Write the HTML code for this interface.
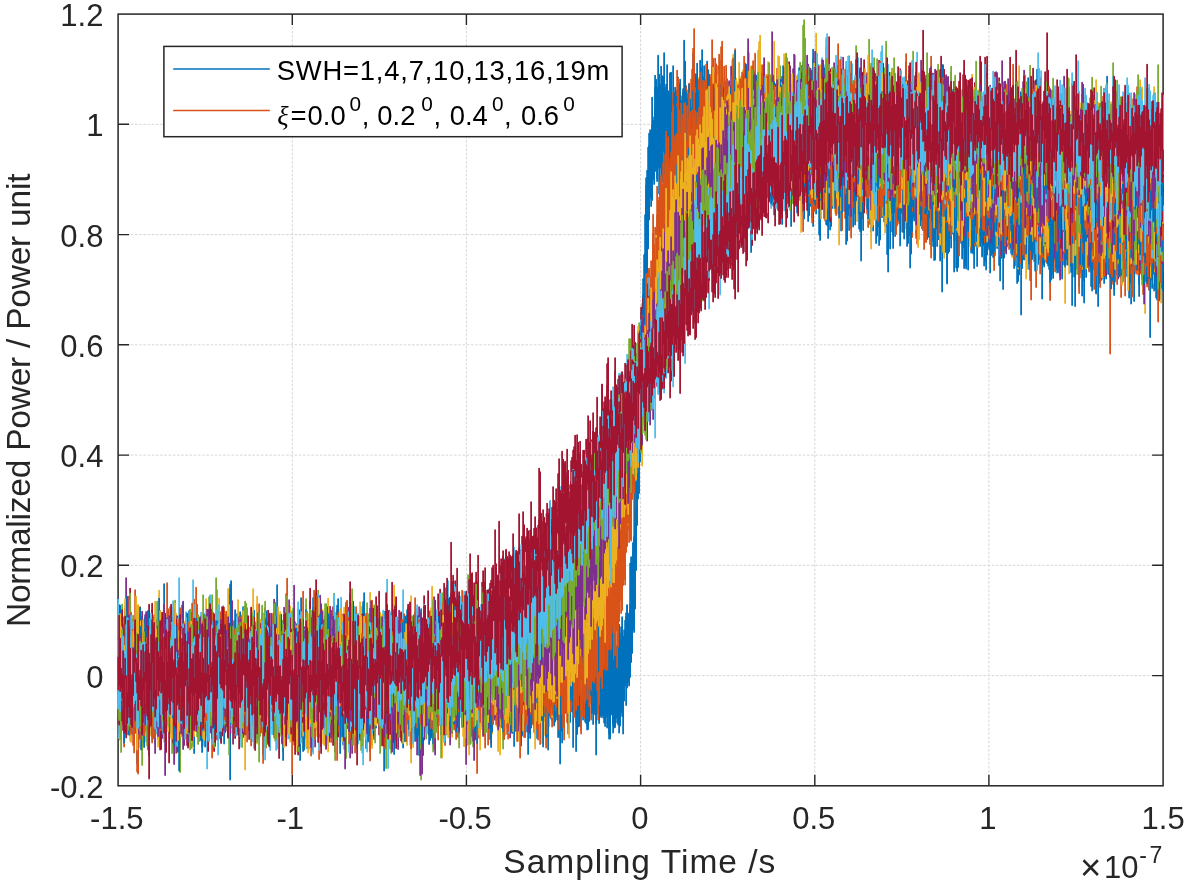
<!DOCTYPE html>
<html lang="en"><head><meta charset="utf-8"><title>Normalized Power vs Sampling Time</title>
<style>html,body{margin:0;padding:0;background:#fff}body{width:1187px;height:885px;overflow:hidden}</style></head>
<body>
<svg width="1187" height="885" viewBox="0 0 1187 885" style="display:block;font-family:'Liberation Sans',sans-serif">
<rect width="1187" height="885" fill="#fff"/>
<path d="M292.3 14.1 V785.8 M466.4 14.1 V785.8 M640.6 14.1 V785.8 M814.8 14.1 V785.8 M988.9 14.1 V785.8 M118.1 675.6 H1163.1 M118.1 565.3 H1163.1 M118.1 455.1 H1163.1 M118.1 344.8 H1163.1 M118.1 234.6 H1163.1 M118.1 124.3 H1163.1" stroke="#d6d6d6" stroke-width="1" stroke-dasharray="2.6 1.6" fill="none"/>
<path d="M292.3 785.8 v-11 M292.3 14.1 v11 M466.4 785.8 v-11 M466.4 14.1 v11 M640.6 785.8 v-11 M640.6 14.1 v11 M814.8 785.8 v-11 M814.8 14.1 v11 M988.9 785.8 v-11 M988.9 14.1 v11 M118.1 675.6 h11 M1163.1 675.6 h-11 M118.1 565.3 h11 M1163.1 565.3 h-11 M118.1 455.1 h11 M1163.1 455.1 h-11 M118.1 344.8 h11 M1163.1 344.8 h-11 M118.1 234.6 h11 M1163.1 234.6 h-11 M118.1 124.3 h11 M1163.1 124.3 h-11" stroke="#262626" stroke-width="1.4" fill="none"/>
<rect x="118.1" y="14.1" width="1045.0" height="771.7" fill="none" stroke="#262626" stroke-width="1.5"/>
<clipPath id="cp"><rect x="117.3" y="14.1" width="1046.6" height="771.7"/></clipPath>
<g clip-path="url(#cp)"><g fill="none" stroke-width="3.50"  stroke-linecap="round" transform="translate(118.1 14.1) scale(0.5)">
<path stroke="#0072BD" d="M0 1318v47m2 65v-65m2-20v45m2-19v-50m2-44v44m2 37v-136m2 13v146m2-94v-39m2 2v68m2 99v-132m2-46v202m2-82v-63m2 55v39m2-5v-119m2-6v150m2-89v-24m2-75v143m2 7v-131m2 31v112m2-4v-86m2 27v69m2-11v-132m2 35v103m2 21v-144m2 15v64m2-3v-58m2 14v45m2 26v-84m2-23v88m2 20v-170m2 96v141m2-42v-45m2-10v63m2-53v-81m2 27v41m2 2v-54m2-20v108m2-39v-35m2-59v168m2-19v-116m2-35v78m2 33v-137m2 112v80m2-57v-33m2 0v86m2-44v-111m2 29v149m2 7v-153m2-41v136m2 17v-88m2-52v148m2 15v-100m2-43v159m2-101v-23m2 7v78m2-24v-78m2 7v38m2 4v-96m2 60v157m2-15v-159m2-65v260m2-79v-165m2 65v89m2-22v-126m2 23v84m2 10v-87m2 17v116m2-32v-80m2-43v120m2-29v-36m2 0v102m2 12v-219m2 76v136m2-46v-46m2-71v152m2 26v-168m2 35v190m2-127v-88m2 10v64m2 36v-133m2 28v96m2 36v-98m2 11v54m2 23v-61m2-17v57m2-8v-58m2 13v94m2-75v-94m2 76v69m2-19v-47m2-14v51m2 67v-170m2 60v40m2 26v-143m2 18v54m2 89v-137m2 12v123m2-15v-144m2-4v138m2 19v-38m2-58v63m2-45v-76m2 48v68m2 102v-139m2-39v124m2 0v-71m2-45v175m2-63v-86m2-39v100m2 5v-70m2-44v86m2 7v-87m2-24v287m2-190v-136m2 78v50m2 30v-101m2 14v138m2-18v-156m2-14v123m2-15v-87m2 57v67m2 1v-88m2 2v105m2-20v-83m2 0v122m2-7v-123m2-54v150m2-23v-138m2 22v84m2 45v-82m2-25v95m2 47v-132m2-14v191m2-80v-54m2-116v195m2-111v-79m2 79v72m2 33v-75m2 15v85m2-21v-157m2 64v111m2-71v-88m2 19v37m2 59v-115m2-4v82m2 49v-71m2 30v72m2-30v-90m2-92v207m2-47v-62m2 16v97m2-62v-37m2-29v179m2-77v-110m2 7v92m2-54v-47m2 13v112m2-7v-82m2-45v78m2 0v-69m2-8v69m2-29v-20m2-5v79m2 25v-69m2-16v146m2-41v-164m2-6v80m2 70v-150m2 70v126m2 15v-158m2-6v129m2 0v-106m2 8v80m2-20v-72m2-15v121m2 6v-149m2 15v92m2-3v-71m2 27v98m2 1v-90m2-38v113m2-7v-72m2-42v108m2-3v-72m2-30v121m2-3v-92m2 1v50m2 67v-118m2 50v49m2 31v-173m2 22v72m2-22v-51m2-57v111m2 42v-57m2-73v89m2-17v-138m2 60v142m2-14v-109m2 47v80m2 13v-133m2 39v98m2-40v-94m2 14v57m2-10v-95m2 53v89m2 23v-103m2-26v51m2 44v-59m2-92v108m2 60v-145m2 67v110m2-46v-62m2-24v82m2-3v-176m2 56v121m2-55v-81m2 62v55m2 72v-115m2-54v170m2-18v-146m2-90v153m2 45v-77m2-2v84m2-2v-86m2-5v68m2 0v-56m2 29v92m2-78v-65m2-90v175m2 73v-113m2-19v50m2 11v-63m2-2v50m2-5v-61m2 14v131m2-4v-116m2-46v150m2-45v-93m2-12v52m2 154v-233m2 24v117m2 62v-179m2 59v135m2-53v-170m2 6v128m2 45v-99m2-80v129m2 51v-88m2-96v249m2-12v-81m2-102v163m2 13v-182m2 1v58m2 19v-90m2 21v87m2 46v-109m2-37v90m2 19v-92m2 22v63m2-30v-36m2-36v109m2-8v-105m2-16v173m2-50v-68m2 10v32m2-27v-70m2 14v74m2 49v-100m2 30v91m2-54v-58m2-21v69m2 99v-118m2 8v48m2 48v-171m2 68v35m2-15v-69m2 11v121m2-20v-76m2-1v73m2-61v-16m2 4v55m2-2v-38m2 3v66m2-17v-33m2-35v84m2 19v-96m2-31v43m2 65v-165m2 57v101m2-26v-163m2 5v197m2 0v-156m2-62v139m2 37v-87m2 12v67m2 94v-131m2-60v64m2 48v-109m2 30v86m2 10v-127m2 101v57m2-50v-49m2 10v109m2-16v-122m2-10v69m2-6v-47m2-28v97m2 55v-190m2 49v44m2-15v-57m2 31v108m2 5v-75m2 12v98m2-65v-57m2-66v127m2 50v-115m2-23v178m2-61v-93m2-4v118m2-62v-114m2 13v78m2 48v-164m2-6v112m2 58v-109m2 33v62m2 6v-105m2-13v71m2 132v-138m2-73v123m2-4v-77m2 18v76m2-54v-123m2 56v113m2 14v-84m2-42v56m2 8v-84m2-42v124m2 58v-105m2-4v56m2-4v-56m2 10v103m2-46v-78m2 47v77m2 22v-106m2-25v121m2 23v-105m2-31v73m2 7v-67m2-31v90m2 21v-120m2 50v155m2-66v-41m2-41v48m2-17v-54m2 17v116m2-81v-69m2-3v120m2 50v-169m2 38v112m2-24v-103m2 10v107m2 8v-122m2-51v136m2-24v-46m2-68v114m2-37v-61m2 20v59m2 20v-56m2-30v84m2-11v-177m2 103v65m2 65v-69m2-58v98m2 61v-127m2 17v48m2-17v-157m2-1v179m2-37v-44m2-16v107m2 8v-148m2 46v119m2-1v-42m2-113v134m2 32v-83m2-5v91m2-25v-45m2-48v89m2 3v-111m2 25v65m2 26v-72m2-108v117m2 74v-198m2 42v86m2 23v-36m2-69v151m2-47v-133m2-108v294m2-25v-83m2-72v196m2-99v-87m2 18v133m2-118v-40m2 27v83m2 6v-49m2-43v92m2-26v-87m2 14v116m2-1v-80m2-35v123m2 3v-127m2 11v121m2 8v-101m2-57v209m2-31v-131m2 14v117m2 2v-142m2-11v75m2-12v-82m2 35v102m2-1v-154m2 29v144m2-4v-214m2 3v155m2 0v-123m2 77v88m2-2v-106m2 7v43m2 59v-85m2-19v67m2 39v-91m2-42v131m2-43v-105m2 30v133m2-23v-74m2 36v61m2-50v-47m2-19v55m2 42v-94m2-31v126m2 12v-135m2 22v36m2 45v-45m2-22v35m2 3v-23m2-33v43m2 86v-119m2-139v205m2 45v-190m2 55v93m2 26v-171m2 70v76m2 17v-95m2 31v86m2-1v-56m2-111v143m2 14v-134m2-71v164m2-8v-46m2-16v52m2 45v-138m2 52v80m2 26v-99m2-17v68m2 23v-118m2 39v100m2-2v-111m2 16v89m2-30v-126m2 68v116m2 24v-126m2-31v69m2 7v-35m2-136v182m2-5v-67m2-18v105m2-10v-56m2-43v79m2-30v-106m2 42v229m2-148v-153m2-47v203m2 76v-164m2-17v141m2-13v-109m2 10v98m2 25v-145m2 36v83m2 16v-145m2 40v134m2-22v-104m2-28v125m2 76v-198m2 20v178m2-124v-73m2 10v31m2 23v-35m2 12v100m2 15v-148m2 46v93m2-70v-35m2-132v176m2 25v-142m2 37v134m2-20v-133m2 51v114m2 35v-170m2 1v58m2-9v-58m2 2v66m2-13v-66m2-21v74m2 29v-127m2-24v104m2-43v-51m2-64v118m2-15v-67m2-108v181m2-131v-122m2 19v110m2-110v-63m2-106v136m2-79v-59m2-24v78m2-48v-112m2-79v87m2-87v-116m2-1v54m2-12v-91m2-137v137m2 46v-70m2-117v130m2-130v-100m2 11v36m2 48v-99m2-68v121m2 11v-73m2 49v38m2-38v-81m2 45v42m2 53v-187m2 22v136m2 3v-131m2-31v106m2-2v-109m2 80v115m2-12v-125m2-50v101m2-50v-52m2-7v136m2-71v-52m2 13v120m2-20v-84m2-65v120m2 25v-106m2 55v75m2 9v-95m2 6v86m2-45v-71m2-24v119m2-20v-42m2-34v91m2-16v-111m2 17v96m2 7v-50m2 21v58m2-53v-40m2-44v71m2 66v-183m2 38v113m2 66v-95m2-28v130m2-16v-174m2 50v112m2 45v-142m2-9v87m2-31v-172m2 26v146m2 31v-76m2-2v61m2 38v-93m2-53v53m2 66v-133m2 76v52m2-26v-63m2 11v112m2-52v-107m2 37v141m2-42v-121m2 95v56m2-44v-58m2-9v88m2-59v-49m2 20v102m2 13v-68m2-40v153m2-12v-86m2-14v79m2 30v-151m2-49v107m2 36v-126m2 83v41m2-25v-61m2 49v62m2-1v-137m2 44v96m2-56v-135m2 42v109m2 32v-90m2-25v124m2 6v-140m2 36v107m2 63v-170m2-34v41m2 45v-73m2 11v101m2 2v-86m2-5v92m2 41v-145m2-22v164m2-11v-97m2-98v169m2-29v-112m2 48v44m2-44v-40m2 11v163m2-64v-78m2 21v83m2-4v-150m2 39v86m2 43v-121m2 16v54m2 50v-237m2 141v117m2-38v-97m2-60v118m2 38v-145m2 121v43m2-1v-70m2-15v43m2 66v-108m2 30v81m2 12v-79m2-89v92m2-16v-120m2-6v209m2-1v-123m2-2v99m2-15v-142m2 56v61m2 5v-62m2 16v54m2 6v-75m2-50v104m2-6v-82m2-24v145m2 48v-138m2-6v162m2-8v-166m2 49v71m2-30v-79m2 13v62m2-30v-44m2-17v79m2 8v-123m2 3v197m2-62v-37m2-139v150m2 11v-130m2 46v173m2-59v-114m2 0v72m2 59v-181m2 45v130m2-16v-104m2 30v74m2 43v-74m2-39v115m2-94v-63m2 63v99m2 13v-148m2-6v64m2 54v-134m2 6v123m2-54v-49m2-150v292m2-3v-163m2-10v190m2-47v-144m2 50v85m2-47v-66m2 45v78m2 33v-107m2-31v65m2 39v-49m2 32v62m2 17v-211m2-6v104m2 77v-83m2-9v103m2-39v-132m2 13v44m2 156v-178m2 39v150m2-98v-58m2-22v116m2-29v-146m2 56v99m2-28v-65m2-34v177m2 2v-84m2-60v170m2-39v-141m2 14v76m2-32v-126m2-16v110m2 27v-110m2 71v83m2 11v-92m2-5v119m2-26v-119m2-10v142m2-18v-164m2 46v119m2 65v-155m2-58v206m2-87v-79m2-4v112m2-18v-82m2 34v55m2-21v-49m2-30v73m2 102v-206m2 0v54m2 89v-131m2-30v156m2-5v-54m2-22v49m2 38v-83m2-104v184m2-32v-75m2-2v74m2 68v-105m2-22v81m2 7v-112m2 23v133m2-13v-63m2-48v56m2 9v-63m2 19v29m2 15v-55m2-16v105m2-26v-183m2 183v66m2 15v-180m2-27v174m2 31v-200m2 67v83m2-8v-81m2-22v186m2-28v-96m2 28v63m2-19v-101m2-98v158m2 0v-159m2 129v71m2-20v-75m2-49v153m2 7v-54m2-52v107m2 57v-182m2 32v185m2-124v-113m2-14v205m2-104v-63m2-35v114m2 18v-120m2 76v22m2 0v-69m2-1v27m2 4v-33m2-16v125m2-46v-140m2 28v83m2-16v-43m2-50v104m2 75v-133m2 20v153m2-48v-73m2-22v67m2-22v-29m2-44v90m2 74v-102m2-47v214m2-93v-57m2-40v85m2-5v-64m2-47v118m2-14v-76m2 23v102m2-62v-72m2-10v48m2 77v-80m2-40v111m2 1v-81m2-3v63m2 24v-135m2 51v91m2 17v-78m2 2v92m2-8v-159m2-53v176m2-49v-54m2-27v179m2-46v-45m2-95v179m2-46v-108m2-39v123m2-14v-108m2 68v91m2-9v-73m2-34v146m2 0v-145m2-3v191m2-101v-78m2-9v250m2-188v-65m2 28v110m2 36v-162m2 61v76m2 85v-315m2 134v67m2-46v-18m2 2v87m2 20v-88m2-105v165m2-27v-115m2 7v97m2 27v-50m2-88v161m2 63v-211m2 43v160m2-39v-188m2 73v36m2 20v-60m2-52v193m2-51v-90m2-19v179m2-5v-122m2-98v130m2 17v-134m2 6v209m2-99v-102m2 2v108m2 57v-186m2-10v189m2 9v-183m2-14v126m2 19v-60m2-2v77m2 62v-187m2 49v42m2 4v-65m2-25v102m2-46v-44m2-20v113m2-8v-101m2-45v230m2-10v-154m2 0v65m2 26v-26m2-73v134m2-5v-140m2-13v140m2 34v-97m2-11v65m2-19v-129m2-77v250m2-97v-112m2 80v86m2 48v-78m2-23v94m2 41v-129m2 3v157m2-45v-98m2-26v44m2 142v-207m2-22v166m2-46v-59m2-20v52m2 12v-74m2-52v160m2-23v-45m2 4v70m2 12v-74m2-77v143m2-37v-103m2-13v128m2-34v-36m2-9v113m2 59v-124m2-47v167m2-13v-168m2-21v103m2 166v-217m2-10v134m2-18v-113m2 4v110m2-64v-106m2 28v129m2-11v-107m2 1v132m2 17v-128m2 6v64m2-18v-35m2 35v36m2-1v-28m2-94v137m2-15v-76m2 62v59m2-5v-48m2-85v124m2-9v-108m2-16v68m2-14v-54m2 54v148m2-69v-70m2-175v250m2-81v-88m2 18v101m2-57v-100m2 34v118m2 60v-158m2-38v211m2-27v-180m2 18v167m2 25v-116m2-35v89m2-46v-92m2-15v165m2 33v-120m2-18v97m2-76v-35m2 25v139m2-51v-89m2 68v78m2-51v-54m2 5v36m2-8v-42m2-10v34m2 33v-139m2 94v72m2-36v-32m2-23v40m2 39v-102m2 10v62m2 25v-123m2 34v132m2 59v-124m2-99v148m2-40v-74m2 30v52m2-2v-60m2-109v188m2-3v-76m2 24v124m2-50v-49m2-92v93m2 33v-124m2 33v119m2-72v-34m2 32v39m2 21v-93m2 0v88m2 7v-43m2-69v126m2-18v-219m2 110v85m2 38v-80m2-28v74m2 17v-85m2 58v104m2-68v-56m2-6v62m2 16v-100m2-79v149m2 20v-144m2-55v215m2-40v-165m2 91v105m2-21v-51m2-3v66m2-5v-77m2 6v77m2-22v-69m2-54v96m2 64v-157m2 55v72m2 23v-168m2 23v79m2 37v-37m2-20v41m2-11v-57m2 27v65m2 19v-75m2-16v92m2-44v-84m2 46v33m2 33v-69m2-12v76m2-24v-62m2-14v68m2 92v-173m2-36v179m2 42v-72m2-33v68m2-51v-37m2-120v240m2-68v-100m2-19v109m2-6v-103m2 33v72m2 72v-181m2 70v28m2 29v-79m2 36v63m2-24v-61m2-8v99m2-9v-130m2 7v96m2 22v-38m2-5v53m2 19v-102m2-22v219m2-115v-74m2-62v93m2 17v-122m2 98v72m2-18v-61m2-66v142m2 21v-124m2 20v72m2 34v-116m2-1v104m2 10v-138m2-44v165m2-51v-43"/>
<path stroke="#D95319" d="M0 1342v58m2-41v-43m2 9v75m2 49v-181m2-29v104m2 31v-132m2-17v240m2-76v-117m2 51v111m2-31v-150m2 27v105m2-6v-59m2-53v86m2 32v-150m2 51v107m2-8v-57m2 9v77m2-25v-91m2-38v70m2 11v-83m2-19v147m2-19v-153m2-28v218m2-16v-120m2 22v59m2 0v-31m2-16v71m2 36v-129m2 54v80m2-55v-41m2-27v70m2 1v-99m2 33v42m2 59v-114m2 18v106m2 32v-157m2 7v160m2-142v-22m2-49v166m2-43v-101m2-32v202m2-109v-68m2-2v137m2-9v-87m2-12v74m2 14v-49m2-71v95m2 5v-56m2 17v83m2 30v-208m2-22v234m2-64v-89m2-23v99m2 91v-127m2-70v70m2 55v-110m2 47v42m2 30v-66m2 13v97m2-50v-149m2 51v183m2-27v-116m2-36v86m2 15v-91m2-46v109m2 29v-115m2-7v70m2 69v-120m2 17v105m2-12v-51m2-95v106m2 32v-125m2 45v84m2-16v-102m2-64v107m2 59v-168m2 73v108m2-14v-112m2 19v26m2 56v-130m2 125v61m2-18v-150m2-2v156m2 22v-84m2-17v150m2-75v-81m2-75v103m2 27v-84m2-7v121m2-2v-145m2-3v155m2 1v-144m2 46v122m2-12v-120m2 14v181m2-93v-105m2-46v123m2 0v-74m2-14v83m2-16v-91m2 66v52m2-21v-43m2-65v153m2 23v-192m2 1v100m2 0v-124m2-17v235m2-5v-137m2-23v98m2 49v-100m2-93v122m2-12v-88m2 80v96m2-46v-86m2-18v121m2-40v-65m2 22v65m2-32v-79m2 79v82m2-45v-146m2 40v67m2 2v-67m2-21v107m2 58v-137m2 67v37m2-2v-48m2-78v112m2 45v-112m2-40v40m2 67v-92m2 33v104m2-20v-156m2 62v65m2-4v-56m2-79v205m2-3v-108m2-28v137m2-126v-26m2 26v24m2-2v-133m2 79v105m2-23v-162m2 51v183m2-49v-124m2 42v102m2 10v-130m2 79v93m2-93v-98m2 21v71m2 94v-94m2-71v179m2-87v-25m2-23v50m2 7v-122m2 42v27m2 12v-63m2-7v145m2 21v-56m2-88v141m2-63v-68m2-42v94m2 17v-36m2-28v73m2 15v-108m2 26v86m2-46v-71m2 22v43m2-8v-30m2-136v137m2 50v-218m2 129v124m2 43v-115m2-69v176m2-73v-92m2 43v225m2-160v-100m2 35v106m2-42v-104m2 26v40m2 32v-84m2 70v63m2-35v-140m2 73v67m2 1v-59m2-34v100m2-18v-202m2 119v69m2-22v-79m2-25v123m2 35v-72m2-73v86m2 104v-198m2 58v149m2-140v-38m2 38v111m2-40v-133m2 27v121m2-71v-65m2-5v133m2 33v-171m2-23v212m2-43v-123m2-33v119m2-20v-54m2-32v93m2-5v-81m2 39v98m2 20v-169m2 107v55m2 20v-116m2 30v137m2-24v-98m2-133v221m2-25v-189m2 31v167m2-88v-69m2-20v100m2 102v-151m2 3v44m2 161v-215m2-80v130m2 33v-100m2 54v92m2 3v-100m2 2v84m2-59v-136m2 12v161m2-4v-147m2-32v177m2-42v-36m2-4v88m2-11v-103m2-1v64m2 98v-98m2 4v90m2-68v-78m2 5v51m2 151v-203m2 12v116m2-26v-126m2-50v160m2 7v-91m2 41v84m2-84v-35m2-17v95m2 51v-51m2-82v143m2-69v-117m2 27v52m2 28v-44m2 14v73m2-23v-105m2 46v59m2 24v-58m2-67v87m2-2v-35m2 24v36m2-1v-33m2-27v64m2-20v-42m2-5v24m2 42v-79m2 3v93m2 8v-108m2-15v78m2-9v-92m2 44v115m2-60v-81m2-26v150m2-71v-94m2 41v55m2 69v-124m2-42v95m2 78v-123m2-28v117m2-8v-178m2 69v43m2-43v-63m2 59v161m2-10v-108m2-37v164m2-4v-79m2-41v88m2 14v-198m2 40v164m2-65v-54m2 11v114m2-21v-116m2 12v93m2-34v-54m2-64v196m2 6v-165m2-72v137m2 58v-101m2 5v113m2 11v-76m2 14v34m2 36v-163m2 14v139m2-46v-75m2-41v125m2-2v-60m2-90v173m2 118v-252m2-3v76m2 61v-88m2-64v147m2-43v-66m2-6v126m2-48v-93m2-24v74m2 51v-51m2 10v81m2-80v-41m2 41v78m2-10v-148m2-11v114m2 54v-178m2 68v77m2 61v-188m2 69v92m2-34v-74m2 0v94m2 40v-170m2-1v99m2-3v-118m2 61v42m2 43v-121m2 40v66m2 9v-74m2-14v82m2 0v-109m2-19v165m2-17v-103m2-55v162m2-11v-122m2 53v124m2-104v-39m2 24v138m2-95v-131m2 82v46m2-18v-19m2-44v44m2-8v-27m2-127v267m2-3v-76m2-39v87m2-87v-63m2-4v96m2 83v-125m2 20v97m2-97v-143m2 90v36m2 122v-197m2 64v120m2-66v-104m2 87v33m2 64v-161m2-7v132m2 139v-211m2 2v97m2 6v-105m2 23v52m2 25v-126m2-6v91m2-30v-144m2 31v168m2 52v-179m2 22v122m2 1v-168m2-64v284m2-109v-134m2 78v70m2 10v-89m2-4v78m2 1v-98m2-1v86m2 16v-90m2 1v102m2-7v-100m2-1v66m2 20v-114m2 78v41m2 23v-170m2 12v104m2 121v-161m2 44v38m2 5v-103m2 36v64m2-35v-65m2 29v146m2-30v-153m2 20v99m2-38v-94m2-48v118m2 52v-85m2-51v97m2 27v-144m2 92v50m2-18v-31m2 14v57m2-13v-124m2 68v97m2-40v-124m2-90v140m2 35v-76m2 5v185m2-33v-136m2-13v71m2 41v-70m2-69v103m2 73v-109m2-53v107m2 52v-231m2 53v123m2 26v-106m2-14v143m2-65v-117m2 82v113m2-40v-60m2-93v109m2 3v-85m2 15v132m2-17v-126m2-22v170m2-37v-71m2-84v110m2 4v-131m2 78v98m2 2v-37m2-98v151m2-11v-160m2 38v50m2 16v-78m2 56v69m2-9v-133m2 57v104m2 13v-114m2 6v88m2 15v-97m2-9v121m2-37v-96m2 11v55m2 14v-104m2 21v85m2 9v-99m2-5v126m2-29v-63m2-18v116m2 20v-173m2 90v75m2-36v-102m2 61v35m2-35v-128m2-9v196m2-11v-130m2 8v69m2 43v-43m2-43v71m2 19v-58m2-14v96m2-32v-30m2-70v103m2-35v-73m2-13v152m2-22v-154m2 29v118m2-22v-73m2 4v28m2 68v-87m2-15v43m2 10v-66m2 50v45m2 56v-90m2-126v170m2-27v-162m2 95v127m2 0v-175m2-12v114m2 52v-75m2-57v57m2-47v-60m2 15v42m2 89v-103m2-19v171m2-25v-79m2-34v60m2 33v-259m2 61v111m2 25v-169m2 85v81m2-24v-87m2-41v41m2 48v-59m2-16v147m2-61v-85m2 20v52m2 62v-85m2-114v114m2-41v-67m2-49v150m2 23v-171m2-3v95m2-18v-104m2 70v115m2-50v-145m2-22v155m2-81v-86m2 40v73m2-12v-135m2 35v56m2 36v-149m2 3v35m2 22v-65m2-21v51m2 2v-51m2-83v130m2-2v-93m2-21v102m2-102v-86m2 37v152m2-60v-119m2-28v153m2-88v-73m2 7v82m2-11v-38m2-64v79m2-79v-64m2-77v161m2-17v-59m2-19v40m2-40v-93m2 42v63m2-26v-63m2-23v84m2-21v-165m2 127v102m2-6v-121m2-56v98m2-92v-108m2 36v84m2 21v-95m2-21v91m2-1v-120m2 5v74m2 40v-67m2-58v68m2 8v-49m2-15v32m2 10v-95m2-40v106m2 12v-93m2 35v54m2-7v-66m2-90v134m2-48v-41m2-53v155m2-39v-81m2-28v147m2-73v-164m2 95v152m2-68v-43m2-90v134m2-35v-51m2 44v36m2-36v-97m2 3v102m2 51v-168m2 4v57m2 70v-88m2-33v113m2-27v-67m2 67v40m2 62v-160m2 7v93m2 67v-136m2-43v144m2 24v-154m2-19v45m2 89v-126m2 34v92m2-3v-85m2-24v122m2-21v-107m2 9v94m2 56v-181m2 22v189m2-146v-90m2 51v67m2 51v-51m2-73v139m2-54v-136m2 1v197m2-63v-140m2-16v204m2-20v-200m2 102v29m2 38v-122m2 34v76m2 86v-156m2 32v39m2-2v-48m2-8v85m2 72v-160m2-70v151m2 1v-98m2 3v105m2-6v-56m2-36v88m2 44v-94m2-29v79m2 11v-103m2 46v30m2-24v-42m2-4v35m2 55v-76m2-10v129m2-56v-94m2-13v155m2-82v-61m2 50v74m2 9v-105m2 9v100m2 81v-190m2-65v259m2-93v-100m2-44v127m2-24v-62m2-27v139m2-40v-91m2 28v71m2 89v-152m2 24v17m2 2v-20m2-13v64m2 19v-164m2 36v53m2 113v-137m2 39v81m2-6v-65m2-71v155m2-46v-70m2-75v94m2 36v-101m2 34v54m2 63v-76m2-27v59m2 4v-65m2-3v89m2-3v-135m2 44v94m2-25v-53m2-27v96m2-59v-45m2 21v135m2-3v-184m2 86v43m2 25v-134m2-28v148m2 40v-155m2-2v110m2 18v-123m2 6v131m2 38v-124m2-48v206m2-52v-106m2-24v151m2-42v-81m2 5v42m2 8v-82m2-111v128m2 47v-81m2-10v86m2 27v-44m2-26v113m2-23v-124m2 54v75m2-28v-157m2 40v165m2 10v-130m2-1v146m2-54v-165m2 58v161m2-8v-84m2-51v110m2 95v-265m2 6v159m2-18v-125m2 50v89m2 14v-130m2 7v76m2-29v-47m2 21v104m2-1v-118m2 4v112m2 1v-107m2 16v141m2-77v-103m2 60v116m2-30v-217m2 83v116m2 0v-56m2-8v83m2-45v-43m2-54v66m2 29v-74m2 8v108m2 20v-103m2 8v74m2-8v-118m2 0v80m2 61v-162m2-38v125m2 93v-132m2-66v175m2-36v-123m2 9v127m2-34v-70m2-6v69m2 81v-142m2-81v240m2 1v-165m2 53v88m2-26v-77m2 14v87m2 2v-130m2-4v95m2 71v-77m2-108v131m2-8v-63m2-40v88m2-1v-138m2 38v199m2-120v-43m2 24v78m2-78v-94m2 18v152m2-4v-162m2 28v97m2 51v-160m2 91v73m2-70v-25m2-24v59m2 45v-140m2 61v123m2-25v-70m2-51v89m2 9v-97m2-63v164m2 34v-231m2 57v201m2-30v-172m2 60v118m2-13v-123m2-8v45m2 36v-46m2-50v83m2 74v-141m2-46v120m2 90v-173m2-11v158m2-31v-88m2-8v77m2 38v-130m2 53v19m2 56v-107m2 7v106m2-49v-52m2 44v22m2-15v-58m2-6v96m2 2v-104m2-11v113m2-3v-92m2-38v131m2 4v-110m2-21v134m2-1v-112m2 87v67m2 6v-250m2 41v193m2 12v-80m2-52v122m2-35v-52m2-9v122m2-27v-150m2-2v40m2 32v-71m2-22v79m2 133v-133m2-29v111m2-67v-75m2 13v156m2-10v-88m2-29v150m2-50v-62m2-10v44m2 34v-111m2-6v163m2-41v-87m2-29v79m2 1v-95m2-3v114m2-20v-83m2 23v61m2 17v-63m2-4v84m2-10v-54m2-98v98m2 26v-119m2 43v81m2 16v-151m2-74v289m2-37v-123m2-68v139m2 88v-239m2 84v142m2-20v-168m2 85v70m2-3v-120m2-8v105m2 66v-96m2 27v74m2-57v-79m2 79v50m2-39v-110m2-6v97m2 10v-109m2 50v53m2-11v-125m2 59v122m2 43v-196m2 13v143m2-61v-94m2 94v8m2 40v-45m2-6v83m2-4v-96m2-52v103m2 15v-137m2 34v98m2 69v-126m2-68v125m2-61v-104m2 42v146m2-88v-85m2-2v162m2-2v-174m2 41v140m2-31v-122m2-13v130m2-35v-91m2 59v53m2 92v-109m2-46v157m2-19v-157m2 56v82m2 21v-104m2-45v71m2 7v-73m2-53v158m2 0v-86m2-87v176m2 9v-234m2-10v222m2 1v-113m2-50v212m2-9v-46m2-56v105m2-32v-131m2 13v92m2 33v-102m2 42v66m2-2v-151m2-5v172m2-18v-146m2 60v170m2-30v-162m2 14v91m2 10v-106m2-4v119m2-27v-91m2 6v152m2-72v-78m2-8v91m2 1v-71m2-115v244m2-69v-42m2-15v30m2 85v-117m2 24v44m2 29v-123m2-2v96m2 17v-147m2 64v82m2 2v-66m2-52v133m2 54v-153m2-28v99m2 15v-131m2-24v81m2 114v-114m2 31v105m2-56v-112m2-31v163m2-23v-172m2 92v77m2 51v-106m2-46v107m2-11v-147m2 26v132m2 30v-86m2 85v61m2 39v-203m2-34v34m2 61v-94m2 54v105m2-10v-155m2-1v218m2-114v-43m2-48v88m2 49v-164m2 102v103m2-21v-113m2-59v160m2-8v-128m2 11v125m2-82v-67m2-9v55m2 17v-89m2-66v223m2 18v-108m2-47v241m2-183v-99m2-10v173m2-16v-37m2 11v81m2 23v-93m2 4v29m2 39v-100m2-16v101m2-13v-75m2-61v103m2 48v-170m2 134v47m2-19v-88m2-25v79m2-3v-78m2-3v83m2 3v-86m2 22v74m2-19v-31m2-35v53m2 71v-112m2 43v32m2-15v-112m2 95v37m2 1v-121m2 46v75m2 1v-87m2 3v36m2 45v-104m2-17v181m2-20v-103m2-33v111m2 11v-68m2-55v74m2 1v-101m2 61v54m2-1v-116m2 21v94m2 7v-76m2 1v77m2-32v-63m2 63v46m2 7v-55m2-14v58m2 31v-164m2 77v149m2-67v-101m2-19v55m2 70v-114m2-44v207m2-64v-160m2 54v59m2-8v-71m2-24v122m2 50v-120m2 42v54m2 14v-90m2-8v114m2-75v-136m2 78v302m2-225v-96m2-48v196m2 34v-228m2 64v173m2-14v-94m2-37v64m2 6v-155m2-15v159m2 34v-56m2-61v103m2 83v-164m2-43v62m2 62v-62m2-40v105m2-2v-111m2 67v55m2-26v-130m2 35v46m2 75v-163m2 128v41m2 18v-131m2 74v103m2-99v-39m2 14v59m2 13v-107m2-13v117m2-48v-54m2-14v63m2-25v-52m2 39v100m2-36v-156m2 68v67m2 98v-126m2 3v57m2 3v-80m2-60v172m2 16v-215m2 38v143m2 40v-97m2-22v55m2 41v-121m2 0v102m2 8v-119m2 34v36m2 24v-50m2-22v43m2 54v-108m2 12v194m2-87v-104m2-25v117m2-42v-23m2-78v107m2 15v-54"/>
<path stroke="#EDB120" d="M0 1313v45m2 90v-155m2 2v78m2-13v-140m2 41v24m2 20v-46m2 24v113m2-7v-183m2 36v123m2 35v-114m2-19v76m2 45v-64m2-51v180m2-85v-45m2-102v132m2 12v-52m2-57v110m2 63v-163m2 45v99m2-41v-52m2-110v160m2 10v-118m2 13v91m2 17v-110m2 68v122m2-58v-123m2-21v115m2 67v-217m2 61v161m2-97v-63m2-25v140m2-34v-150m2 55v111m2-44v-87m2 35v167m2-74v-108m2-6v127m2 8v-8m2-127v128m2 47v-137m2-4v131m2-36v-124m2-61v131m2-14v-112m2 58v68m2-3v-46m2 35v33m2-4v-58m2-5v72m2 41v-122m2-32v159m2-33v-103m2-18v73m2 42v-103m2-34v147m2 5v-126m2-40v119m2 63v-122m2-81v188m2 6v-88m2-40v108m2-18v-65m2-61v160m2-7v-114m2-24v168m2-13v-148m2-36v114m2 9v-62m2-47v122m2 42v-59m2-21v99m2-74v-75m2-24v107m2 12v-39m2 1v39m2-3v-144m2-13v210m2-30v-73m2-60v156m2-61v-79m2 37v38m2-2v-46m2 5v77m2-43v-123m2 70v130m2 58v-231m2-9v156m2 35v-122m2-75v99m2-3v-102m2 39v154m2-53v-55m2-26v53m2 95v-150m2 66v60m2 23v-86m2-2v83m2-80v-102m2-11v194m2 10v-94m2-25v104m2-48v-8m2 7v69m2-29v-132m2 28v61m2 0v-63m2-43v120m2 10v-160m2 46v96m2-6v-153m2 47v126m2-7v-220m2 13v144m2-9v-79m2 53v109m2-50v-38m2-54v123m2 12v-97m2 30v112m2-68v-118m2 67v130m2-38v-97m2 11v82m2 62v-165m2 17v139m2-14v-82m2-76v112m2-27v-67m2-31v98m2 28v-134m2 119v44m2-38v-97m2 3v102m2-38v-89m2 14v93m2-9v-75m2-37v229m2-117v-93m2 60v97m2-2v-62m2-54v61m2 43v-155m2 17v77m2 77v-119m2-43v156m2-61v-111m2 16v69m2 69v-69m2-66v104m2-4v-139m2 16v109m2 51v-110m2 18v98m2-74v-37m2 37v59m2-46v-63m2-75v146m2 58v-127m2-19v126m2-9v-161m2 79v82m2 0v-104m2-59v190m2-84v-98m2 12v109m2-3v-67m2-61v67m2 44v-78m2 13v71m2 21v-122m2 17v80m2 55v-105m2 8v86m2-17v-40m2-51v86m2 62v-126m2-23v72m2 6v-79m2 7v113m2 96v-200m2-25v98m2-35v-99m2 73v66m2 1v-108m2-22v204m2 41v-129m2-99v140m2 43v-140m2-24v102m2 10v-160m2 128v31m2 37v-208m2 142v78m2-78v-56m2-5v116m2 46v-234m2 69v125m2 21v-208m2 36v142m2-26v-100m2 47v102m2-28v-87m2-33v80m2-26v-78m2 16v131m2 29v-147m2 1v96m2 16v-120m2 35v82m2-6v-106m2-22v107m2-3v-142m2 14v110m2 90v-200m2 4v101m2 12v-70m2-36v132m2 5v-63m2 0v52m2-3v-87m2 2v113m2-22v-145m2 96v64m2-40v-126m2 119v77m2 27v-233m2 32v69m2 103v-132m2 78v58m2-58v-95m2 17v120m2 13v-185m2 59v61m2 23v-64m2-29v65m2 103v-171m2 51v112m2-57v-149m2-34v180m2 46v-200m2 70v60m2-34v-71m2 51v118m2-37v-62m2-94v135m2 45v-180m2 29v150m2-10v-108m2-48v145m2 27v-111m2-2v112m2-64v-46m2-139v206m2 28v-180m2 4v178m2-42v-99m2-14v161m2-33v-128m2 44v68m2 13v-86m2-50v137m2-10v-140m2 84v74m2 23v-92m2-26v116m2-45v-90m2-22v208m2-161v-45m2-1v141m2 18v-107m2 24v38m2-19v-86m2 27v62m2 109v-114m2-77v146m2-6v-139m2 21v125m2-27v-57m2-31v130m2-27v-89m2 3v19m2 21v-42m2-4v80m2 0v-38m2-127v170m2 30v-86m2-35v76m2-18v-80m2 10v141m2-52v-89m2-34v111m2-14v-89m2-4v213m2 36v-333m2 145v103m2 54v-197m2 35v109m2-53v-40m2-95v103m2 10v-77m2 65v39m2 0v-128m2 67v75m2-4v-54m2-87v181m2-17v-37m2-58v58m2-26v-16m2-56v69m2-20v-21m2-48v120m2 27v-163m2 11v112m2 39v-93m2-88v143m2 99v-173m2 36v29m2 54v-79m2-28v96m2-67v-24m2-71v155m2 8v-151m2 99v29m2 14v-84m2 9v110m2 35v-120m2-60v132m2-46v-155m2 68v135m2-125v-27m2-6v107m2-26v-71m2 15v128m2-9v-101m2-17v177m2-33v-206m2 37v160m2-40v-97m2-35v107m2 61v-97m2-55v75m2-3v-45m2-10v37m2 75v-160m2 88v63m2 76v-139m2 14v145m2-98v-54m2 23v42m2 1v-87m2-5v60m2 5v-131m2 45v168m2 25v-238m2 34v165m2-68v-96m2 38v125m2-27v-106m2-24v121m2-2v-99m2 31v100m2-89v-85m2 46v74m2-5v-48m2-55v112m2 78v-175m2 22v110m2 32v-115m2-112v154m2-7v-80m2 25v126m2-57v-114m2 15v102m2 23v-126m2 14v134m2 9v-181m2-2v101m2-30v-135m2 82v112m2 58v-140m2 56v133m2-71v-137m2 33v182m2-103v-135m2-6v177m2-13v-101m2-27v131m2 38v-182m2 74v52m2 40v-160m2-56v117m2 64v-78m2-40v105m2-16v-117m2 70v93m2 17v-120m2-34v103m2 6v-175m2 19v152m2-13v-84m2-6v77m2 74v-179m2-17v155m2-46v-128m2 56v80m2 49v-217m2 21v194m2 2v-191m2 49v122m2 9v-51m2-104v104m2 29v-106m2 31v88m2-52v-35m2-35v65m2 64v-87m2-40v127m2 59v-108m2-45v128m2-111v-73m2 44v31m2 14v-78m2-43v161m2-36v-62m2 15v29m2 98v-104m2-6v92m2-34v-60m2-73v188m2 27v-162m2 11v150m2-9v-141m2-65v133m2-4v-122m2 79v58m2-23v-69m2-13v115m2 1v-153m2-3v181m2-70v-115m2 90v69m2 1v-107m2 10v58m2 15v-173m2 18v107m2 39v-145m2 36v74m2 12v-96m2 45v86m2-65v-48m2-63v229m2-22v-95m2-56v104m2-2v-94m2-5v105m2 3v-60m2-66v170m2-122v-119m2 76v104m2-60v-50m2-22v90m2 39v-158m2 7v162m2-29v-167m2 75v41m2 9v-96m2 66v115m2-65v-41m2-105v123m2 17v-81m2 25v47m2-35v-55m2-19v146m2-125v-71m2 71v111m2-24v-122m2-56v138m2 89v-230m2 21v121m2-55v-85m2 23v167m2-118v-78m2-37v169m2-89v-85m2 56v70m2 45v-150m2 28v159m2-124v-55m2-30v121m2-47v-42m2 22v62m2-52v-14m2-64v97m2-52v-80m2 30v101m2-28v-136m2 7v161m2-97v-45m2-1v98m2-55v-80m2-41v91m2-26v-73m2 22v54m2 13v-58m2-42v83m2 22v-111m2 18v76m2-43v-23m2-17v40m2-7v-42m2-48v85m2 26v-108m2-39v190m2-92v-84m2 18v61m2-4v-114m2 36v28m2-1v-71m2-18v97m2-10v-144m2 72v95m2 30v-148m2-39v158m2-105v-87m2 22v98m2 13v-119m2-22v67m2 9v-82m2-7v81m2-9v-109m2 14v106m2 27v-160m2-6v130m2-40v-125m2 104v72m2-47v-87m2-67v81m2 20v-75m2 50v100m2-71v-145m2 38v121m2-47v-151m2 0v146m2 41v-130m2-8v70m2-7v-55m2-64v112m2 14v-99m2-21v147m2-28v-122m2-66v92m2 71v-113m2 68v43m2-4v-195m2-1v123m2 19v-102m2-36v79m2 20v-45m2-111v152m2-34v-100m2-41v113m2-17v-65m2 49v115m2-38v-139m2 54v95m2 44v-157m2-29v168m2-63v-84m2-54v191m2-61v-70m2-83v115m2 29v-127m2-16v117m2-6v-30m2-10v55m2 1v-178m2 67v88m2-2v-104m2-4v81m2 42v-204m2 133v76m2-61v-168m2 42v82m2 67v-71m2-16v64m2 22v-105m2-23v139m2-56v-111m2 10v60m2 52v-179m2 111v107m2-7v-120m2 5v124m2-39v-129m2 56v59m2 36v-119m2-70v165m2 0v-78m2-21v69m2-42v-39m2-17v78m2 53v-90m2-15v71m2 77v-166m2 3v128m2 8v-105m2-70v140m2-39v-53m2 13v43m2-21v-33m2 33v48m2 37v-158m2 55v74m2-1v-68m2-74v128m2-18v-107m2 53v66m2 11v-101m2-9v161m2 41v-129m2-83v140m2 2v-83m2-52v161m2 57v-172m2 11v166m2-112v-59m2-65v91m2 45v-141m2 37v106m2-59v-85m2 54v120m2 9v-84m2-38v65m2 49v-155m2 66v58m2-4v-66m2-68v76m2 53v-66m2 40v49m2 4v-118m2 4v114m2-4v-146m2 47v56m2 72v-142m2-32v130m2-16v-122m2 72v114m2-62v-106m2-26v125m2 41v-67m2-124v194m2-18v-130m2 35v151m2-61v-76m2-62v136m2 17v-82m2-145v241m2 37v-176m2 17v192m2-31v-128m2 16v69m2-28v-92m2 92v58m2-31v-126m2 4v113m2 15v-162m2-55v203m2 30v-194m2 41v201m2-74v-106m2 1v66m2 17v-79m2-24v116m2 35v-48m2-36v48m2-16v-78m2-61v134m2 45v-116m2-2v154m2-36v-120m2 115v31m2-31v-35m2-93v145m2-14v-138m2 41v92m2-51v-40m2-14v57m2 51v-111m2-31v117m2 65v-76m2-23v81m2 83v-164m2-79v222m2-74v-116m2-12v95m2 5v-107m2-13v85m2 5v-83m2-127v250m2 7v-90m2 5v62m2 0v-69m2 39v81m2 85v-190m2 48v69m2-57v-88m2 7v94m2-41v-41m2 9v68m2 28v-86m2-28v116m2 35v-135m2-17v72m2 18v-49m2 22v76m2 9v-133m2 35v138m2 9v-193m2 21v84m2 33v-116m2-28v201m2 62v-201m2 5v124m2-48v-166m2 56v57m2 85v-116m2-44v181m2-38v-115m2-47v87m2 15v-33m2-57v189m2-81v-114m2 81v35m2 0v-59m2-32v62m2 13v-43m2-46v65m2 29v-42m2-110v159m2-27v-126m2 82v91m2-52v-44m2-65v165m2-63v-44m2-16v111m2-13v-50m2-30v60m2 83v-147m2 28v128m2-45v-105m2 31v148m2-25v-175m2 15v181m2 61v-225m2 7v46m2 83v-125m2 25v21m2 35v-95m2-22v93m2 48v-56m2-26v26m2 59v-99m2-9v96m2-4v-92m2 49v58m2-58v-73m2 6v81m2 24v-73m2-38v101m2 69v-161m2-6v121m2 2v-99m2-48v76m2 19v-46m2 9v31m2 24v-74m2-7v115m2-15v-91m2 39v52m2 26v-99m2-24v65m2 56v-95m2-13v80m2 14v-96m2 54v52m2-13v-147m2 12v193m2 22v-246m2 80v121m2-27v-85m2 49v102m2-31v-93m2-22v105m2-21v-75m2-9v67m2-62v-70m2 23v73m2 47v-63m2 63v76m2-46v-149m2 13v22m2 154v-154m2 28v90m2-45v-75m2-31v140m2-49v-62m2-1v99m2 50v-153m2-53v149m2-2v-59m2 27v43m2-21v-121m2 63v32m2 22v-35m2 4v64m2 31v-103m2 6v83m2-2v-142m2 26v79m2 4v-90m2-6v112m2 5v-108m2 100v91m2-91v-76m2 15v108m2-19v-170m2-10v148m2 21v-96m2-6v131m2 3v-109m2-52v99m2 5v-73m2-49v112m2 11v-55m2 14v47m2 10v-115m2 79v70m2 39v-167m2 8v101m2 52v-90m2-41v57m2 4v-146m2 45v104m2-22v-78m2 8v120m2-21v-188m2 89v92m2-7v-105m2 0v137m2 11v-158m2-40v119m2 70v-101m2 63v88m2-27v-81m2-39v58m2 43v-147m2-3v175m2-112v-60m2-28v187m2 38v-206m2 44v68m2-53v-29m2-79v123m2 114v-228m2 66v202m2-41v-96m2-87v156m2 0v-116m2 0v88m2-76v-62m2 52v113m2-4v-118m2-7v113m2 31v-115m2-33v87m2 60v-118m2 76v29m2 11v-109m2-13v102m2 24v-66m2-124v145m2-11v-38m2-68v179m2-30v-82m2-51v132m2-3v-107m2 6v106m2-15v-84m2 22v69m2 25v-104m2-41v168m2-37v-117m2-16v138m2 15v-158m2 39v165m2-12v-138m2-55v159m2-39v-84m2-40v118m2 13v-63m2-11v79m2-21v-112m2 1v110m2 16v-129m2 8v135m2 15v-49m2-58v99m2-7v-106m2 37v177m2-19v-248m2 0v176m2 8v-128m2-6v159m2-50v-142m2 21v92m2 24v-159m2 74v89m2-39v-46m2-18v68m2 39v-52m2-87v154m2-19v-103m2-21v116m2-8v-100m2-4v102m2 33v-66m2-87v157m2-56v-133m2 103v53m2 63v-179m2 29v115m2-24v-64m2-94v145m2 22v-101m2-42v198m2-40v-141m2 51v69m2-22v-74m2 54v73m2 16v-79m2-143v143m2 18v-59m2-8v185m2-44v-118m2 4v74m2 11v-34m2-91v131m2 128v-204m2-44v78m2-14v-64m2 6v130m2 31v-87m2-47v63m2 2v-80m2 12v59m2 31v-65m2-9v69m2-8v-59m2-26v82m2-35v-72m2 59v63m2 2v-52m2-53v161m2-28v-201m2 38v192m2 2v-219m2 63v66m2-64v-28m2 17v100m2 34v-128m2-47v128m2 18v-127m2 37v75m2 29v-77m2 1v83m2 0v-103m2-43v109m2 100v-147m2-95v239m2-52v-126m2 42v54m2-54v-96m2 1v62m2 61v-73m2 20v32m2 30v-91m2 18v56m2 11v-32m2 0v48m2 5v-116m2-37v147m2 25v-159m2 100v46m2 4v-66m2-71v180m2-37v-114m2 23v71m2-7v-69m2-18v99m2-31v-51m2 21v35m2-16v-85m2 68v94m2-35v-102m2-14v209m2-69v-66m2-8v129m2-54v-82m2-88v206m2-35v-178m2 119v112m2-75v-61m2-156v178m2 52v-129m2 53v64m2 29v-133m2 64v48m2 27v-188m2 7v126m2-5v-67m2 31v70m2 54v-104m2-1v73m2-40v-62m2 32v93m2-17v-124m2 2v131m2 99v-226m2 58v69m2-57v-49m2-12v75m2 4v-45m2-25v136m2-136v-44m2 0v183m2 9v-142m2-11v130m2-87v-64m2 9v82m2 11v-92m2 53v82m2-3v-42m2-207v207m2 113v-220m2-33v173m2-41v-90"/>
<path stroke="#7E2F8E" d="M0 1273v116m2 50v-139m2 22v82m2-41v-86m2-73v158m2 8v-65m2 26v38m2 10v-72m2-3v107m2-21v-113m2 16v48m2 70v-191m2 1v150m2 11v-85m2-33v96m2 33v-183m2 109v93m2-67v-44m2-16v72m2 48v-109m2 4v107m2-16v-113m2-13v80m2-31v-88m2-31v160m2 0v-60m2-39v74m2 57v-130m2 6v124m2 50v-112m2-68v126m2 99v-206m2 48v96m2-96v-83m2-49v179m2-25v-42m2-98v172m2-12v-35m2-32v72m2 42v-84m2-44v93m2-25v-115m2 11v70m2 55v-106m2 89v91m2-72v-49m2-28v83m2-37v-51m2-13v167m2-100v-85m2 79v76m2 1v-121m2-68v125m2 17v-168m2 13v99m2 78v-78m2 22v91m2-37v-52m2-43v90m2 17v-137m2-5v130m2 15v-121m2 1v60m2 71v-105m2-130v260m2-109v-103m2-5v167m2 9v-130m2-21v139m2-37v-42m2-33v94m2-5v-68m2-43v150m2-18v-116m2 24v63m2 2v-166m2 28v126m2 23v-158m2 70v87m2 15v-121m2-11v163m2-18v-130m2 33v51m2-1v-54m2-2v77m2 14v-123m2 22v105m2-24v-81m2 19v77m2 0v-84m2 45v71m2-29v-37m2-122v183m2-70v-61m2 61v101m2-96v-93m2 48v96m2-2v-79m2-36v124m2 31v-201m2 4v171m2 30v-225m2 61v82m2 60v-175m2 33v159m2 0v-92m2 7v26m2-26v-86m2 9v120m2-11v-133m2 54v23m2 15v-83m2 18v165m2-11v-133m2 8v124m2-51v-111m2 20v92m2 37v-146m2-32v32m2 68v-81m2 31v106m2-37v-77m2 10v50m2 80v-135m2 28v122m2-40v-120m2-4v170m2-23v-127m2-16v125m2 21v-160m2 26v83m2 43v-139m2 7v42m2 58v-59m2-48v144m2-2v-127m2 0v80m2-1v-74m2-9v58m2 31v-83m2-37v121m2 69v-166m2-26v28m2 127v-167m2-6v96m2 18v-103m2 37v54m2 75v-75m2-8v53m2 25v-114m2-31v123m2 72v-180m2 26v168m2-55v-75m2-51v82m2 0v-59m2-66v66m2 42v-91m2-5v94m2 89v-124m2 12v17m2 2v-57m2 18v73m2-10v-86m2-18v151m2-70v-104m2 26v117m2-22v-132m2-12v109m2 35v-89m2-2v53m2 123v-123m2-57v138m2-43v-75m2 57v63m2-13v-114m2 15v90m2-21v-108m2 51v72m2 2v-51m2-71v94m2 20v-60m2-22v63m2 59v-127m2 28v38m2-6v-45m2 6v45m2 30v-49m2-36v73m2-6v-56m2-1v56m2-29v-88m2-26v78m2 77v-99m2-54v251m2-135v-132m2 15v105m2 138v-156m2-42v119m2 46v-105m2-76v99m2 2v-92m2 92v72m2-52v-15m2-82v82m2-14v-14m2-15v35m2 17v-85m2-12v135m2-93v-54m2 37v48m2 12v-66m2-37v171m2-58v-68m2-25v96m2 9v-89m2 1v86m2 3v-73m2-93v99m2 39v-87m2 3v74m2-3v-55m2-24v86m2 47v-151m2 63v103m2-74v-113m2 113v45m2-18v-57m2-49v133m2 4v-139m2 10v132m2-64v-45m2 45v159m2-37v-158m2-2v89m2-50v-91m2 26v98m2 60v-159m2 18v134m2-2v-134m2 46v48m2 0v-168m2 18v147m2 38v-173m2 76v96m2-59v-53m2-77v140m2-45v-47m2-15v44m2 59v-65m2 26v43m2-2v-60m2 0v178m2-131v-98m2-32v181m2-21v-59m2-44v44m2 4v-91m2 7v105m2 58v-105m2-2v102m2-79v-57m2 50v91m2-16v-161m2 49v101m2-77v-60m2 2v107m2-1v-20m2-101v166m2-24v-51m2-40v157m2-51v-125m2 0v112m2-46v-51m2 48v76m2-47v-35m2-43v114m2 30v-138m2 56v65m2-8v-140m2 30v47m2 0v-46m2 40v77m2 0v-166m2 58v127m2 15v-128m2 3v78m2 6v-141m2 22v150m2-44v-142m2-44v134m2 92v-210m2 24v102m2 83v-178m2 5v148m2 13v-163m2-3v196m2-16v-154m2-36v154m2 76v-125m2-108v173m2-49v-140m2 63v150m2-11v-127m2 2v74m2 61v-82m2-84v200m2-131v-77m2 37v75m2-4v-125m2 29v45m2 100v-143m2 55v34m2 27v-134m2-11v145m2 18v-44m2-22v59m2-59v-44m2-42v84m2 49v-110m2-53v216m2-11v-162m2 33v89m2 2v-92m2-7v127m2-92v-18m2-26v43m2 41v-60m2 19v103m2-31v-63m2-97v111m2 74v-110m2 44v90m2-32v-96m2-58v179m2-21v-124m2 8v131m2-81v-52m2-60v158m2-31v-79m2 17v101m2-40v-77m2-8v130m2-42v-96m2-6v101m2-10v-17m2-43v115m2-61v-95m2 91v77m2-59v-64m2-101v229m2-106v-100m2 100v42m2 13v-23m2-97v101m2-17v-143m2 139v103m2-94v-137m2 69v88m2-9v-115m2 34v58m2 90v-116m2-99v178m2-14v-133m2 16v55m2 7v-83m2 83v83m2-30v-107m2-30v156m2-47v-128m2 43v132m2-65v-73m2 51v115m2-52v-44m2-77v98m2 9v-31m2-46v56m2-4v-91m2 68v70m2 36v-121m2 12v76m2 58v-180m2 35v137m2-24v-103m2-16v99m2-40v-80m2-9v97m2-4v-71m2 8v51m2 20v-101m2 33v66m2-19v-95m2-8v228m2-94v-81m2-23v85m2 28v-77m2-28v63m2-32v-57m2 21v132m2-5v-84m2-50v69m2 38v-121m2 72v105m2-35v-82m2-91v114m2 53v-132m2 15v112m2 1v-86m2-61v130m2-70v-53m2-9v58m2 138v-149m2-12v113m2-29v-74m2-41v100m2-5v-99m2-3v63m2 54v-65m2-88v201m2-15v-136m2 5v96m2-15v-75m2 1v91m2-5v-97m2 27v108m2-53v-111m2-14v119m2-17v-91m2-10v113m2-48v-77m2-51v162m2 21v-126m2 61v100m2-100v-68m2 3v108m2 50v-122m2 40v82m2 16v-171m2-4v140m2-17v-125m2-46v114m2 100v-156m2 26v134m2-10v-179m2-24v175m2-38v-131m2 30v103m2-48v-34m2-51v118m2 6v-81m2-85v202m2-94v-36m2-7v17m2 23v-84m2 38v45m2-2v-45m2-21v99m2 5v-91m2-2v75m2 24v-54m2-73v81m2-12v-46m2 0v60m2 5v-52m2-61v75m2 16v-97m2 0v104m2 3v-58m2-112v147m2 22v-203m2 127v99m2-68v-49m2-66v155m2-48v-101m2 38v45m2-8v-50m2-82v163m2 8v-79m2-52v86m2-3v-85m2-67v165m2-52v-186m2 144v39m2 1v-35m2-52v97m2 15v-121m2 16v150m2-112v-88m2 39v86m2-53v-58m2-41v119m2-11v-73m2-36v46m2 92v-132m2 16v60m2-39v-54m2 35v40m2 35v-100m2-86v134m2 30v-78m2 50v28m2 2v-209m2 102v66m2 47v-106m2 69v58m2-18v-125m2-23v23m2 21v-96m2-4v70m2 13v-59m2-28v28m2 113v-206m2 73v111m2-25v-96m2-55v126m2-28v-151m2 34v57m2 137v-158m2-5v78m2-17v-33m2-120v137m2-11v-98m2-33v130m2-11v-122m2 13v100m2 27v-89m2 21v51m2-7v-125m2 46v92m2-21v-99m2 2v63m2 24v-36m2-62v92m2-30v-93m2-3v73m2 8v-95m2-60v111m2 7v-52m2-89v166m2-63v-115m2 57v96m2 5v-69m2 5v63m2-63v-70m2 27v70m2-15v-116m2-31v102m2 17v-52m2-67v99m2 135v-164m2-28v112m2 82v-134m2-107v170m2-96v-10m2-71v74m2 29v-114m2 18v30m2-30v-10m2 8v58m2-52v-68m2 5v168m2-105v-58m2 8v129m2-78v-41m2-33v56m2 6v-64m2 24v186m2-116v-52m2-42v82m2 28v-102m2-3v49m2-15v-46m2-29v49m2 4v-84m2 8v103m2 54v-131m2 1v54m2-54v-38m2 26v132m2-91v-95m2-15v135m2 22v-186m2 80v89m2-82v-31m2 9v89m2 4v-100m2 33v32m2 57v-68m2-44v109m2-30v-185m2 58v110m2 20v-134m2 82v52m2-2v-105m2-36v192m2-78v-98m2-26v54m2 45v-113m2 63v46m2-18v-23m2-90v90m2 76v-139m2 24v108m2-47v-96m2 47v133m2-63v-90m2 16v16m2 34v-94m2 2v81m2-24v-95m2-7v87m2 74v-194m2 21v113m2 31v-87m2-44v127m2-7v-98m2 0v99m2 28v-62m2-2v21m2 37v-54m2 7v47m2-7v-110m2-15v147m2-14v-140m2-5v134m2 29v-150m2-24v32m2 83v-139m2 91v123m2-42v-95m2-81v133m2-2v-74m2 1v77m2-34v-115m2 23v162m2-34v-88m2-61v152m2 30v-107m2-32v119m2-47v-53m2 37v108m2-33v-66m2 4v92m2 28v-174m2-56v211m2-37v-121m2-70v110m2 39v-39m2-27v67m2 45v-135m2-24v125m2-11v-75m2-15v60m2 72v-112m2-16v135m2-17v-87m2-30v97m2-56v-67m2 28v118m2 1v-137m2 49v61m2-53v-61m2 4v140m2 8v-161m2 77v76m2 5v-72m2-100v164m2 6v-186m2 48v110m2 21v-114m2-55v187m2-28v-56m2-62v62m2 24v-40m2 28v59m2 11v-87m2-38v114m2-23v-141m2 81v54m2 2v-115m2 30v112m2-22v-32m2-14v76m2-56v-18m2 1v73m2-6v-122m2-5v121m2-32v-157m2 95v76m2-52v-134m2 18v238m2 63v-187m2-20v168m2-50v-113m2-37v87m2 25v-49m2 12v77m2-26v-214m2 66v166m2-26v-73m2-6v40m2 52v-52m2-64v98m2-43v-78m2 58v100m2-35v-170m2 53v154m2-1v-118m2-14v99m2 35v-109m2-31v31m2 64v-95m2 69v46m2 48v-141m2-51v166m2 12v-114m2-18v123m2-20v-128m2-39v190m2-18v-197m2 34v166m2-9v-91m2 47v74m2-50v-158m2 56v186m2 9v-95m2-52v97m2 76v-173m2-73v144m2 19v-75m2-39v178m2-145v-96m2 24v54m2 128v-182m2 1v153m2 30v-201m2 87v66m2-42v-75m2-5v186m2-114v-65m2 61v21m2 42v-67m2-16v41m2 14v-57m2-43v149m2-20v-74m2-58v122m2 41v-156m2-12v87m2 55v-145m2 83v111m2-84v-98m2 52v87m2 1v-105m2 44v36m2 35v-53m2-62v115m2 0v-65m2-31v43m2 33v-85m2 30v87m2 37v-180m2-17v58m2 23v-108m2 29v168m2-56v-112m2 76v91m2-23v-35m2-77v92m2 8v-83m2-15v101m2 50v-196m2 21v196m2-80v-111m2 69v23m2 55v-65m2-62v63m2 14v-53m2 7v56m2-4v-160m2 116v83m2 50v-121m2 8v87m2 17v-51m2-67v67m2-27v-46m2 36v30m2 7v-47m2-34v95m2-33v-49m2 30v75m2-13v-96m2 23v69m2-11v-120m2-68v189m2 14v-97m2 4v149m2-90v-84m2 27v51m2 30v-54m2 21v64m2-5v-153m2-15v147m2-16v-237m2 139v80m2 45v-112m2 16v75m2-22v-132m2 6v152m2-18v-80m2-41v89m2 91v-143m2 16v147m2-41v-163m2 52v132m2-18v-139m2 23v131m2-56v-155m2 4v154m2 50v-121m2-28v170m2-140v-86m2 86v72m2 35v-180m2 30v96m2 40v-49m2 8v92m2-65v-89m2 18v115m2-13v-76m2-71v83m2 16v-40m2-36v85m2 65v-120m2-26v81m2 43v-93m2 6v105m2-38v-116m2-36v106m2 51v-145m2 53v122m2 5v-183m2 37v66m2 142v-260m2 56v109m2 11v-60m2-65v88m2-36v-10m2-51v74m2 107v-128m2-28v128m2-89v-57m2-39v116m2 9v-93m2 93v73m2-41v-124m2 3v122m2 61v-110m2-2v96m2-1v-64m2-26v104m2-22v-165m2 8v182m2-8v-111m2 47v54m2 59v-100m2-103v113m2-62v-75m2 35v45m2-16v-143m2 92v112m2 98v-146m2-68v226m2-74v-163m2 85v103m2-42v-116m2-47v203m2 12v-157m2-9v107m2-12v-105m2-20v109m2-1v-70m2 7v111m2 92v-171m2-49v143m2-33v-84m2-16v71m2 97v-210m2 110v138m2-78v-90m2-64v113m2 56v-93m2 30v62m2-37v-156m2 66v97m2 60v-146m2-34v157m2-65v-64m2-22v120m2-44v-44m2 44v36m2-12v-104m2-31v142m2 14v-86m2 35v69m2-7v-59m2-60v126m2-53v-92m2-6v105m2 26v-41m2-44v87m2 16v-109m2 27v109m2-99v-77m2 63v43m2 80v-123m2-11v119m2-17v-194m2-6v179m2-3v-96m2 80v69m2-21v-114m2-81v129m2 9v-36m2 19v97m2-29v-83m2 38v47m2 44v-106m2-23v66m2 5v-76m2 4v24m2 67v-67m2-36v75m2-18v-55m2 12v61m2 44v-90m2-9v99m2-52v-49m2 47v31m2 54v-99m2-12v106m2 51v-173m2 9v180m2-88v-129m2-81v173m2 24v-98m2-67v236m2-192v-87m2 64v149m2-53v-47m2 8v101m2-52v-21m2-37v48m2 78v-161m2 49v37m2 33v-157m2 117v81m2 4v-76m2-58v112m2 53v-135m2-62v94m2 83v-174m2-30v173m2-13v-145m2-28v163m2 39v-208m2 63v159m2-59v-64m2-23v80m2 21v-59m2-2v38m2 63v-88m2-53v69m2 1v-72m2 55v26m2 11v-95m2-43v99m2 77v-79m2-41v107m2-11v-190m2 34v159m2 17v-119m2-72v208m2-45v-107m2 51v80m2 52v-111m2 25v73m2-49v-76m2 9v154m2-88v-29m2-84v84m2 8v-65m2-6v181m2 0v-220m2 12v114m2 7v-42m2-56v95m2 9v-88m2-40v104m2 101v-137m2 27v118m2-59v-178m2 92v82m2-44v-93m2-4v148m2 9v-143m2-3v124m2-86v-28m2 21v80m2-1v-71m2-48v99m2 49v-151m2 27v120m2-63v-92m2 40v101m2-43v-90m2 20v88m2-15v-75m2-25v79m2 22v-49m2-40v184m2-64v-69m2-17v43m2 106v-189m2-47v252m2-122v-124m2 6v291m2-113v-91m2-9v120m2-56v-50m2 35v56m2 30v-110m2-26v108m2 18v-175m2 84v10m2 23v-77m2-27v113m2 29v-112m2 42v57m2-1v-135m2 37v140m2-36v-43m2-48v93m2-12v-88m2 33v92m2 25v-63"/>
<path stroke="#77AC30" d="M0 1239v91m2 69v-162m2 10v110m2 119v-205m2-90v145m2 63v-153m2 54v110m2-46v-64m2 14v64m2 41v-54m2-49v64m2 62v-150m2 9v139m2-44v-171m2 35v191m2-77v-152m2 152v55m2 12v-152m2 23v100m2-81v-40m2-41v109m2 13v-36m2-64v158m2-95v-116m2 111v182m2-167v-27m2 22v35m2-1v-50m2-13v62m2 41v-69m2-22v115m2-52v-106m2 78v16m2-16v-121m2 74v34m2-11v-21m2-71v101m2 55v-168m2 91v119m2-40v-108m2-60v154m2 44v-98m2 7v82m2-1v-103m2-45v99m2-41v-50m2 0v52m2 30v-72m2-64v164m2-15v-122m2 74v36m2-16v-76m2 32v107m2-21v-89m2 8v120m2-89v-62m2-5v136m2-5v-220m2 66v160m2-26v-91m2-59v167m2 12v-123m2-47v147m2-13v-77m2 23v66m2-16v-81m2-36v60m2 27v-70m2 38v83m2-64v-32m2-30v95m2 44v-104m2 15v148m2 13v-171m2-51v213m2-117v-99m2 44v35m2 13v-62m2 22v55m2 95v-191m2 49v79m2-19v-54m2-46v113m2 12v-135m2 6v136m2-1v-68m2-33v160m2-115v-96m2-12v124m2-15v-118m2 37v95m2-50v-78m2 32v118m2-48v-94m2-71v191m2 1v-67m2 33v77m2-30v-99m2-10v104m2 24v-120m2-26v70m2 39v-62m2 7v54m2 73v-204m2 62v44m2 30v-85m2 10v138m2-50v-80m2 6v61m2-60v-39m2 8v118m2-33v-113m2 55v117m2-20v-101m2 54v48m2-32v-59m2-16v119m2-16v-141m2 56v61m2 73v-151m2 25v124m2-60v-70m2-41v97m2 83v-206m2 40v120m2-34v-59m2-10v52m2 18v-101m2 5v93m2-20v-34m2-15v38m2-32v-49m2 13v119m2-9v-95m2 18v70m2 5v-109m2 42v41m2 53v-59m2-34v49m2 32v-81m2 21v40m2 13v-114m2 16v168m2-11v-136m2-1v56m2 2v-45m2 7v69m2 61v-160m2-14v55m2 64v-87m2-36v109m2 77v-178m2 54v58m2 14v-76m2-77v116m2 61v-123m2-19v120m2 26v-155m2 14v69m2-16v-132m2-10v184m2 28v-136m2-9v98m2 30v-118m2-64v188m2-34v-64m2-19v113m2 1v-130m2 29v78m2-71v-60m2 42v124m2-78v-87m2 22v82m2 16v-93m2-12v98m2-54v-112m2 100v91m2-2v-40m2-13v75m2-10v-62m2-42v94m2 14v-104m2 6v94m2 8v-66m2-55v55m2 27v-106m2 9v162m2-62v-60m2-91v196m2-7v-143m2 23v85m2 14v-34m2-69v81m2-33v-124m2 74v103m2 64v-144m2-19v96m2 22v-241m2 126v116m2-17v-101m2-20v122m2 18v-71m2-49v168m2-78v-67m2-82v141m2 14v-144m2 86v32m2 30v-75m2-47v110m2 23v-58m2-24v47m2 75v-202m2 15v157m2 11v-163m2-14v140m2-64v-102m2-52v224m2-5v-76m2-59v141m2-5v-99m2-16v111m2 10v-61m2-103v122m2 38v-120m2 84v71m2 10v-154m2-30v58m2 70v-97m2-35v222m2-72v-144m2-26v142m2-21v-9m2-50v67m2 1v-52m2-26v81m2-2v-97m2 69v44m2-13v-80m2-24v144m2-69v-35m2-53v112m2 9v-90m2 55v33m2 47v-83m2 6v78m2-59v-108m2 98v40m2 11v-45m2-57v106m2-37v-83m2 31v55m2-12v-93m2 1v94m2 27v-118m2-31v180m2-36v-109m2 47v116m2-50v-103m2 14v139m2-24v-97m2-2v100m2 21v-111m2-49v96m2 67v-151m2 20v69m2 0v-41m2-82v88m2 20v-90m2-45v144m2 33v-104m2-7v132m2-40v-100m2 0v202m2-55v-129m2 37v94m2-5v-132m2 7v99m2-53v-66m2 38v112m2 2v-77m2-9v31m2-13v-36m2-49v103m2-7v-72m2-7v68m2 32v-119m2 24v168m2-14v-197m2 16v146m2-5v-136m2 19v116m2-27v-142m2 19v130m2 49v-103m2 1v50m2-28v-65m2-43v107m2-2v-150m2 11v151m2-13v-34m2-16v59m2 66v-141m2 52v84m2 116v-224m2 3v157m2-127v-125m2 6v156m2 23v-98m2-41v55m2 39v-55m2-19v111m2-61v-76m2 76v80m2-51v-137m2 0v189m2 34v-152m2-53v94m2-14v-77m2 13v104m2 30v-90m2-3v72m2-28v-31m2-58v105m2 4v-51m2 5v83m2-29v-54m2 15v60m2-26v-94m2-20v190m2-78v-112m2 31v110m2 15v-134m2-2v83m2 43v-80m2-2v59m2 9v-51m2-41v101m2 10v-127m2 9v106m2-43v-101m2-31v147m2 41v-100m2 4v15m2-5v-31m2 9v100m2-7v-156m2 47v89m2 20v-83m2-39v176m2-105v-126m2-89v200m2-11v-153m2 99v54m2 29v-64m2 6v154m2 29v-185m2-15v116m2-27v-97m2-44v216m2-109v-87m2 27v84m2-24v-93m2 45v121m2-13v-172m2 36v157m2-151v-32m2 32v44m2 39v-89m2 89v26m2 26v-81m2-40v42m2-10v-112m2 63v131m2-68v-113m2 49v94m2 24v-133m2 1v123m2-57v-73m2 30v109m2-62v-55m2-1v98m2 3v-111m2 30v96m2-54v-63m2-30v96m2-13v-50m2-58v165m2 5v-196m2 40v153m2-57v-91m2 15v47m2-26v-44m2-4v98m2 24v-89m2-34v151m2 5v-171m2 34v110m2-9v-99m2 43v55m2 0v-82m2-6v110m2-52v-67m2-21v91m2 65v-108m2-74v149m2 1v-122m2 41v97m2 1v-107m2-26v38m2 31v-104m2-24v86m2 103v-115m2-103v178m2 34v-98m2-8v147m2 7v-190m2 0v74m2 60v-80m2-13v123m2-123v-94m2 18v97m2 21v-149m2 6v168m2 2v-164m2 40v100m2-25v-72m2-13v80m2 52v-94m2-109v109m2 105v-201m2 104v63m2-63v-90m2 52v51m2 74v-128m2-24v100m2-7v-112m2 23v73m2-5v-112m2 19v123m2-72v-73m2 7v69m2 25v-54m2-78v148m2-35v-92m2 43v126m2-59v-106m2-6v84m2 12v-81m2-37v94m2 8v-103m2-75v205m2-67v-115m2 19v101m2 16v-150m2 51v86m2 19v-101m2 50v77m2-77v-63m2-104v241m2-94v-108m2 42v119m2-41v-93m2 35v70m2 11v-142m2 27v60m2-25v-40m2-56v96m2 126v-183m2 1v179m2 5v-186m2-22v124m2-44v-33m2-57v73m2 4v-153m2 148v66m2-6v-129m2 16v69m2 3v-144m2 61v83m2-59v-67m2-6v125m2 0v-122m2-25v65m2 1v-62m2 4v101m2 4v-125m2 66v78m2-1v-154m2 48v111m2-97v-70m2-1v195m2-7v-135m2-22v96m2-50v-59m2-88v166m2 9v-96m2-58v100m2 14v-118m2-31v155m2 19v-25m2-100v104m2-7v-112m2-67v176m2 30v-118m2-32v114m2-8v-87m2-78v140m2 5v-76m2-23v48m2 13v-53m2 13v58m2-8v-89m2-7v54m2 17v-58m2 15v74m2-5v-150m2-8v206m2 48v-145m2 8v64m2 4v-141m2-39v40m2 37v-159m2 75v100m2 0v-92m2-6v42m2 32v-79m2 9v102m2-60v-140m2 27v119m2 0v-104m2-51v179m2-53v-132m2 66v54m2 8v-160m2 65v127m2 36v-212m2 31v66m2-11v-44m2-60v158m2 12v-175m2 33v126m2-72v-82m2 2v137m2 16v-183m2 40v174m2-97v-103m2 53v32m2 24v-74m2-35v131m2-51v-101m2 26v78m2 19v-66m2-80v170m2-22v-144m2 6v88m2 2v-60m2-92v135m2-20v-106m2 80v28m2-26v-43m2-100v103m2-26v-66m2 59v92m2-59v-55m2 55v77m2-45v-74m2-42v68m2-24v-45m2 10v88m2 4v-75m2-49v178m2-64v-106m2-49v158m2 87v-179m2-15v122m2-20v-119m2 10v134m2-2v-93m2-33v95m2-6v-95m2-13v89m2-20v-69m2 17v40m2-40v-112m2 90v40m2 50v-90m2 4v22m2 29v-55m2-68v128m2 1v-26m2-117v140m2-58v-94m2 34v77m2 20v-67m2 16v82m2 12v-108m2-16v48m2 1v-64m2 45v46m2-7v-108m2 34v48m2 30v-132m2 12v106m2 44v-146m2-47v196m2 11v-231m2 107v79m2-61v-110m2-18v61m2 21v-97m2 21v96m2 26v-102m2 27v89m2-1v-105m2 6v89m2 15v-165m2-2v211m2-95v-53m2-45v112m2-18v-40m2-31v118m2 33v-180m2 15v102m2 99v-139m2-36v138m2-138v-32m2-3v90m2 24v-90m2 12v47m2 4v-78m2 19v85m2-46v-28m2 3v74m2-19v-58m2-58v88m2 148v-264m2 59v61m2-15v-59m2-22v103m2-5v-140m2 0v142m2 18v-208m2 34v111m2 13v-97m2 19v82m2 49v-129m2 29v107m2-34v-122m2 93v58m2-19v-62m2 29v70m2-32v-195m2 32v133m2 73v-125m2 52v27m2-21v-94m2-33v102m2-19v-73m2 5v125m2-10v-68m2 35v26m2-9v-167m2 15v109m2-5v-66m2 66v102m2 42v-125m2-44v56m2 26v-117m2 6v218m2-33v-211m2 102v36m2 0v-24m2-40v68m2-27v-42m2-3v103m2-35v-86m2-16v91m2 66v-140m2 79v63m2-63v-119m2 26v91m2 17v-83m2 5v84m2-23v-90m2 4v71m2 61v-134m2-73v113m2 76v-98m2-1v52m2 75v-128m2-58v134m2-62v-94m2 94v70m2-5v-129m2 28v56m2-12v-93m2 62v81m2-8v-144m2 81v41m2 103v-143m2-36v80m2 43v-122m2 4v108m2 50v-194m2 60v126m2-24v-35m2-9v75m2-75v-95m2 45v124m2-3v-104m2-25v135m2-8v-68m2-111v132m2-10v-116m2 85v15m2 46v-61m2-29v58m2-11v-51m2 36v94m2-69v-70m2-26v144m2-45v-38m2 33v79m2-25v-79m2-60v146m2-3v-41m2-112v112m2 29v-119m2-17v35m2 90v-129m2 18v92m2 38v-113m2-1v64m2 34v-119m2 14v52m2 69v-69m2-62v136m2 6v-154m2-93v243m2-11v-116m2 38v49m2-35v-63m2 63v30m2 26v-68m2-87v126m2 32v-69m2-75v188m2-13v-186m2 49v73m2-2v-78m2 52v40m2 16v-134m2 25v66m2 20v-75m2 0v65m2 43v-124m2-3v113m2-9v-50m2 3v73m2-52v-157m2 52v137m2 30v-176m2 63v56m2 0v-35m2 2v78m2 1v-155m2-35v157m2 29v-79m2 27v43m2 6v-85m2 6v66m2 30v-130m2-26v181m2 17v-217m2-24v172m2 29v-108m2 0v105m2 34v-141m2 4v66m2 67v-95m2-47v155m2-46v-59m2-38v94m2-42v-34m2-41v70m2 88v-134m2 40v79m2 4v-86m2-51v104m2 32v-167m2 78v111m2-40v-177m2 38v115m2 2v-104m2 20v65m2-14v-55m2-13v138m2 34v-98m2-38v74m2 28v-125m2 36v155m2-73v-105m2-6v69m2 31v-150m2 67v115m2 0v-71m2-70v91m2 86v-149m2 11v124m2 5v-79m2-49v60m2 42v-90m2-12v92m2-27v-86m2 40v105m2-1v-75m2-33v82m2-3v-182m2 47v151m2-22v-121m2-36v147m2 4v-62m2 27v43m2-32v-160m2 15v122m2 14v-69m2 22v120m2 7v-126m2-4v79m2-13v-51m2-2v55m2-2v-69m2-57v187m2-12v-103m2-19v90m2 14v-72m2 25v102m2-95v-115m2 104v62m2-8v-84m2-18v110m2 10v-85m2-15v58m2-3v-71m2-13v208m2-138v-130m2 58v90m2 12v-88m2 58v42m2-33v-59m2 19v59m2 55v-82m2-40v85m2-61v-60m2 14v120m2 67v-214m2 1v165m2 9v-104m2-40v91m2 80v-113m2-63v105m2 53v-128m2-27v204m2-129v-164m2 131v68m2 43v-130m2-10v159m2-16v-172m2 18v119m2-25v-86m2-9v174m2-5v-171m2-28v110m2 36v-129m2-44v103m2 61v-74m2 12v82m2-24v-71m2 3v29m2 35v-62m2-9v157m2-83v-57m2 49v48m2-48v-71m2 25v56m2 62v-205m2 8v113m2 73v-177m2-27v186m2-16v-58m2-93v191m2-49v-126m2 126v53m2-9v-106m2-11v34m2 32v-89m2 66v82m2-71v-44m2-10v60m2 41v-94m2 1v71m2 62v-137m2 60v74m2-36v-132m2 35v85m2 17v-98m2 3v46m2 18v-67m2 22v120m2-12v-101m2-144v144m2 13v-96m2-7v117m2 6v-117m2 117v55m2-18v-166m2 64v76m2 56v-130m2 1v122m2-29v-62m2 22v48m2-28v-74m2 21v37m2 63v-105m2 11v73m2-4v-77m2-88v160m2 38v-122m2 1v81m2 52v-200m2 35v109m2-38v-66m2 66v32m2 70v-151m2-16v195m2-42v-157m2-11v160m2-46v-128m2-16v113m2 84v-106m2-62v169m2-121v-72m2 5v165m2 15v-84m2-90v90m2 65v-122m2-65v184m2 28v-164m2 15v131m2 4v-90m2-30v68m2 8v-47m2 37v73m2-16v-33m2-32v63m2-35v-169m2 6v239m2-76v-44m2 19v62m2 2v-128m2 42v75m2 17v-67m2-53v133m2-23v-123m2 21v73m2 24v-24m2-31v95m2 43v-150m2-17v61m2 7v-75m2-51v159m2 33v-168m2 47v76m2-15v-46m2-18v95m2 4v-118m2 25v67m2-4v-68m2-32v118m2 21v-112m2-7v134m2-58v-70m2-25v46m2 82v-150m2 31v156m2-27v-92m2-48v120m2-21v-60m2-27v35m2 130v-136m2 10v28m2 45v-97m2 47v83m2-3v-94m2-12v80m2-13v-67m2 19v65m2 20v-158m2 35v68m2 34v-167m2 28v130m2 37v-61m2-93v136m2 19v-90m2-61v61m2-15v-78m2 34v96m2 45v-118m2-64v180m2-37v-94m2 31v119m2-24v-52m2-18v29m2 21v-151m2 64v48m2 96v-187m2 49v111m2-73v-77m2-21v60m2 16v-79m2 72v119m2-57v-87m2-21v186m2-12v-61m2 4v37m2-15v-108m2-20v140m2-7v-119m2 10v158m2-26v-68m2-52v54m2 41v-186m2 7v219m2-42v-118m2 36v90m2-30v-85m2-24v71m2 18v-40m2-73v155m2-46v-131m2 48v181m2-79v-112m2 55v61m2 64v-83m2-38v70m2-30v-18"/>
<path stroke="#4DBEEE" d="M0 1287v90m2-23v-86m2-2v117m2-16v-78m2-11v129m2-82v-61m2-10v65m2 68v-93m2-66v158m2-43v-94m2 0v102m2-1v-90m2 1v88m2 63v-96m2-4v131m2-70v-28m2 3v93m2-8v-203m2 34v164m2-31v-183m2 111v88m2-24v-41m2-39v58m2 0v-79m2-49v111m2-14v-83m2-28v138m2 34v-117m2-2v177m2-98v-108m2-33v142m2-58v-56m2 20v157m2-114v-95m2 93v96m2-27v-129m2 6v103m2 106v-210m2-2v67m2 79v-79m2-10v132m2-132v-90m2 24v145m2-5v-88m2-4v76m2-12v-72m2-58v120m2 52v-131m2 10v108m2-30v-88m2 13v112m2-3v-49m2-46v110m2 40v-153m2-9v87m2-21v-83m2 5v109m2-22v-72m2 2v85m2 5v-88m2 12v74m2 44v-115m2 12v59m2 37v-122m2-40v89m2-17v-71m2 55v72m2 7v-94m2-23v72m2 80v-93m2 2v76m2-23v-33m2-48v63m2-31v-48m2 0v116m2 11v-113m2-47v94m2 58v-122m2 23v74m2 1v-90m2 15v102m2-12v-122m2 39v30m2-2v-114m2 88v35m2 48v-81m2-112v142m2 38v-63m2 9v48m2-43v-46m2-24v52m2-17v-90m2-43v162m2 90v-90m2-41v117m2-19v-44m2-16v60m2 15v-159m2 55v110m2 22v-272m2 85v138m2-20v-40m2-97v168m2-12v-137m2 43v95m2 17v-111m2-16v106m2 66v-162m2-20v150m2-3v-122m2 9v39m2 30v-98m2-31v114m2 79v-106m2-61v83m2 2v-55m2-8v81m2 15v-103m2 86v22m2 16v-110m2 27v54m2 53v-105m2 47v63m2-55v-94m2-17v91m2 45v-203m2 41v173m2-94v-70m2 45v69m2 44v-121m2-5v144m2 9v-191m2 1v132m2-34v-100m2-26v156m2-27v-113m2 45v48m2 9v-98m2-3v138m2 31v-110m2-50v128m2 39v-146m2 15v81m2 8v-76m2-10v124m2 18v-87m2-73v143m2-52v-52m2-8v38m2 95v-95m2-14v129m2-7v-126m2-5v31m2 53v-133m2-33v61m2 43v-85m2-21v125m2 5v-117m2 87v113m2-21v-108m2-27v114m2-60v-63m2-35v140m2-12v-78m2 11v76m2 43v-56m2-11v38m2 0v-85m2-71v164m2 25v-200m2 102v134m2-6v-192m2-27v99m2 2v-85m2 35v108m2-53v-96m2 71v36m2 2v-55m2-21v68m2-38v-57m2 18v52m2 45v-76m2-18v123m2 73v-209m2 25v114m2-43v-37m2-40v72m2 29v-100m2-87v101m2 21v-39m2 38v82m2 8v-160m2 39v119m2-11v-125m2-18v135m2 25v-97m2-38v81m2-23v-94m2-1v182m2-61v-72m2-7v88m2 56v-147m2-2v97m2-27v-45m2-16v62m2 28v-83m2 18v156m2-99v-69m2-29v48m2 144v-167m2 17v38m2 88v-127m2-35v77m2 104v-198m2 28v131m2 35v-130m2-35v143m2-92v-48m2-21v126m2-37v-107m2 18v133m2-23v-38m2-91v131m2 33v-232m2 72v85m2 48v-67m2-50v88m2 31v-133m2 6v180m2-57v-171m2 102v47m2 5v-45m2-99v141m2-43v-57m2-10v144m2 11v-164m2 111v49m2-33v-140m2 53v105m2 4v-138m2-42v212m2-32v-136m2 21v168m2-4v-137m2-107v234m2-30v-122m2-33v175m2-50v-71m2 40v42m2 10v-72m2 11v91m2 9v-208m2 43v167m2-67v-46m2-15v75m2 12v-112m2-13v172m2-42v-90m2-56v118m2 39v-88m2 5v26m2 53v-127m2 17v132m2-103v-23m2-14v37m2 20v-138m2 20v104m2 22v-46m2-87v163m2 20v-143m2 3v174m2-45v-85m2-12v134m2-18v-163m2 22v109m2 26v-76m2-3v32m2 35v-76m2-21v142m2-37v-86m2 6v42m2 15v-73m2 30v70m2-20v-28m2-34v50m2 56v-263m2 67v201m2-22v-145m2-44v91m2 42v-136m2 66v72m2 61v-116m2 22v109m2-9v-84m2-103v148m2-20v-92m2 45v105m2-22v-90m2 19v109m2-25v-206m2 82v76m2 35v-121m2-60v183m2-27v-98m2-18v58m2-3v-51m2 18v29m2 92v-92m2-87v169m2 26v-145m2 35v70m2 15v-152m2 22v114m2 6v-121m2 46v63m2 4v-80m2-38v38m2 21v-77m2 21v128m2 11v-61m2-34v73m2-7v-122m2 43v83m2-28v-61m2-36v147m2 11v-216m2 143v87m2-48v-125m2-15v129m2-2v-47m2-78v162m2 8v-142m2-22v68m2 64v-102m2 24v92m2-76v-44m2 3v79m2 2v-165m2 65v119m2-4v-196m2 52v72m2 1v-107m2 90v140m2-18v-133m2-15v144m2-31v-125m2-11v73m2 11v-31m2-39v151m2 80v-242m2 34v109m2-2v-225m2 149v71m2 35v-107m2-51v94m2-24v-106m2-31v110m2 14v-126m2 37v126m2 12v-115m2-25v136m2-7v-110m2 17v112m2-13v-153m2 73v41m2 53v-118m2-60v127m2 78v-203m2 5v206m2-69v-60m2-5v83m2-31v-151m2 108v21m2 29v-112m2 4v138m2 0v-120m2 32v71m2-43v-82m2 37v56m2-7v-33m2-30v55m2-6v-132m2 55v76m2 32v-113m2-16v93m2 2v-101m2 31v105m2 5v-119m2 3v119m2-25v-87m2 5v87m2-75v-61m2 12v237m2-144v-88m2-5v111m2 58v-136m2 12v70m2-32v-31m2-43v63m2 52v-93m2-17v110m2-7v-146m2 3v111m2-4v-62m2-14v131m2-13v-100m2-4v46m2 37v-78m2-38v89m2 32v-144m2 36v86m2 17v-32m2-56v61m2-3v-152m2 76v55m2 20v-139m2 6v194m2-120v-53m2 27v45m2-44v-28m2 20v119m2-33v-99m2-11v103m2-41v-47m2-55v102m2 12v-88m2-27v113m2-70v-74m2 36v114m2-11v-107m2 0v166m2-32v-81m2-128v235m2-56v-19m2-74v85m2-20v-156m2 5v201m2-78v-115m2-15v221m2-38v-165m2 48v79m2 1v-40m2-84v84m2 102v-124m2-60v157m2-9v-108m2-13v55m2-27v-67m2-2v81m2 79v-149m2 44v66m2-55v-34m2-85v111m2 34v-139m2-32v178m2 25v-168m2 51v109m2-83v-140m2 101v88m2-14v-81m2 12v73m2-9v-76m2-117v161m2 28v-127m2-9v81m2 46v-106m2-2v97m2-13v-77m2-39v113m2 3v-69m2-12v199m2-139v-119m2 29v101m2 33v-125m2-4v88m2-34v-50m2-43v74m2 46v-92m2 5v85m2-77v-51m2 33v122m2-56v-102m2 56v94m2 33v-204m2 37v83m2 20v-149m2-19v190m2 9v-215m2 64v71m2 7v-69m2-18v83m2-3v-25m2-85v85m2-24v-104m2-20v185m2-61v-102m2 65v58m2-43v-13m2-48v59m2 52v-102m2-43v192m2-135v-43m2-52v85m2 45v-97m2-11v67m2 53v-107m2 33v70m2-59v-54m2-2v75m2 18v-176m2 82v104m2-18v-165m2-8v142m2-1v-119m2 17v85m2 76v-178m2 0v157m2 28v-211m2 64v35m2 40v-60m2-38v137m2-14v-178m2 25v68m2 0v-154m2-18v173m2 37v-110m2-19v96m2-6v-117m2-13v90m2 70v-143m2 4v79m2-25v-65m2-68v120m2 77v-102m2 18v56m2 16v-133m2 2v122m2-19v-148m2-23v110m2-33v-121m2 33v134m2 2v-83m2-2v91m2-32v-69m2-63v235m2-31v-163m2 3v84m2-25v-57m2-99v137m2 72v-143m2 3v81m2-33v-39m2-23v30m2 68v-68m2-20v88m2 27v-73m2-58v128m2-64v-73m2 43v37m2-17v-139m2 103v108m2-13v-94m2-130v226m2-23v-102m2-65v121m2-14v-73m2-23v94m2 72v-151m2-100v184m2-3v-172m2 21v110m2-10v-111m2 27v104m2 12v-83m2-24v131m2-29v-117m2 44v105m2-77v-76m2 6v136m2-43v-98m2 32v75m2 9v-99m2-44v56m2 158v-158m2-68v125m2 22v-148m2 15v148m2-35v-81m2-35v78m2 13v-225m2 59v108m2 48v-112m2 7v129m2 1v-77m2-51v51m2 22v-88m2-22v103m2 81v-180m2 84v82m2-41v-145m2 15v124m2-4v-129m2 83v27m2-24v-167m2 57v134m2-6v-81m2-18v127m2 14v-95m2-51v58m2 90v-148m2-7v89m2-18v-73m2 19v101m2-21v-36m2-108v142m2 8v-140m2 49v92m2-38v-92m2 2v58m2-11v-117m2 43v78m2 32v-76m2-1v64m2-12v-71m2 32v76m2 55v-147m2-32v88m2 25v-60m2-27v141m2-18v-201m2 69v93m2-1v-102m2-8v90m2 9v-121m2 34v77m2 10v-39m2-22v106m2-44v-117m2 26v65m2-28v-30m2 30v76m2 8v-112m2-6v99m2-2v-92m2 2v106m2-92v-55m2-70v79m2 91v-96m2 43v64m2-64v-111m2 39v134m2 11v-97m2 24v73m2 2v-169m2 47v118m2-74v-114m2 89v63m2 12v-77m2 5v78m2-56v-72m2 14v49m2 33v-118m2-25v179m2 12v-119m2-42v69m2 47v-95m2-46v115m2 65v-219m2 112v81m2-3v-75m2-57v130m2 11v-48m2-50v51m2-42v-34m2-1v74m2 47v-69m2-47v109m2-50v-166m2 60v53m2 59v-98m2 50v87m2-23v-58m2-70v127m2-2v-60m2-4v157m2-9v-146m2-80v134m2 31v-104m2 2v51m2 31v-31m2-104v169m2-21v-123m2-37v147m2 89v-232m2 24v94m2-10v-107m2 28v121m2-15v-79m2-56v96m2-14v-131m2 60v104m2 19v-102m2-1v97m2 50v-120m2-22v105m2-26v-79m2-9v147m2-61v-139m2 1v124m2 150v-206m2-21v131m2 55v-123m2 1v59m2 48v-163m2 43v84m2-33v-139m2 86v158m2 10v-257m2-27v152m2 14v-123m2 70v110m2-66v-69m2-39v169m2 18v-82m2-56v133m2 11v-141m2-54v59m2 102v-147m2-49v139m2 28v-149m2 29v146m2 58v-140m2 25v115m2-22v-204m2-20v163m2 24v-55m2 1v83m2-65v-93m2 7v137m2-10v-96m2 3v83m2-24v-63m2 4v109m2-91v-22m2 22v79m2-38v-80m2 6v84m2 31v-169m2 13v46m2 108v-116m2-19v130m2-16v-67m2 3v70m2-16v-76m2-53v123m2-2v-83m2-34v132m2 39v-115m2 11v105m2-48v-83m2-13v124m2 37v-120m2 57v33m2 0v-96m2-32v106m2 5v-115m2 44v57m2 46v-121m2-36v103m2 26v-95m2-56v104m2 16v-123m2 65v162m2-52v-119m2-18v104m2-45v-74m2 20v95m2-21v-105m2 16v141m2 2v-69m2-68v107m2-4v-116m2 61v72m2-14v-35m2-13v81m2-32v-89m2 2v112m2 16v-91m2-1v55m2 9v-28m2-69v112m2-10v-78m2-42v158m2-18v-86m2 2v74m2 36v-55m2-47v112m2-77v-44m2-3v69m2 51v-241m2 18v193m2-16v-91m2 82v68m2-66v-155m2 86v53m2 21v-81m2 28v43m2 11v-74m2-21v117m2-2v-131m2-2v167m2-32v-96m2-20v67m2 47v-58m2-31v79m2-9v-56m2-61v164m2 18v-180m2 75v111m2-66v-76m2 28v69m2 1v-87m2-23v76m2 5v-52m2-47v140m2-48v-77m2-5v81m2-43v-96m2 84v56m2 85v-143m2-45v128m2 33v-157m2 74v78m2-13v-69m2-22v74m2 33v-66m2-47v78m2-17v-39m2-71v71m2 2v-34m2 8v77m2 8v-127m2-26v146m2 72v-160m2 4v83m2 35v-88m2-70v110m2 0v-41m2-25v127m2 16v-203m2 60v89m2-34v-66m2-3v115m2 24v-112m2-36v126m2 64v-221m2 43v181m2 0v-153m2-6v55m2 9v-89m2-50v131m2 40v-142m2 47v106m2-16v-147m2 50v123m2-80v-80m2 67v96m2 21v-94m2-45v80m2-7v-91m2 51v39m2 35v-87m2-50v109m2 17v-166m2 38v135m2-44v-185m2 99v64m2 116v-129m2-146v270m2-65v-204m2 124v96m2 32v-103m2-27v178m2-57v-128m2 14v98m2-44v-74m2 18v153m2-38v-120m2 29v95m2-31v-37m2-75v97m2 4v-83m2 48v104m2-45v-176m2 56v145m2 10v-67m2-69v135m2 47v-163m2 16v65m2 15v-67m2 35v53m2-3v-148m2 58v86m2-78v-69m2-4v142m2 46v-172m2 22v72m2 27v-89m2 30v44m2 16v-139m2 22v93m2 6v-98m2-20v145m2-33v-150m2 23v156m2 48v-249m2 35v188m2 2v-172m2-5v138m2 82v-109m2-91v91m2 113v-241m2 118v116m2-56v-93m2-45v92m2 36v-73m2-2v81m2 4v-56m2-24v125m2-86v-83m2 18v77m2 78v-146m2-19v156m2-84v-71m2 0v117m2-17v-77m2-39v139m2-32v-126m2 48v129m2-9v-95m2 12v34m2 19v-103m2 9v138m2 47v-100m2-120v120m2-2v-58m2 26v133m2-57v-76m2-73v173m2-65v-82m2 7v78m2 20v-112m2 28v107m2-8v-194m2 141v36m2 85v-185m2 5v99m2 8v-61m2-78v138m2 10v-94m2-48v155m2 94v-217m2-4v137m2-90v-40m2 2v21m2 73v-73m2-14v64m2 37v-91m2-13v108m2-5v-125m2 6v106m2 57v-257m2 95v162m2-36v-113m2-55v113m2 2v-45m2-1v51m2 90v-92m2-75v117m2-1v-102m2-56v216m2-38v-123m2 35v62m2 15v-69m2 64v91m2-91v-84m2-65v155m2 29v-100m2 4v30m2 47v-55m2-34v82m2-35v-28m2-49v67m2 58v-60m2 4v96m2-3v-118m2-93v176m2 20v-133m2-41v112m2 73v-149m2 21v71m2-27v-37m2-40v69m2 32v-73m2 3v81m2 26v-102m2-25v89m2 65v-119m2-11v127m2-76v-89m2-57v203m2-22v-107m2 17v74m2 36v-78m2-15v54m2 17v-121m2-7v212m2-74v-106m2-76v120m2 40v-170m2 148v56m2-38v-61m2 11v64m2-64v-50m2 41v42m2-18v-60m2-9v120m2 36v-171m2 4v99m2 60v-101m2 1v50m2 4v-67m2-84v163m2-4v-142m2 64v79m2-13v-21m2-65v94m2 14v-55m2-38v120m2-15v-117m2 12v91m2 51v-140m2-46v193m2 6v-186m2 116v37m2-13v-48"/>
<path stroke="#A2142F" d="M0 1324v73m2-48v-110m2 42v105m2-25v-76m2-54v125m2-20v-48m2-43v106m2-26v-98m2 32v81m2-1v-45m2-56v127m2-55v-145m2 128v55m2 26v-100m2 34v98m2-45v-29m2-14v67m2 41v-134m2 2v144m2-4v-146m2-1v163m2-86v-40m2-39v68m2 15v-81m2-5v89m2 26v-178m2-8v180m2-14v-88m2 11v79m2 1v-146m2 27v76m2 51v-101m2-34v117m2-2v-78m2-3v74m2-3v-77m2-35v119m2-15v-129m2 42v123m2-50v-124m2 85v65m2-13v-52m2-7v120m2-43v-31m2-29v129m2-45v-126m2 57v76m2-27v-132m2 52v137m2-70v-100m2 8v154m2 77v-228m2-63v142m2 10v-137m2 18v49m2 52v-84m2-24v131m2 24v-116m2 59v88m2 5v-184m2 15v51m2 18v-18m2-46v57m2 62v-101m2 28v97m2-12v-127m2 4v148m2-50v-29m2-37v109m2 54v-187m2-20v49m2 11v-53m2 16v91m2-5v-125m2 1v126m2-13v-63m2 10v26m2 57v-97m2-12v86m2 2v-81m2 16v47m2 57v-149m2 24v62m2 26v-80m2-13v98m2 55v-183m2 7v124m2-26v-112m2 67v111m2-12v-166m2 29v118m2 12v-103m2-29v69m2 27v-91m2 24v98m2-34v-109m2 68v78m2-43v-20m2-67v68m2 44v-64m2-36v48m2-22v-57m2 6v150m2-13v-98m2 3v41m2 9v-93m2 23v77m2-4v-43m2-16v83m2 9v-95m2 37v124m2-17v-167m2-67v218m2-68v-14m2-20v42m2 3v-62m2-68v144m2-21v-82m2-42v166m2-12v-154m2 46v103m2-5v-101m2-12v106m2 47v-109m2-2v35m2 59v-78m2-79v122m2-31v-99m2 37v116m2 13v-97m2 13v68m2-45v-34m2-13v69m2 32v-32m2-16v41m2-19v-84m2 31v96m2-37v-74m2 31v22m2 14v-60m2-4v118m2-44v-96m2-38v186m2-81v-101m2-4v123m2-9v-61m2 9v90m2 32v-182m2 4v41m2 13v-38m2 30v111m2-35v-76m2-51v133m2 8v-135m2 58v29m2 85v-133m2 4v114m2-54v-82m2-8v164m2-5v-206m2 103v88m2-39v-76m2-11v118m2-73v-41m2 21v86m2-31v-74m2-36v204m2 2v-182m2 22v64m2 11v-93m2 25v104m2-104v-92m2 76v32m2 127v-169m2-31v95m2 18v-87m2-14v128m2 17v-146m2 55v102m2-37v-64m2-19v198m2-73v-131m2 27v100m2-81v-58m2-15v108m2 43v-92m2-20v81m2-51v-35m2-65v103m2 4v-87m2 22v75m2-15v-65m2-107v198m2-21v-82m2 17v75m2 1v-87m2 16v120m2-55v-60m2-139v266m2-11v-117m2 20v37m2 53v-151m2 44v116m2-27v-112m2 98v28m2-5v-95m2-3v77m2 33v-58m2-30v91m2 4v-134m2-42v175m2 66v-186m2 8v154m2-106v-40m2-26v113m2 38v-224m2 154v33m2 66v-90m2-52v93m2-10v-96m2 12v149m2-58v-119m2-22v119m2 6v-137m2 32v55m2 12v-64m2 23v125m2-69v-129m2 67v130m2-111v-111m2 77v63m2 12v-73m2-137v304m2-82v-119m2 47v61m2 16v-109m2 36v69m2-29v-109m2 73v64m2 14v-161m2 77v67m2 4v-123m2 45v171m2-49v-107m2-17v100m2 9v-67m2-51v134m2-33v-145m2 35v103m2-6v-82m2-1v95m2-2v-42m2-40v55m2-20v-27m2 13v40m2 4v-130m2 60v156m2 0v-237m2-34v212m2-11v-175m2 40v179m2 30v-203m2 24v100m2-68v-69m2 59v50m2-16v-54m2-19v134m2-4v-107m2-21v97m2-17v-87m2 38v101m2 13v-115m2-62v135m2 69v-112m2-27v116m2-67v-119m2 67v119m2 8v-107m2-31v64m2-27v-58m2-19v71m2-15v-51m2 47v85m2 0v-112m2 29v94m2 32v-165m2-28v100m2 26v-87m2-18v115m2 10v-129m2 13v121m2-16v-144m2 107v64m2-38v-88m2-9v80m2 56v-156m2 58v82m2 39v-139m2 5v81m2-27v-80m2 21v62m2 11v-128m2 13v124m2-2v-66m2-29v108m2-75v-30m2-84v200m2 13v-115m2 3v108m2-102v-41m2-76v136m2-10v-62m2-24v172m2-4v-145m2 1v144m2-1v-102m2 25v82m2-16v-177m2 24v136m2-94v-39m2-40v156m2 13v-153m2-25v191m2-43v-58m2 41v28m2 28v-38m2-161v193m2 12v-84m2-112v159m2 46v-192m2 28v63m2 37v-122m2 44v69m2 41v-72m2-15v63m2 13v-56m2-11v65m2-13v-161m2 39v95m2 47v-112m2-23v104m2 71v-192m2 37v178m2-106v-62m2 32v41m2 0v-68m2 8v61m2 40v-106m2-12v90m2-16v-38m2-63v71m2 64v-111m2-15v117m2-24v-95m2 27v68m2 35v-153m2 19v63m2 0v-57m2-53v210m2-13v-94m2-155v178m2 26v-99m2 27v73m2-45v-40m2-66v104m2 31v-122m2 62v56m2-21v-139m2 63v81m2 9v-92m2 27v94m2 23v-148m2 20v71m2 40v-131m2-57v135m2-13v-107m2 95v65m2-65v-72m2 21v69m2 44v-109m2 26v43m2-7v-218m2 163v47m2 100v-174m2-35v215m2-23v-234m2 102v57m2-34v-62m2-63v115m2 93v-197m2 6v104m2-25v-94m2 56v240m2-174v-85m2-26v101m2 14v-120m2 21v102m2-30v-54m2-7v116m2 108v-171m2-41v152m2-122v-88m2 67v101m2-33v-77m2 40v51m2-35v-50m2-84v117m2 20v-74m2-23v52m2 123v-162m2-31v149m2 39v-202m2 30v59m2 60v-93m2-25v136m2-67v-89m2 2v73m2 11v-147m2 53v106m2 17v-121m2 6v90m2-3v-142m2-3v152m2 13v-159m2 66v61m2-61v-66m2-8v94m2 51v-109m2 13v34m2 62v-103m2-16v85m2 12v-119m2-1v118m2-35v-68m2 18v107m2-26v-29m2-92v112m2-5v-39m2-62v85m2 1v-58m2-15v58m2-21v-60m2 43v112m2-23v-140m2 17v94m2 31v-121m2-23v150m2-150v-94m2 36v112m2 65v-190m2 94v86m2-32v-74m2-50v82m2-51v-79m2-7v126m2 6v-59m2-17v91m2-1v-112m2 62v80m2-78v-81m2-9v137m2 23v-160m2 18v40m2 56v-85m2 3v46m2 46v-60m2-35v93m2-5v-40m2-121v121m2-34v-31m2-103v129m2-17v-47m2 39v48m2-3v-79m2 8v99m2-29v-116m2 31v75m2-1v-104m2-9v68m2 59v-188m2 86v68m2 21v-77m2 22v29m2 85v-86m2-118v153m2 40v-200m2 65v74m2-20v-72m2-17v70m2-22v-168m2-12v217m2-5v-93m2-35v160m2-15v-102m2-34v110m2 2v-71m2-27v124m2-50v-181m2 54v183m2-57v-83m2-54v76m2 7v-51m2-18v50m2 23v-88m2-10v115m2 1v-107m2 20v137m2-137v-50m2 43v107m2-23v-38m2-36v92m2-77v-28m2 28v42m2 26v-88m2-34v57m2 60v-166m2-41v129m2 13v-81m2 37v44m2 33v-119m2 55v159m2-57v-164m2-38v152m2-44v-155m2 44v47m2 55v-67m2-7v117m2-40v-69m2 2v79m2 105v-201m2-90v215m2-40v-178m2-18v203m2-34v-102m2 25v130m2-60v-74m2-52v94m2 96v-142m2-11v78m2 29v-134m2 29v105m2-21v-71m2 22v77m2-52v-63m2-95v115m2 9v-99m2 20v129m2 3v-233m2 108v74m2 4v-36m2-40v59m2-11v-134m2 129v152m2-34v-234m2-9v147m2-3v-128m2 40v72m2 34v-152m2 43v86m2-14v-153m2 52v101m2-9v-102m2-61v179m2 19v-82m2-72v123m2-29v-77m2-32v106m2 4v-116m2 39v96m2-10v-101m2-39v138m2-31v-70m2-38v139m2-10v-159m2 41v127m2-71v-74m2-41v112m2 0v-112m2-4v211m2-91v-58m2 37v35m2 31v-132m2 6v57m2 34v-74m2-14v89m2 16v-175m2 42v86m2 30v-127m2-19v59m2 64v-82m2-50v93m2-8v-52m2-7v32m2 46v-145m2-30v184m2 46v-103m2-57v186m2-96v-50m2-107v137m2-3v-114m2 23v91m2 19v-115m2 45v91m2-29v-73m2-39v118m2-5v-54m2-34v99m2 68v-158m2-48v202m2-73v-71m2-13v142m2-73v-79m2-39v110m2-33v-163m2 108v107m2-32v-66m2-12v53m2 65v-83m2-38v92m2-26v-88m2-37v93m2 84v-168m2-34v83m2 28v-28m2-35v36m2 21v-83m2 19v94m2 56v-194m2 43v107m2 16v-61m2-2v68m2-2v-227m2-5v154m2 50v-100m2 70v48m2-39v-120m2 17v25m2 159v-192m2 30v140m2-32v-95m2-67v174m2 23v-172m2-6v55m2 103v-213m2 81v122m2-45v-94m2 0v37m2 31v-73m2-12v78m2-2v-89m2 65v38m2-17v-50m2-59v118m2 25v-77m2-4v43m2-43v-61m2 25v116m2 35v-180m2 49v71m2 27v-122m2-35v147m2 17v-114m2-29v142m2-14v-133m2-17v149m2-27v-59m2-6v22m2 15v-77m2-41v47m2 189v-201m2-62v157m2 8v-111m2-11v108m2 7v-101m2 4v137m2 21v-201m2 40v123m2-79v-31m2 17v132m2-83v-47m2 6v33m2 47v-85m2-25v151m2-3v-145m2-95v219m2-58v-117m2 58v30m2 34v-100m2-5v151m2-19v-128m2-56v205m2-143v-49m2 22v85m2 14v-58m2-16v53m2 44v-52m2-77v77m2 60v-100m2-47v94m2 43v-98m2 33v54m2 22v-160m2 7v125m2 14v-168m2 34v166m2 35v-206m2-17v162m2 79v-136m2 5v68m2 0v-104m2 13v107m2-27v-97m2-69v183m2-6v-109m2 17v93m2-16v-69m2-67v143m2-36v-87m2 37v106m2 8v-114m2-25v80m2 110v-186m2 31v75m2-39v-111m2 72v50m2-13v-88m2 13v123m2-53v-85m2 38v68m2-23v-97m2 2v157m2-31v-134m2 0v46m2 53v-122m2 86v77m2-43v-94m2 49v75m2 69v-208m2-37v205m2 12v-102m2 12v67m2-1v-97m2-11v137m2-51v-66m2-34v136m2-32v-90m2-85v219m2-58v-138m2 80v142m2-96v-123m2 10v80m2 126v-209m2 55v124m2-47v-79m2-8v77m2-7v-68m2 32v68m2 3v-37m2-55v86m2-16v-34m2 25v102m2-90v-118m2-24v175m2-15v-161m2 57v76m2 51v-139m2-12v166m2-57v-134m2 116v126m2-34v-131m2-91v197m2-29v-85m2 0v67m2 46v-130m2-13v117m2-16v-106m2 32v85m2 5v-96m2 7v112m2 19v-86m2-23v115m2-30v-71m2-114v149m2-1v-77m2-25v195m2-72v-110m2-22v174m2 14v-202m2 64v68m2 33v-164m2 93v53m2-2v-126m2-54v174m2 0v-116m2-20v162m2-67v-78m2-16v75m2 39v-39m2 39v56m2-34v-106m2-26v121m2 17v-105m2 11v94m2-23v-16m2-77v124m2 29v-144m2 34v63m2 26v-26m2-124v153m2-35v-115m2 35v65m2 17v-104m2-52v78m2 116v-136m2 5v121m2 40v-156m2 23v112m2 9v-120m2-36v63m2 104v-170m2 93v40m2-40v-76m2-67v82m2 117v-226m2 17v168m2 1v-21m2 10v13m2 3v-89m2-28v173m2 13v-154m2 25v120m2-16v-82m2-40v156m2 5v-126m2-50v117m2 11v-110m2-35v127m2-10v-143m2 20v145m2 104v-155m2-71v106m2 14v-106m2-42v123m2 99v-125m2-50v97m2-16v-71m2-77v112m2 69v-145m2 1v164m2-77v-86m2-29v178m2-34v-154m2 43v67m2 29v-91m2 91v37m2 64v-90m2-13v85m2-30v-121m2 33v117m2 58v-189m2-15v51m2 57v-94m2-138v234m2-15v-208m2 173v29m2-5v-84m2 48v70m2 42v-141m2 20v48m2-19v-84m2 51v62m2 37v-61m2-115v135m2 3v-119m2 76v106m2-85v-50m2-13v100m2 0v-37m2-40v67m2-26v-32m2-52v106m2 1v-71m2-1v55m2 37v-72m2-3v74m2-9v-42m2-34v82m2 1v-131m2-17v117m2 87v-197m2 25v70m2 43v-59m2 40v121m2-55v-85m2-54v129m2-77v-88m2-8v162m2 11v-110m2-42v169m2-48v-145m2 32v67m2 55v-58m2-111v153m2 56v-162m2 65v136m2-54v-136m2 25v46m2 18v-73m2-92v164m2 39v-95m2 0v93m2-53v-61m2-21v118m2 26v-110m2 56v83m2-26v-64m2-41v75m2-42v-30m2-30v55m2 181v-181m2-50v140m2 17v-129m2-52v98m2 77v-126m2 1v53m2 26v-35m2-58v58m2 11v-165m2 113v66m2 2v-103m2-7v108m2 34v-149m2 86v60m2 20v-78m2-39v71m2-54v-62m2-34v134m2-15v-97m2 52v61m2 19v-61m2 3v75m2-27v-96m2 54v52m2 1v-112m2 26v120m2 1v-136m2-48v115m2-11v-81m2 9v158m2-10v-152m2 77v123m2-83v-54m2-29v45m2-6v-37m2 24v74m2-2v-155m2 147v18m2 20v-60m2-87v157m2 43v-192m2-11v89m2 84v-145m2-18v131m2-7v-105m2 33v52m2 59v-109m2-93v117m2-12v-52m2-12v64m2 58v-86m2 35v33m2 7v-76m2-4v36m2 120v-157m2-57v131m2-33v-82m2 42v165m2 0v-199m2 20v132m2 3v-72m2-33v68m2 25v-124m2 48v93m2 18v-176m2 28v140m2-48v-40m2-40v79m2-18v-67m2 64v31m2 54v-70m2-96v114m2 92v-135m2-104v140m2 3v-139m2 14v215m2-1v-286m2-33v243m2-49v-70m2 7v102m2 21v-152m2 126v102m2-31v-142m2-61v171m2 0v-162m2-5v170m2-17v-130m2 1v96m2-5v-90m2 31v119m2-25v-53m2 33v50m2 2v-42m2-22v38m2 13v-99m2 38v17m2-7v-105m2 64v69m2-19v-188m2 163v14m2 1v-108m2 85v104m2-7v-102m2-59v188m2-64v-167m2 86v207m2-25v-158m2-149v202m2 25v-114m2-32v150m2-20v-147m2-7v76m2 66v-95m2 81v34m2-11v-56m2-19v68m2 20v-75m2-18v96m2-9v-49m2-47v115m2 3v-80m2 3v28m2-3v-78m2-3v101m2 61v-149m2-38v51m2 107v-123"/>
<path stroke="#0072BD" d="M0 1232v103m2 48v-81m2 29v101m2-85v-44m2-90v131m2 29v-140m2 27v197m2-65v-125m2 57v114m2-50v-135m2 6v74m2 37v-67m2 0v67m2 22v-88m2 13v56m2 14v-94m2 0v85m2-19v-111m2 28v25m2 198v-213m2 9v42m2 47v-96m2-101v208m2 76v-188m2-12v110m2-8v-96m2-25v58m2 70v-93m2-48v96m2 20v-45m2-116v234m2-116v-114m2 77v112m2-51v-49m2 49v65m2-50v-23m2-100v126m2-84v-68m2 68v66m2 59v-150m2-9v165m2-33v-95m2 47v53m2 26v-144m2 32v119m2-57v-57m2-9v45m2 27v-81m2-3v152m2-84v-54m2 11v95m2-26v-112m2 45v68m2 30v-68m2-54v54m2 53v-109m2 4v88m2-1v-116m2 7v88m2 7v-89m2 25v127m2 2v-76m2-41v56m2 82v-162m2 31v113m2-45v-75m2-47v142m2 22v-101m2-14v67m2 58v-134m2 1v172m2-41v-160m2 17v164m2-33v-148m2 1v67m2-28v-44m2 44v98m2-28v-81m2 16v93m2 23v-155m2 9v160m2-16v-145m2 17v157m2 3v-197m2 48v69m2 56v-105m2-59v106m2 24v-107m2 12v47m2-5v-22m2-1v36m2 7v-127m2 2v128m2-25v-64m2 34v73m2 2v-117m2 7v191m2-2v-237m2-6v119m2 94v-156m2-59v182m2-40v-162m2 56v128m2 32v-132m2-29v175m2-92v-83m2 77v52m2-24v-109m2-38v106m2-6v-55m2-26v120m2-5v-89m2-7v170m2 1v-111m2-1v83m2-53v-33m2-91v205m2-7v-127m2 37v79m2-53v-149m2 22v127m2 4v-133m2-24v131m2 23v-25m2-84v118m2 33v-206m2 106v107m2 0v-127m2-59v188m2 13v-156m2 47v84m2 43v-134m2 45v67m2 2v-44m2-22v22m2 2v-67m2-110v163m2 8v-66m2 4v60m2 25v-97m2-24v150m2 9v-129m2-23v67m2 58v-172m2 35v138m2 13v-116m2 9v98m2-26v-62m2-47v125m2 9v-117m2-2v141m2 32v-167m2-30v72m2 6v-58m2-28v124m2-6v-106m2-9v131m2-7v-89m2-37v116m2 18v-126m2 38v91m2-74v-53m2 7v127m2-77v-53m2 1v78m2 76v-165m2 76v78m2-67v-123m2 68v50m2 4v-88m2-17v91m2 31v-152m2 35v89m2 46v-94m2 8v78m2-32v-26m2-32v52m2 13v-71m2-53v152m2-48v-34m2-42v64m2 123v-123m2-27v207m2-142v-182m2 72v120m2 114v-175m2 45v127m2-24v-164m2-2v81m2 66v-187m2 2v137m2 15v-123m2-81v219m2 6v-85m2-99v224m2-86v-130m2 37v61m2 54v-81m2-1v91m2 15v-133m2-20v101m2-26v-69m2 3v188m2-31v-203m2 31v116m2 32v-102m2-42v44m2 33v-80m2 60v36m2 27v-82m2-2v51m2 16v-133m2 31v139m2-14v-103m2-57v196m2 1v-175m2 112v30m2 23v-137m2-25v109m2-1v-121m2 79v96m2-42v-94m2-28v134m2-35v-73m2 15v40m2 130v-130m2-37v106m2-42v-142m2 31v109m2 72v-172m2 44v85m2-29v-85m2-9v92m2 82v-146m2-31v130m2-49v-117m2 56v77m2 35v-112m2-42v101m2 19v-62m2-30v153m2-42v-147m2 55v127m2-66v-143m2 143v58m2-6v-124m2 28v98m2-28v-87m2-78v226m2-64v-78m2 15v115m2-25v-154m2 33v177m2-52v-135m2-4v155m2 12v-110m2 44v83m2-41v-72m2-13v66m2 5v-136m2 9v96m2 16v-104m2-25v133m2 18v-97m2-8v102m2-52v-69m2 34v207m2-155v-52m2-24v91m2 21v-95m2-33v131m2 4v-176m2-25v233m2 7v-157m2-49v153m2-25v-123m2 31v108m2 23v-187m2 22v106m2 55v-86m2-13v61m2 63v-114m2-26v126m2-61v-59m2-4v173m2 10v-202m2-29v82m2 136v-200m2 31v139m2-45v-133m2 12v89m2 19v-67m2-5v84m2 15v-138m2 21v98m2 56v-154m2-30v181m2-25v-148m2 33v87m2-26v-63m2 63v56m2-19v-81m2 6v67m2-66v-45m2-47v82m2 18v-65m2 40v64m2-4v-62m2-14v44m2 45v-45m2-31v36m2-20v-30m2 30v88m2-11v-97m2 0v69m2 7v-88m2 19v56m2 17v-71m2-33v122m2-43v-85m2 26v90m2-10v-83m2-37v179m2 19v-198m2 59v56m2 7v-60m2-13v64m2-4v-78m2-17v89m2 93v-132m2-44v133m2 33v-65m2-92v96m2 44v-87m2-131v216m2-12v-162m2 78v74m2-33v-57m2-64v136m2 28v-103m2-31v182m2-59v-95m2 21v50m2-28v-82m2 18v120m2 0v-80m2-70v106m2 6v-64m2-6v69m2-19v-100m2 61v64m2-4v-81m2-53v183m2 8v-136m2 20v45m2 22v-73m2 61v67m2-67v-56m2-55v106m2 113v-216m2 8v136m2-46v-89m2 41v80m2-80v-31m2-4v38m2 93v-93m2-26v128m2-43v-53m2-7v42m2 59v-104m2 20v88m2 28v-107m2-68v116m2-17v-76m2 1v104m2 12v-89m2-51v116m2-53v-64m2 38v105m2-26v-60m2 36v24m2 24v-84m2-5v71m2 34v-122m2-95v223m2-55v-116m2 58v54m2-2v-51m2-11v110m2-9v-109m2 18v84m2-74v-86m2 52v33m2 18v-22m2-1v37m2 32v-101m2-24v119m2 19v-116m2-14v123m2-74v-48m2-5v113m2 7v-100m2 48v94m2-43v-126m2-7v146m2-11v-102m2-91v185m2 3v-144m2 51v87m2 32v-141m2-34v141m2-13v-53m2-11v154m2-11v-264m2 6v93m2 94v-94m2 35v79m2-59v-50m2-38v88m2 131v-187m2 57v90m2-39v-122m2-3v134m2-25v-31m2-29v46m2 7v-136m2 17v169m2-17v-182m2 6v68m2 93v-100m2-17v224m2-151v-101m2 88v22m2 6v-21m2 3v60m2-17v-122m2 25v120m2 32v-106m2-53v106m2 16v-151m2 44v128m2-5v-96m2 34v61m2-41v-77m2 41v43m2-3v-69m2-2v38m2 34v-45m2 19v36m2 7v-126m2 60v111m2-24v-140m2 23v138m2-59v-65m2-1v48m2 27v-37m2-8v54m2 20v-70m2-84v84m2 59v-129m2-17v109m2 31v-113m2 24v118m2 18v-134m2-6v62m2 64v-99m2-65v122m2-22v-102m2 68v16m2 31v-58m2-48v117m2 43v-224m2 71v80m2 1v-59m2 44v55m2 38v-118m2-19v95m2 23v-118m2 23v112m2-19v-54m2-50v78m2 11v-64m2-63v118m2 10v-82m2-31v66m2 44v-125m2 84v76m2-23v-140m2-38v112m2 99v-131m2 12v94m2-33v-74m2 50v33m2 23v-168m2-25v153m2 76v-229m2 33v126m2 59v-150m2 24v104m2 13v-144m2-31v147m2-61v-100m2 49v59m2 37v-73m2-11v71m2 30v-79m2-31v93m2-93v-36m2 32v106m2-35v-99m2-49v94m2-15v-36m2-29v103m2-51v-134m2 23v95m2-52v-123m2-27v55m2-18v-91m2-53v59m2-42v-61m2 1v64m2-34v-99m2-129v129m2-25v-130m2-72v114m2-29v-125m2-79v116m2-57v-139m2-28v166m2-32v-195m2 16v60m2-16v-22m2-119v135m2-6v-125m2-15v89m2 12v-107m2 22v103m2-26v-167m2 8v154m2-34v-121m2-71v208m2 3v-140m2-3v122m2 102v-270m2 23v149m2-20v-104m2 38v112m2-14v-88m2-50v107m2-53v-103m2 72v157m2-5v-156m2 17v142m2-23v-167m2 48v67m2 32v-109m2 13v127m2-16v-101m2-35v59m2 53v-87m2 15v28m2 111v-135m2-78v126m2-2v-81m2-10v68m2 73v-97m2-46v144m2-67v-127m2 62v100m2 51v-137m2-5v89m2 8v-41m2-55v74m2 48v-80m2-33v85m2 25v-79m2 42v91m2-52v-185m2 57v173m2-45v-103m2-13v95m2 35v-146m2-30v219m2-44v-134m2 28v144m2-41v-188m2-23v152m2 26v-60m2 2v84m2-37v-41m2-65v90m2 39v-97m2 33v60m2 19v-77m2-55v161m2 43v-154m2-47v97m2 46v-171m2 12v139m2 4v-145m2 6v103m2 51v-109m2 11v113m2 16v-142m2-103v214m2-10v-64m2-7v66m2-56v-42m2-25v97m2 6v-54m2-20v78m2 14v-123m2 92v33m2 4v-54m2 3v35m2-4v-122m2-1v136m2 30v-108m2 55v38m2 24v-80m2-50v139m2-5v-76m2-46v84m2-56v-51m2 49v14m2 23v-23m2-95v135m2 39v-128m2-2v114m2 1v-144m2 39v112m2-7v-228m2 133v191m2 51v-307m2 66v67m2 4v-81m2 12v56m2-20v-117m2 96v88m2 24v-125m2-16v60m2-15v-73m2 30v66m2 70v-160m2-2v164m2-8v-76m2-3v53m2 40v-112m2 7v124m2-14v-114m2-50v91m2 41v-113m2 42v27m2 75v-101m2-46v127m2 22v-126m2-19v19m2 58v-68m2 23v83m2-48v-63m2-22v147m2 7v-101m2-11v37m2-18v-27m2-6v180m2-150v-86m2 52v89m2 59v-102m2 3v55m2-11v-141m2 0v123m2 18v-100m2 35v67m2 24v-95m2 12v42m2-17v-63m2 34v113m2-3v-108m2-65v100m2 53v-157m2 102v30m2 31v-109m2-21v130m2-59v-64m2 21v114m2-9v-122m2 0v83m2 28v-93m2 10v84m2-58v-127m2 63v179m2-97v-56m2-13v136m2-3v-189m2 127v37m2 2v-132m2-46v141m2 5v-54m2-70v101m2 63v-74m2-34v94m2-4v-115m2 1v138m2-36v-56m2-35v102m2-33v-151m2 117v128m2-28v-251m2 23v203m2 39v-128m2-90v127m2 67v-211m2 108v164m2-7v-132m2-67v163m2-39v-111m2-27v87m2 35v-125m2 38v92m2 26v-97m2-34v84m2 77v-186m2 31v125m2 21v-146m2 13v125m2-3v-71m2-88v115m2 14v-108m2 89v135m2-79v-121m2 30v86m2-64v-56m2 0v101m2 3v-118m2 19v102m2 62v-149m2 2v88m2 33v-91m2 1v53m2-10v-98m2 48v51m2-16v-90m2 45v142m2 59v-234m2 28v58m2 87v-87m2-115v155m2-27v-123m2 42v82m2 30v-134m2 87v67m2-59v-104m2 48v81m2-2v-85m2 29v46m2 17v-113m2 44v80m2 15v-73m2-44v111m2 43v-229m2 71v115m2 62v-142m2-33v164m2-76v-134m2 123v31m2-17v-40m2-51v86m2 31v-158m2 76v25m2-17v-76m2 51v58m2-10v-99m2 20v129m2-59v-60m2 60v91m2 33v-149m2-26v103m2 48v-202m2 42v139m2-42v-100m2-17v147m2-19v-80m2 5v146m2-67v-104m2 26v80m2-8v-150m2 2v97m2 36v-77m2 12v35m2 119v-148m2-22v164m2-62v-102m2 34v54m2 52v-85m2-62v148m2-62v-79m2 44v75m2-18v-51m2-7v61m2-29v-62m2-10v37m2 87v-123m2-37v162m2-20v-146m2 32v65m2 78v-131m2-4v132m2-64v-83m2 28v116m2 24v-122m2-10v128m2-96v-90m2 66v69m2-27v-74m2-28v155m2 43v-113m2-45v186m2-1v-179m2 59v58m2 35v-191m2 46v95m2-30v-112m2 46v100m2-22v-92m2 43v77m2 16v-177m2 83v115m2-39v-69m2-45v134m2 97v-163m2-103v205m2-4v-190m2 75v61m2 11v-79m2-86v170m2-56v-118m2 4v249m2-95v-123m2 63v147m2-7v-133m2-11v52m2-11v-52m2-90v127m2 76v-172m2 60v83m2 38v-129m2 21v60m2 60v-60m2-38v128m2-106v-81m2-49v145m2-15v-106m2 75v41m2-12v-50m2 37v27m2 54v-154m2 0v193m2-84v-57m2-23v110m2-43v-108m2 14v94m2-38v-64m2 46v109m2-8v-107m2 49v87m2-40v-135m2 29v103m2-41v-27m2-125v262m2-30v-188m2 4v101m2 72v-122m2-1v170m2-35v-189m2 69v117m2 7v-126m2-37v152m2-45v-158m2 19v86m2 87v-99m2-27v78m2 9v-102m2-18v88m2 58v-78m2-24v73m2 64v-131m2-46v158m2 7v-88m2-117v182m2 0v-62m2-67v67m2 40v-103m2 1v88m2-29v-114m2 50v159m2-51v-95m2 26v147m2-73v-99m2 6v143m2-21v-106m2-86v109m2 85v-177m2-45v213m2-17v-62m2-17v43m2 73v-79m2-58v101m2-18v-73m2-12v141m2-67v-71m2-24v50m2 132v-168m2-23v163m2 2v-55m2 22v50m2-46v-86m2-33v103m2 85v-174m2 32v133m2-45v-59m2 24v10m2-8v-52m2-7v56m2 52v-119m2 17v70m2 34v-88m2 9v84m2-2v-149m2-70v230m2 7v-155m2 18v142m2-19v-101m2 7v146m2-5v-135m2 9v45m2 30v-159m2 47v119m2 0v-98m2-37v97m2 68v-128m2-59v176m2 11v-187m2 55v81m2-7v-51m2-20v57m2-4v-77m2 18v53m2 70v-117m2-42v144m2 11v-95m2-11v106m2-32v-144m2 94v37m2 37v-124m2 21v192m2-88v-138m2-2v141m2 4v-105m2-9v95m2 19v-114m2 31v23m2 105v-109m2-48v73m2-39v-51m2 2v128m2 5v-101m2 30v143m2-123v-79m2-49v180m2-93v-72m2 60v105m2-31v-117m2-5v96m2 95v-154m2 83v80m2-58v-58m2-2v61m2-7v-155m2 98v126m2-42v-90m2-63v157m2 18v-196m2 41v89m2-29v-75m2 62v99m2-23v-92m2-10v114m2-4v-71m2-49v117m2-57v-80m2-5v101m2 42v-66m2-29v83m2 49v-149m2-32v164m2-76v-56m2-7v169m2-60v-50m2-66v87m2 38v-107m2 8v83m2 30v-88m2-64v140m2 9v-107m2 18v58m2-12v-83m2-1v99m2-25v-62m2-45v130m2 32v-119m2-72v114m2 32v-77m2 0v77m2 12v-49m2-65v128m2-56v-72m2 47v43m2-4v-146m2 59v98m2 3v-101m2 31v66m2 67v-143m2-43v93m2 55v-86m2 8v97m2 1v-143m2 62v98m2-51v-68m2-8v122m2 4v-125m2-3v56m2 36v-58m2-12v59m2 0v-28m2-69v154m2-29v-203m2 116v75m2-13v-124m2 35v162m2-101v-191m2 28v150m2 52v-126m2 90v38m2-11v-110m2 42v120m2-54v-49"/>
<path stroke="#D95319" d="M0 1253v63m2 40v-166m2 95v70m2-16v-73m2 37v71m2-60v-36m2 2v31m2-31v-92m2 54v92m2 4v-58m2-8v141m2-41v-85m2-45v99m2 30v-78m2-28v59m2 31v-79m2 26v92m2-92v-150m2 71v109m2 19v-144m2-1v157m2 5v-128m2-17v166m2-37v-93m2 34v108m2-8v-140m2 45v101m2-30v-40m2-51v119m2-51v-83m2-24v127m2 28v-86m2-31v113m2 47v-201m2 52v85m2-33v-109m2-29v209m2-58v-65m2-18v76m2 60v-188m2 78v79m2-42v-29m2-21v52m2 107v-184m2-5v63m2-25v-53m2 53v91m2 12v-53m2-17v91m2-22v-255m2 105v169m2 8v-199m2-35v180m2 22v-63m2-4v121m2-6v-189m2 24v56m2 38v-53m2-39v205m2-80v-79m2-8v98m2 20v-105m2-57v161m2-100v-46m2-31v135m2 56v-177m2 10v114m2 13v-139m2 39v105m2 5v-88m2 4v40m2-8v-96m2-72v171m2 58v-198m2 47v91m2 3v-58m2-135v184m2 16v-116m2-108v216m2-15v-167m2 98v86m2 46v-145m2 6v139m2 15v-222m2 32v63m2 44v-85m2 9v140m2-4v-132m2-13v119m2 17v-75m2 16v41m2-13v-154m2 16v94m2 26v-72m2-6v46m2 48v-164m2 81v66m2 15v-96m2-22v82m2 99v-178m2 30v58m2-1v-69m2-40v138m2 5v-69m2 8v55m2-2v-49m2 7v67m2-67v-43m2-29v155m2-29v-81m2-45v70m2 89v-105m2-79v166m2-9v-160m2 110v65m2 28v-34m2-88v142m2-55v-150m2 74v85m2-7v-85m2-10v68m2 84v-207m2 30v175m2-68v-35m2-16v62m2-9v-101m2-6v65m2 21v-86m2-4v40m2 109v-109m2-24v127m2-20v-109m2-2v118m2 2v-117m2 15v89m2-14v-110m2 90v47m2-15v-109m2-40v136m2 22v-114m2-78v184m2 17v-45m2-31v92m2-24v-97m2-94v180m2 59v-139m2-50v83m2 12v-156m2 129v150m2-81v-124m2 4v139m2-19v-126m2-28v136m2 8v-150m2 111v51m2-51v-91m2 32v84m2 26v-121m2 8v75m2-1v-91m2-27v108m2 33v-87m2 5v26m2-11v-90m2 58v62m2 85v-85m2-130v159m2-11v-150m2 88v65m2 5v-109m2 62v84m2-23v-44m2 6v89m2-55v-49m2-30v121m2-80v-67m2-25v117m2-41v-79m2 41v64m2-14v-78m2-12v211m2-27v-192m2 4v102m2 31v-169m2 154v58m2-51v-99m2 22v71m2 36v-111m2-5v148m2-61v-98m2 58v75m2-46v-53m2-26v84m2 10v-132m2 79v20m2-20v-39m2 9v65m2 10v-72m2-5v82m2 13v-51m2-23v116m2 73v-257m2 46v89m2 56v-84m2-93v159m2-42v-126m2 69v88m2 15v-106m2-2v168m2-149v-47m2-9v31m2 76v-82m2 38v65m2-8v-83m2-31v101m2-7v-115m2 24v108m2-42v-40m2-33v54m2 82v-99m2-52v130m2-11v-92m2 33v67m2-20v-62m2-3v103m2-80v-80m2 51v45m2-11v-88m2 5v116m2 34v-100m2 3v91m2-10v-149m2 100v125m2-75v-83m2-6v121m2 6v-133m2 8v100m2-11v-30m2-97v134m2-42v-40m2-47v95m2 12v-64m2-1v89m2-24v-30m2-41v72m2 34v-182m2 50v145m2-30v-103m2-22v144m2 57v-188m2 0v112m2-56v-43m2-2v185m2-159v-108m2-23v147m2 15v-116m2 83v103m2-5v-104m2-30v138m2-8v-112m2-2v79m2 12v-111m2 27v94m2 34v-104m2-34v102m2 25v-125m2 19v99m2-2v-123m2-6v97m2 37v-103m2 43v83m2-55v-115m2 15v107m2-5v-131m2 9v155m2-53v-101m2 40v63m2-48v-74m2-11v124m2 49v-77m2-93v131m2-11v-100m2 56v72m2 26v-98m2 9v56m2 5v-72m2-63v180m2-9v-142m2-48v97m2 143v-221m2 92v116m2-97v-109m2 42v125m2-56v-66m2 20v37m2 114v-114m2-111v207m2-28v-160m2 48v127m2 8v-119m2-59v181m2-74v-124m2 7v65m2 78v-78m2-19v69m2 33v-141m2 20v106m2 24v-126m2 62v100m2-26v-62m2-27v118m2-101v-16m2-4v76m2-32v-81m2-41v97m2-29v-79m2-30v211m2-66v-128m2 67v79m2-13v-63m2 2v79m2-16v-90m2 62v47m2 15v-93m2-46v93m2-5v-146m2 9v176m2 90v-178m2 24v116m2-7v-188m2-1v106m2-51v-36m2 11v100m2-8v-29m2-69v124m2 23v-40m2-49v84m2-45v-100m2 36v35m2 5v-11m2-6v49m2 8v-99m2-28v106m2 51v-92m2-9v88m2-41v-65m2 54v79m2 10v-116m2-40v75m2 9v-71m2-9v43m2 1v-49m2-26v167m2-45v-133m2 61v138m2-46v-63m2-47v100m2 70v-122m2 27v40m2 31v-137m2 9v161m2-53v-75m2-15v31m2 88v-107m2-50v72m2 24v-50m2-49v162m2-35v-189m2 133v70m2-40v-106m2 79v60m2-56v-105m2 54v76m2-37v-93m2 32v98m2-14v-124m2-2v164m2 21v-115m2-92v217m2-79v-23m2-9v66m2-8v-88m2-10v142m2-62v-115m2 100v73m2 19v-217m2 62v111m2 19v-144m2-28v111m2 41v-124m2-9v130m2-35v-37m2-52v69m2 75v-138m2-37v123m2 44v-123m2 25v71m2-37v-84m2 84v75m2-70v-66m2 33v52m2 42v-95m2-56v94m2 91v-132m2-145v251m2-14v-202m2 101v89m2 0v-101m2 32v84m2-8v-92m2-50v124m2-80v-67m2 14v107m2 62v-133m2 19v89m2-23v-136m2-7v154m2 27v-204m2 73v133m2-45v-127m2 17v101m2 42v-72m2-28v180m2-71v-67m2-16v22m2 97v-113m2-62v163m2-73v-54m2-1v77m2-15v-61m2-32v86m2-18v-48m2-14v114m2 6v-148m2-1v183m2-33v-105m2-33v80m2 50v-103m2 27v92m2 16v-155m2 33v120m2 42v-149m2-52v109m2-9v-60m2-23v153m2 7v-148m2 53v68m2-43v-103m2 51v90m2-11v-129m2 82v108m2-70v-59m2-3v84m2-1v-42m2-5v22m2-13v-146m2 23v129m2-7v-132m2 76v104m2-39v-49m2-101v136m2 42v-177m2 27v82m2 119v-145m2-16v126m2-45v-103m2-28v96m2-6v-58m2-15v111m2-70v-122m2 69v74m2 30v-123m2 33v80m2 51v-164m2 58v71m2-46v-129m2 58v140m2 9v-154m2 25v111m2 5v-140m2 17v88m2 64v-198m2 51v48m2 52v-53m2-64v66m2-47v-61m2-17v105m2 89v-142m2-3v59m2 79v-136m2-90v194m2-62v-52m2-22v57m2-10v-104m2-3v119m2 64v-167m2-38v85m2-12v-53m2 21v87m2-6v-108m2-20v111m2 4v-155m2-4v100m2 18v-102m2-149v212m2-49v-110m2 21v125m2-59v-61m2-3v42m2 15v-89m2-27v27m2-13v-21m2-19v104m2 11v-139m2-26v75m2 0v-66m2-33v230m2-149v-95m2-43v96m2-60v-57m2-11v100m2-1v-135m2-21v78m2 50v-188m2-7v88m2 89v-89m2-71v130m2-24v-135m2 14v83m2 43v-118m2-122v222m2-130v-97m2 43v23m2 7v-88m2 49v53m2-17v-125m2 8v95m2 62v-127m2-61v128m2-22v-134m2-29v171m2-16v-162m2 13v90m2-68v-17m2-43v82m2-9v-139m2 68v75m2 10v-141m2-16v98m2 29v-112m2-25v112m2-12v-78m2-95v206m2-21v-175m2 68v172m2-159v-110m2 82v57m2 130v-173m2 11v102m2-9v-190m2 17v88m2 80v-139m2 31v105m2-31v-75m2-46v84m2-1v-137m2 57v130m2-30v-88m2-31v80m2 14v-101m2 43v79m2 20v-151m2 9v65m2 17v-138m2 24v158m2-124v-120m2 7v193m2 46v-94m2-72v171m2-71v-83m2-35v148m2-57v-67m2 23v97m2-33v-61m2 13v97m2-36v-75m2-33v105m2-13v-105m2 21v58m2 25v-70m2-26v107m2 14v-27m2 9v95m2-16v-77m2-195v247m2-19v-123m2 50v59m2 18v-135m2 52v126m2-90v-96m2-37v200m2 17v-154m2 32v97m2-24v-77m2-43v168m2-19v-155m2-41v166m2 31v-167m2 80v30m2 38v-64m2 2v77m2 25v-89m2-89v89m2 37v-61m2-32v171m2-10v-104m2-42v51m2 8v-182m2 141v44m2 27v-60m2-34v128m2-13v-52m2-71v142m2-14v-161m2 103v35m2-24v-110m2-5v155m2-36v-44m2-19v36m2-12v-72m2 22v131m2 16v-39m2-89v131m2-30v-160m2 15v124m2 11v-192m2 61v107m2 35v-126m2 12v128m2 0v-118m2-6v187m2-40v-154m2 20v51m2 2v-96m2-55v181m2 16v-133m2 56v142m2 1v-126m2-93v217m2-33v-170m2-9v111m2 4v-83m2 55v77m2-29v-88m2-3v24m2 97v-133m2 44v118m2-64v-65m2-20v70m2 45v-57m2-32v102m2-29v-114m2 90v115m2-18v-100m2-87v137m2-14v-54m2 16v60m2-43v-33m2 7v109m2-86v-91m2 31v95m2-45v-88m2 38v157m2-73v-90m2-73v105m2 85v-101m2-21v98m2 19v-125m2-1v101m2 2v-89m2 1v123m2-2v-158m2 101v58m2-24v-39m2-74v145m2-119v-32m2-25v125m2 0v-87m2-95v239m2-18v-47m2-45v122m2-1v-134m2 25v125m2-115v-120m2 73v201m2-30v-141m2-75v108m2 80v-84m2 17v57m2-51v-83m2-25v53m2 44v-85m2-10v170m2-1v-194m2 14v159m2-6v-171m2 46v132m2-61v-73m2 35v111m2 2v-75m2 3v58m2-26v-49m2 0v37m2 7v-66m2 45v40m2-13v-49m2 9v81m2 2v-111m2 25v58m2-31v-50m2 0v80m2 67v-146m2-44v114m2-33v-40m2 31v153m2-63v-175m2 3v121m2 28v-110m2 22v73m2 8v-91m2-8v151m2-34v-134m2-3v198m2 29v-190m2-18v74m2 14v-64m2 34v89m2-20v-98m2-20v119m2-8v-71m2-71v104m2 19v-33m2-80v117m2-37v-108m2 22v87m2 2v-83m2-35v153m2-5v-142m2 75v72m2-4v-30m2-105v105m2 34v-93m2-85v184m2-56v-61m2-12v65m2 8v-76m2-27v169m2 50v-97m2-26v105m2-7v-141m2 35v134m2-121v-62m2-117v234m2 58v-134m2 23v33m2 14v-99m2 11v77m2 3v-94m2-56v163m2 74v-196m2-4v175m2 3v-130m2-9v46m2 11v-76m2 34v68m2 30v-60m2-22v61m2-20v-84m2-6v198m2-54v-58m2-77v77m2-34v-90m2 29v154m2-28v-78m2 44v54m2 40v-84m2-72v98m2 3v-127m2-14v189m2-39v-110m2-12v88m2 49v-85m2 24v50m2 16v-187m2 68v120m2-33v-41m2-69v119m2 26v-133m2 73v81m2 42v-106m2-135v183m2-74v-100m2 45v61m2 9v-97m2 47v51m2 39v-82m2-44v214m2-61v-134m2 28v153m2-57v-93m2-39v108m2-29v-81m2 25v55m2 79v-79m2-80v123m2-51v-56m2 8v31m2 67v-69m2-51v125m2-41v-56m2 14v85m2 20v-136m2-24v131m2-18v-88m2 27v67m2 17v-85m2 47v114m2-98v-57m2 0v105m2-49v-65m2 24v25m2 82v-84m2-59v79m2 74v-157m2 53v64m2 8v-88m2 19v61m2-27v-95m2 5v63m2 61v-158m2 87v68m2-26v-68m2-18v40m2 60v-82m2 5v102m2-29v-118m2-4v81m2 23v-96m2 52v82m2 8v-110m2 36v102m2-86v-76m2-59v180m2 17v-132m2 22v80m2 41v-128m2-71v148m2 81v-135m2-33v59m2 20v-88m2-30v155m2 5v-70m2 6v60m2-6v-79m2 28v47m2-38v-64m2 36v56m2 17v-169m2-41v177m2 51v-143m2 38v101m2 25v-145m2-38v150m2 34v-117m2-3v60m2 50v-119m2 3v76m2-31v-44m2-13v27m2 43v-89m2-13v119m2-14v-88m2 25v93m2 37v-93m2-28v112m2-50v-99m2 8v121m2 40v-68m2-106v155m2-62v-90m2-75v118m2 54v-64m2-8v75m2 29v-77m2 1v105m2-55v-74m2 23v108m2 40v-152m2-4v146m2-47v-125m2-45v64m2 27v-81m2 21v122m2 31v-100m2-12v94m2 19v-128m2-13v65m2 43v-51m2-140v173m2 9v-66m2 47v68m2-14v-75m2-14v62m2-10v-90m2 2v121m2 2v-107m2-135v213m2-23v-20m2-70v96m2 10v-98m2 38v78m2-13v-162m2 70v135m2 1v-161m2-9v96m2 57v-93m2-17v106m2 2v-165m2 84v142m2-65v-87m2 12v127m2-108v-55m2 32v91m2 13v-82m2-16v72m2 13v-73m2 7v40m2-9v-29m2-52v80m2-10v-53m2-8v58m2 55v-55m2-24v111m2-6v-84m2-79v112m2 23v-91m2 26v95m2-69v-26m2 11v33m2 2v-54m2-16v79m2 21v-142m2-10v154m2-8v-45m2-70v77m2 36v-89m2 3v63m2 13v-32m2-43v80m2-11v-81m2-5v73m2 137v-232m2 35v87m2 79v-168m2 2v110m2 7v-115m2-24v123m2 17v-154m2 89v73m2 3v-111m2 4v123m2 9v-172m2 31v74m2 17v-103m2 4v129m2-16v-55m2-73v199m2-49v-187m2 75v117m2 17v-87m2-30v61m2 29v-97m2-41v130m2-16v-124m2 57v84m2-2v-124m2 124v36m2-27v-91m2 6v35m2 11v-73m2 38v55m2-55v-155m2 131v121m2-9v-111m2 39v87m2-40v-93m2-5v108m2-39v-106m2-40v127m2 103v-228m2 68v100m2-15v-64m2-62v140m2-82v-59m2 47v131m2-2v-99m2 19v35m2 94v-171m2 21v57m2-52v-82m2-6v80m2 24v-107m2 50v109m2-61v-86m2 9v103m2 65v-130m2 3v72m2 11v-79m2 71v55m2-47v-99m2-7v155m2-37v-102m2-18v47m2 34v-64m2-16v26m2 131v-155m2 31v102m2 20v-93m2-44v95m2 15v-53m2-43v78m2 61v-156m2-10v69m2 64v-160m2-12v166m2-58v-26m2-9v64m2 43v-156m2 3v129m2-36v-69m2 14v100m2 31v-196m2 38v167m2 0v-171m2 77v51m2 2v-88"/>
<path stroke="#EDB120" d="M0 1298v107m2 1v-190m2 55v181m2-56v-63m2-93v164m2-34v-58m2-44v127m2-10v-112m2 13v125m2-47v-86m2-8v68m2 31v-88m2-81v107m2 42v-63m2 31v83m2-62v-81m2 32v76m2 19v-79m2-23v78m2-9v-45m2-13v148m2 26v-175m2-51v90m2 66v-66m2-27v99m2-40v-151m2 33v214m2-7v-213m2 33v93m2 31v-151m2 30v87m2 6v-95m2 4v114m2-41v-94m2 47v50m2-50v-33m2 30v111m2-81v-155m2 63v143m2-38v-26m2-5v25m2 5v-189m2 136v68m2 1v-77m2 11v98m2 33v-97m2 0v44m2 11v-68m2-46v124m2-16v-88m2-78v78m2 126v-206m2 59v135m2-24v-165m2 66v67m2-15v-116m2 57v45m2-32v-47m2 42v174m2-56v-122m2-39v182m2-50v-70m2-57v91m2 5v-101m2 37v84m2-49v-32m2-8v71m2 58v-68m2-55v63m2 17v-145m2 45v104m2 6v-106m2-16v96m2 68v-169m2 45v115m2 17v-169m2 15v19m2 13v-21m2-16v72m2 8v-29m2-89v175m2-68v-97m2 97v39m2-20v-70m2-13v146m2-17v-147m2-23v154m2 4v-54m2-153v195m2-3v-140m2 1v134m2 18v-149m2 105v74m2-74v-70m2 21v102m2 19v-73m2-48v62m2 57v-158m2-3v192m2 7v-139m2-91v199m2-39v-200m2 101v84m2 80v-136m2 19v86m2-17v-125m2-16v70m2 14v-76m2 72v52m2 10v-51m2-85v109m2-3v-97m2-10v97m2 14v-114m2 16v175m2 22v-186m2-21v37m2 44v-44m2 13v18m2 48v-95m2-102v172m2 9v-117m2 68v78m2-55v-86m2 19v79m2 31v-79m2 9v71m2 140v-252m2 3v134m2 3v-131m2 27v95m2-22v-66m2-73v140m2 50v-150m2 7v142m2-71v-197m2 108v129m2 47v-186m2 40v90m2 81v-171m2 0v136m2-41v-173m2 1v136m2 38v-163m2 64v89m2-27v-126m2 59v83m2 6v-57m2-5v63m2-13v-81m2 38v86m2-4v-75m2-45v73m2-25v-91m2 56v128m2-64v-91m2 20v82m2 38v-132m2-7v27m2 90v-94m2-11v148m2-39v-79m2-20v104m2-35v-85m2 11v62m2 46v-76m2-118v188m2-61v-80m2-17v71m2 85v-112m2 46v99m2-50v-127m2-53v271m2-19v-118m2-65v126m2 5v-98m2 30v52m2-26v-54m2-23v63m2 39v-129m2 54v72m2-10v-54m2-18v68m2 12v-67m2-6v125m2 29v-163m2 22v78m2-39v-89m2 38v83m2-16v-97m2 27v119m2-58v-54m2-88v113m2 98v-98m2-43v144m2-62v-50m2-56v112m2-12v-121m2-1v131m2 41v-94m2 13v59m2 3v-72m2-45v45m2 54v-109m2-65v160m2 13v-167m2 92v76m2 37v-144m2 23v116m2 26v-148m2-106v146m2 82v-99m2-10v106m2 0v-160m2 31v144m2 35v-169m2-29v109m2-3v-72m2-13v80m2-14v-97m2 87v62m2-1v-90m2-16v109m2-4v-121m2 15v81m2 21v-130m2-62v207m2-9v-68m2-64v133m2-24v-112m2 43v115m2 26v-206m2 6v95m2 22v-53m2-93v193m2-5v-150m2 30v168m2-63v-91m2 45v71m2-33v-66m2-19v95m2 1v-46m2-41v109m2-10v-136m2 10v102m2-22v-136m2 76v50m2 2v-79m2 8v80m2 28v-57m2-83v168m2-43v-107m2 52v70m2-50v-127m2-1v191m2-48v-134m2 134v34m2 28v-55m2-127v147m2 20v-150m2 22v137m2 20v-112m2-2v63m2 38v-149m2 50v108m2-14v-128m2 26v97m2-40v-80m2 18v67m2 7v-40m2 2v66m2-12v-62m2-47v122m2-78v-44m2-33v68m2 51v-54m2-162v195m2 31v-117m2 14v132m2 14v-141m2 19v62m2 76v-106m2-102v221m2-67v-88m2 2v66m2 1v-88m2 26v99m2-24v-79m2-27v119m2-27v-100m2 33v113m2-45v-109m2 49v125m2 36v-243m2 31v178m2-45v-128m2 16v138m2-118v-58m2 11v147m2 21v-125m2-48v130m2 44v-123m2-42v113m2-25v-79m2 14v122m2-23v-78m2 22v83m2 7v-100m2-18v54m2 64v-169m2 22v102m2 38v-95m2 11v110m2-19v-130m2-123v188m2 38v-101m2 37v64m2 3v-144m2 35v120m2 35v-148m2 6v114m2-26v-84m2-17v85m2 7v-74m2-31v77m2-12v-50m2 49v59m2-21v-88m2 7v71m2 15v-146m2 22v157m2 24v-70m2-84v137m2-38v-134m2 49v129m2 9v-60m2-91v132m2-59v-115m2-3v120m2 15v-94m2-7v147m2-87v-49m2 21v70m2 44v-120m2-68v172m2 38v-129m2-20v190m2-141v-114m2 49v55m2 67v-67m2 14v47m2 10v-102m2-46v116m2 5v-63m2 35v98m2-64v-63m2-9v110m2-38v-112m2-15v144m2 23v-143m2 32v129m2-70v-59m2 13v52m2 40v-132m2-12v100m2 58v-69m2-66v79m2-23v-151m2 4v155m2 78v-122m2 13v67m2 13v-74m2-22v125m2-27v-122m2 33v100m2-10v-161m2-1v159m2-30v-174m2 38v142m2 34v-156m2 22v69m2 39v-125m2 14v127m2-51v-85m2-27v126m2 85v-120m2-28v95m2-17v-191m2 85v111m2-10v-44m2-64v85m2-29v-53m2 39v64m2 6v-99m2-3v144m2-40v-108m2-27v68m2 63v-64m2-82v182m2-28v-151m2-12v104m2 54v-129m2 64v95m2-13v-95m2-28v96m2 45v-134m2 3v100m2-55v-49m2 18v43m2 16v-79m2-39v93m2 7v-34m2-51v79m2 50v-115m2 18v53m2 48v-119m2 19v96m2 69v-140m2-77v162m2-51v-71m2-2v143m2-20v-149m2 23v80m2 8v-49m2 31v134m2-49v-84m2-67v121m2 63v-159m2 19v95m2-49v-80m2-11v109m2-19v-111m2-13v108m2-37v-99m2 80v45m2 16v-116m2 28v87m2-68v-14m2 8v96m2-11v-145m2 19v140m2 40v-200m2 13v124m2 3v-73m2-15v80m2 2v-122m2-3v117m2 18v-139m2-3v160m2-17v-163m2 117v38m2-1v-86m2 12v58m2-15v-83m2-33v177m2 33v-193m2-23v124m2-2v-112m2 21v119m2-26v-144m2 53v93m2-6v-58m2-80v82m2 27v-53m2-34v65m2-8v-53m2-18v93m2 59v-98m2-63v68m2 5v-73m2-12v82m2-23v-66m2 28v101m2 37v-155m2 39v82m2-39v-137m2-9v78m2 5v-122m2 45v60m2 110v-197m2 53v176m2-59v-188m2-35v124m2-23v-84m2 42v19m2 60v-79m2 32v17m2 9v-131m2 33v135m2-124v-49m2 37v78m2-6v-55m2 3v38m2-12v-121m2 2v61m2 87v-154m2 43v64m2-30v-103m2 20v167m2-21v-142m2-2v148m2-82v-81m2-50v135m2-29v-105m2 39v90m2-39v-62m2-116v170m2-24v-136m2-41v157m2 37v-62m2-69v157m2-99v-44m2-27v99m2 20v-137m2 38v77m2-77v-10m2-91v98m2-28v-81m2-8v63m2 139v-139m2-92v167m2-88v-90m2 24v116m2 0v-168m2-14v179m2-49v-88m2-3v56m2-28v-89m2 89v25m2-10v-65m2 22v114m2-111v-123m2 19v81m2-4v-48m2-4v51m2 27v-42m2-93v121m2 15v-140m2-6v140m2-16v-134m2-71v214m2-70v-148m2 78v96m2-32v-105m2-22v91m2-15v-45m2-77v125m2 13v-152m2 29v46m2 27v-68m2-12v110m2-22v-40m2-108v108m2 69v-93m2-7v100m2-99v-94m2-46v102m2 95v-115m2-9v79m2-6v-87m2-37v104m2-7v-82m2 46v39m2-6v-84m2-37v104m2 6v-140m2 26v133m2-24v-120m2-26v120m2 0v-37m2-72v112m2-69v-75m2 5v149m2-10v-140m2 19v72m2 31v-63m2-91v128m2 21v-193m2 104v76m2-34v-74m2-10v94m2 20v-78m2-42v59m2 59v-89m2-16v47m2 52v-57m2-72v114m2 13v-107m2-38v109m2-35v-79m2 4v81m2 127v-205m2-38v100m2 33v-57m2-75v126m2-31v-73m2-44v226m2-31v-71m2-10v45m2 23v-96m2-25v114m2-32v-72m2-19v67m2-6v-47m2 17v64m2 32v-58m2-87v87m2-4v-32m2 5v28m2 10v-33m2-12v87m2 3v-96m2-63v136m2-8v-86m2-32v168m2-68v-171m2-2v177m2-35v-52m2-9v152m2-77v-89m2 19v116m2 14v-199m2 69v113m2 16v-170m2-1v178m2-60v-130m2 30v164m2-7v-196m2 32v121m2 144v-208m2-118v194m2-59v-131m2 131v44m2 45v-148m2-45v229m2-8v-125m2-43v158m2-28v-86m2-74v119m2 16v-135m2 76v65m2 54v-133m2-39v115m2-26v-91m2 6v216m2-111v-112m2 11v134m2 5v-142m2 2v145m2-10v-111m2 55v75m2-43v-53m2-31v42m2 63v-69m2 18v62m2 28v-159m2 87v94m2-94v-62m2-31v150m2 5v-162m2 54v75m2 2v-94m2 0v29m2 157v-157m2 3v151m2-72v-126m2 18v51m2 59v-94m2-12v99m2-66v-60m2 20v116m2 34v-159m2 1v167m2-115v-76m2 38v77m2 5v-53m2-61v90m2 46v-107m2 26v34m2-34v-99m2 73v80m2 75v-204m2 86v55m2 38v-117m2 75v54m2-52v-75m2-41v115m2 50v-107m2-69v194m2 2v-231m2 110v64m2 43v-119m2-15v91m2 61v-118m2-133v258m2-28v-176m2 22v166m2-37v-119m2-24v91m2 93v-93m2-48v123m2-10v-208m2 52v106m2-29v-101m2 45v56m2 71v-129m2-28v196m2 4v-161m2 0v145m2-11v-125m2-24v117m2-19v-82m2 64v43m2 26v-32m2-64v85m2 45v-176m2 58v110m2-19v-157m2-19v193m2 28v-137m2-34v37m2 85v-85m2-12v95m2 57v-149m2-12v156m2-77v-100m2 73v56m2-32v-56m2-111v122m2 43v-69m2-37v130m2 24v-135m2 0v96m2-13v-77m2-27v68m2 11v-100m2 63v97m2 34v-147m2 40v88m2 62v-148m2-31v138m2 8v-118m2-24v54m2-17v-15m2-85v170m2 43v-138m2-58v129m2-88v-38m2 7v97m2 20v-111m2 41v45m2 38v-152m2 23v172m2-62v-33m2-98v110m2 36v-87m2-8v140m2 37v-117m2-66v171m2-86v-40m2-112v112m2 6v-45m2 8v92m2 49v-163m2 70v85m2 28v-237m2 96v97m2 78v-186m2 117v50m2-49v-81m2-147v185m2 61v-159m2-17v202m2-83v-140m2 19v144m2 49v-178m2 15v64m2 16v-66m2-16v88m2 7v-72m2-1v41m2 44v-105m2-22v169m2 1v-135m2-96v170m2 33v-186m2 91v38m2 5v-63m2-15v180m2 7v-159m2 0v69m2-21v-65m2 7v121m2 45v-134m2-56v98m2-44v-44m2-10v131m2 40v-128m2-87v195m2-20v-63m2-3v178m2-16v-169m2-63v128m2 26v-128m2-31v135m2 32v-32m2-145v167m2 23v-115m2-2v89m2-9v-111m2-12v101m2 26v-46m2-63v114m2 105v-177m2-77v182m2-50v-73m2-15v107m2-3v-126m2-4v114m2-15v-96m2 36v67m2 7v-95m2-13v102m2 2v-80m2 60v59m2 94v-116m2-121v249m2-118v-79m2-15v125m2-59v-100m2-2v174m2 5v-244m2 157v80m2-7v-78m2-25v25m2 9v-56m2-43v109m2 18v-31m2-18v91m2 26v-136m2 3v137m2 6v-113m2-20v85m2 27v-156m2 35v38m2 42v-98m2-37v154m2-48v-119m2 68v51m2 22v-85m2-46v96m2 46v-75m2-47v203m2-99v-112m2 112v65m2-49v-61m2-1v91m2-4v-74m2-69v72m2 50v-80m2-39v199m2-39v-189m2 18v92m2-7v-84m2-5v178m2-66v-118m2 103v67m2-4v-59m2-47v67m2 82v-141m2-15v110m2-3v-108m2-46v74m2 76v-76m2-58v131m2 33v-228m2 45v116m2 15v-89m2-53v204m2 22v-90m2-51v91m2-83v-24m2 4v32m2 74v-95m2 48v27m2-10v-69m2-25v53m2 62v-116m2 13v37m2 35v-35m2 19v49m2 15v-142m2-80v254m2-35v-152m2 68v81m2-35v-64m2 30v68m2-14v-86m2-27v82m2 105v-165m2 81v115m2-36v-179m2 63v61m2-2v-114m2-5v118m2 43v-145m2-59v88m2 118v-253m2 119v119m2-62v-138m2 108v107m2-72v-38m2-74v77m2 87v-139m2 13v115m2 25v-122m2-16v66m2 31v-87m2-45v142m2-4v-76m2-27v59m2 42v-67m2-86v217m2-43v-109m2-7v103m2-8v-86m2 19v113m2 27v-191m2 58v69m2 16v-128m2 45v117m2-10v-121m2-67v120m2-3v-130m2-3v53m2 125v-125m2-40v189m2-13v-108m2 15v37m2 15v-165m2 71v114m2 25v-139m2 44v60m2 52v-256m2 163v81m2 13v-148m2 3v103m2 4v-105m2-45v142m2-6v-104m2 20v59m2-2v-58m2 54v45m2-32v-23m2-3v33m2 87v-149m2-47v106m2 75v-126m2-54v177m2-59v-80m2 9v71m2 54v-180m2 17v41m2 57v-101m2-1v68m2 26v-101m2 25v77m2 15v-118m2-50v260m2-28v-94m2-113v155m2 34v-100m2-31v132m2-63v-81m2 13v52m2 104v-136m2 25v106m2-80v-114m2 82v42m2 20v-130m2 29v117m2-13v-128m2 0v132m2 18v-93m2 80v81m2-81v-79m2-3v67m2-18v-141m2 129v34m2 8v-124m2 48v63m2 0v-70m2 16v77m2-54v-79m2-13v128m2 59v-183m2 39v85m2 75v-180m2 45v87m2-2v-128m2 33v115m2-6v-30m2-58v64m2 3v-155m2 111v99m2-90v-84m2 17v133m2-30v-98m2-41v103m2 13v-19m2-142v282m2-140v-78m2 19v69m2 76v-105m2-26v85m2 18v-101m2-4v63m2 19v-75m2 13v61m2 7v-62m2-15v101m2-71v-34m2-60v86m2 86v-123m2-59v127m2 26v-102m2 20v75m2-34v-45m2 45v34m2 13v-103m2-64v146m2 6v-110m2 20v73m2 30v-109m2 50v61m2-27v-55m2-26v66m2 44v-159m2 73v79m2 4v-36m2-26v89m2-32v-122m2 92v55m2-25v-86m2-36v159m2-118v-35"/>
<path stroke="#7E2F8E" d="M0 1251v125m2-27v-67m2-35v116m2-20v-61m2 24v78m2-20v-60m2-17v68m2 27v-186m2-68v305m2-58v-87m2-23v54m2 23v-119m2 2v217m2-120v-71m2 71v116m2-64v-49m2-35v67m2 30v-121m2 1v96m2-10v-101m2 0v145m2-104v-38m2-9v124m2-30v-41m2-37v56m2-30v-58m2 49v136m2-3v-70m2-50v52m2 8v-40m2-70v229m2-54v-173m2-35v159m2-33v-76m2-51v127m2 15v-31m2-40v74m2 53v-125m2-11v14m2 73v-74m2 31v135m2-50v-132m2-30v109m2 61v-194m2 41v129m2 24v-169m2 73v62m2 20v-131m2 6v98m2-22v-91m2 4v73m2 43v-75m2-50v95m2 43v-167m2 99v41m2-25v-58m2-85v114m2 44v-110m2 51v179m2 7v-272m2 107v67m2 24v-115m2-17v179m2-61v-83m2 19v80m2-15v-50m2-46v59m2 58v-138m2-8v167m2-52v-65m2-41v109m2-40v-73m2 18v70m2-7v-47m2 4v99m2-36v-107m2 101v40m2-11v-66m2-80v97m2 44v-120m2 47v68m2-1v-93m2-5v59m2-22v-40m2-53v94m2-17v-22m2-9v74m2 22v-35m2-28v48m2 89v-253m2 71v141m2-49v-82m2-20v168m2-67v-162m2 25v232m2-116v-88m2 51v63m2-15v-47m2-24v62m2 74v-123m2 9v60m2 25v-141m2 36v126m2-59v-102m2 21v84m2 55v-173m2-8v188m2 30v-188m2 63v73m2 6v-78m2-87v116m2 82v-183m2 6v72m2 48v-130m2-26v155m2 5v-30m2-124v156m2-41v-78m2 3v127m2-79v-76m2 57v51m2-37v-93m2 57v114m2 3v-138m2 123v42m2 39v-170m2-43v168m2-21v-124m2-16v166m2-73v-100m2 87v107m2-41v-41m2-12v67m2-34v-88m2-11v106m2 10v-48m2-74v106m2 49v-150m2-32v190m2-47v-133m2 30v118m2 0v-181m2 14v170m2-64v-97m2 43v89m2-18v-84m2 43v145m2-48v-115m2 34v42m2-4v-27m2-118v194m2 7v-166m2-13v183m2-21v-163m2-7v145m2 5v-117m2 71v29m2-11v-29m2-55v89m2 34v-63m2-66v75m2 107v-168m2 12v83m2 39v-62m2-16v72m2 4v-125m2-96v204m2-50v-56m2-25v167m2-27v-123m2 39v64m2 7v-60m2-27v85m2-75v-19m2 13v46m2 13v-27m2 27v73m2 4v-142m2-19v78m2-39v-50m2-62v140m2 10v-117m2 4v87m2-15v-36m2 32v83m2-70v-50m2 50v93m2-78v-77m2 30v62m2 64v-149m2-4v87m2 17v-66m2 48v32m2 15v-94m2-31v122m2-30v-57m2-73v88m2 4v-104m2-13v148m2 44v-217m2 129v103m2-3v-92m2-159v214m2 39v-100m2-58v131m2-41v-86m2 47v52m2-20v-25m2-82v174m2-68v-154m2 24v146m2 43v-50m2-57v103m2-44v-60m2 23v52m2-28v-64m2-4v77m2 39v-61m2-76v89m2 45v-99m2 2v72m2 10v-10m2-126v136m2 12v-110m2 20v110m2-50v-103m2 81v37m2-16v-71m2 3v78m2-36v-116m2-20v127m2 39v-67m2-15v77m2 24v-116m2 93v129m2-113v-169m2 64v65m2 89v-158m2 37v76m2 12v-80m2-27v85m2 54v-105m2-29v75m2 22v-119m2-56v191m2 10v-109m2 4v76m2 9v-74m2-39v93m2-36v-88m2-20v148m2 52v-166m2-31v149m2 65v-227m2 134v120m2-107v-94m2-27v216m2-73v-119m2-20v88m2 37v-93m2-18v113m2 49v-137m2-36v121m2 11v-143m2 72v89m2-62v-87m2 25v103m2-9v-99m2 39v67m2-22v-64m2-29v114m2-6v-25m2-21v59m2-10v-110m2 43v51m2 47v-131m2-13v117m2 75v-205m2-23v130m2 93v-155m2-30v112m2-8v-74m2-65v192m2-1v-164m2-4v113m2 27v-94m2 5v99m2-79v-73m2 49v107m2-56v-128m2 79v46m2-15v-95m2 66v71m2-22v-57m2 22v41m2 24v-72m2-28v101m2 13v-76m2-43v95m2 10v-180m2 125v99m2-44v-114m2 53v56m2 39v-125m2-11v250m2-37v-189m2-44v141m2 26v-134m2-39v62m2 56v-120m2 35v118m2 48v-145m2 13v102m2-39v-70m2 38v32m2 54v-87m2-30v30m2 11v-108m2 16v113m2 13v-90m2 6v36m2 18v-126m2-47v172m2 34v-152m2 59v66m2-20v-35m2-36v36m2-36v-89m2 70v78m2 71v-132m2-31v145m2 31v-147m2 28v167m2-141v-55m2-11v129m2-3v-89m2 3v49m2 12v-14m2-32v83m2-82v-62m2-7v118m2 14v-98m2-22v79m2 20v-70m2-7v115m2-8v-108m2-28v147m2-31v-124m2 14v248m2-135v-111m2-44v168m2-31v-76m2-11v83m2 2v-107m2-18v159m2 74v-254m2 90v203m2-153v-32m2 13v63m2-34v-150m2 21v192m2-56v-106m2-4v34m2 86v-132m2 13v150m2-7v-103m2-21v74m2 31v-98m2 98v45m2 3v-112m2 4v108m2-72v-194m2 137v107m2-33v-90m2-6v50m2 46v-159m2 96v110m2-18v-97m2-25v66m2 24v-89m2-75v164m2 41v-181m2 41v131m2-28v-95m2-1v65m2-2v-73m2-24v84m2 48v-79m2-43v78m2 51v-147m2-3v145m2-9v-118m2-23v112m2-18v-34m2 6v29m2 44v-56m2-10v72m2-31v-46m2 7v42m2-8v-37m2-13v67m2 7v-80m2 24v80m2-48v-88m2 42v75m2 29v-143m2-4v145m2-15v-94m2-49v107m2-15v-50m2-27v133m2-33v-264m2 193v32m2-16v-55m2 5v134m2 2v-106m2-21v69m2 11v-100m2-21v78m2 46v-108m2 45v62m2 27v-91m2-43v110m2 42v-162m2 51v148m2-100v-74m2-35v84m2 51v-145m2 56v66m2-5v-158m2 86v71m2 32v-217m2 87v74m2 101v-183m2-86v181m2 12v-68m2 3v70m2-29v-139m2 65v65m2 12v-48m2-46v57m2 8v-52m2-24v95m2 44v-86m2-38v64m2 67v-146m2-21v176m2-69v-103m2 30v119m2-114v-100m2 36v98m2 33v-131m2-69v127m2 18v-92m2-25v126m2-12v-58m2-149v224m2-24v-75m2 43v54m2-28v-21m2-98v127m2 24v-150m2-4v88m2 29v-93m2-27v69m2-4v-57m2-7v51m2 35v-37m2-2v72m2-72v-45m2-22v58m2 74v-82m2-36v63m2 0v-34m2-58v72m2-4v-83m2 35v58m2 11v-128m2 31v164m2-76v-132m2 52v101m2-28v-127m2-9v172m2-87v-56m2-6v59m2 78v-233m2-3v151m2 38v-160m2-7v86m2 67v-91m2-33v116m2 62v-181m2-5v25m2 18v-84m2 5v94m2-1v-82m2-54v112m2 74v-162m2-39v155m2 26v-188m2-5v179m2-132v-63m2 25v117m2-51v-54m2-41v94m2-24v-47m2-2v93m2-31v-130m2-9v117m2-37v-77m2-37v202m2 13v-103m2-148v202m2-38v-125m2-36v169m2 5v-172m2 15v52m2 57v-153m2 39v123m2-28v-115m2-47v170m2 42v-83m2-65v100m2-41v-78m2-22v89m2 14v-67m2-13v61m2-11v-80m2-157v238m2 57v-250m2 71v119m2-87v-52m2-4v234m2-78v-143m2 28v69m2 38v-90m2-40v98m2 29v-142m2 0v148m2 6v-140m2-73v151m2 73v-195m2-15v76m2-20v-50m2-125v193m2-12v-105m2-23v100m2 17v-122m2 55v41m2 66v-99m2-61v141m2-73v-65m2-20v111m2 16v-124m2-13v81m2 70v-72m2-78v94m2 39v-81m2-99v162m2 7v-154m2 21v106m2-61v-83m2 0v105m2 15v-107m2 47v49m2-5v-39m2-126v142m2 16v-139m2 17v131m2-74v-119m2 5v70m2 8v-37m2-34v69m2 44v-51m2-52v112m2-47v-20m2-110v162m2 83v-195m2 27v119m2-64v-115m2 11v109m2 23v-109m2-59v145m2 12v-124m2 73v47m2-21v-88m2 57v18m2-18v-67m2-42v76m2 41v-100m2 4v63m2-6v-75m2 9v93m2-41v-57m2 46v88m2-62v-112m2 29v86m2-20v-76m2 8v111m2-12v-97m2 14v80m2 17v-103m2-62v197m2-83v-128m2 53v46m2 73v-137m2-3v131m2 3v-114m2-45v65m2 4v-54m2 14v150m2-65v-103m2-27v160m2-19v-110m2 8v32m2 97v-97m2-54v101m2 33v-131m2 38v105m2-96v-79m2 11v93m2-12v-94m2 70v57m2 0v-103m2 23v90m2 8v-158m2 110v68m2-68v-158m2 42v142m2 0v-78m2-155v226m2 104v-190m2-17v84m2 111v-189m2-42v141m2-2v-108m2-45v135m2 34v-132m2 32v110m2 30v-139m2 9v74m2 20v-193m2 46v77m2 61v-144m2 1v97m2 51v-93m2-111v256m2-22v-139m2-11v174m2-134v-42m2 24v63m2 27v-114m2 29v82m2 1v-68m2-16v72m2 18v-119m2-2v78m2 87v-100m2-50v147m2-40v-114m2-52v147m2 42v-120m2-50v95m2 26v-130m2-8v166m2 44v-84m2-126v126m2 18v-107m2 34v125m2-16v-152m2 13v139m2-8v-133m2 55v75m2 2v-75m2-48v68m2 0v-120m2 31v88m2 48v-128m2-8v197m2-61v-123m2-35v108m2 40v-91m2-37v141m2-11v-137m2 36v129m2-20v-128m2-7v126m2-20v-114m2 69v67m2-46v-28m2-71v92m2 21v-79m2 8v173m2-37v-131m2 68v55m2-32v-37m2-68v136m2-32v-89m2 11v60m2-10v-27m2-30v134m2-1v-156m2 29v107m2-25v-59m2-30v59m2 61v-61m2-36v157m2-31v-122m2-54v126m2 33v-77m2-37v60m2-31v-28m2-6v94m2-42v-63m2-14v95m2 4v-99m2 1v106m2 26v-60m2-43v48m2-30v-28m2-9v89m2-48v-25m2-5v138m2-3v-205m2 123v81m2-27v-55m2-50v83m2 57v-113m2-30v137m2-37v-41m2-66v175m2-51v-118m2 6v109m2 1v-102m2-33v125m2 52v-85m2-117v193m2-27v-112m2-22v83m2 26v-124m2 85v100m2-50v-65m2-2v35m2 39v-61m2-1v79m2-67v-49m2-93v167m2 36v-199m2 23v150m2-3v-70m2-29v98m2-44v-49m2 49v68m2 76v-177m2 20v139m2-57v-80m2 3v100m2-7v-77m2-13v49m2 54v-66m2-56v96m2-45v-19m2-28v136m2-76v-92m2-9v146m2-67v-43m2 12v82m2-49v-54m2 5v88m2 51v-87m2-18v101m2-19v-70m2-61v147m2 3v-133m2 5v103m2-8v-85m2-31v122m2-3v-71m2-44v44m2 27v-100m2-26v148m2 29v-66m2-97v111m2-10v-34m2-56v108m2 8v-99m2 17v93m2-12v-75m2 28v77m2 45v-134m2 40v38m2 12v-105m2 95v51m2-51v-71m2 29v45m2 14v-91m2-13v141m2-23v-187m2 133v130m2-70v-113m2-32v75m2 10v-78m2 0v150m2-52v-139m2 93v86m2 27v-219m2 79v107m2-1v-57m2 29v38m2-2v-118m2-27v59m2 88v-95m2-63v119m2 2v-78m2 14v77m2 56v-174m2 50v44m2-2v-42m2 33v27m2-26v-32m2-10v130m2-47v-147m2 51v109m2 52v-124m2-130v241m2-69v-51m2-59v118m2 6v-87m2-6v46m2 44v-83m2 18v57m2 38v-39m2 2v14m2-6v-58m2-39v75m2-14v-81m2-1v113m2 3v-54m2-9v39m2 81v-140m2 1v82m2 28v-79m2-12v95m2 77v-148m2-19v128m2-40v-53m2-37v173m2-108v-101m2-16v126m2 69v-205m2 36v96m2 30v-86m2-9v61m2-33v-97m2-24v144m2 87v-156m2-2v102m2 66v-124m2-17v86m2 26v-123m2-11v102m2 8v-175m2 49v128m2-43v-82m2 22v87m2-34v-94m2 48v72m2 1v-57m2-18v84m2 84v-152m2 15v117m2-116v-50m2 22v125m2 54v-126m2-66v101m2-4v-103m2 28v98m2-90v-43m2-6v157m2-15v-155m2 85v105m2-71v-69m2 12v124m2-62v-64m2 53v77m2 12v-175m2 24v111m2 1v-69m2-89v123m2-47v-45m2 20v56m2-10v-79m2 1v155m2 5v-178m2 8v153m2 69v-192m2 40v72m2 31v-162m2-35v235m2-34v-193m2-49v128m2 70v-133m2 55v82m2-24v-66m2 28v87m2-26v-84m2 40v56m2-55v-23m2-68v80m2 83v-96m2 9v92m2-38v-109m2 0v164m2-59v-77m2-3v50m2 63v-72m2 1v61m2 18v-89m2-74v98m2 51v-137m2-42v188m2 0v-44m2-154v166m2-10v-55m2 9v81m2-17v-81m2 16v71m2-13v-63m2-57v65m2 88v-88m2-83v145m2 20v-121m2 44v88m2-3v-118m2 90v56m2 16v-135m2 66v97m2-60v-67m2-49v156m2-119v-64m2 64v34m2 0v-104m2-8v134m2-1v-150m2 46v189m2-54v-146m2 49v58m2-22v-71m2 32v46m2 37v-167m2 84v81m2-65v-25m2 12v16m2-9v-76m2 16v173m2-32v-112m2 9v59m2 38v-94m2 38v88m2-59v-96m2-3v94m2 20v-108m2 13v140m2-31v-102m2-3v131m2-51v-124m2 51v75m2-33v-111m2 57v88m2 47v-102m2-86v140m2 105v-160m2 0v129m2-69v-68m2 0v58m2 16v-103m2-24v156m2-24v-107m2 69v71m2-1v-152m2 9v136m2 38v-193m2 40v34m2 124v-194m2 37v95m2 56v-196m2 140v63m2-23v-205m2-5v105m2 88v-190m2 57v72m2 38v-90m2-1v55m2 3v-107m2 32v167m2-65v-100m2 48v98m2-12v-88m2-47v133m2-36v-29m2-41v116m2-77v-38m2-60v107m2 46v-109m2 15v118m2 35v-173m2 30v111m2-4v-73m2-31v90m2 6v-52m2-76v103m2-25v-80m2 49v98m2-42v-101m2 23v110m2-2v-101m2-19v53m2 20v-55m2-39v88m2 85v-94m2-76v125m2-7v-40m2-24v129m2-39v-107m2 19v84m2-7v-80m2-15v68m2 61v-87m2-98v167m2-38v-122m2 23v54m2 43v-82m2 49v52m2-28v-68m2 20v24m2 39v-99m2-37v102m2 16v-97m2 70v137m2-53v-78m2-62v130m2-4v-132m2 29v56m2 24v-92m2 51v106m2-106v-70"/>
<path stroke="#77AC30" d="M0 1312v10m2 30v-48m2-77v148m2-33v-108m2 44v51m2 39v-82m2 11v104m2-24v-88m2-94v192m2 33v-175m2 33v121m2-9v-118m2 4v97m2-45v-40m2-45v125m2-39v-126m2 41v106m2-33v-89m2 62v116m2-53v-123m2 19v136m2-52v-98m2 14v84m2-11v-61m2 61v120m2-76v-84m2 37v53m2-5v-64m2 2v88m2 70v-174m2 16v105m2-9v-206m2 72v104m2-17v-101m2 63v78m2 23v-100m2-30v74m2 33v-120m2-17v62m2 20v-40m2 29v37m2 18v-192m2 24v149m2-51v-94m2 43v93m2 10v-151m2 3v181m2 24v-140m2 5v117m2-59v-90m2 75v49m2 2v-123m2-15v111m2-10v-41m2 17v158m2-119v-40m2-53v146m2 64v-118m2-86v189m2-118v-76m2-15v98m2-44v-101m2 73v238m2-112v-93m2 14v64m2-6v-35m2-112v124m2 29v-116m2 25v57m2 56v-116m2 13v111m2-5v-128m2-29v160m2-97v-122m2 41v93m2 3v-90m2-17v74m2 79v-111m2-13v101m2-1v-114m2 13v149m2 43v-140m2-48v103m2 11v-101m2 49v76m2 48v-179m2-2v178m2-43v-134m2-9v113m2 70v-153m2-80v241m2-150v-132m2 65v150m2-22v-94m2 40v92m2 28v-143m2-5v85m2-2v-117m2 72v19m2 56v-81m2-43v115m2-11v-177m2 127v76m2-15v-91m2-4v76m2 43v-134m2 23v127m2-21v-143m2 74v75m2-53v-60m2-20v99m2 34v-100m2-39v140m2-82v-62m2-43v140m2 47v-47m2-147v195m2 0v-175m2 71v32m2 37v-104m2 56v47m2-23v-55m2-42v157m2-62v-52m2 28v143m2-32v-103m2-145v211m2-61v-161m2 4v187m2-49v-129m2 53v152m2 21v-157m2 47v92m2-3v-73m2-119v160m2-3v-82m2 3v108m2-2v-99m2-13v52m2 30v-97m2 44v102m2-102v-102m2 45v66m2-4v-85m2 79v66m2-9v-57m2-49v102m2 47v-226m2 109v126m2 6v-142m2 12v60m2 0v-17m2-31v31m2 70v-85m2-3v49m2 66v-223m2 54v81m2 41v-97m2 45v44m2-6v-40m2-96v140m2 22v-187m2 100v56m2 1v-28m2-102v176m2 68v-257m2 31v127m2 21v-180m2 13v83m2 77v-77m2 17v80m2-33v-80m2-38v95m2-20v-57m2 11v119m2-57v-66m2 27v66m2 75v-143m2-26v95m2 6v-72m2 2v160m2-83v-121m2 32v84m2-31v-85m2 9v26m2 56v-128m2 42v74m2 20v-124m2-75v165m2 60v-92m2-43v165m2-10v-176m2-12v121m2-18v-120m2 0v87m2 95v-167m2 137v27m2 8v-46m2-51v97m2-24v-179m2-41v163m2 34v-107m2 41v133m2-21v-134m2-33v117m2 31v-136m2 12v97m2 29v-133m2 46v100m2 17v-126m2-52v191m2-20v-120m2 44v104m2-89v-17m2-110v110m2 62v-160m2 37v82m2 3v-30m2-95v95m2 40v-125m2 16v87m2 45v-157m2-14v95m2 16v-56m2 15v120m2-35v-110m2-20v47m2 60v-61m2-12v219m2-143v-31m2-24v81m2-43v-45m2-29v77m2 82v-165m2 36v71m2 13v-88m2 42v43m2 44v-115m2-73v213m2-41v-85m2 0v81m2 7v-174m2 27v141m2 82v-180m2 45v131m2-131v-85m2-17v113m2 30v-115m2 17v86m2 15v-125m2-31v120m2 45v-148m2 68v100m2-70v-46m2 45v42m2 1v-109m2-11v33m2 162v-195m2 15v87m2 10v-130m2 75v75m2-16v-100m2-20v220m2-93v-70m2-49v64m2 42v-158m2 11v121m2-3v-95m2 37v123m2 29v-168m2 27v110m2-35v-52m2-28v72m2 115v-250m2 66v31m2 54v-143m2-27v185m2-45v-166m2 80v80m2 91v-193m2 39v93m2 45v-147m2 46v87m2-3v-66m2-12v70m2-23v-146m2-12v146m2 31v-179m2 45v118m2 39v-62m2-32v86m2-31v-53m2-32v91m2 26v-135m2 38v78m2 17v-94m2-84v120m2 40v-80m2-40v116m2-30v-44m2-12v76m2 17v-111m2-9v75m2 3v-86m2 1v187m2-28v-154m2-53v203m2-58v-159m2 130v44m2 12v-97m2-13v119m2 21v-109m2-70v112m2 37v-100m2-49v153m2 86v-215m2 13v119m2-25v-70m2-30v75m2 18v-102m2 40v97m2-3v-67m2-36v99m2-18v-67m2-27v92m2-34v-93m2 42v108m2-34v-89m2 22v63m2 60v-162m2-64v104m2 106v-124m2 21v120m2-120v-32m2 13v79m2 5v-46m2 18v81m2-1v-146m2-15v77m2 57v-95m2 29v26m2 123v-226m2 50v82m2 3v-43m2-128v135m2 37v-81m2 30v10m2 2v-109m2 16v60m2 5v-108m2 21v85m2 89v-176m2 28v38m2 73v-128m2 107v45m2-30v-134m2 36v114m2-38v-47m2-38v80m2 92v-154m2 11v65m2 3v-50m2-64v129m2 63v-169m2-107v142m2 49v-58m2-7v22m2 59v-80m2 12v51m2 2v-47m2-47v47m2-2v-49m2-1v98m2 22v-56m2-30v73m2 15v-101m2-59v161m2-19v-73m2 12v91m2-20v-55m2-68v70m2-19v-69m2 41v50m2 57v-97m2-10v49m2 167v-209m2-25v145m2-44v-140m2 34v48m2-8v-27m2-19v129m2-79v-48m2 22v53m2 1v-113m2 92v77m2-13v-103m2-26v89m2-3v-87m2 2v48m2-1v-63m2-4v86m2 15v-37m2-17v63m2-42v-46m2 14v81m2-48v-129m2 22v110m2 76v-151m2 34v51m2-22v-51m2-34v145m2 2v-54m2-89v89m2 91v-157m2 0v146m2-89v-81m2 6v81m2 33v-116m2-51v195m2-104v-101m2 18v125m2 11v-112m2-47v105m2-38v-37m2 8v120m2-70v-25m2-42v69m2 46v-144m2 0v92m2 35v-117m2-20v136m2-5v-145m2 98v72m2 6v-88m2-61v66m2 109v-148m2 34v88m2-13v-103m2 14v57m2-17v-74m2-24v54m2 6v-73m2 30v76m2 66v-164m2 18v119m2-71v-90m2 28v116m2 17v-189m2 66v65m2 35v-232m2 47v157m2-19v-49m2-57v83m2 36v-193m2-15v322m2-97v-123m2 42v105m2-92v-82m2-22v161m2-67v-99m2-1v140m2 0v-159m2-13v169m2 11v-143m2-75v116m2 59v-77m2-44v150m2-26v-83m2-4v123m2-45v-80m2-7v72m2-32v-96m2-14v139m2 5v-111m2-20v106m2-17v-82m2-32v106m2 6v-92m2-71v234m2-94v-66m2-73v138m2-6v-117m2 104v48m2-34v-139m2 1v32m2 39v-87m2 71v78m2-55v-134m2 43v125m2-11v-144m2 22v199m2-16v-105m2-39v112m2-65v-145m2 57v64m2 33v-115m2 24v67m2 7v-69m2-50v172m2-68v-94m2 7v62m2 90v-135m2-55v111m2-62v-93m2-4v184m2-122v-29m2-6v129m2-9v-136m2-4v132m2 27v-166m2 19v102m2-76v-150m2 0v139m2 10v-106m2 45v77m2 26v-132m2 128v33m2-22v-143m2 84v65m2-24v-128m2-34v83m2 81v-159m2 71v77m2-29v-141m2-2v67m2 13v-59m2 43v98m2 31v-163m2 77v31m2-10v-120m2-34v34m2 22v-56m2-6v75m2 70v-161m2 32v118m2-43v-106m2-25v131m2 31v-224m2 6v118m2 7v-43m2 32v53m2 0v-127m2 8v60m2-14v-30m2-52v53m2 40v-116m2 26v162m2-129v-173m2 168v87m2-26v-48m2-79v170m2-10v-115m2-64v88m2 51v-101m2-45v112m2-5v-80m2-22v129m2-32v-180m2 75v92m2 23v-113m2-34v121m2-48v-79m2 56v97m2 10v-132m2-52v104m2 55v-162m2 13v142m2-4v-189m2 55v128m2-52v-84m2 32v57m2 28v-47m2-100v100m2-5v-61m2 30v45m2 0v-153m2 29v221m2-73v-173m2-36v94m2 124v-155m2-14v176m2-60v-66m2-3v42m2-21v-63m2-4v64m2 42v-107m2 11v95m2-39v-84m2 49v59m2-18v-106m2 11v70m2 8v-25m2-51v55m2 0v-77m2 27v13m2-1v-59m2-4v105m2 9v-100m2-96v154m2 90v-211m2-13v217m2-88v-138m2 115v40m2-29v-100m2 1v100m2 105v-219m2 77v109m2-109v-23m2 1v104m2 0v-101m2 8v46m2-22v-48m2-44v81m2 14v-63m2 12v97m2-79v-21m2 21v145m2-75v-115m2-95v159m2 43v-81m2-70v114m2 56v-98m2-52v150m2-34v-83m2-60v147m2 37v-181m2-16v143m2 0v-76m2 4v90m2-20v-105m2-22v195m2-60v-146m2 47v47m2-47v-70m2 31v47m2 84v-84m2-17v127m2-73v-101m2 12v100m2-1v-92m2 22v65m2-36v-96m2 96v66m2 15v-119m2-11v60m2 80v-189m2 44v139m2-62v-95m2 43v95m2 37v-146m2-50v132m2 0v-82m2-68v171m2-35v-134m2 26v55m2 81v-140m2 39v118m2-56v-89m2 34v126m2-33v-44m2-18v49m2 49v-87m2 25v60m2-43v-143m2 65v22m2 19v-33m2-12v53m2 11v-90m2 55v48m2 35v-145m2-25v59m2 26v-49m2 8v75m2-15v-89m2 35v50m2 76v-149m2 0v132m2-63v-122m2-2v134m2-22v-12m2-52v75m2 38v-121m2 11v85m2 97v-130m2 1v46m2 36v-133m2-107v246m2-79v-189m2 120v87m2-18v-66m2-47v85m2 65v-120m2 15v87m2 61v-108m2-86v149m2-62v-123m2 120v79m2 29v-182m2 88v69m2-27v-108m2 15v99m2 85v-98m2-28v139m2-93v-59m2-20v75m2-64v-74m2 74v169m2-105v-70m2-134v261m2 8v-194m2 17v90m2 23v-107m2 63v14m2 24v-56m2-87v184m2-5v-129m2 8v128m2 0v-125m2 21v137m2-100v-108m2-26v189m2-1v-132m2 81v45m2-34v-60m2-42v82m2 45v-87m2-22v79m2-5v-117m2 72v87m2-50v-80m2-5v183m2-6v-130m2 6v74m2 8v-56m2-81v89m2 27v-113m2 30v58m2 49v-80m2 11v58m2 19v-107m2-2v91m2-57v-57m2 19v90m2 13v-93m2 4v46m2-8v-18m2 17v39m2-3v-42m2-72v104m2 6v-49m2-11v122m2-63v-217m2 129v110m2-18v-65m2-31v81m2-44v-74m2-51v203m2-13v-87m2-31v104m2 48v-142m2 32v124m2-15v-130m2 4v57m2 5v-98m2 46v131m2-52v-95m2-31v110m2 120v-133m2-75v127m2 81v-127m2-11v166m2-166v-113m2 100v121m2 40v-172m2-64v117m2 50v-172m2 69v43m2-7v-56m2 13v104m2-18v-85m2-9v149m2-15v-145m2 46v104m2-47v-27m2 8v56m2 14v-92m2-62v120m2 14v-29m2-75v88m2 35v-125m2-79v80m2 55v-107m2 8v117m2 21v-36m2-39v75m2-42v-46m2 6v71m2-20v-47m2-89v143m2-20v-95m2 38v54m2 22v-53m2 26v27m2 16v-70m2-30v86m2 55v-145m2 22v81m2 77v-152m2 26v119m2-7v-132m2 64v27m2 1v-57m2-54v74m2 101v-101m2 9v66m2-50v-68m2-84v203m2-11v-204m2 117v99m2-28v-102m2 13v62m2 79v-140m2-41v148m2-77v-110m2 110v61m2-51v-85m2-9v137m2 35v-85m2-48v62m2 69v-101m2-33v109m2 41v-177m2 1v61m2 4v-29m2-7v87m2 24v-150m2 20v120m2-51v-126m2 60v105m2 34v-124m2-23v107m2 37v-79m2-34v65m2-11v-84m2 66v43m2-43v-127m2 76v58m2 30v-92m2 89v29m2-29v-94m2-18v100m2-27v-94m2 94v94m2 11v-46m2-30v58m2 10v-109m2-3v153m2-58v-122m2-25v163m2-65v-59m2 50v19m2 37v-100m2 38v69m2 1v-111m2 13v143m2-97v-78m2 24v100m2-9v-87m2-90v231m2-65v-54m2 6v103m2 10v-80m2-51v51m2 1v-56m2-11v65m2 40v-87m2-7v53m2-2v-36m2 2v141m2-63v-75m2-1v80m2-60v-100m2 43v151m2-1v-89m2-26v114m2-43v-54m2-36v101m2-68v-89m2 62v46m2-10v-59m2-30v111m2 38v-120m2 63v88m2-44v-27m2-31v37m2 10v-47m2-1v129m2-117v-71m2 66v45m2-13v-49m2 3v70m2-10v-69m2 0v100m2-13v-120m2-35v125m2 35v-90m2-2v51m2 68v-138m2 24v95m2-8v-120m2 0v133m2 3v-96m2-17v139m2-74v-77m2 21v110m2 1v-59m2-67v158m2-4v-145m2-4v129m2-69v-69m2 34v97m2-35v-101m2 9v136m2-26v-141m2 28v118m2-49v-51m2-13v72m2 126v-168m2-35v102m2 43v-102m2-2v126m2-54v-132m2-24v122m2 44v-44m2-84v133m2 14v-108m2-94v106m2 151v-162m2-8v163m2-33v-150m2 8v132m2-61v-71m2 17v52m2 64v-154m2-26v125m2 56v-65m2-43v43m2 58v-131m2 25v155m2-79v-139m2 61v123m2 5v-141m2-48v115m2 26v-59m2 17v41m2-22v-85m2 2v97m2 7v-79m2 15v86m2 22v-101m2 13v76m2 44v-156m2-25v152m2 9v-136m2 56v59m2-16v-62m2-11v82m2-42v-86m2 54v70m2 34v-146m2-7v139m2-100v-83m2 83v63m2 6v-119m2 17v117m2 21v-111m2-39v81m2 12v-41m2 35v87m2-14v-136m2 36v32m2 42v-98m2-94v218m2-22v-93m2 3v140m2-6v-112m2-53v123m2 16v-138m2-8v148m2-13v-74m2-22v128m2 38v-169m2 81v78m2-78v-157m2 98v73m2-1v-73m2 11v53m2 3v-69m2 52v29m2 13v-119m2 21v166m2-20v-171m2 5v35m2 83v-136m2-21v110m2 151v-151m2-68v87m2 86v-159m2 15v128m2-47v-122m2 23v97m2-24v-70m2-26v176m2-56v-143m2 87v84m2-11v-132m2-9v198m2-122v-62m2 8v63m2 53v-116m2 40v91m2 7v-120m2-114v174m2-34v-48m2 20v203m2-22v-159m2-10v63m2 42v-207m2 95v136m2-100v-34m2 10v118m2-95v-120m2 41v129m2 16v-77m2-44v87m2 14v-127m2 22v111m2 64v-110m2-71v136m2-30v-74m2-1v205m2-16v-179m2-21v96m2-10v-85m2 25v134m2-98v-62"/>
<path stroke="#4DBEEE" d="M0 1171v164m2 0v-92m2-3v144m2 6v-103m2 27v73m2-73v-85m2-4v172m2-1v-126m2-17v104m2 51v-114m2 20v55m2 1v-50m2-87v189m2-37v-53m2-40v63m2-5v-134m2 49v54m2 85v-142m2 4v137m2-48v-79m2 22v83m2 3v-83m2 31v105m2-51v-140m2 69v100m2-61v-47m2-38v117m2-57v-34m2-2v61m2 44v-117m2-12v147m2-42v-109m2 2v173m2-62v-143m2 55v65m2-27v-88m2-2v110m2-12v-56m2 20v97m2 41v-169m2 30v36m2 85v-153m2-49v91m2 72v-108m2 23v45m2 98v-126m2-95v162m2-44v-110m2 59v56m2-8v-91m2 15v127m2-14v-75m2-89v134m2-4v-95m2-21v125m2 50v-208m2 66v133m2-17v-99m2 39v63m2 12v-67m2-84v121m2-4v-41m2 18v66m2-21v-110m2-52v130m2 40v-115m2 68v68m2-68v-73m2-64v144m2-9v-93m2 36v56m2 55v-166m2 12v170m2-49v-98m2-31v183m2-83v-191m2 114v109m2 14v-63m2-56v135m2-9v-131m2 44v83m2-45v-44m2 0v142m2-55v-173m2 50v141m2 12v-135m2 21v79m2 19v-53m2-102v184m2-8v-110m2-98v143m2 9v-43m2-2v58m2 34v-101m2-49v143m2-3v-151m2 13v204m2-4v-180m2-34v103m2 66v-118m2-43v125m2 49v-142m2 14v56m2 62v-63m2-97v174m2-94v-142m2 88v110m2-23v-131m2-21v164m2-49v-73m2 35v110m2-17v-110m2 4v62m2 19v-95m2-12v138m2 20v-114m2 14v20m2 22v-63m2-76v149m2 44v-162m2 99v88m2-54v-127m2 23v129m2 38v-175m2 48v58m2 10v-43m2-62v148m2-32v-114m2-10v51m2 14v-66m2 11v90m2 55v-170m2 49v96m2-4v-143m2-3v56m2 69v-114m2 23v91m2-22v-71m2 17v82m2 50v-161m2 8v80m2-29v-43m2 5v53m2 38v-92m2 22v89m2 3v-117m2 33v76m2 16v-207m2 78v155m2-68v-89m2-9v138m2 0v-132m2-6v113m2 28v-136m2-62v165m2 27v-129m2-28v104m2 16v-59m2-1v39m2 64v-113m2-13v73m2-18v-28m2-54v86m2 13v-81m2 81v72m2-51v-153m2 66v88m2 1v-167m2 35v108m2-71v-43m2 22v61m2 49v-95m2-73v112m2 43v-43m2 12v17m2 0v-41m2-42v42m2-6v-56m2 56v63m2 17v-86m2-111v199m2-5v-72m2 3v66m2-5v-82m2 27v33m2-26v-14m2 4v74m2-16v-87m2 9v78m2 40v-140m2 14v148m2 18v-130m2-9v70m2-54v-70m2 11v141m2 78v-180m2-21v140m2-103v-23m2 3v45m2 18v-91m2-106v207m2 104v-168m2-8v103m2-18v-120m2-7v94m2-11v-48m2-62v229m2-109v-139m2 85v61m2-23v-89m2 16v71m2 107v-176m2-50v222m2-4v-151m2-12v107m2-45v-71m2-14v39m2 60v-66m2 30v32m2 13v-67m2 8v86m2 22v-92m2 17v110m2-47v-66m2-46v111m2 36v-154m2-20v222m2-127v-103m2-44v186m2 7v-101m2-92v224m2 56v-257m2 19v183m2-81v-78m2 16v96m2 31v-108m2-112v203m2-73v-36m2 36v66m2 87v-173m2-24v87m2 63v-130m2-64v160m2 21v-103m2-100v119m2 18v-29m2-14v96m2-42v-71m2 28v141m2-53v-137m2 43v69m2-31v-85m2 46v80m2-65v-26m2-6v47m2 19v-54m2-2v54m2 61v-111m2-6v20m2 54v-154m2-3v193m2-39v-129m2 55v75m2-16v-38m2-31v49m2 38v-138m2 104v47m2 13v-133m2-9v91m2 2v-214m2 114v263m2-168v-75m2-19v102m2 56v-115m2-89v205m2-50v-100m2-7v88m2 15v-116m2-65v193m2-2v-139m2 34v52m2 16v-43m2-57v146m2-69v-77m2 53v81m2 13v-90m2-8v90m2-42v-103m2 32v47m2 107v-119m2-30v144m2-11v-132m2 25v71m2 4v-90m2 35v28m2 54v-80m2-66v101m2 41v-119m2-69v128m2 56v-193m2 83v84m2 35v-58m2-13v28m2-28v-61m2-6v117m2 82v-162m2-102v124m2 67v-184m2 24v168m2-44v-59m2-48v100m2-2v-76m2 1v62m2 1v-54m2 6v67m2 5v-95m2-35v59m2 79v-79m2 17v88m2-46v-61m2-34v106m2 22v-70m2-47v86m2 27v-77m2-24v101m2 6v-146m2 40v192m2-76v-163m2 74v55m2 36v-63m2-50v149m2-55v-55m2-89v120m2-12v-80m2-35v53m2 74v-76m2-6v75m2-53v-27m2 21v35m2-1v-57m2 3v118m2-31v-136m2-31v192m2-1v-162m2 62v88m2-54v-12m2-33v80m2 122v-148m2-40v145m2-40v-99m2-40v153m2-35v-132m2 16v184m2 5v-169m2-32v148m2 29v-95m2-35v170m2-25v-203m2 8v77m2 63v-166m2 33v129m2-49v-34m2-14v97m2 22v-115m2 6v72m2-31v-39m2-98v147m2 51v-160m2 1v122m2 8v-50m2-94v94m2 18v-84m2 30v90m2-29v-98m2 21v63m2-20v-130m2 0v132m2-13v-38m2-53v105m2 58v-122m2-13v110m2-85v-57m2 21v101m2 3v-42m2-57v99m2-99v-87m2 23v168m2-36v-137m2 10v179m2-18v-38m2-35v58m2 156v-217m2-18v83m2-24v-85m2-3v131m2 0v-203m2 15v191m2-13v-113m2-24v43m2 50v-50m2 6v92m2-2v-116m2-48v190m2-98v-74m2-17v121m2-40v-66m2 8v76m2 29v-107m2-1v126m2-37v-105m2 8v84m2 42v-125m2 5v98m2-30v-78m2 21v90m2 5v-90m2 3v129m2-75v-153m2 56v121m2-21v-100m2 8v96m2 6v-116m2 33v92m2-58v-90m2-38v140m2-32v-114m2 70v92m2-9v-119m2-89v178m2 49v-203m2 17v184m2-100v-89m2 72v118m2-40v-100m2-58v93m2 8v-78m2 16v95m2-14v-114m2 26v135m2-116v-101m2-38v218m2 21v-194m2 30v134m2 42v-246m2 78v134m2-48v-66m2-28v120m2 7v-99m2 21v77m2-44v-28m2-19v56m2 64v-147m2-27v157m2-84v-81m2 63v41m2 77v-205m2 24v135m2 2v-155m2-34v114m2 42v-88m2-70v156m2-1v-118m2-1v104m2-18v-115m2-7v38m2-21v-27m2 26v65m2 59v-193m2 119v24m2-5v-116m2-15v88m2-14v-27m2-3v87m2-51v-49m2-23v66m2-66v-36m2 36v92m2 26v-26m2-58v114m2-79v-36m2 11v29m2 25v-123m2 2v57m2-11v-105m2 13v150m2 2v-75m2-1v44m2 22v-89m2 40v40m2 37v-50m2-59v59m2 67v-176m2 0v105m2 8v-174m2 28v177m2 51v-250m2 8v75m2 55v-140m2-21v94m2 25v-112m2 81v48m2 63v-152m2-32v194m2-125v-126m2 11v118m2-39v-86m2 17v109m2 6v-21m2-102v123m2-60v-64m2 14v54m2 31v-31m2-67v102m2-6v-101m2-20v111m2 23v-106m2-26v119m2 34v-199m2 38v97m2-36v-75m2 68v64m2 6v-87m2-57v130m2-23v-175m2 114v126m2-110v-121m2-38v205m2-83v-40m2 1v61m2 35v-141m2 35v69m2-51v-63m2-3v112m2-64v-21m2-11v144m2-61v-132m2 15v85m2-40v-50m2 0v57m2 79v-106m2 81v49m2 8v-69m2-59v63m2-27v-79m2-46v170m2-8v-128m2-9v15m2 56v-109m2 41v164m2-51v-133m2-41v91m2-8v-78m2 13v61m2 92v-114m2 0v73m2-9v-46m2-25v74m2-33v-36m2 3v52m2-52v-26m2-49v63m2-4v-106m2 13v87m2 31v-37m2-83v86m2 52v-128m2 34v42m2 48v-108m2 0v72m2-3v-130m2 45v102m2-29v-80m2 23v64m2-28v-53m2 25v112m2-65v-184m2 28v77m2 59v-155m2-6v172m2 40v-130m2 20v95m2-41v-47m2-40v97m2-27v-54m2-10v57m2 0v-167m2 105v18m2 77v-118m2-80v130m2 13v-149m2 38v136m2-38v-89m2 6v58m2 17v-53m2-46v94m2-11v-88m2-57v204m2-37v-114m2 51v26m2 13v-28m2-14v35m2 10v-68m2-71v229m2-15v-189m2-38v157m2 10v-185m2 75v96m2-33v-51m2 1v34m2 28v-40m2-16v74m2-53v-89m2 8v74m2 66v-87m2-53v97m2 1v-144m2 68v77m2-69v-101m2 101v112m2-39v-152m2 99v49m2 47v-104m2-17v107m2-107v-148m2-4v211m2-57v-68m2 59v22m2 92v-126m2-75v113m2 16v-186m2 131v55m2 32v-100m2-42v77m2-13v-57m2 57v157m2-84v-215m2 130v59m2 15v-101m2-10v108m2-80v-28m2-36v66m2 115v-227m2 7v151m2 26v-156m2 31v120m2-2v-51m2-84v179m2-106v-160m2 75v63m2-17v-23m2 0v140m2-59v-40m2-47v83m2-14v-96m2 60v67m2 4v-126m2 19v76m2-76v-68m2 48v144m2-30v-135m2 76v67m2-48v-130m2 38v78m2-25v-60m2 34v106m2-35v-114m2 6v133m2-59v-88m2 8v157m2 54v-188m2 2v164m2-53v-114m2 51v67m2-10v-89m2-59v215m2-59v-110m2 26v68m2 6v-118m2 103v22m2 25v-180m2-21v127m2 21v-101m2-25v58m2 70v-70m2 23v47m2-6v-63m2-37v90m2 17v-85m2 51v65m2 8v-60m2-85v127m2-49v-87m2-11v150m2 20v-161m2-16v75m2-8v-56m2 13v73m2 45v-99m2-12v86m2 67v-76m2-112v112m2-17v-109m2 64v120m2-32v-114m2-70v247m2 15v-187m2-15v147m2-27v-105m2-115v259m2-6v-261m2 166v108m2-73v-77m2 7v26m2 121v-121m2-28v106m2-7v-58m2 6v115m2-17v-150m2-12v91m2-21v-53m2-43v145m2 43v-109m2-38v91m2-28v-144m2 89v137m2-70v-91m2 71v21m2 14v-49m2-44v139m2 0v-121m2 5v61m2 45v-117m2-4v75m2 38v-139m2 23v138m2-60v-78m2 6v82m2-9v-125m2 89v106m2-103v-50m2-25v72m2 19v-64m2 29v55m2 46v-61m2-25v63m2 19v-106m2 27v72m2-16v-68m2 15v58m2 2v-65m2 42v55m2-14v-114m2 23v101m2-9v-88m2-85v164m2 34v-99m2-8v115m2-70v-38m2-34v86m2 19v-97m2-24v80m2-11v-92m2 5v126m2 0v-50m2-7v66m2-47v-25m2 1v94m2 0v-127m2 15v101m2 40v-40m2-125v152m2-66v-138m2 41v124m2 43v-117m2-43v71m2 29v-65m2 17v101m2-32v-149m2 51v139m2-46v-119m2 23v72m2 1v-54m2-33v109m2-25v-60m2 24v57m2 45v-101m2 40v61m2-28v-40m2-58v60m2-15v-70m2 40v23m2 72v-97m2 56v90m2-23v-172m2 47v73m2 51v-108m2-97v149m2 37v-84m2 35v79m2-52v-132m2 85v41m2-38v-112m2 50v75m2 4v-85m2 19v96m2 18v-141m2 53v157m2-87v-88m2 14v64m2 8v-99m2-8v53m2 72v-102m2-49v88m2 1v-118m2 42v60m2 90v-174m2 37v213m2-143v-33m2-12v77m2 25v-110m2-64v218m2 9v-241m2 80v124m2-19v-174m2 10v75m2 145v-183m2 21v170m2-51v-169m2 34v60m2 114v-114m2-73v184m2-46v-128m2-6v90m2 31v-83m2-43v119m2-12v-62m2-36v95m2 57v-94m2-39v93m2 25v-121m2-1v117m2 53v-181m2 47v131m2-83v-94m2 50v86m2-49v-79m2-76v153m2 19v-147m2 67v61m2 42v-45m2-73v145m2-45v-82m2-13v114m2 28v-114m2 16v66m2 28v-163m2 71v94m2 31v-166m2 58v73m2-30v-105m2 0v173m2-107v-62m2 2v52m2 97v-112m2 13v65m2-10v-83m2-32v138m2-35v-97m2 97v51m2-48v-67m2 2v34m2 68v-88m2 4v60m2 20v-140m2-4v124m2 18v-115m2 12v139m2-1v-99m2 10v81m2 7v-85m2-6v69m2 18v-167m2 9v76m2 10v-135m2 39v84m2 25v-135m2 134v13m2 1v-71m2-48v55m2 30v-99m2 99v104m2-45v-153m2 26v126m2 31v-98m2-99v163m2 10v-137m2 63v76m2-15v-46m2-24v132m2-87v-124m2 31v81m2-22v-31m2 6v143m2-75v-46m2-23v73m2 70v-227m2 54v126m2-12v-117m2 38v106m2-39v-64m2 1v58m2 20v-52m2-64v134m2-1v-104m2 27v111m2-43v-91m2 9v123m2-62v-145m2 49v245m2 33v-246m2 37v70m2-43v-35m2 3v79m2-32v-111m2 49v46m2 73v-137m2-4v47m2 53v-72m2-15v117m2-110v-15m2-18v71m2 97v-152m2 42v96m2-41v-155m2 12v160m2-3v-185m2 60v62m2 38v-127m2 22v106m2-16v-111m2 24v208m2 0v-296m2-27v192m2 17v-81m2-33v115m2 70v-205m2 116v97m2-26v-88m2-71v135m2 2v-89m2-22v62m2 54v-96m2 27v54m2 54v-147m2 19v58m2-19v-65m2 11v159m2-71v-111m2-33v157m2-12v-75m2-18v53m2 29v-66m2 25v53m2 55v-118m2 0v52m2 6v-51m2 18v83m2-16v-97m2-39v133m2-26v-68m2 41v38m2-38v-51m2-15v63m2 42v-87m2 37v62m2 42v-88m2 29v14m2 50v-144m2 20v79m2-15v-58m2-21v104m2-46v-79m2 51v62m2-30v-107m2 3v88m2 7v-62m2 16v47m2 22v-31m2-122v193m2-20v-113m2 50v120m2-68v-43m2-48v114m2 4v-119m2 13v69m2 22v-50m2-44v94m2 28v-79m2-24v55m2-18v-93m2-9v55m2 82v-91m2-35v100m2 94v-199m2 21v107m2-12v-179m2 106v75m2 38v-83m2 4v36m2 56v-118m2-35v67m2 24v-93m2-51v123m2 8v-147m2 131v65m2-26v-36m2-28v76m2-59v-105m2 21v148m2 5v-118m2-38v110m2 23v-23m2-9v148m2-133v-123m2 82v111m2-36v-103m2 1v121m2 8v-54m2-25v71m2 41v-64m2-84v97m2-24v-53m2-94v207m2 48v-134m2-21v157m2-94v-148m2 118v51m2 13v-76m2-51v128m2 75v-211m2 18v95m2-1v-48m2-27v50m2 102v-211m2 111v90m2-78v-18"/>
<path stroke="#A2142F" d="M0 1275v144m2 19v-107m2-35v116m2-104v-64m2-52v221m2 19v-73m2-70v76m2 13v-85m2-27v131m2-82v-67m2-5v171m2-15v-119m2-131v196m2 26v-82m2 22v90m2-77v-46m2-24v108m2-11v-67m2-23v125m2-23v-88m2 14v52m2-4v-113m2-3v181m2-27v-55m2 4v37m2 8v-90m2 1v110m2-8v-109m2-35v114m2 56v-138m2-62v162m2-21v-168m2 58v103m2 33v-109m2-87v225m2-4v-164m2 36v94m2-11v-102m2 54v80m2-7v-143m2 23v123m2 5v-74m2-22v124m2-41v-58m2-2v34m2-27v-51m2-20v163m2-28v-73m2 8v49m2-49v-93m2 59v89m2-29v-137m2 77v72m2-13v-165m2 119v132m2 25v-152m2-22v117m2 22v-137m2-74v137m2 49v-169m2 46v51m2 9v-68m2-33v168m2-82v-93m2 88v90m2-32v-69m2-14v69m2-27v-45m2 8v85m2 31v-184m2 111v130m2-29v-200m2 19v110m2-3v-83m2 1v39m2-9v-45m2 13v97m2-49v-24m2-43v103m2-32v-112m2 35v119m2 17v-123m2-22v196m2-105v-57m2-4v57m2 40v-85m2-76v143m2 42v-101m2-61v161m2-17v-112m2 56v64m2-41v-75m2 53v101m2-42v-156m2 4v118m2 2v-71m2 7v187m2-113v-71m2-12v27m2 146v-151m2-53v72m2 37v-87m2 27v134m2-106v-80m2 12v82m2 55v-147m2-3v55m2 6v-44m2 44v27m2 57v-89m2-6v121m2-40v-147m2-66v201m2-28v-70m2-6v59m2 14v-94m2 4v154m2-42v-90m2-12v74m2 4v-60m2 51v29m2 57v-160m2 0v169m2-21v-131m2 81v59m2-28v-149m2 23v62m2 77v-112m2-34v133m2 15v-161m2 11v163m2-64v-69m2-18v124m2-4v-106m2 1v90m2 36v-100m2-3v103m2 13v-128m2-9v37m2 30v-61m2 29v99m2-25v-82m2-43v75m2-3v-106m2-4v139m2 12v-77m2-25v135m2-59v-79m2-17v149m2-15v-103m2-82v158m2-17v-135m2 108v51m2-10v-64m2-5v119m2-44v-85m2 23v64m2 20v-65m2-81v136m2-16v-22m2-15v77m2 98v-240m2 28v77m2 29v-72m2 16v109m2 28v-161m2-12v51m2 27v-96m2 9v96m2-73v-109m2 109v78m2-44v-110m2 26v79m2 106v-180m2 9v156m2-4v-100m2-36v42m2 90v-148m2-20v102m2 38v-38m2-71v154m2-12v-192m2 5v198m2-5v-170m2-7v166m2-61v-110m2 4v160m2-5v-142m2 12v93m2 22v-50m2-65v109m2 18v-137m2 65v17m2-1v-34m2-33v61m2 47v-104m2-17v70m2 46v-105m2 22v85m2-17v-36m2-37v115m2-1v-130m2-63v120m2 130v-192m2 50v36m2 17v-117m2 56v66m2-9v-68m2-18v104m2-36v-122m2 49v64m2 16v-111m2 89v68m2-13v-120m2-3v118m2-10v-78m2-54v76m2 153v-218m2-2v131m2 12v-130m2 19v109m2-49v-86m2-17v26m2 112v-116m2-15v96m2-29v-64m2 30v169m2-12v-87m2-98v98m2 22v-121m2 25v69m2-7v-54m2-14v124m2-39v-44m2-32v81m2-81v-108m2 93v107m2-40v-62m2-4v70m2 45v-69m2 6v103m2-33v-60m2-16v96m2-13v-93m2-53v108m2 10v-76m2 31v30m2 22v-68m2 5v99m2-36v-108m2-21v79m2 83v-151m2 12v138m2-57v-52m2-15v95m2 57v-97m2-66v108m2-16v-129m2-34v109m2 21v-149m2 33v93m2 30v-81m2-14v52m2 33v-33m2-47v74m2 47v-101m2 2v191m2-9v-150m2 4v83m2 2v-84m2 78v62m2-62v-71m2-30v89m2-38v-60m2-140v195m2 25v-127m2-8v167m2 12v-197m2-38v148m2 106v-134m2-39v89m2 54v-126m2 26v87m2-1v-178m2 87v74m2 17v-72m2-40v84m2 46v-89m2-4v85m2-16v-87m2 8v80m2-43v-74m2-77v107m2 3v-77m2 64v149m2-88v-101m2-32v144m2 83v-210m2 84v119m2-111v-85m2 8v114m2 23v-76m2-41v112m2-55v-116m2 34v187m2 2v-183m2-42v158m2 29v-194m2 120v54m2 4v-79m2-69v149m2-36v-82m2 25v72m2-25v-86m2 19v105m2 12v-138m2-45v103m2 52v-52m2-3v119m2-24v-125m2-25v76m2 10v-142m2 59v90m2-67v-29m2-9v91m2 15v-98m2 2v87m2 5v-88m2-49v65m2 16v-89m2 41v81m2 89v-109m2-55v109m2 11v-185m2 93v143m2-28v-137m2-44v79m2 133v-211m2-2v145m2-80v-19m2 19v89m2-4v-156m2 14v78m2 1v-10m2-79v90m2 12v-63m2-20v137m2-47v-51m2 8v55m2 4v-49m2-8v75m2-13v-147m2 17v166m2-57v-170m2-3v154m2 36v-98m2-72v226m2-73v-101m2-47v114m2-15v-44m2 18v105m2-55v-79m2 10v89m2-20v-72m2 6v77m2-8v-155m2 28v187m2-7v-145m2-3v119m2-36v-57m2 12v92m2-12v-82m2-62v75m2-40v-50m2 25v132m2-5v-107m2 1v67m2-24v-190m2 68v191m2-106v-60m2-3v116m2 41v-65m2-110v110m2 62v-165m2-1v93m2 34v-134m2 28v121m2-24v-98m2 7v77m2-26v-72m2 46v106m2-20v-53m2-52v75m2 33v-124m2-42v135m2-30v-53m2-32v107m2-24v-63m2-52v114m2-5v-87m2-10v69m2-43v-111m2 72v182m2-83v-27m2-99v138m2-27v-93m2-14v133m2-53v-78m2 78v86m2-5v-106m2-61v97m2 13v-45m2-58v122m2 39v-164m2 52v56m2-36v-74m2-16v91m2 64v-135m2-21v198m2-52v-86m2-65v116m2 41v-271m2 7v305m2-54v-64m2-32v51m2-51v-79m2 48v135m2 83v-167m2-2v123m2-35v-198m2 66v42m2-16v-47m2-1v85m2 30v-81m2-46v70m2-5v-41m2 15v105m2-94v-55m2 7v114m2 0v-126m2-81v81m2 65v-176m2 143v43m2-22v-71m2-108v188m2 19v-191m2 51v151m2 28v-136m2 31v81m2-51v-175m2 42v177m2-29v-83m2 12v60m2-19v-96m2-32v128m2-50v-108m2-7v159m2-43v-139m2 105v98m2 16v-220m2 15v104m2 83v-123m2-41v151m2 5v-135m2 56v67m2 13v-164m2 0v108m2 54v-129m2-9v132m2-7v-127m2 33v50m2-32v-88m2 35v64m2 23v-128m2 13v67m2 42v-176m2 42v126m2-71v-58m2 58v49m2 16v-80m2-30v60m2 15v-76m2-43v69m2 47v-97m2-84v193m2 80v-146m2-51v94m2-28v-117m2 27v118m2 0v-124m2 27v76m2-7v-85m2-4v127m2 17v-163m2 25v133m2-94v-51m2 51v42m2-27v-140m2 61v92m2 80v-195m2-2v75m2 37v-99m2-7v114m2-31v-50m2-55v74m2 31v-88m2 4v76m2-34v-38m2-18v59m2-39v-59m2-10v119m2-12v-70m2-14v23m2 98v-162m2-53v206m2-72v-87m2 26v45m2 44v-126m2 104v91m2-48v-92m2-49v90m2 60v-111m2-3v35m2 7v-42m2-5v52m2 57v-234m2 113v68m2-3v-71m2-25v83m2-15v-50m2 2v85m2 3v-201m2 25v92m2 46v-93m2 12v62m2 36v-91m2-30v80m2-5v-137m2 64v68m2 5v-125m2-13v128m2-27v-67m2 7v76m2 87v-193m2 19v164m2-23v-195m2-51v194m2-51v-164m2 85v98m2-29v-20m2-35v49m2-9v-34m2 7v23m2 100v-135m2-39v175m2-48v-110m2-39v116m2-2v-114m2 24v139m2 2v-137m2-77v148m2 7v-100m2 8v59m2 32v-126m2 50v125m2-20v-119m2-5v89m2-20v-92m2-19v93m2-30v-60m2-26v116m2 30v-142m2-35v161m2-42v-110m2-84v213m2-30v-63m2 5v75m2 55v-98m2-69v169m2-113v-139m2 64v133m2 59v-113m2-71v120m2 60v-160m2-37v103m2 40v-111m2-7v99m2 25v-96m2 32v47m2-11v-75m2-77v121m2 30v-132m2 2v96m2 7v-100m2 74v32m2 32v-88m2-65v69m2-44v-50m2 50v118m2-41v-78m2-45v134m2 7v-132m2-6v139m2-104v-57m2 15v29m2 55v-63m2-54v114m2-3v-51m2-6v57m2 31v-111m2 67v79m2-60v-76m2-34v185m2-91v-84m2-9v177m2-161v-44m2 0v125m2 60v-157m2-1v74m2 6v-85m2 61v48m2-38v-75m2 16v76m2 60v-113m2-51v51m2-12v-44m2 15v65m2-17v-76m2 47v117m2 5v-104m2-87v90m2-1v-85m2 23v70m2 19v-67m2 27v31m2 12v-34m2-67v89m2-1v-24m2-47v47m2 94v-160m2-21v116m2 11v-80m2-19v101m2-101v-63m2 47v83m2-5v-36m2-81v81m2 14v-101m2-1v90m2 22v-119m2 43v95m2-12v-141m2 8v150m2-7v-126m2 60v77m2-35v-66m2-1v55m2 107v-163m2-39v131m2-58v-34m2 12v80m2-32v-99m2 29v25m2 42v-138m2 50v39m2-8v-62m2 46v95m2-28v-86m2 4v67m2 91v-168m2-102v269m2-57v-233m2 84v191m2-3v-180m2 92v49m2 2v-160m2 22v79m2-2v-24m2-32v73m2 13v-84m2 39v53m2 27v-128m2 29v50m2 44v-93m2 10v81m2 24v-118m2 19v37m2 8v-76m2 6v81m2-5v-117m2 26v35m2-23v-17m2 9v41m2 13v-103m2-11v112m2-12v-106m2 47v68m2-13v-95m2 22v147m2-23v-65m2-23v56m2 85v-163m2 5v71m2 52v-123m2 49v119m2-70v-88m2-54v143m2-17v-79m2-45v64m2 18v-71m2 7v90m2 34v-120m2-69v304m2-96v-129m2-61v123m2 60v-93m2-3v39m2 80v-124m2-15v28m2 77v-114m2 36v63m2 9v-112m2 1v115m2 11v-103m2-33v88m2 23v-94m2 12v50m2 32v-52m2-24v62m2-4v-77m2 7v58m2-14v-88m2-5v94m2 14v-46m2-9v89m2-6v-48m2-35v70m2-18v-59m2-24v68m2 37v-75m2 2v12m2 66v-70m2-18v88m2-36v-57m2-63v88m2 104v-150m2-25v44m2 85v-146m2 72v94m2 3v-125m2-15v93m2 39v-145m2 83v107m2-9v-214m2 70v122m2-60v-39m2-10v125m2-57v-106m2 66v52m2 45v-146m2 35v90m2-38v-26m2-26v85m2-1v-90m2-14v24m2-6v-102m2 47v57m2 78v-124m2 124v15m2 62v-200m2-37v109m2 40v-153m2 80v68m2 29v-98m2-8v101m2-67v-45m2 6v127m2 32v-155m2 3v44m2 24v-58m2-40v129m2-30v-117m2 42v101m2 12v-114m2 6v92m2-28v-58m2-13v71m2 51v-159m2-49v134m2-21v-70m2 35v70m2 47v-73m2-9v79m2-49v-30m2-69v99m2 81v-121m2 27v55m2-29v-108m2-27v201m2-52v-99m2-21v118m2-21v-68m2 60v27m2 34v-65m2-26v101m2-6v-104m2 10v83m2 40v-199m2 112v56m2-8v-144m2-4v145m2-15v-59m2 22v77m2-73v-49m2-71v173m2 7v-122m2 66v91m2-1v-172m2 36v92m2 25v-114m2 7v59m2 52v-114m2 9v93m2-24v-69m2 24v111m2 2v-221m2-18v244m2-44v-91m2 26v21m2 10v-79m2-72v143m2 0v-52m2 52v131m2-95v-153m2 63v123m2-94v-44m2 7v51m2 110v-144m2-76v76m2 116v-184m2 67v116m2-71v-48m2-14v68m2 42v-80m2 28v67m2 48v-130m2-24v80m2-13v-60m2-17v76m2-17v-119m2 53v67m2-62v-27m2 27v72m2-3v-59m2-1v80m2 35v-106m2 7v100m2-9v-191m2 87v178m2-115v-41m2 7v65m2-11v-105m2-24v123m2-36v-80m2 20v125m2 9v-109m2 0v44m2 58v-246m2 124v168m2-8v-126m2 43v70m2-10v-97m2-47v152m2-101v-33m2-4v53m2 28v-128m2 6v149m2 46v-101m2-55v143m2-43v-132m2-17v130m2-1v-36m2 14v31m2 58v-168m2 44v82m2 85v-213m2 37v158m2-86v-88m2-32v112m2-4v-42m2-3v19m2 52v-78m2-58v143m2 19v-130m2-8v113m2-21v-88m2 33v50m2 5v-53m2-170v220m2 32v-77m2 20v47m2-6v-88m2 37v91m2 9v-170m2 20v72m2 6v-62m2-65v235m2-61v-116m2-1v99m2 37v-131m2 46v85m2-65v-75m2-26v172m2-80v-64m2 54v157m2-66v-142m2 43v45m2 55v-164m2 80v89m2-35v-62m2-33v120m2-52v-82m2 38v88m2-11v-77m2 43v83m2 15v-212m2 67v117m2 26v-223m2 2v134m2 15v-79m2-2v123m2-15v-105m2-84v194m2-3v-167m2 29v136m2-49v-103m2 16v117m2 27v-150m2 67v67m2 45v-182m2 16v103m2 5v-146m2-12v118m2 143v-148m2-6v127m2-55v-113m2-13v188m2-22v-126m2 2v122m2-56v-117m2 67v123m2-56v-81m2 2v31m2 52v-60m2 17v31m2-14v-58m2-58v160m2 12v-55m2-107v107m2-34v-55m2-39v123m2 9v-132m2 67v121m2-9v-135m2 9v122m2 28v-108m2-7v117m2-81v-61m2-32v174m2-74v-104m2 44v111m2-55v-39m2-66v91m2 29v-48m2-57v100m2-44v-71m2-77v146m2 109v-169m2 53v83m2 8v-88m2-4v50m2 3v-147m2 51v136m2-13v-146m2 8v107m2 25v-71m2-35v82m2 76v-156m2 69v58m2 39v-76m2-80v170m2-53v-131m2 39v76m2 81v-160m2-91v222m2-35v-156m2 74v49m2 82v-160m2-21v150m2-37v-63m2-14v98m2-12v-58m2-14v109m2-107v-16m2 2v126m2-44v-46m2-16v59m2-57v-35m2 16v108m2-31v-72m2 52v38m2 1v-151m2 64v46m2-35v-56m2 11v133m2-66v-37m2 12v92m2-28v-75m2 15v56m2 8v-158m2 76v62m2-5v-67m2-7v100m2-14v-82m2 21v109m2-8v-126m2 2v150m2-64v-122m2 52v112m2-1v-108m2 55v88m2-88v-32m2-43v117m2 1v-127m2 50v57m2-5v-117m2-21v194m2 59v-232m2-12v215m2-63v-78m2 9v157m2-50v-174m2 8v118m2-28v-130m2 39v115m2-23v-38"/>
<path stroke="#0072BD" d="M0 1273v74m2 21v-106m2-79v184m2-6v-146m2 63v130m2-70v-104m2-28v124m2 56v-56m2-95v164m2-76v-158m2 67v98m2 9v-93m2 58v109m2-5v-78m2-22v66m2-49v-65m2-5v42m2 56v-68m2-8v109m2-56v-120m2 54v90m2 57v-107m2 39v106m2-50v-79m2-42v52m2 102v-142m2 25v151m2-63v-156m2 32v133m2-23v-55m2-54v105m2 18v-108m2-8v87m2-36v-56m2 15v63m2 12v-110m2 38v82m2-32v-76m2 11v104m2-76v-63m2 25v25m2 124v-133m2-24v80m2-6v-65m2-42v115m2-24v-97m2-88v196m2 43v-155m2 54v74m2 12v-102m2 50v89m2-35v-107m2-5v131m2-19v-85m2-49v140m2-66v-48m2 25v111m2-35v-60m2 35v99m2-68v-93m2-7v198m2 50v-182m2-5v97m2-73v-115m2 46v58m2-35v-127m2 68v183m2 10v-80m2-80v122m2-1v-123m2-4v59m2 44v-97m2-51v140m2 43v-162m2 37v124m2-69v-61m2 0v43m2 3v-16m2-2v28m2 37v-37m2-27v82m2-59v-32m2-65v85m2 101v-143m2 54v145m2-85v-113m2-23v78m2 132v-144m2 3v70m2-5v-70m2 11v102m2-5v-117m2-39v110m2 15v-126m2-15v111m2-26v-102m2-25v125m2 1v-125m2 88v66m2 0v-53m2-24v74m2 32v-117m2 7v162m2-64v-86m2-30v30m2 56v-79m2-29v128m2 4v-71m2 21v76m2-61v-18m2-13v22m2 30v-52m2-40v73m2-19v-56m2 50v41m2 39v-47m2-98v102m2-5v-161m2 148v89m2-37v-156m2 58v140m2 9v-90m2-144v218m2-103v-71m2 50v134m2-20v-131m2-26v105m2-8v-124m2 78v98m2 30v-193m2 29v108m2-20v-105m2 61v59m2 54v-128m2-43v134m2-25v-65m2 0v111m2-28v-156m2-16v146m2 86v-221m2 40v138m2-65v-48m2-34v129m2-69v-61m2 0v120m2 104v-211m2 70v102m2-85v-77m2-52v115m2 2v-81m2 12v75m2 60v-170m2 32v99m2 55v-110m2-58v139m2 42v-152m2-9v148m2-70v-56m2-45v128m2-26v-62m2-16v51m2 36v-85m2-36v170m2-48v-110m2 29v170m2 35v-133m2-112v112m2 62v-175m2-8v198m2-85v-43m2-4v79m2-75v-41m2 38v112m2-7v-91m2-45v127m2-89v-58m2-12v168m2 13v-140m2 27v101m2-16v-66m2-56v83m2-3v-161m2 72v78m2 28v-107m2-27v151m2-11v-114m2-21v158m2-40v-122m2-45v193m2-18v-149m2 55v88m2 15v-88m2-6v126m2 18v-114m2 30v74m2-28v-59m2-75v115m2-20v-84m2-17v117m2 11v-154m2 79v41m2-22v-20m2 20v112m2-34v-123m2 20v105m2 25v-133m2 8v130m2-78v-87m2 1v49m2-31v-67m2 14v96m2 39v-77m2-45v137m2 1v-133m2 35v24m2 26v-74m2-50v166m2-6v-75m2 31v46m2-25v-71m2 10v99m2-1v-117m2-36v143m2 20v-97m2-1v130m2-56v-113m2-7v69m2 69v-103m2 14v79m2-38v-30m2 20v48m2-32v-70m2-3v110m2-8v-136m2 61v62m2-30v-68m2 15v92m2 29v-80m2 4v57m2 9v-153m2 13v36m2 98v-98m2 50v69m2-24v-115m2 15v78m2 3v-186m2-18v122m2 63v-74m2 4v81m2 0v-86m2-17v77m2 41v-118m2-26v157m2 18v-179m2 26v207m2-134v-45m2 34v53m2-8v-80m2-3v58m2 48v-82m2-56v98m2 6v-113m2 85v105m2-24v-103m2-36v75m2 8v-63m2-23v112m2-3v-168m2 33v185m2-78v-88m2 73v53m2 21v-43m2-27v86m2-59v-141m2 56v88m2 9v-72m2-9v198m2-91v-119m2-1v147m2-55v-78m2 16v77m2-8v-36m2-42v54m2 39v-92m2-75v135m2 46v-167m2 61v48m2-8v-68m2-59v113m2 23v-106m2-4v119m2 34v-144m2 42v109m2-33v-64m2-2v72m2-30v-105m2-22v197m2-10v-195m2 85v60m2 41v-85m2-11v80m2-23v-22m2-30v80m2-80v-103m2 52v130m2-10v-71m2-20v28m2 49v-80m2-23v82m2-7v-67m2 67v69m2 71v-134m2-24v133m2-40v-60m2-122v160m2-23v-152m2 88v69m2-10v-86m2 32v38m2 53v-112m2 24v45m2-20v-83m2 45v107m2-3v-96m2 14v99m2-99v-62m2-24v134m2 67v-149m2 23v105m2-12v-92m2-14v111m2-49v-77m2-6v94m2-53v-45m2 19v120m2-55v-99m2-38v156m2 61v-88m2-96v121m2 6v-142m2 83v40m2 19v-117m2 79v74m2-23v-68m2-31v65m2 0v-61m2 13v93m2-28v-46m2-52v123m2-24v-132m2 33v52m2 68v-115m2 17v89m2 12v-132m2 92v67m2-27v-58m2-17v112m2-40v-94m2-31v101m2 34v-139m2 43v58m2 67v-129m2-16v176m2-106v-52m2-43v155m2-65v-50m2-76v145m2-10v-67m2 1v52m2-11v-60m2-12v62m2 65v-117m2-15v102m2 34v-128m2 2v171m2-15v-132m2-6v50m2 41v-90m2-28v72m2 26v-109m2 48v57m2-11v-45m2-1v127m2-17v-176m2 56v122m2-85v-109m2 77v101m2-13v-61m2-52v132m2 8v-104m2-19v67m2 53v-116m2-9v152m2 18v-195m2-19v175m2-54v-74m2 29v91m2-40v-107m2 29v163m2-72v-49m2-64v90m2 16v-77m2-37v63m2 10v-65m2 61v134m2-98v-120m2 24v100m2 36v-116m2-25v25m2 95v-123m2 79v61m2-8v-122m2 73v46m2-34v-60m2-77v167m2 8v-105m2-1v135m2-51v-110m2 45v40m2 28v-164m2 62v154m2 12v-169m2-53v124m2 66v-201m2 116v71m2 92v-112m2-98v111m2 38v-89m2 1v65m2-18v-104m2-5v106m2-41v-128m2 128v42m2 48v-87m2-29v75m2-24v-142m2 32v145m2-58v-130m2 130v66m2-26v-118m2-18v162m2 34v-74m2-60v212m2-137v-100m2 71v124m2-123v-26m2-26v60m2 14v-108m2 30v59m2-2v-44m2-18v99m2 58v-143m2 6v43m2-22v-75m2 43v111m2-64v-36m2 16v48m2-28v-80m2 8v30m2-1v-17m2 4v126m2-1v-65m2-3v81m2 6v-120m2-21v59m2-10v-76m2 26v83m2 28v-133m2 31v134m2 2v-182m2-2v194m2-104v-65m2 23v60m2-10v-106m2 67v103m2-3v-192m2 9v177m2 2v-112m2 2v89m2 8v-117m2 33v92m2 32v-106m2 16v75m2-74v-78m2 78v71m2 7v-97m2-36v103m2-5v-78m2 37v56m2-43v-38m2-97v118m2-8v-53m2 20v102m2-37v-134m2-28v193m2 36v-119m2 18v102m2-95v-85m2 25v83m2 27v-28m2-40v115m2-77v-60m2-9v89m2 33v-145m2-46v185m2 6v-152m2 1v84m2 7v-124m2-8v138m2-17v-143m2 52v73m2 35v-62m2-88v133m2-96v-50m2-64v64m2 50v-172m2-1v96m2-49v-157m2 8v87m2-20v-101m2-91v131m2-3v-159m2-90v186m2-144v-127m2-13v124m2-35v-109m2-56v75m2-31v-99m2-44v93m2-86v-88m2-88v111m2 33v-148m2 33v58m2-6v-112m2 83v53m2-42v-117m2 2v61m2-26v-127m2 8v178m2-31v-40m2-46v105m2 62v-238m2 42v113m2-9v-70m2 5v53m2-2v-36m2-139v149m2 26v-69m2 13v88m2 22v-119m2-16v106m2-35v-84m2-40v125m2 10v-95m2 40v76m2-24v-147m2 56v199m2-34v-96m2 3v121m2-46v-85m2-8v67m2 14v-72m2 9v47m2 9v-66m2-8v73m2-24v-113m2-97v275m2-121v-112m2 60v156m2-85v-62m2-4v130m2 3v-113m2 60v82m2 11v-112m2 27v65m2-11v-160m2-9v213m2-38v-177m2-10v112m2-37v-64m2 37v64m2 40v-116m2 58v98m2 24v-132m2-97v201m2 10v-128m2 8v115m2 3v-150m2 14v132m2-45v-173m2 17v158m2-43v-94m2 27v112m2 1v-79m2 39v78m2 0v-80m2-38v80m2 29v-125m2-13v109m2 20v-81m2-11v32m2 26v-92m2-22v141m2 2v-78m2-83v220m2-72v-56m2-14v106m2-11v-61m2 32v28m2 3v-113m2-29v64m2 80v-89m2-62v169m2-42v-99m2-1v99m2-1v-80m2-66v160m2 3v-93m2-31v86m2 107v-107m2-27v71m2-25v-81m2-3v151m2-76v-102m2 37v94m2-52v-57m2 32v31m2 90v-118m2 29v75m2-5v-143m2 20v92m2-11v-37m2-78v119m2 12v-97m2 57v30m2 48v-93m2-18v97m2 29v-120m2-30v167m2-36v-123m2 34v64m2 39v-181m2 34v187m2-50v-136m2 28v60m2-18v-56m2-4v63m2 31v-96m2 17v53m2 34v-89m2-35v57m2 36v-66m2 34v28m2-6v-50m2-66v111m2 32v-156m2 93v69m2 16v-124m2-12v156m2 13v-117m2-17v93m2-78v-101m2 9v200m2-3v-177m2-13v105m2 49v-196m2 33v146m2-23v-21m2-20v95m2 59v-63m2-154v175m2 52v-247m2 159v20m2 5v-118m2 37v118m2-53v-74m2 31v36m2 7v-86m2-27v167m2 13v-169m2-25v100m2 44v-129m2 39v72m2 21v-144m2 13v73m2 31v-67m2-98v165m2 3v-75m2 54v48m2 39v-133m2 20v107m2-61v-110m2-15v80m2 55v-65m2 17v22m2 24v-53m2-28v149m2 6v-142m2 84v16m2 27v-163m2-11v174m2-6v-134m2-26v118m2 40v-210m2 56v72m2 57v-81m2-144v144m2 19v-111m2 9v172m2 1v-107m2 54v28m2 10v-89m2-26v93m2 57v-104m2 3v50m2-4v-97m2 35v88m2-13v-141m2 119v92m2-53v-82m2 74v30m2 48v-150m2-45v153m2-46v-46m2-103v155m2 60v-175m2-30v157m2 16v-92m2-93v114m2 171v-237m2 40v146m2-66v-80m2 0v71m2 38v-57m2-7v42m2 28v-220m2 130v92m2 48v-198m2 28v121m2-8v-74m2-33v99m2 73v-171m2-9v106m2-36v-60m2 46v90m2-69v-146m2 93v60m2 30v-98m2 6v93m2 3v-65m2-60v63m2 54v-57m2-54v54m2 32v-64m2-17v108m2 0v-124m2 6v85m2 42v-99m2-39v72m2 78v-128m2 27v37m2 8v-77m2-22v87m2-20v-84m2 52v74m2 27v-124m2-1v164m2-67v-37m2 9v60m2-18v-53m2-107v151m2 4v-65m2-38v131m2-11v-175m2 109v103m2 43v-112m2-27v27m2 10v-86m2 16v104m2-65v-51m2-12v87m2 39v-68m2-24v70m2-14v-81m2 8v64m2 110v-166m2 2v161m2-101v-98m2-10v142m2-29v-114m2 71v158m2-40v-92m2-50v149m2 60v-206m2 40v72m2-50v-66m2 51v40m2 35v-151m2 21v102m2-18v-40m2 7v49m2-49v-48m2 41v91m2-5v-131m2-6v171m2-65v-88m2-56v109m2 69v-163m2 9v155m2-6v-120m2-21v71m2 83v-216m2 58v105m2 27v-146m2-10v133m2 64v-97m2-27v67m2 1v-126m2 53v88m2-49v-63m2 15v43m2 45v-65m2-8v139m2-51v-82m2-49v99m2 7v-78m2 21v70m2 30v-96m2 37v66m2-43v-107m2-6v69m2 55v-72m2-73v133m2 29v-111m2-3v125m2-35v-105m2 42v132m2-95v-55m2 8v128m2-24v-110m2 8v70m2-2v-65m2-44v122m2 18v-100m2-58v70m2 32v-124m2 88v99m2-27v-112m2 78v70m2 9v-124m2 35v98m2-33v-99m2 45v53m2-4v-139m2 43v176m2-117v-73m2-13v183m2-118v-95m2 33v127m2-56v-123m2 58v116m2-10v-56m2-49v113m2 44v-173m2 41v142m2-33v-130m2 20v80m2 45v-156m2-10v136m2 24v-83m2 6v63m2-30v-120m2 120v48m2-6v-86m2-15v44m2 50v-90m2-61v131m2-2v-114m2 19v134m2-45v-94m2-7v72m2 27v-56m2-20v111m2 14v-93m2 9v57m2-48v-40m2-108v192m2-48v-148m2 99v112m2-38v-69m2 39v43m2 30v-81m2-14v87m2 16v-126m2 2v139m2-95v-75m2-4v79m2 14v-95m2-16v159m2-41v-54m2 22v164m2-13v-77m2-154v186m2-58v-79m2 34v111m2 20v-162m2-7v114m2-13v-156m2 130v39m2-15v-104m2-5v77m2 88v-133m2-45v118m2 0v-98m2-27v103m2-3v-77m2 47v131m2-114v-16m2-60v166m2-43v-154m2 25v136m2 0v-77m2-8v74m2 17v-117m2 35v53m2 20v-83m2-81v167m2 40v-190m2-10v137m2 8v-84m2-48v102m2 49v-127m2 2v190m2-66v-108m2 46v125m2 37v-175m2-105v128m2 31v-114m2 60v161m2-86v-68m2-45v118m2 54v-172m2 42v37m2 13v-76m2 20v28m2-1v-63m2 15v107m2 40v-165m2 27v95m2-54v-120m2 14v130m2 7v-83m2 66v116m2 13v-167m2-45v154m2-23v-114m2 27v73m2-21v-52m2-23v52m2 37v-57m2-28v131m2-79v-133m2 78v174m2-55v-56m2-1v55m2 3v-130m2 36v181m2-80v-139m2 41v99m2-21v-95m2 44v41m2-28v-125m2 55v72m2 75v-75m2-24v95m2-39v-79m2-6v97m2-24v-60m2 37v52m2-52v-89m2 16v59m2 11v-94m2-23v156m2 22v-67m2-23v66m2-4v-83m2-3v51m2 44v-121m2-9v106m2 9v-99m2-4v118m2 1v-39m2-55v55m2-13v-81m2 11v83m2 0v-37m2-68v170m2-27v-56m2-32v125m2 19v-97m2-41v138m2-79v-105m2 71v80m2 0v-132m2 18v94m2 24v-68m2-90v122m2-18v-82m2 36v110m2-41v-83m2 5v52m2 33v-67m2 35v62m2 21v-182m2-66v207m2 10v-63m2-61v121m2-11v-127m2 2v45m2 149v-153m2-51v103m2 49v-124m2 42v104m2-52v-96m2 26v66m2-6v-56m2-25v145m2 14v-120m2-17v86m2 23v-147m2 41v44m2 121v-162m2-15v79m2-42v-37m2-3v101m2 8v-76m2 25v73m2-50v-68m2-13v97m2 10v-31m2-56v81m2 3v-66m2-40v40m2 30v-48m2-17v123m2-53v-40"/>
<path stroke="#D95319" d="M0 1312v75m2 1v-103m2-83v106m2 19v-59m2 13v52m2 4v-67m2 2v71m2 36v-99m2-52v141m2 2v-133m2 56v76m2-1v-87m2-43v77m2 1v-80m2 2v132m2 32v-73m2 22v125m2-87v-136m2-76v168m2 169v-237m2-60v301m2-146v-69m2-17v97m2 66v-203m2 20v68m2 33v-80m2-24v179m2-9v-143m2-57v138m2 4v-123m2 10v83m2 27v-95m2 0v21m2 48v-109m2-4v117m2-20v-43m2-50v130m2 16v-87m2 6v52m2 19v-54m2-25v54m2-6v-88m2-12v163m2-15v-152m2-19v116m2 71v-133m2 48v126m2-56v-71m2-22v63m2 23v-78m2-74v139m2-55v-104m2 58v139m2-24v-114m2 2v105m2-46v-90m2 89v99m2-48v-137m2 9v118m2 4v-41m2-52v102m2 31v-164m2 51v126m2 5v-132m2-31v167m2-4v-71m2-90v90m2 22v-92m2 2v110m2-39v-124m2 38v113m2-11v-157m2 29v131m2 7v-162m2 62v100m2-6v-122m2 21v71m2 24v-125m2 43v50m2 44v-44m2-58v112m2 15v-142m2 40v86m2 8v-89m2-67v68m2 28v-43m2-31v100m2-27v-131m2 26v130m2-1v-94m2 20v81m2 17v-112m2-53v71m2 37v-42m2 27v54m2 38v-124m2 5v96m2-4v-117m2 2v112m2 44v-71m2-82v82m2 4v-97m2-71v156m2-18v-107m2-14v119m2-6v-65m2-18v173m2-36v-178m2-7v197m2 19v-130m2-39v115m2-38v-99m2 42v151m2-79v-78m2-11v142m2 6v-175m2 18v199m2 1v-206m2 19v187m2-26v-112m2-36v122m2-1v-144m2 74v78m2 26v-144m2-71v159m2 17v-100m2-55v186m2-61v-105m2-4v101m2 6v-114m2 26v101m2-36v-43m2-41v159m2 65v-233m2 34v98m2 7v-79m2-7v93m2 14v-109m2 33v65m2-14v-94m2-40v147m2-9v-90m2 45v112m2-72v-36m2 10v95m2-64v-61m2-1v108m2-15v-97m2-38v57m2 70v-141m2-23v78m2 36v-90m2 11v85m2 43v-138m2-13v125m2-34v-55m2-60v99m2 82v-220m2 98v110m2-10v-98m2 37v33m2-16v-64m2 38v87m2 18v-140m2 27v86m2-46v-71m2-49v136m2 8v-145m2 49v78m2 21v-65m2-45v128m2-33v-61m2 0v92m2 17v-111m2 43v63m2 1v-154m2 27v195m2-16v-229m2 33v63m2 5v-63m2-27v186m2-25v-132m2-43v176m2 57v-213m2 70v100m2-25v-46m2-20v83m2-24v-122m2-51v139m2-13v-72m2 66v36m2-9v-97m2-28v220m2 43v-177m2-7v96m2-56v-138m2 73v109m2 68v-139m2-1v108m2 3v-95m2-58v73m2 9v-52m2 14v28m2 75v-154m2 4v117m2 19v-149m2-26v182m2 31v-139m2 42v104m2-94v-79m2-6v104m2 1v-103m2-69v87m2 168v-243m2 32v153m2-21v-113m2-6v76m2 38v-115m2 32v74m2-47v-124m2 58v122m2 31v-168m2 87v97m2-76v-92m2 62v55m2-4v-76m2 33v61m2-40v-39m2-32v124m2 2v-171m2-19v214m2 38v-212m2 58v82m2-13v-41m2-11v63m2 60v-95m2-64v64m2-11v-58m2-17v76m2 30v-30m2-4v40m2 44v-170m2 24v102m2-8v-126m2 6v166m2-95v-28m2 4v69m2-10v-95m2-21v103m2 67v-81m2-33v61m2-3v-68m2-12v221m2-155v-70m2-5v105m2 33v-84m2-59v129m2 17v-105m2 29v73m2-47v-95m2-3v138m2 22v-45m2-67v67m2 23v-113m2-20v97m2-2v-90m2-7v123m2-3v-93m2 28v66m2 12v-82m2-24v93m2-10v-92m2 50v82m2-22v-106m2 12v73m2 5v-84m2-63v155m2 19v-155m2 11v110m2 23v-77m2-69v116m2-21v-85m2 39v155m2-118v-111m2-5v85m2 69v-94m2-71v183m2 49v-209m2 33v164m2-57v-89m2-25v130m2 19v-85m2-45v45m2 91v-198m2 68v64m2 55v-120m2 47v73m2-20v-205m2 115v113m2 3v-98m2-16v50m2 30v-57m2-15v111m2-30v-95m2-61v128m2-20v-100m2-25v203m2-14v-60m2-43v103m2 5v-116m2-6v25m2 62v-70m2 54v16m2-11v-43m2-1v47m2 36v-59m2 42v38m2-28v-87m2-3v46m2 12v-46m2-6v95m2-6v-55m2-71v92m2 43v-106m2 7v143m2-118v-57m2 30v98m2-43v-88m2 8v130m2 16v-143m2 56v97m2-54v-117m2 54v84m2-12v-107m2 36v92m2 8v-116m2-6v29m2-4v-41m2 25v74m2 31v-157m2 6v165m2-91v-19m2-16v77m2 17v-104m2 1v35m2 16v-43m2 28v32m2 71v-92m2-100v174m2-5v-101m2-6v56m2 12v-98m2 31v168m2-19v-156m2-32v178m2-104v-53m2 23v99m2 49v-233m2 17v90m2 44v-121m2 54v133m2-57v-129m2 45v117m2-38v-54m2 9v55m2 7v-86m2-41v116m2 96v-172m2 2v73m2-24v-86m2-5v71m2 9v-52m2-6v63m2 118v-164m2-18v136m2-57v-93m2-1v110m2-43v-120m2 27v70m2 69v-145m2-6v118m2 36v-81m2 1v128m2-11v-118m2-10v78m2-46v-31m2-43v43m2 79v-89m2-16v102m2 3v-144m2 25v113m2 33v-99m2-30v122m2-25v-103m2 9v129m2-73v-174m2 79v144m2-15v-113m2 24v139m2-28v-77m2 13v47m2 41v-102m2-32v133m2-82v-57m2 27v52m2 37v-76m2-54v176m2-73v-56m2-70v113m2-48v-41m2-2v66m2 30v-140m2 19v137m2-2v-91m2 9v76m2-10v-49m2-80v156m2-25v-54m2-12v151m2-11v-143m2 33v90m2-21v-73m2 7v108m2-72v-51m2-12v43m2 24v-90m2 8v64m2 64v-174m2 97v147m2-115v-100m2 6v127m2 15v-134m2 98v39m2-23v-132m2 42v135m2-23v-125m2-15v26m2 105v-117m2-25v115m2-14v-112m2 31v89m2 6v-81m2-42v66m2 44v-62m2-96v175m2 57v-102m2-9v23m2-9v-76m2 29v97m2-23v-60m2-4v47m2-43v-44m2 9v133m2-4v-159m2 96v54m2-37v-86m2-34v64m2 94v-94m2-50v177m2-41v-105m2-20v96m2-19v-128m2-17v208m2 42v-195m2-29v154m2-37v-121m2 7v125m2 68v-164m2 3v122m2-17v-111m2-20v92m2 76v-89m2-148v158m2 28v-100m2 47v65m2 32v-146m2 4v76m2 7v-119m2 34v110m2 24v-154m2-9v194m2-91v-69m2 58v38m2-22v-83m2 3v90m2 31v-150m2-51v142m2-32v-38m2-29v73m2 25v-145m2-3v166m2-72v-37m2-51v122m2 9v-146m2 3v61m2 36v-87m2 8v61m2 4v-162m2 55v87m2-20v-77m2-39v62m2 39v-106m2 25v34m2 50v-50m2-148v154m2-47v-85m2 33v41m2-22v-61m2 8v57m2 9v-123m2-46v126m2-5v-80m2-66v95m2 92v-105m2-6v28m2-28v-109m2-8v132m2-2v-105m2-68v68m2 40v-152m2 34v77m2-9v-57m2-51v93m2-30v-111m2-5v83m2 4v-110m2-14v93m2-14v-96m2-26v186m2-30v-103m2-59v143m2-110v-111m2 39v56m2 26v-63m2-51v51m2-31v-103m2 46v118m2-118v-58m2 12v170m2-98v-50m2 4v77m2-63v-85m2-49v126m2 42v-144m2-14v143m2-11v-96m2-44v85m2 92v-205m2-7v94m2-65v-119m2 74v76m2-18v-115m2 13v170m2-76v-57m2-107v166m2 9v-200m2 91v115m2-9v-149m2 18v102m2-27v-77m2-17v104m2 61v-153m2 48v109m2-88v-85m2 5v78m2 1v-50m2 32v55m2-38v-103m2-31v77m2 61v-118m2-9v81m2 8v-110m2 53v60m2 17v-65m2-93v156m2 28v-188m2 40v132m2-4v-127m2 86v61m2 18v-116m2-54v152m2-65v-70m2-19v157m2-35v-101m2 40v60m2-8v-87m2-10v86m2 18v-31m2-129v164m2 32v-148m2 37v51m2 105v-165m2-32v60m2 1v-63m2-1v68m2 8v-25m2 25v68m2-27v-97m2-62v84m2 63v-72m2 1v89m2 6v-61m2-78v172m2 29v-267m2 59v170m2-23v-29m2 19v51m2-32v-103m2-75v133m2-33v-73m2 73v124m2-29v-90m2-65v188m2-49v-97m2-22v136m2-9v-139m2 18v92m2 9v-53m2-5v63m2 102v-200m2-35v223m2-52v-151m2 17v117m2-10v-112m2 0v95m2 45v-94m2-69v160m2-55v-59m2 9v157m2-101v-71m2-76v149m2 2v-144m2 22v118m2 16v-105m2 16v101m2 50v-150m2-26v221m2-101v-205m2 70v121m2-5v-115m2 90v105m2-28v-92m2-74v87m2 23v-75m2 9v85m2 22v-134m2 0v85m2 12v-32m2-9v64m2-57v-106m2 79v99m2-12v-71m2 39v60m2-55v-108m2 3v150m2-48v-51m2-27v150m2-85v-95m2 86v65m2 36v-231m2 96v123m2-38v-77m2-36v72m2 81v-117m2-20v169m2-85v-85m2-25v70m2 18v-83m2-1v92m2-31v-86m2 78v46m2 48v-78m2-85v170m2-46v-93m2 25v87m2-12v-82m2-77v181m2 44v-131m2 20v74m2 2v-46m2-123v123m2 88v-149m2 25v86m2 0v-78m2-62v116m2-14v-95m2-14v110m2-16v-86m2 39v54m2 42v-139m2 21v98m2-12v-60m2 15v54m2-8v-117m2 56v65m2 5v-136m2 16v155m2 14v-81m2-79v104m2-23v-77m2-39v126m2 38v-98m2-14v114m2-16v-76m2-28v58m2 61v-110m2 35v84m2 90v-152m2-105v208m2 24v-238m2 65v98m2 17v-71m2-18v56m2-28v-67m2 10v87m2-28v-46m2 43v105m2-50v-129m2 31v177m2-62v-121m2-159v212m2 80v-145m2 30v113m2-30v-76m2-53v106m2 34v-166m2 98v68m2 28v-65m2-13v51m2 30v-185m2 0v96m2 26v-60m2-59v82m2 57v-125m2 39v59m2 43v-162m2 89v38m2 10v-51m2-25v81m2 38v-112m2-3v120m2 12v-140m2-44v207m2-54v-109m2-9v154m2-3v-174m2 24v99m2 2v-71m2-9v109m2 15v-150m2-19v169m2-49v-42m2-14v97m2-79v-86m2 39v113m2-2v-90m2 43v35m2 23v-93m2-26v41m2 40v-40m2-27v60m2 23v-95m2 3v143m2-4v-123m2 52v70m2-16v-85m2-17v101m2-13v-151m2 45v100m2 35v-131m2 14v107m2-79v-120m2 34v49m2 29v-116m2 72v54m2 73v-127m2-64v193m2-33v-99m2 25v70m2 38v-110m2 8v123m2-10v-108m2-38v144m2-49v-57m2-40v121m2-19v-110m2 59v58m2 66v-96m2-18v71m2-22v-69m2-3v40m2 67v-106m2-117v156m2 36v-112m2 27v105m2 6v-158m2 16v133m2 7v-32m2-55v76m2-11v-121m2 22v88m2 35v-82m2-48v134m2-49v-105m2 34v100m2 77v-196m2 36v112m2 4v-142m2 45v72m2-8v-134m2 16v62m2 58v-125m2 92v61m2 103v-180m2-143v174m2-23v-75m2 0v63m2 2v-22m2-59v82m2 87v-167m2 33v56m2 2v-52m2-58v109m2-7v-90m2-5v42m2 148v-191m2 34v104m2 40v-102m2 44v52m2-29v-96m2 1v112m2-62v-58m2-17v169m2 10v-156m2-24v75m2 56v-90m2-57v86m2 81v-176m2 4v125m2-10v-48m2-27v131m2 1v-116m2-31v140m2 76v-204m2 26v157m2-117v-107m2 28v129m2-30v-68m2 32v103m2-6v-178m2 86v22m2 15v-126m2 66v60m2 65v-76m2-16v93m2-4v-97m2-11v104m2-2v-121m2-20v89m2 91v-167m2-22v94m2-7v-60m2 31v106m2-43v-64m2-14v125m2 13v-210m2 56v157m2-83v-55m2-25v78m2 53v-120m2 16v110m2-3v-73m2-65v85m2 21v-128m2 32v69m2 5v-107m2 34v49m2 90v-125m2-35v151m2-41v-87m2-12v170m2-36v-123m2-1v113m2-51v-159m2 127v76m2-13v-59m2-28v69m2 55v-171m2 69v28m2-18v-14m2-10v97m2 82v-143m2-46v91m2-12v-116m2 2v148m2 3v-156m2 67v69m2 47v-147m2-11v145m2-79v-43m2 43v73m2-11v-88m2-48v113m2-2v-115m2-33v172m2 88v-136m2-71v150m2-54v-126m2 57v104m2 36v-149m2 33v116m2-76v-90m2 75v17m2 36v-56m2-65v65m2 16v-86m2-8v86m2 95v-178m2 52v129m2-50v-63m2-12v38m2 27v-92m2-50v169m2-51v-43m2 12v66m2 31v-129m2 17v120m2-99v-78m2 58v101m2-15v-79m2-8v50m2 2v-45m2-69v120m2 19v-139m2 35v114m2-59v-79m2-13v109m2-7v-79m2 9v119m2 63v-90m2-32v58m2 0v-94m2-9v153m2 36v-163m2 28v64m2-3v-93m2-31v104m2 12v-99m2 15v96m2-54v-76m2 17v74m2 37v-131m2-38v131m2 112v-164m2-42v152m2-10v-167m2-5v114m2 58v-133m2-16v100m2 54v-79m2-80v210m2-56v-60m2-5v80m2 0v-98m2 1v108m2-46v-39m2-80v111m2 22v-90m2-17v112m2 8v-134m2 31v90m2-54v-143m2 21v205m2-47v-97m2-21v109m2 83v-126m2-104v200m2-37v-28m2-64v128m2-73v-54m2 14v75m2-22v-74m2 74v36m2 3v-74m2-61v158m2-29v-125m2 10v106m2 21v-105m2 10v103m2 3v-122m2 8v132m2-59v-136m2 35v117m2 33v-205m2 80v37m2 13v-35m2-5v44m2 52v-126m2 68v94m2-77v-67m2-70v106m2 18v-33m2-81v144m2-24v-121m2 60v110m2 19v-99m2-8v159m2-66v-75m2-65v81m2 58v-68m2-7v82m2-31v-157m2 101v107m2-64v-59m2-16v98m2 5v-127m2 27v108m2-25v-109m2-7v106m2 15v-62m2-50v89m2 11v-94m2 3v99m2-10v-75m2 43v122m2-83v-34m2-36v63m2-35v-56m2-20v136m2 72v-104m2-45v169m2-95v-53m2-59v180m2-62v-104m2 14v76m2-13v-126m2 69v39m2 36v-43m2-13v68m2-68v-32m2-16v109m2 23v-122m2-33v158m2-24v-143m2 28v133m2-83v-71"/>
<path stroke="#EDB120" d="M0 1313v75m2 19v-157m2 17v37m2 32v-110m2 3v153m2-6v-99m2-46v171m2-1v-231m2 97v99m2-11v-66m2-55v118m2 22v-127m2-73v199m2 83v-188m2 11v100m2-23v-88m2 42v100m2-11v-119m2-115v235m2-10v-77m2-40v101m2-20v-118m2-22v185m2-21v-92m2 26v62m2-47v-63m2-17v101m2-27v-69m2 59v56m2-12v-63m2 8v61m2 12v-61m2 0v68m2 63v-147m2-59v170m2-43v-146m2-3v152m2-42v-77m2-2v147m2-69v-84m2 44v22m2 40v-51m2-49v93m2-3v-90m2-5v91m2 78v-78m2-58v181m2-47v-137m2-35v88m2 6v-31m2-3v138m2-73v-29m2-16v56m2 19v-95m2-5v73m2 85v-156m2 3v174m2-165v-47m2 8v92m2 5v-98m2 57v128m2-46v-84m2 1v113m2 11v-71m2-23v69m2-7v-127m2 3v117m2 4v-125m2-5v158m2-95v-72m2 72v36m2-32v-97m2 9v57m2 86v-131m2-16v158m2-124v-40m2 11v163m2-48v-178m2 59v132m2 30v-105m2-56v133m2-52v-30m2-4v44m2-4v-89m2 0v76m2 117v-179m2 52v131m2-131v-109m2 78v33m2 4v-48m2 14v83m2 48v-125m2 18v49m2-36v-42m2-43v112m2 14v-114m2 62v50m2-2v-72m2-3v114m2-89v-72m2 26v61m2-16v-65m2 59v76m2-45v-55m2-66v150m2-7v-143m2 43v86m2 16v-57m2-14v97m2-4v-87m2 8v55m2 1v-55m2-12v68m2 4v-139m2 52v51m2 11v-80m2 80v85m2-78v-51m2 18v26m2 67v-130m2-63v192m2-34v-99m2-69v206m2-7v-191m2 29v87m2 47v-185m2 118v68m2-22v-125m2-13v145m2 47v-93m2-28v113m2-1v-74m2-38v89m2-3v-173m2 103v93m2 49v-136m2 13v111m2-67v-88m2 36v50m2 9v-212m2 74v130m2 35v-158m2-10v95m2 75v-148m2 58v88m2-71v-48m2 16v53m2 15v-60m2-1v133m2-26v-191m2 117v63m2-63v-75m2-12v82m2 83v-96m2-91v181m2-29v-148m2 65v67m2 27v-128m2 15v96m2-25v-45m2-1v82m2 16v-81m2-26v67m2 66v-153m2 37v109m2-27v-128m2 42v76m2-1v-50m2-101v159m2-49v-113m2 83v42m2 20v-79m2-53v146m2-4v-127m2 71v52m2 61v-231m2 14v121m2 88v-139m2-1v96m2 70v-239m2 115v68m2 1v-82m2-11v93m2-9v-89m2-20v106m2 10v-120m2 27v84m2 19v-111m2-4v108m2-53v-85m2-60v139m2 18v-47m2-50v50m2 49v-116m2 7v129m2-44v-55m2 1v37m2 99v-99m2-71v107m2 50v-162m2 33v44m2 120v-280m2 67v107m2 39v-95m2-26v98m2 99v-264m2 61v207m2-135v-66m2-4v126m2 5v-92m2 21v51m2-13v-101m2 32v90m2 60v-143m2-11v59m2 22v-83m2 38v87m2-68v-85m2 48v58m2 1v-112m2-29v82m2 105v-145m2-19v164m2 14v-115m2-18v168m2-77v-123m2-9v86m2-41v-21m2-43v117m2 8v-156m2 113v70m2 32v-144m2 13v57m2 65v-81m2-14v76m2-8v-74m2-10v79m2 31v-110m2 14v120m2-15v-124m2-11v94m2-6v-85m2 4v76m2 12v-166m2 4v131m2 40v-73m2-59v143m2-26v-83m2 5v59m2-6v-38m2 22v64m2 43v-83m2-11v60m2 3v-198m2 41v123m2 50v-222m2 56v116m2-11v-56m2-24v42m2 29v-75m2-2v55m2 50v-101m2-74v103m2 88v-155m2 29v118m2-2v-102m2-21v101m2 58v-158m2-10v124m2-31v-85m2 1v135m2 34v-188m2 84v130m2-50v-127m2 26v139m2-55v-144m2-15v186m2-55v-52m2-19v23m2 129v-174m2-23v114m2 35v-91m2 6v43m2 53v-151m2 13v79m2 118v-181m2-58v195m2-32v-86m2-22v82m2 106v-219m2 27v139m2-82v-99m2 19v132m2 54v-111m2-102v188m2-22v-99m2 20v117m2 15v-150m2 20v84m2-58v-90m2-10v106m2 11v-53m2-62v62m2 83v-84m2-45v97m2-22v-19m2-32v85m2 20v-86m2-46v159m2-7v-110m2-11v87m2 24v-98m2 27v33m2 41v-207m2 0v176m2 5v-22m2-147v157m2 56v-178m2 44v91m2 50v-76m2-138v179m2 16v-111m2-21v114m2-13v-122m2 58v181m2-42v-245m2 68v160m2-28v-60m2-28v58m2 11v-103m2 59v52m2-31v-58m2 9v77m2-60v-81m2-94v288m2-152v-86m2 75v92m2 8v-57m2 1v60m2-60v-39m2 6v31m2 55v-55m2 8v37m2 11v-36m2-56v64m2 15v-68m2 11v160m2-38v-177m2 21v80m2 46v-109m2-3v103m2-22v-78m2-20v80m2 13v-96m2-1v101m2-41v-66m2-35v150m2 18v-126m2-4v103m2-19v-80m2-51v135m2 93v-129m2 18v141m2-96v-65m2-59v179m2-82v-87m2-3v158m2-36v-154m2 111v42m2-6v-132m2 6v92m2 52v-77m2-33v59m2 108v-108m2-31v130m2-130v-20m2-19v105m2 2v-114m2-55v175m2-34v-96m2 39v84m2-14v-112m2 26v95m2 55v-123m2-32v87m2 54v-135m2 69v54m2 1v-102m2-22v112m2 23v-221m2 58v152m2-28v-120m2-30v161m2-36v-64m2-12v76m2 43v-119m2 28v109m2-40v-55m2-51v104m2-38v-64m2 64v125m2-74v-79m2 15v48m2 24v-143m2 67v68m2 53v-156m2-21v157m2-46v-82m2 11v85m2-85v-24m2-9v42m2 109v-138m2 12v92m2-47v-68m2 58v66m2 2v-110m2 66v17m2-11v-130m2 26v164m2-89v-97m2 97v56m2 0v-120m2-4v33m2 35v-38m2-49v109m2 55v-165m2 50v55m2 12v-56m2-60v186m2-24v-143m2 33v64m2-26v-141m2 92v50m2 35v-87m2-13v143m2-5v-71m2-52v111m2-78v-91m2 0v91m2 9v-98m2 18v134m2-52v-53m2-56v74m2 16v-62m2-92v169m2 40v-152m2-6v164m2-50v-82m2-15v111m2 5v-90m2-51v120m2 34v-108m2-46v101m2-2v-104m2 59v79m2 8v-173m2 33v175m2-125v-65m2 65v74m2-19v-100m2-72v156m2-71v-84m2 31v129m2-30v-32m2-25v150m2-38v-138m2-53v158m2-92v-54m2-27v134m2 3v-83m2 25v94m2-34v-98m2-62v145m2 1v-88m2 28v67m2-51v-75m2-8v210m2-75v-66m2-73v153m2 8v-119m2-51v167m2-52v-109m2-53v179m2 8v-145m2-2v139m2-15v-128m2 1v89m2-9v-123m2 41v53m2-53v-49m2-99v106m2 67v-88m2 0v55m2-5v-109m2 68v78m2-34v-96m2 31v60m2 7v-116m2-14v156m2-118v-36m2 3v86m2-14v-68m2-14v77m2 0v-46m2-12v43m2-11v-51m2-94v153m2-18v-142m2-27v188m2-51v-99m2-15v190m2-95v-94m2-52v65m2 76v-97m2 19v65m2-29v-45m2-28v34m2 15v-77m2 39v72m2 4v-112m2-156v245m2-18v-203m2 76v70m2 0v-77m2 19v166m2-66v-150m2 3v76m2-76v-53m2-11v111m2-43v-22m2-79v98m2 18v-102m2-20v76m2 39v-92m2-38v54m2 61v-71m2-18v82m2 41v-188m2-90v191m2-18v-45m2-50v58m2 8v-31m2-73v134m2-12v-82m2-14v66m2 28v-140m2-40v117m2-4v-126m2-10v135m2-13v-66m2-6v28m2 55v-123m2 11v142m2-58v-129m2 12v89m2 16v-97m2-11v84m2-73v-82m2-58v225m2-15v-96m2 0v75m2 68v-179m2-74v124m2 32v-120m2-4v175m2-96v-126m2 45v145m2-27v-69m2-33v94m2-12v-81m2 55v92m2-64v-98m2-10v107m2 64v-170m2 15v98m2-42v-34m2-26v47m2-4v-55m2 40v43m2 37v-145m2-13v81m2-6v-125m2 70v103m2 14v-122m2-21v67m2-4v-41m2-81v154m2-29v-145m2 101v72m2-72v-108m2 54v127m2-35v-112m2-14v91m2-9v-97m2 78v39m2-11v-156m2 91v122m2 8v-114m2 0v38m2 29v-73m2-85v175m2-102v-83m2 48v131m2 29v-218m2 59v145m2-30v-84m2 4v68m2 20v-130m2 45v100m2 59v-193m2-5v173m2-119v-69m2 13v125m2-4v-110m2-77v207m2 1v-125m2-75v201m2-17v-123m2-33v123m2 29v-94m2-4v82m2-30v-74m2-4v141m2-1v-121m2-23v66m2 82v-120m2-24v196m2 5v-173m2-55v157m2-31v-87m2 7v168m2-88v-123m2-14v100m2 51v-123m2 7v129m2 8v-88m2 11v81m2-6v-72m2 1v51m2 0v-53m2-99v129m2 2v-115m2 65v70m2 70v-139m2-38v104m2 55v-160m2 50v83m2-50v-39m2 12v74m2-40v-78m2 11v117m2 4v-83m2-67v113m2 22v-147m2 52v89m2-75v-65m2-8v177m2 17v-143m2 54v45m2 1v-61m2-141v226m2-49v-46m2-68v129m2 61v-200m2 14v92m2 38v-111m2 47v77m2-58v-110m2 11v83m2 81v-94m2-83v176m2-30v-83m2-18v61m2 49v-110m2 4v68m2 1v-89m2 18v187m2-5v-94m2-133v161m2-34v-98m2 52v66m2 48v-152m2 12v63m2 8v-53m2-43v176m2-115v-69m2 34v88m2-28v-43m2 27v44m2 24v-46m2 4v78m2-78v-109m2 20v98m2 1v-71m2 44v29m2 25v-57m2 11v60m2 67v-143m2 29v74m2-37v-73m2-34v100m2-5v-127m2-2v124m2 26v-153m2 70v89m2-27v-95m2 65v28m2-28v-91m2 25v225m2-148v-103m2 21v63m2 31v-49m2-79v124m2-8v-93m2 60v35m2 119v-194m2 28v156m2-101v-59m2-4v159m2-42v-77m2-23v157m2-110v-77m2-12v30m2 60v-168m2 7v218m2-20v-156m2 96v90m2-81v-23m2-55v83m2 7v-78m2 38v117m2-86v-86m2 0v102m2 6v-88m2-39v209m2-46v-133m2-54v110m2 49v-96m2-5v99m2-6v-101m2-9v74m2 112v-112m2 52v47m2-32v-121m2 33v110m2-54v-114m2-12v153m2-30v-171m2 104v79m2 18v-80m2-8v67m2 9v-62m2 26v36m2 3v-54m2 6v171m2-4v-221m2 53v110m2 18v-131m2 16v33m2-6v-65m2-43v102m2 54v-116m2-36v106m2 48v-154m2 99v59m2-21v-55m2-60v127m2-39v-112m2 52v77m2-2v-81m2-22v113m2 23v-90m2-35v143m2-128v-75m2 56v69m2-14v-55m2 16v66m2 58v-89m2 3v58m2 10v-90m2-10v72m2 28v-124m2 7v76m2-3v-143m2 15v181m2-6v-96m2-37v119m2-39v-92m2 29v37m2 75v-142m2 26v121m2-31v-58m2-18v88m2-9v-99m2-10v133m2-38v-45m2-51v74m2 83v-135m2 9v72m2 8v-113m2 31v172m2-80v-101m2 19v61m2 13v-67m2 8v103m2-33v-172m2 33v144m2-19v-128m2 70v54m2 13v-121m2 54v77m2 56v-177m2 21v129m2-17v-79m2-19v96m2 31v-148m2 11v188m2-84v-131m2-14v171m2-88v-59m2 11v64m2 95v-137m2-38v144m2-32v-100m2 64v77m2-11v-174m2 67v58m2 50v-130m2 71v61m2-58v-69m2-36v152m2-23v-141m2 48v133m2 5v-160m2 18v191m2 14v-208m2-14v92m2-25v-86m2 77v66m2-9v-116m2 8v141m2 33v-117m2-29v118m2-15v-115m2 84v131m2-29v-155m2 7v90m2 1v-135m2 10v86m2 69v-160m2 35v132m2-53v-113m2 10v131m2-29v-80m2-18v117m2 29v-141m2 4v138m2-55v-72m2-17v124m2-61v-65m2 4v142m2 18v-87m2-121v198m2-35v-157m2 69v95m2-1v-62m2-44v44m2 69v-101m2-24v84m2-3v-126m2 44v134m2-8v-150m2-11v94m2 74v-81m2-61v87m2 39v-106m2 34v43m2 40v-125m2 21v119m2-32v-117m2-27v145m2-19v-110m2 49v90m2 59v-147m2 21v37m2-36v-55m2 26v104m2-21v-154m2 80v108m2 20v-140m2-12v128m2-17v-86m2-27v109m2-34v-109m2 9v102m2-16v-51m2-33v94m2 30v-79m2-15v69m2-44v-42m2-4v126m2-23v-108m2-3v106m2 6v-65m2 18v79m2-48v-124m2 124v47m2-25v-133m2 36v78m2 55v-142m2-24v110m2 11v-37m2-38v38m2 33v-82m2 16v81m2 16v-124m2-12v152m2 47v-172m2-60v116m2 7v-145m2 66v83m2-35v-81m2 80v112m2-37v-116m2 37v95m2-61v-96m2-6v196m2 27v-181m2-49v178m2 65v-158m2-27v115m2-20v-124m2 31v88m2-2v-150m2-6v151m2-60v-33m2 6v48m2 46v-67m2-50v65m2 72v-74m2 11v35m2-3v-42m2-9v120m2-94v-44m2-11v115m2 19v-62m2-99v115m2-36v-12m2-33v142m2 38v-111m2-63v79m2 145v-228m2 18v97m2-13v-47m2-60v61m2 41v-90m2 62v32m2 20v-177m2 53v81m2-4v-79m2 18v93m2 67v-156m2-47v122m2 6v-90m2 26v83m2 24v-193m2 107v55m2 10v-83m2 22v43m2-10v-32m2-52v82m2-56v-56m2 0v107m2 40v-174m2-28v220m2-50v-67m2-21v62m2 1v-35m2-18v94m2-32v-58m2 14v114m2-76v-98m2 72v73m2 13v-122m2-3v77m2-3v-65m2-15v197m2-6v-126m2-51v116m2 24v-142m2 5v58m2 15v-78m2 40v72m2-7v-93m2-4v49m2 0v-48m2 8v59m2 37v-107m2 30v51m2 35v-187m2 39v118m2 25v-131m2-14v129m2 37v-167m2 94v88m2-6v-166m2 76v57m2-5v-77m2 10v45m2-24v-82m2 2v181m2-76v-99m2 3v118m2-16v-68m2 16v72m2 59v-194m2 56v73m2-9v-54m2 4v148m2-67v-98m2-58v85m2 5v-126m2 86v83m2 44v-211m2 80v110m2-82v-33m2-27v80m2 17v-107m2 15v106m2-23v-107m2 41v112m2 32v-155m2 42v19m2 20v-49m2 5v42m2 43v-113m2-22v200m2-101v-92m2 53v50m2 9v-78m2 4v82m2 25v-87m2 4v84m2-46v-68m2 31v56m2 3v-44"/>
<path stroke="#7E2F8E" d="M0 1262v71m2 50v-201m2 55v205m2-63v-138m2 2v160m2-17v-89m2-23v122m2 25v-143m2 59v101m2-87v-79m2-69v160m2 15v-70m2 26v39m2 61v-91m2-30v57m2 30v-117m2-53v137m2 54v-107m2-18v110m2-5v-156m2-2v196m2-54v-114m2 5v56m2 38v-130m2-35v237m2-43v-111m2 0v111m2-7v-190m2-6v121m2 51v-112m2 11v163m2-57v-137m2 56v66m2-10v-46m2 3v139m2-63v-63m2-88v143m2 105v-175m2-8v69m2 13v-121m2 27v76m2 59v-174m2-28v144m2 5v-155m2 66v51m2 84v-153m2-32v130m2 166v-269m2 73v130m2-130v-118m2 13v109m2 61v-117m2-14v123m2 7v-83m2-46v80m2-22v-112m2 39v254m2-82v-198m2 32v152m2-34v-123m2 18v131m2 19v-84m2-76v76m2 108v-110m2-45v124m2 62v-295m2 75v212m2-105v-36m2-13v99m2-14v-121m2 21v163m2-62v-108m2-18v128m2-27v-172m2 86v44m2 36v-86m2 86v29m2-27v-50m2-38v76m2 50v-94m2 6v118m2-103v-33m2-3v61m2 12v-72m2 24v91m2-1v-88m2 19v27m2-27v-107m2 16v66m2 75v-80m2-97v182m2-76v-83m2 36v165m2-108v-100m2 45v63m2 35v-97m2 69v78m2-53v-66m2 21v66m2 7v-112m2 26v44m2 48v-86m2-87v162m2-14v-166m2 17v121m2-64v-59m2 56v111m2-38v-47m2-29v84m2 69v-120m2-21v127m2-100v-121m2 90v66m2-66v-52m2 14v148m2 61v-154m2 1v58m2-15v-26m2-34v65m2-12v-86m2-5v138m2 10v-182m2 37v181m2-47v-93m2 16v127m2-26v-137m2-11v150m2-74v-119m2 27v90m2 1v-98m2 98v75m2 18v-80m2-26v34m2 17v-121m2 30v117m2 17v-150m2-19v158m2-25v-155m2 6v129m2 1v-62m2 12v40m2-28v-56m2-15v69m2 48v-109m2-22v139m2-25v-99m2-22v82m2 5v-29m2-54v192m2-44v-131m2 64v136m2-80v-83m2 7v82m2-60v-54m2-1v66m2-27v-56m2-79v173m2 10v-67m2 19v103m2 0v-132m2 23v124m2-15v-155m2 43v82m2-42v-88m2 58v152m2-41v-125m2-4v63m2-11v-88m2 28v148m2-41v-124m2-3v155m2-15v-124m2 6v121m2 3v-115m2 8v55m2-24v-44m2 7v59m2-24v-45m2-34v86m2 8v-77m2-20v86m2 55v-151m2-21v175m2-19v-170m2 51v75m2-21v-95m2 14v150m2 32v-132m2-14v130m2-75v-47m2 8v58m2-17v-68m2 51v107m2 57v-218m2-21v121m2 39v-94m2 29v50m2-14v-83m2 39v45m2-32v-47m2-10v71m2-21v-98m2 7v109m2 79v-237m2 15v80m2 90v-141m2 2v161m2-9v-174m2 91v173m2-167v-38m2 38v65m2 20v-168m2 51v108m2 70v-169m2 19v65m2 28v-108m2-48v137m2 37v-143m2 28v61m2-10v-49m2 1v118m2 0v-172m2 57v91m2-22v-92m2-26v89m2 16v-106m2 85v50m2 125v-142m2-73v77m2 2v-156m2-5v143m2 24v-65m2-61v131m2-65v-83m2-7v158m2-10v-92m2 3v92m2 38v-80m2-20v41m2-12v-22m2-34v85m2 48v-119m2-27v86m2 46v-122m2-24v79m2-33v-54m2 54v95m2-88v-93m2 31v123m2 60v-170m2 16v94m2 25v-92m2-122v191m2-51v-155m2 69v155m2-46v-95m2 19v121m2-3v-122m2-12v114m2 1v-109m2-26v138m2-36v-63m2-3v70m2-22v-20m2-23v80m2-6v-112m2 40v78m2-47v-33m2-40v138m2 14v-129m2-13v126m2 0v-133m2 25v62m2 9v-58m2-29v96m2-30v-84m2-2v130m2 19v-82m2-12v38m2 37v-100m2 39v168m2-37v-220m2 41v97m2 12v-79m2-7v96m2-65v-36m2-14v154m2-23v-49m2-35v48m2 53v-84m2-25v90m2 33v-79m2-82v176m2-58v-123m2 10v88m2 7v-57m2 5v29m2-1v-44m2 2v104m2 84v-166m2-111v149m2-44v-123m2 80v256m2-201v-44m2 32v31m2 61v-85m2 7v76m2-32v-90m2-20v66m2 13v-39m2-37v128m2-28v-103m2 27v53m2 110v-124m2-60v119m2-6v-114m2-96v152m2 18v-52m2 23v100m2 12v-114m2-17v101m2-53v-38m2-45v134m2 26v-71m2-46v68m2 16v-89m2-83v128m2 30v-92m2-25v73m2 53v-111m2 17v120m2-30v-96m2 22v48m2 20v-45m2 8v78m2-14v-169m2 17v91m2 0v-117m2-9v200m2 18v-97m2-50v62m2 98v-116m2-61v109m2-53v-17m2-42v169m2 0v-99m2-84v109m2-17v-70m2 70v65m2 4v-55m2-139v210m2-30v-104m2 38v85m2 1v-116m2-26v35m2 40v-151m2 73v55m2 132v-212m2-36v170m2 16v-119m2-58v186m2-8v-190m2 98v49m2 22v-91m2 33v40m2 42v-121m2-65v176m2-35v-131m2 78v102m2 12v-179m2-35v183m2 50v-220m2 24v127m2-17v-51m2-55v101m2 43v-132m2-4v137m2 25v-109m2-23v53m2 58v-104m2 13v78m2 1v-60m2-33v51m2 52v-92m2-27v147m2-53v-57m2-7v67m2-30v-44m2 4v50m2 40v-87m2-1v59m2-9v-69m2 39v23m2-17v-129m2-25v184m2-34v-52m2-45v79m2 37v-96m2 9v103m2-7v-108m2 41v157m2-18v-177m2-103v116m2 212v-238m2 12v148m2-4v-109m2 32v37m2-28v-42m2 39v69m2-48v-27m2-75v168m2-111v-76m2-11v142m2-26v-117m2 35v110m2-19v-97m2-7v113m2 26v-99m2-47v100m2 48v-136m2-9v65m2 17v-104m2 39v89m2 7v-129m2 27v133m2 45v-183m2 47v75m2-18v-105m2-22v143m2-31v-143m2 40v102m2 4v-122m2-18v98m2 48v-120m2-23v110m2-58v-61m2 36v85m2 6v-119m2 119v32m2-25v-105m2 6v49m2 27v-126m2-47v206m2-38v-115m2 23v33m2 81v-111m2 20v96m2-29v-102m2 4v79m2-39v-67m2-6v35m2 17v-132m2 84v59m2 49v-91m2-29v109m2 69v-208m2-47v166m2 13v-156m2 47v106m2-35v-131m2-22v154m2-58v-95m2 90v103m2-48v-77m2-39v115m2-6v-85m2-44v130m2-32v-104m2 25v52m2 23v-29m2-82v115m2-34v-94m2 54v43m2 78v-122m2-134v252m2 58v-273m2 42v119m2 7v-80m2-42v42m2 26v-76m2 7v39m2 75v-78m2-72v115m2-39v-34m2-78v109m2-30v-87m2 49v52m2-7v-56m2-47v47m2 18v-54m2-150v169m2 70v-128m2 8v134m2 26v-128m2 17v149m2-75v-129m2-27v161m2-71v-64m2-27v128m2 17v-190m2-4v115m2 6v-73m2-8v97m2-4v-82m2-66v66m2 95v-168m2 28v93m2-66v-56m2-35v95m2 42v-113m2 12v155m2-63v-83m2-49v144m2-26v-116m2 18v84m2-38v-154m2 14v159m2 14v-126m2-35v121m2 14v-121m2-38v160m2-39v-109m2 39v59m2 62v-121m2-68v193m2-152v-90m2 15v107m2 65v-117m2-73v153m2-22v-102m2 90v32m2-32v-195m2 49v102m2-33v-81m2 33v94m2 106v-181m2-2v129m2-65v-75m2-67v175m2-20v-161m2 24v63m2 29v-157m2-73v232m2-17v-177m2 162v19m2-19v-42m2-166v183m2-23v-69m2-18v96m2 44v-118m2 3v115m2-33v-127m2 49v182m2-97v-221m2-2v156m2 12v-191m2 152v46m2-46v-47m2 43v145m2-69v-141m2 10v97m2 49v-182m2 22v167m2-109v-60m2-129v171m2 40v-154m2 39v142m2-17v-56m2-70v85m2-18v-137m2 87v62m2-58v-113m2-16v152m2 26v-66m2 13v90m2-22v-201m2 90v59m2 8v-66m2-42v131m2 18v-134m2-50v69m2 95v-95m2-115v187m2-5v-155m2 20v118m2-36v-32m2-31v97m2-43v-85m2-56v215m2-19v-164m2 65v72m2-31v-164m2 6v172m2 15v-186m2-13v218m2-62v-100m2 79v39m2 58v-270m2 100v130m2-58v-51m2-69v119m2 17v-73m2-82v168m2-35v-95m2-43v172m2-116v-51m2-6v102m2 29v-45m2-15v37m2-1v-126m2 9v87m2-7v-48m2-32v154m2-14v-218m2 72v132m2-25v-104m2-31v136m2-3v-100m2-9v103m2-15v-99m2 57v76m2-15v-50m2-11v56m2 71v-162m2-25v166m2-76v-105m2 63v56m2 1v-48m2 12v40m2 80v-129m2-32v36m2 31v-64m2 18v27m2 65v-150m2 4v222m2-61v-113m2-60v165m2-4v-132m2 26v53m2 60v-104m2-79v102m2-6v-123m2 86v111m2-35v-95m2-8v76m2 103v-173m2 5v64m2 5v-20m2-69v90m2 44v-44m2-41v66m2 15v-83m2 3v71m2-11v-51m2 28v95m2-12v-142m2 28v41m2 27v-80m2 26v53m2 41v-148m2-12v111m2-14v-123m2 3v95m2 83v-92m2 5v42m2 50v-179m2-27v197m2-48v-90m2-62v97m2 41v-92m2 0v59m2 126v-142m2-48v48m2 19v-29m2 26v20m2 36v-156m2 86v111m2-39v-106m2 37v85m2-49v-84m2 2v164m2-39v-80m2-45v127m2-36v-105m2 20v76m2 61v-164m2 25v149m2-55v-30m2-38v62m2 46v-77m2-32v138m2 15v-67m2-83v125m2-58v-34m2 22v54m2 16v-173m2-4v143m2-18v-87m2-37v128m2 28v-93m2-79v96m2 78v-174m2 29v109m2 37v-119m2-28v83m2 69v-86m2-13v59m2 89v-226m2 79v132m2-50v-86m2-46v63m2 54v-72m2 25v21m2 21v-89m2-14v147m2-59v-86m2-63v147m2 11v-41m2-56v83m2 16v-62m2 38v75m2-34v-76m2 28v86m2-55v-29m2 7v99m2-92v-156m2 102v64m2 12v-55m2-47v47m2 31v-73m2 73v84m2-31v-109m2 75v128m2 16v-230m2 24v115m2-29v-82m2-28v180m2-13v-100m2-65v65m2 37v-122m2-1v124m2-44v-74m2 50v122m2-12v-232m2 125v73m2-25v-76m2 7v71m2 41v-120m2-42v127m2-22v-124m2 60v138m2-65v-96m2 16v160m2 15v-131m2 6v123m2-71v-77m2-49v188m2-65v-117m2 101v58m2-58v-68m2 41v55m2 39v-72m2-22v93m2-65v-120m2 102v26m2 37v-68m2-43v75m2 67v-106m2-16v100m2-4v-59m2-55v104m2 51v-157m2 46v131m2-78v-64m2-30v162m2-76v-72m2-10v109m2-9v-155m2 9v179m2-54v-66m2 14v24m2 71v-127m2-12v78m2 13v-65m2 22v67m2 23v-137m2 9v206m2 10v-185m2-46v103m2 11v-47m2-28v143m2-90v-64m2 29v116m2-111v-36m2-55v160m2-44v-65m2-24v154m2-38v-62m2-50v130m2 32v-50m2-25v53m2 18v-142m2-6v83m2 56v-77m2-114v190m2 9v-122m2 13v67m2-65v-32m2 24v158m2-9v-170m2-30v172m2-64v-104m2 45v70m2 22v-61m2 21v65m2-30v-178m2 130v41m2 57v-97m2-11v111m2 14v-160m2 19v93m2 4v-98m2-49v71m2 103v-150m2 15v119m2 10v-108m2-98v189m2-32v-179m2 35v136m2 13v-86m2-22v65m2 27v-70m2 20v51m2 26v-41m2-84v108m2-13v-82m2-49v166m2 19v-95m2 0v33m2 48v-109m2-13v91m2 14v-98m2-26v121m2 3v-99m2-43v239m2-98v-93m2 31v29m2 67v-75m2-30v77m2 8v-112m2 88v28m2 20v-49m2-75v75m2 37v-126m2 18v57m2 108v-143m2-16v47m2 52v-81m2-26v161m2-52v-79m2-69v137m2-26v-93m2 29v104m2 3v-106m2 44v136m2-60v-173m2 104v61m2-33v-75m2-37v108m2 25v-121m2 7v140m2-9v-84m2-3v72m2 67v-95m2-91v91m2 132v-268m2 76v139m2-20v-103m2 0v111m2-5v-164m2 46v51m2 96v-185m2 39v28m2 31v-78m2 3v70m2 45v-88m2 4v59m2 44v-103m2-58v148m2-44v-95m2 95v54m2-28v-86m2 15v71m2 19v-99m2-78v141m2 66v-96m2-11v67m2-14v-91m2-11v114m2 25v-159m2 37v86m2-21v-86m2 41v79m2 10v-87m2-19v133m2 0v-53m2-85v99m2 75v-169m2-9v137m2-22v-96m2-22v157m2-43v-75m2 32v86m2-51v-71m2-3v14m2 54v-116m2-2v118m2 41v-52m2-2v43m2-3v-109m2 99v57m2-39v-99m2 1v162m2-34v-122m2-25v125m2 29v-129m2 30v103m2-89v-90m2 10v122m2 28v-148m2-25v156m2-48v-156m2 6v165m2-13v-117m2 21v109m2-38v-33m2-17v110m2-18v-115m2-49v136m2 56v-122m2 26v166m2-104v-66m2-39v110m2-9v-68m2-3v88m2 8v-64m2-88v129m2 39v-87m2 1v55m2-26v-116m2-10v204m2-8v-63m2-84v119m2 17v-93m2-24v143m2-5v-151m2-3v104m2 29v-139m2 43v87m2-71v-90m2-17v142m2 41v-102m2 33v28m2-2v-74m2 1v26m2 96v-105m2-52v136m2 12v-148m2-14v142m2 4v-64m2 12v102m2-91v-16m2 0v52m2 29v-129m2-11v143m2 6v-127m2-53v150m2-30v-63m2-1v110m2-59v-57m2 45v7m2 72v-79m2-87v159m2 15v-129m2-12v127m2 35v-152m2 9v124m2-35v-30m2-25v53m2 70v-127m2-62v122m2 9v-95m2-14v122m2-10v-91m2-35v46m2 118v-160m2-7v108m2 63v-156m2 33v45m2-8v-59m2 48v82m2-18v-145m2 50v93m2-41v-127m2 84v35m2 48v-82m2 13v105m2 25v-213m2 31v135m2-6v-113m2-15v100m2 85v-172m2 24v91m2 41v-120m2-25v88m2 112v-187m2-19v153m2-29v-131m2 16v98m2 4v-66m2-8v83m2-40v-67m2 48v78m2 1v-117m2-28v103m2 26v-179m2 94v93m2-10v-104m2 11v99m2 10v-94m2 15v98m2-20v-131m2 41v125m2-81v-50m2-5v79m2 4v-71m2-27v107m2-35v-10m2-25v42m2 24v-58m2-62v62m2 112v-172m2-32v205m2-32v-66m2-58v86m2-14v-110"/>
<path stroke="#77AC30" d="M0 1254v83m2 47v-163m2 36v193m2-86v-88m2-28v108m2-1v-114m2 76v56m2-33v-132m2 34v96m2 80v-125m2 9v96m2-14v-135m2-90v159m2 39v-114m2 44v28m2 70v-100m2-6v72m2-5v-39m2-25v105m2-12v-178m2 39v140m2-15v-115m2 41v146m2-60v-74m2-13v57m2 27v-41m2-109v119m2 48v-117m2 16v148m2-96v-62m2 37v57m2-2v-64m2 21v82m2-33v-128m2 7v116m2 0v-65m2-2v64m2 10v-93m2-36v127m2 14v-213m2 70v121m2-7v-44m2-71v107m2-9v-97m2-19v114m2 17v-57m2-58v82m2-7v-73m2 20v65m2 9v-23m2-62v117m2 55v-133m2 21v21m2 51v-152m2-16v108m2 41v-134m2 107v43m2-25v-66m2-32v150m2-14v-100m2-29v53m2 15v-86m2 14v63m2 18v-59m2-55v105m2 67v-67m2-62v128m2 13v-141m2-39v150m2 24v-123m2 29v93m2-68v-111m2-36v179m2 22v-133m2-19v142m2 4v-49m2-94v182m2-107v-115m2 63v142m2-9v-156m2-40v257m2-96v-88m2-36v87m2-1v-76m2-14v147m2-39v-182m2 114v74m2 23v-69m2-69v162m2 6v-179m2-2v104m2-7v-62m2 1v44m2 91v-171m2 65v114m2 45v-100m2-79v199m2-39v-154m2-145v217m2 21v-85m2-34v77m2 34v-140m2 39v64m2 65v-115m2-39v149m2-9v-140m2-5v93m2 92v-129m2 21v60m2 7v-51m2-32v128m2 9v-160m2 9v93m2 12v-49m2-3v92m2-92v-47m2 43v56m2-53v-36m2 33v79m2-21v-50m2-109v158m2 24v-86m2 1v106m2-66v-104m2 50v45m2 78v-78m2-21v96m2-13v-136m2-16v89m2-23v-77m2 6v63m2 26v-116m2 4v64m2 62v-62m2-18v72m2 38v-105m2 64v56m2 8v-101m2-1v44m2 103v-140m2-6v10m2 48v-72m2-37v129m2 44v-117m2-63v184m2-12v-178m2-48v177m2 90v-180m2-67v247m2-134v-79m2 25v141m2-2v-158m2-18v142m2 45v-104m2-16v47m2 8v-102m2-81v237m2-55v-157m2 118v88m2-64v-93m2 7v58m2-19v-18m2-13v86m2 0v-126m2 35v59m2 39v-41m2-32v129m2-67v-59m2 38v58m2-42v-34m2-34v148m2-54v-103m2 12v129m2-6v-69m2-140v140m2 24v-169m2 52v47m2 152v-217m2 41v66m2-2v-75m2 39v69m2 46v-74m2-70v136m2-55v-49m2 13v56m2 9v-136m2 27v27m2 14v-43m2 23v104m2-102v-11m2 5v105m2 9v-115m2 52v67m2-67v-35m2-104v148m2-5v-50m2 5v52m2-16v-29m2-35v94m2 31v-86m2-37v111m2 54v-134m2-43v115m2-18v-60m2-31v150m2-41v-109m2-3v63m2 72v-211m2 99v115m2 6v-147m2 52v131m2-78v-51m2-16v127m2-30v-118m2-4v129m2-44v-108m2 35v129m2-10v-124m2-76v164m2-38v-99m2 28v111m2-17v-78m2-54v137m2 28v-116m2 52v84m2-71v-54m2-40v105m2-16v-50m2-64v188m2 4v-117m2-20v126m2-87v-88m2-9v91m2 78v-163m2 19v132m2 99v-166m2-70v145m2 43v-189m2 20v199m2 19v-161m2-69v145m2-8v-94m2 15v73m2-21v-61m2-8v128m2 6v-166m2 63v93m2 7v-38m2-91v120m2-16v-202m2 84v163m2 1v-139m2-54v192m2-20v-106m2 42v57m2 25v-152m2-88v102m2 64v-64m2-6v102m2 36v-103m2-46v90m2 36v-122m2 78v67m2-25v-143m2 45v88m2-23v-115m2 25v132m2-24v-138m2-8v277m2-190v-64m2 64v106m2-41v-157m2 16v108m2 46v-127m2-18v135m2-7v-50m2-2v45m2 11v-49m2-58v90m2-62v-98m2 98v78m2 64v-150m2-6v99m2-9v-90m2-37v43m2 107v-107m2 9v60m2-41v-38m2 38v69m2-4v-152m2-17v161m2 3v-110m2-18v75m2 91v-196m2 71v85m2-26v-105m2 1v166m2-48v-100m2 44v53m2 50v-121m2-5v100m2-6v-76m2-28v188m2-188v-17m2 2v84m2-1v-91m2-22v135m2 14v-113m2-18v195m2-61v-110m2-17v102m2-18v-85m2-47v173m2-24v-145m2 85v82m2-4v-88m2-30v99m2 22v-78m2 5v126m2-90v-128m2 39v59m2 4v-57m2 2v72m2 14v-146m2-47v253m2-30v-120m2 34v92m2-45v-57m2-3v99m2-10v-158m2 69v55m2 1v-80m2-24v91m2 38v-127m2-66v228m2-13v-110m2-77v170m2 43v-119m2-6v133m2-79v-75m2 9v72m2 51v-164m2 67v27m2 19v-72m2-17v40m2 30v-70m2-93v112m2 31v-71m2-16v183m2-84v-38m2-18v79m2 9v-109m2 31v87m2 33v-68m2-33v33m2 64v-97m2-41v105m2-12v-95m2 20v61m2 5v-78m2 43v82m2 20v-144m2-3v126m2-102v-70m2 17v128m2 17v-71m2-92v117m2 64v-201m2 32v169m2 7v-154m2-11v73m2 38v-121m2-37v192m2 31v-81m2-135v135m2 25v-146m2 48v89m2 33v-126m2 9v73m2-38v-59m2 18v29m2 39v-107m2 9v113m2 76v-99m2-38v103m2-90v-115m2 66v126m2-14v-88m2 32v83m2-5v-138m2-18v62m2-6v-50m2 3v179m2 17v-176m2-42v140m2-37v-152m2 70v99m2-11v-130m2 61v88m2 17v-105m2-9v58m2 30v-64m2-81v115m2-22v-24m2-63v73m2 46v-155m2 7v133m2 35v-138m2 6v136m2-20v-43m2-15v38m2-38v-117m2 38v73m2 19v-43m2-6v46m2-28v-60m2-10v183m2-60v-59m2-44v115m2-55v-49m2-42v98m2 22v-104m2 1v139m2 2v-111m2-72v129m2 30v-113m2-1v57m2-22v-45m2 39v69m2-3v-59m2-5v26m2 67v-98m2-22v119m2-65v-52m2-8v37m2 34v-152m2-4v75m2 27v-128m2 23v108m2 97v-287m2 114v89m2-2v-81m2-93v194m2-18v-83m2 11v54m2-4v-42m2-48v85m2-14v-32m2-35v100m2-14v-42m2-113v182m2 29v-236m2 11v147m2-47v-68m2 40v63m2 8v-113m2 77v50m2-20v-149m2 20v148m2-104v-51m2 29v51m2 89v-136m2 47v105m2-48v-175m2-17v130m2 103v-151m2-37v97m2 8v-80m2-22v85m2-19v-55m2-10v111m2 3v-116m2-47v105m2 46v-183m2 25v107m2 35v-78m2-65v133m2-37v-86m2-11v65m2 26v-135m2 104v68m2-8v-125m2-11v63m2 84v-127m2-5v27m2 41v-71m2-28v113m2-5v-135m2 66v81m2-37v-66m2-126v260m2-67v-150m2-19v128m2 3v-102m2 51v61m2-53v-79m2-11v78m2 19v-68m2-38v115m2 64v-166m2 21v21m2 73v-106m2-34v90m2 5v-159m2 71v75m2 32v-120m2 21v104m2 40v-105m2-60v105m2-45v-111m2 7v116m2-67v-61m2 23v96m2-17v-73m2-81v167m2-7v-145m2-22v130m2 109v-173m2-30v263m2-186v-139m2 52v133m2-85v-52m2 6v91m2 0v-158m2 53v53m2-27v-36m2-15v129m2-41v-94m2 13v87m2-3v-84m2-42v114m2-11v-73m2-34v112m2-1v-157m2-2v105m2 8v-101m2-22v114m2 27v-114m2 0v94m2 34v-135m2 2v70m2-30v-126m2 22v95m2 39v-110m2-33v165m2-8v-139m2 36v59m2-11v-64m2-21v28m2 59v-75m2 15v98m2 8v-110m2-114v242m2-59v-160m2 36v201m2-114v-47m2-68v68m2-9v-57m2 19v38m2-6v-96m2 13v46m2 66v-66m2-61v132m2-26v-103m2 30v96m2-34v-121m2-52v159m2 49v-148m2 15v88m2-18v-116m2 27v46m2 137v-137m2-48v164m2-146v-93m2 93v139m2-63v-158m2 6v106m2 32v-181m2-21v212m2-42v-79m2 22v49m2 88v-152m2-77v185m2-13v-134m2 24v98m2-1v-63m2-35v85m2 25v-143m2 20v134m2 57v-158m2-16v62m2-32v-89m2 86v86m2-50v-129m2-28v165m2-66v-50m2-52v88m2 33v-83m2-16v137m2-27v-122m2 37v32m2 0v-34m2-59v101m2 0v-76m2-5v88m2-9v-87m2 24v63m2-40v-36m2-6v79m2-37v-79m2-2v114m2 20v-98m2-32v146m2 20v-69m2-21v37m2-7v-9m2-110v119m2-43v-84m2 60v78m2-51v-34m2-21v89m2-5v-98m2-30v92m2 32v-150m2 12v146m2-72v-113m2 27v173m2-67v-66m2 40v10m2 24v-36m2-88v196m2-69v-110m2 37v98m2 41v-139m2-14v75m2 91v-233m2 74v127m2-44v-99m2 15v72m2-2v-74m2-7v48m2 53v-95m2-44v175m2-75v-131m2 7v146m2 36v-137m2-5v196m2 4v-167m2-8v110m2 77v-215m2 30v97m2-13v-112m2-41v41m2 132v-143m2 16v104m2 4v-134m2 19v143m2 7v-166m2-25v119m2 48v-160m2 8v166m2-75v-37m2-41v108m2 45v-137m2 7v115m2 30v-193m2 39v132m2-10v-142m2-46v82m2 50v-70m2-79v147m2-61v-48m2 24v59m2 17v-57m2 4v185m2-110v-149m2 44v107m2-9v-80m2-10v52m2-1v-57m2 17v59m2 47v-47m2-144v150m2-51v-59m2 51v35m2 23v-117m2 54v57m2 13v-91m2 37v64m2 68v-107m2-64v129m2-17v-117m2 40v80m2-1v-87m2-26v117m2-39v-95m2 30v78m2 13v-77m2-35v78m2 22v-37m2-61v96m2 46v-57m2-108v179m2-88v-74m2 62v84m2-27v-93m2 77v52m2 13v-164m2-19v154m2-42v-59m2 36v103m2-86v-58m2 20v67m2-67v-65m2-30v185m2-11v-103m2-17v103m2 16v-140m2 39v83m2 51v-124m2 5v82m2 54v-71m2-64v98m2-20v-82m2-42v88m2 156v-205m2-43v76m2 97v-120m2-32v70m2 93v-118m2-76v110m2-25v-136m2 76v127m2 11v-116m2-12v55m2-5v-86m2 71v59m2 57v-97m2-97v160m2 75v-224m2 56v43m2 37v-68m2-50v141m2 97v-210m2-58v200m2-90v-105m2 85v60m2 20v-62m2-86v96m2 56v-99m2-51v141m2 50v-162m2 22v95m2-10v-106m2 64v35m2-13v-73m2-2v136m2 13v-187m2 51v58m2 48v-68m2-76v185m2-16v-81m2-49v121m2-39v-105m2 25v57m2-18v-40m2-13v108m2-21v-61m2 2v96m2-18v-77m2-5v83m2-16v-115m2-15v103m2 83v-125m2-76v138m2-57v-45m2-51v113m2 76v-160m2 35v100m2 97v-204m2-22v135m2 7v-115m2 25v42m2 47v-170m2 29v124m2-46v-66m2 4v143m2 14v-108m2 14v59m2-31v-54m2-35v135m2 1v-193m2 21v107m2-3v-107m2-44v161m2 19v-199m2 162v97m2-76v-79m2-36v81m2 85v-125m2 81v103m2-8v-195m2 33v97m2-42v-88m2 25v122m2 19v-95m2-75v152m2-40v-24m2-12v37m2 45v-92m2 41v44m2-22v-24m2-56v99m2 19v-180m2 50v85m2 49v-182m2 19v125m2 9v-51m2-17v17m2 57v-77m2-10v40m2 8v-68m2-26v136m2-12v-60m2-34v91m2-47v-108m2 108v58m2 22v-79m2-26v69m2 30v-115m2-19v82m2 84v-84m2-69v146m2-103v-129m2 126v57m2 72v-150m2-3v61m2 80v-105m2-32v114m2-62v-58m2 21v108m2 10v-97m2-23v55m2 46v-176m2 68v72m2 75v-148m2-4v79m2 26v-163m2 2v202m2-81v-58m2 12v85m2 20v-138m2-49v158m2 68v-164m2-14v156m2-27v-138m2 36v58m2 74v-138m2-16v55m2 42v-42m2-71v150m2-20v-105m2 12v103m2-49v-111m2 49v94m2-4v-24m2-44v65m2 22v-153m2 32v134m2 13v-126m2 6v78m2-29v-32m2-41v140m2 28v-195m2 12v124m2 51v-118m2-15v71m2-13v-160m2 18v144m2 0v-93m2-7v134m2-5v-150m2 59v99m2 22v-83m2-87v123m2 1v-86m2-18v95m2-59v-10m2-48v82m2 99v-129m2 17v33m2-6v-64m2 16v81m2-3v-147m2 27v117m2 6v-126m2 20v92m2 56v-124m2-2v94m2-27v-97m2 48v96m2 69v-110m2 0v61m2-9v-166m2-47v157m2 12v-109m2 14v120m2-14v-52m2 0v26m2 70v-126m2 52v74m2 6v-107m2-17v109m2-72v-43m2 21v92m2-15v-195m2 42v169m2-2v-68m2-28v28m2 71v-83m2-9v145m2-81v-116m2-4v96m2-28v-61m2-6v104m2 2v-106m2 42v70m2 10v-51m2-51v107m2-3v-63m2-15v66m2 17v-66m2-9v26m2-21v-37m2 37v56m2-15v-75m2 13v66m2-8v-72m2 19v31m2 78v-144m2 39v46m2 50v-97m2 18v34m2 9v-49m2-56v149m2 37v-175m2 16v91m2 39v-148m2 9v139m2-32v-78m2-10v139m2-84v-109m2 85v76m2-17v-75m2 5v44m2-2v-55m2 19v81m2 6v-72m2-8v62m2 169v-237m2-13v103m2 62v-243m2 71v176m2-142v-48m2 14v134m2 4v-111m2 26v52m2-11v-79m2-46v93m2 33v-59m2-42v144m2-12v-82m2-94v138m2 36v-98m2 0v133m2-85v-91m2 19v55m2 1v-78m2-15v156m2-30v-114m2 53v55m2 6v-41m2-1v47m2 44v-143m2 64v86m2-29v-87m2 16v66m2-31v-100m2 7v68m2 34v-64m2-4v110m2 4v-195m2 90v93m2-47v-125m2 107v54m2 31v-137m2 48v71m2 13v-49m2-129v157m2 3v-183m2 104v75m2 11v-90m2 5v139m2-82v-116m2-72v196m2-4v-130m2 98v116m2-81v-31m2-104v138m2 17v-134m2 41v76m2 51v-122m2-45v177m2-43v-188m2 51v121m2-30v-57m2 22v99m2-51v-99m2 11v199m2-91v-115m2 26v94m2-20v-43m2-35v102m2 21v-90m2-58v97m2-8v-74m2 19v67m2 0v-41m2 7v68m2-7v-86m2-5v108m2-66v-26m2-39v52m2 42v-83m2 6v178m2-69v-138m2-37v175m2-5v-68m2-29v126m2-93v-38m2 14v175m2-4v-162m2-2v93m2-8v-162m2 38v67m2-3v-3"/>
<path stroke="#4DBEEE" d="M0 1326v64m2 58v-198m2 42v100m2-41v-38m2-38v45m2-32v-23m2-1v102m2 21v-145m2 84v95m2-56v-83m2-53v119m2 73v-212m2 124v87m2-3v-150m2 41v126m2-57v-151m2 43v99m2 41v-162m2 47v133m2-121v-67m2-1v187m2-45v-91m2-41v64m2 52v-56m2-19v53m2-2v-107m2 44v142m2-51v-138m2-3v192m2 3v-107m2-73v97m2 77v-163m2 22v80m2 66v-161m2 13v61m2 46v-88m2 4v122m2-40v-103m2 53v99m2 11v-105m2-5v89m2-89v-52m2-22v129m2 0v-134m2-5v88m2 11v-80m2 21v71m2-2v-69m2-34v113m2-16v-41m2-10v61m2 3v-60m2-5v76m2-45v-58m2-16v68m2 79v-98m2-57v126m2 7v-83m2-38v121m2 87v-215m2-40v175m2-20v-236m2 147v75m2 68v-163m2 35v65m2 52v-187m2 117v68m2-38v-120m2 9v80m2 71v-138m2-3v79m2 58v-115m2 18v31m2-31v-69m2 31v124m2 7v-92m2-100v129m2 1v-156m2 107v26m2 35v-47m2-2v29m2 18v-81m2-3v79m2 21v-83m2 35v81m2-6v-145m2 5v175m2-9v-172m2 5v73m2 187v-230m2-80v183m2-33v-92m2-47v148m2-6v-52m2 20v43m2 6v-154m2 85v77m2 20v-134m2-20v103m2-73v-81m2 39v250m2-89v-175m2 92v64m2-14v-16m2-129v136m2 44v-126m2-19v136m2 33v-179m2 77v39m2-28v-39m2-41v101m2 23v-68m2-45v45m2 6v-51m2 32v86m2-49v-49m2 49v35m2-12v-45m2 18v74m2-45v-79m2-31v105m2-36v-75m2 40v100m2 22v-113m2-4v104m2-53v-83m2 68v43m2-35v-80m2 70v25m2 81v-103m2-44v66m2 15v-70m2-8v122m2 6v-79m2-78v175m2-73v-45m2 8v154m2-93v-88m2-54v165m2-13v-128m2 100v86m2-74v-140m2 86v112m2-13v-126m2-37v126m2-49v-78m2 56v86m2 100v-179m2-85v203m2-58v-116m2-29v138m2 40v-137m2 53v40m2-11v-70m2 10v150m2-41v-104m2 2v30m2 38v-111m2 13v205m2-3v-198m2-17v83m2 99v-161m2-29v88m2 58v-123m2-32v81m2 53v-53m2-119v227m2 2v-100m2-2v54m2-36v-72m2-64v127m2 51v-51m2-63v88m2 19v-52m2-57v80m2 35v-117m2 10v113m2 38v-104m2-42v71m2 47v-145m2-65v161m2 60v-156m2-53v151m2 9v-167m2 52v64m2 52v-73m2-60v143m2 25v-147m2-44v163m2 8v-159m2 24v135m2 39v-139m2 54v46m2 45v-218m2 85v77m2-9v-103m2-76v203m2-22v-110m2 22v100m2 17v-86m2-45v81m2 9v-87m2 48v68m2-2v-88m2-66v127m2-5v-57m2-46v94m2 42v-124m2 62v62m2 65v-77m2-100v100m2-39v-20m2-71v114m2 48v-156m2 113v36m2 24v-127m2-126v149m2 28v-93m2-1v153m2-58v-137m2 6v163m2-1v-156m2-9v75m2 112v-115m2-59v180m2-43v-74m2-56v103m2 13v-78m2-4v77m2-25v-82m2 36v79m2 24v-133m2 67v131m2-9v-70m2-151v168m2 35v-153m2 8v95m2 3v-59m2-59v94m2-21v-115m2 80v47m2 0v-60m2 26v146m2-32v-151m2 63v159m2 24v-204m2 6v50m2 36v-100m2-48v116m2 118v-171m2-73v107m2-23v-98m2 1v135m2 37v-165m2 47v145m2-82v-78m2 9v88m2-24v-55m2-23v66m2 26v-74m2-1v84m2-29v-53m2 47v40m2-7v-106m2 40v104m2-50v-91m2 91v92m2-68v-152m2-6v141m2 21v-75m2-18v78m2 19v-67m2 67v25m2-12v-135m2 41v108m2-59v-61m2-8v31m2 45v-51m2 19v72m2-16v-135m2 47v78m2-17v-64m2-23v82m2 33v-57m2-95v95m2 7v-56m2 22v134m2-49v-76m2 23v82m2-48v-98m2 3v40m2 145v-145m2-66v72m2 12v-40m2 24v62m2-5v-137m2 17v179m2-16v-96m2-78v124m2 39v-80m2-86v86m2 29v-130m2 98v72m2 2v-114m2-5v78m2 56v-112m2 8v97m2 6v-91m2-65v70m2 131v-180m2-15v77m2 76v-128m2-12v104m2 54v-151m2-44v195m2-88v-55m2-5v79m2-25v-80m2 14v77m2 9v-150m2 22v134m2-9v-89m2-90v181m2-2v-78m2 4v108m2 35v-179m2-5v68m2 70v-134m2 43v93m2-1v-219m2-9v174m2 24v-141m2 61v99m2 47v-131m2 46v38m2 12v-210m2-12v165m2 93v-253m2 69v112m2-9v-34m2 16v26m2 22v-46m2-66v90m2 5v-34m2-88v135m2 0v-111m2 60v49m2 17v-134m2 43v32m2 101v-172m2-37v143m2-14v-52m2-45v64m2 38v-94m2 63v33m2-5v-126m2 36v70m2-20v-57m2 0v84m2 44v-65m2-1v62m2 77v-149m2-34v125m2-31v-89m2-71v114m2-20v-47m2 47v53m2 29v-193m2 2v246m2 18v-226m2-43v125m2 54v-138m2-46v221m2-24v-80m2-102v133m2 5v-15m2-13v15m2 30v-70m2-85v140m2-35v-108m2 19v124m2-4v-117m2-67v91m2 100v-136m2 68v27m2 38v-151m2-12v126m2-8v-106m2-4v197m2-66v-146m2-3v118m2 30v-145m2-35v126m2 5v-75m2-43v120m2-27v-57m2 57v146m2-39v-102m2-35v79m2-40v-72m2 28v52m2-8v-11m2-125v161m2 41v-222m2 152v97m2-27v-144m2 13v99m2-56v-70m2 67v15m2 51v-158m2 3v118m2-9v-111m2 43v83m2 24v-92m2-8v121m2-40v-93m2-56v56m2 54v-112m2 61v67m2-2v-58m2-28v61m2 12v-68m2-96v193m2 44v-248m2 85v174m2-117v-58m2-29v72m2 61v-107m2-15v81m2 55v-127m2-30v102m2 41v-103m2-7v106m2-11v-119m2 6v150m2-40v-77m2-54v57m2 83v-115m2-35v149m2 26v-207m2 69v83m2-83v-95m2 85v53m2 11v-36m2-69v71m2 48v-195m2-5v209m2 17v-76m2-80v126m2-63v-76m2-65v207m2-38v-95m2-68v68m2 63v-74m2-59v110m2 95v-197m2 30v104m2 15v-192m2 54v82m2 16v-83m2 26v52m2 18v-93m2 50v125m2-60v-96m2 3v33m2-31v-52m2-24v87m2 36v-99m2-31v118m2 34v-114m2 6v112m2-44v-75m2 49v50m2-32v-176m2 16v127m2-20v-115m2 7v93m2 104v-156m2-18v125m2-20v-65m2-8v72m2-10v-145m2 40v104m2-20v-63m2-16v45m2 40v-95m2-21v124m2-14v-94m2 3v73m2-17v-93m2-41v41m2 147v-155m2 84v75m2 11v-161m2-46v174m2-104v-28m2 5v74m2 6v-86m2-7v79m2 14v-69m2-61v131m2-76v-127m2 53v69m2-33v-84m2-7v153m2-8v-134m2 50v160m2-12v-156m2 43v42m2 68v-145m2 3v123m2-53v-98m2 24v141m2-70v-92m2-87v166m2-48v-116m2 116v107m2-41v-158m2 27v111m2 15v-141m2 18v67m2-6v-52m2-57v100m2 0v-90m2-24v46m2 83v-104m2-20v118m2 10v-156m2-23v87m2 16v-83m2 4v49m2 9v-171m2 95v130m2 19v-104m2-89v206m2-110v-105m2 46v134m2-13v-148m2 7v90m2 2v-88m2 27v82m2-66v-41m2 30v64m2 15v-111m2-30v154m2 10v-144m2-70v237m2-79v-104m2-23v105m2-14v-77m2-17v109m2-20v-128m2 53v57m2 21v-62m2-78v189m2 56v-202m2-19v71m2-42v-158m2 95v123m2 33v-185m2 22v88m2 84v-196m2 82v61m2-17v-167m2 90v69m2 46v-109m2-37v133m2 5v-87m2-17v64m2-10v-111m2 40v148m2-57v-55m2-136v136m2 40v-134m2 77v50m2-50v-26m2-78v134m2-74v-59m2-61v130m2 41v-72m2-8v101m2-36v-68m2 31v68m2-31v-114m2-86v204m2 8v-190m2-30v141m2 27v-89m2 77v52m2-24v-130m2-39v203m2 74v-196m2-40v104m2 5v-128m2 55v104m2-26v-27m2-84v88m2-18v-69m2 10v54m2-15v-40m2 40v93m2 0v-191m2-16v78m2 74v-147m2-10v114m2 51v-125m2-11v87m2 6v-80m2-78v148m2 19v-81m2-14v99m2 12v-68m2-1v18m2-2v-24m2 14v122m2-23v-95m2-42v138m2-70v-92m2-37v141m2-61v-126m2 21v113m2 69v-125m2-19v133m2-63v-79m2 33v136m2 26v-210m2 16v124m2-38v-144m2 29v102m2 7v-76m2 30v94m2-50v-118m2 61v120m2-50v-99m2-39v178m2-65v-189m2 135v36m2 32v-127m2 1v86m2 78v-163m2 24v67m2-11v-95m2-16v141m2 39v-184m2 29v114m2-60v-95m2-6v136m2 8v-146m2 138v31m2-22v-168m2-2v111m2 95v-148m2 9v85m2 82v-143m2-7v46m2 0v-90m2 75v23m2 16v-79m2-62v221m2-47v-81m2-134v134m2 17v-79m2-26v103m2-53v-59m2 59v126m2-42v-60m2 60v87m2-51v-182m2 24v142m2 62v-118m2-155v271m2-120v-89m2 60v46m2 83v-137m2-8v74m2-40v-89m2 59v75m2 5v-78m2-2v71m2 29v-138m2-54v152m2-4v-45m2-48v81m2 32v-140m2 0v130m2-5v-125m2 13v107m2-57v-73m2 17v129m2-12v-78m2-8v74m2-7v-84m2-10v103m2 8v-69m2-25v75m2-49v-39m2 33v100m2-55v-98m2 22v143m2-3v-148m2-69v220m2-42v-74m2 2v71m2-18v-120m2 51v152m2-101v-50m2-26v164m2-85v-77m2 74v29m2-7v-130m2 86v82m2 55v-169m2 44v75m2-6v-120m2 0v56m2 24v-107m2-18v148m2-17v-141m2-4v203m2 31v-167m2-20v45m2-10v-40m2 40v70m2-9v-78m2-1v110m2 11v-120m2 24v105m2-93v-83m2-34v134m2 32v-62m2-5v59m2-36v-40m2 0v118m2 1v-71m2-6v51m2 0v-115m2 48v68m2-12v-96m2-31v119m2 62v-138m2-98v240m2-18v-156m2 19v22m2 16v-68m2 11v209m2-31v-145m2 7v101m2 5v-76m2-9v73m2-37v-84m2-3v97m2 26v-99m2 7v38m2 38v-92m2-107v168m2 63v-68m2-20v96m2 69v-166m2 1v195m2-133v-80m2-12v98m2 62v-99m2-69v158m2-131v-128m2-12v211m2 6v-54m2-98v100m2-7v-76m2 55v114m2-24v-99m2-19v175m2-95v-28m2-14v120m2-111v-60m2 47v39m2-5v-81m2 12v126m2 34v-154m2-35v183m2-114v-27m2-23v74m2 48v-174m2 92v73m2-14v-148m2 14v137m2 30v-128m2-40v105m2 131v-159m2 6v112m2-55v-76m2 22v59m2 44v-170m2 49v105m2 2v-95m2-7v94m2-60v-140m2 140v45m2 65v-65m2-98v122m2 64v-289m2 59v181m2-67v-50m2 13v71m2 15v-83m2-51v57m2 44v-86m2 22v72m2-30v-66m2-2v58m2 33v-126m2 23v106m2 27v-36m2-118v199m2-91v-54m2 20v51m2 38v-86m2-4v86m2-9v-97m2-18v126m2-8v-69m2 20v59m2 32v-149m2-20v60m2 97v-129m2 12v111m2-41v-71m2-78v142m2 107v-168m2-2v71m2 10v-115m2 108v56m2-20v-64m2-82v90m2 65v-151m2 11v152m2-99v-58m2 28v73m2 12v-27m2-50v68m2 40v-106m2-24v116m2-30v-66m2-45v125m2-2v-102m2 46v104m2-61v-70m2 15v48m2 23v-169m2 57v137m2 22v-151m2 50v150m2-101v-55m2-11v62m2 83v-112m2-82v161m2-94v-75m2-1v127m2 2v-147m2 65v78m2 21v-144m2 39v62m2 54v-93m2-21v60m2 25v-43m2 8v22m2 34v-117m2 55v135m2-43v-144m2-97v166m2-16v-114m2 65v62m2 5v-74m2-9v100m2 20v-148m2 81v73m2-14v-85m2 21v68m2 49v-176m2 25v122m2 7v-125m2 25v149m2 32v-120m2-59v100m2 21v-107m2-49v103m2 15v-89m2-46v84m2 50v-134m2 52v82m2 13v-94m2 39v109m2-109v-64m2 20v60m2 108v-174m2-36v204m2-118v-90m2 15v83m2 13v-35m2-52v158m2-55v-85m2-95v178m2 0v-147m2 82v99m2 30v-142m2-19v145m2-67v-139m2 86v55m2 32v-68m2-15v72m2 13v-60m2-30v60m2 48v-82m2-12v83m2-56v-70m2 19v64m2 12v-71m2-57v189m2-31v-166m2 4v137m2 23v-78m2 35v78m2-43v-79m2 13v70m2-55v-40m2 7v110m2-8v-106m2-17v93m2 7v-81m2-1v131m2-32v-84m2 41v64m2-5v-106m2 7v101m2-74v-58m2-7v148m2-56v-78m2 78v96m2-93v-167m2 58v110m2-30v-78m2 71v40m2 2v-53m2 3v50m2 90v-160m2-25v152m2 57v-112m2-45v82m2 25v-106m2-76v182m2-112v-77m2 77v96m2 7v-138m2-7v124m2 13v-76m2-24v97m2-31v-136m2 7v171m2 15v-163m2-28v179m2-72v-43m2 39v47m2-17v-44m2 24v109m2-98v-65m2-13v99m2 11v-169m2 47v148m2-37v-91m2-16v64m2 41v-52m2 8v47m2 2v-62m2-19v76m2 9v-98m2-84v91m2 198v-198m2-56v178m2-30v-140m2 28v169m2-9v-106m2-1v122m2-28v-46m2-91v136m2 27v-127m2 48v92m2-19v-149m2 10v116m2 2v-84m2-42v128m2-34v-111m2-13v117m2 26v-157m2 42v79m2 76v-162m2-12v39m2 25v-25m2 9v93m2 17v-138m2 11v123m2-33v-79m2-30v92m2-29v-77m2 29v60m2 68v-144m2-31v154m2 1v-39m2-38v38m2-1v-53m2-22v58m2-11v-37m2 29v124m2-43v-135m2-7v171m2-29v-109m2-49v128m2 30v-90m2 9v30m2 17v-83m2 3v119m2 4v-86m2-27v60m2 68v-68m2-11v70m2-28v-118m2 25v162m2-26v-118m2-74v161m2 101v-274m2 107v83m2 48v-178m2-58v143m2 65v-181m2 35v108m2 39v-149m2 29v122m2-46v-100m2-4v121m2-57v-70m2 70v80m2-31v-92m2 16v139m2-139v-43m2 14v35m2-23v-19m2 6v43m2-18v-48"/>
<path stroke="#A2142F" d="M0 1310v48m2 63v-96m2-34v89m2-12v-60m2-25v47m2 78v-80m2-18v127m2-121v-111m2 41v86m2 19v-52m2 46v44m2-20v-118m2 39v51m2 7v-30m2-10v91m2-34v-73m2-25v128m2-10v-157m2 28v135m2 0v-49m2-76v126m2-40v-80m2 13v75m2 48v-136m2 19v71m2 33v-156m2 13v126m2 14v-161m2-5v118m2 18v-98m2 28v47m2 96v-132m2-40v122m2 40v-143m2 31v99m2-64v-101m2 48v63m2-3v-109m2 27v85m2 45v-110m2 14v69m2-33v-41m2 5v164m2-1v-183m2-5v56m2 16v-51m2-26v105m2 30v-213m2 78v72m2 24v-96m2-43v93m2 69v-72m2-70v126m2-19v-139m2 7v156m2-9v-145m2 87v123m2-94v-121m2 6v111m2-10v-100m2-11v182m2-30v-103m2-3v58m2 47v-88m2-19v107m2-21v-123m2 55v45m2 57v-166m2 91v107m2-66v-72m2 13v60m2-7v-74m2-22v85m2 75v-154m2 77v102m2 15v-150m2-91v116m2 48v-110m2-50v157m2-27v-78m2 21v70m2 71v-107m2 26v34m2-22v-54m2-44v120m2 38v-101m2-73v143m2-72v-50m2 43v37m2 31v-31m2-22v151m2-118v-58m2-107v192m2-50v-83m2-13v65m2 23v-40m2-85v221m2 35v-179m2-6v112m2 12v-112m2-28v163m2-58v-55m2 10v105m2 38v-237m2 121v101m2-82v-86m2 29v89m2-33v-85m2-28v125m2 34v-159m2 46v154m2-7v-238m2 121v85m2-65v-27m2-111v111m2 70v-98m2-23v148m2 35v-199m2 53v108m2-95v-11m2-7v55m2 117v-117m2-23v78m2-78v-56m2 1v137m2-38v-70m2-41v96m2 83v-129m2-73v197m2-90v-114m2-28v185m2-38v-28m2-32v70m2-31v-143m2 52v156m2-39v-148m2-1v118m2 55v-133m2 63v56m2-8v-116m2 41v76m2 45v-137m2-30v126m2-9v-113m2 41v74m2 23v-79m2 0v112m2-43v-78m2-79v154m2 42v-58m2 10v100m2-64v-132m2 11v89m2-31v-48m2 47v60m2-41v-66m2-26v87m2-17v-36m2-60v64m2 90v-125m2-7v69m2 4v-68m2 10v70m2 14v-153m2 47v108m2 38v-134m2-59v211m2-18v-195m2 36v152m2-55v-71m2 60v69m2 21v-177m2-26v155m2 36v-168m2 13v131m2-21v-88m2-14v118m2 110v-212m2 32v109m2-59v-53m2-21v34m2 85v-101m2 28v68m2 5v-142m2-17v105m2 1v-78m2 5v84m2 60v-131m2 14v97m2-10v-88m2-59v104m2 13v-66m2-112v173m2 12v-87m2 2v97m2-17v-111m2 21v141m2-24v-196m2 56v122m2 5v-54m2-110v165m2 1v-130m2 8v115m2 114v-217m2 17v100m2-6v-67m2-93v158m2 41v-78m2-25v40m2 7v-118m2 118v97m2-83v-34m2-43v73m2 38v-133m2-12v158m2-66v-84m2 0v136m2-22v-108m2-21v127m2 65v-208m2 1v127m2 35v-160m2-13v134m2-4v-97m2-15v133m2-15v-101m2 12v105m2-2v-126m2 45v54m2 39v-157m2 51v135m2-43v-144m2 36v72m2-10v-52m2-93v186m2 70v-176m2-28v28m2 79v-108m2 1v137m2 50v-159m2-59v200m2-39v-51m2-30v111m2-58v-66m2-4v154m2 10v-230m2 71v70m2-7v-68m2-35v144m2-44v-56m2-23v84m2 7v-117m2 8v113m2 50v-153m2 8v140m2 50v-253m2 84v130m2-45v-100m2 37v65m2-27v-68m2-2v100m2-37v-41m2-16v124m2-71v-57m2-7v205m2-122v-65m2-45v146m2 21v-161m2 12v116m2 48v-190m2 55v160m2-44v-139m2-45v230m2-107v-86m2 31v76m2 102v-172m2-92v109m2 38v-154m2 92v191m2-55v-89m2-74v94m2 15v-89m2-50v143m2 90v-144m2-20v70m2-14v-58m2-20v105m2-35v-72m2 70v76m2-36v-152m2-42v150m2 4v-110m2-16v122m2 9v-82m2-38v160m2-112v-53m2 27v91m2-21v-86m2 38v111m2-50v-43m2 24v52m2-33v-109m2 22v94m2-2v-41m2-48v131m2-8v-77m2-29v104m2-58v-66m2 34v119m2 30v-146m2-53v106m2-55v-30m2-21v109m2-15v-96m2 46v41m2 4v-83m2 34v90m2 0v-63m2-33v46m2-1v-88m2-6v137m2-34v-114m2 93v85m2-45v-137m2 7v168m2-29v-118m2 24v60m2 38v-65m2-50v144m2-58v-88m2 1v91m2-37v-59m2 29v77m2 44v-78m2-156v156m2 20v-190m2 33v133m2 80v-201m2 18v205m2-26v-256m2 94v106m2-15v-97m2 13v141m2-36v-86m2-26v107m2-17v-102m2 26v145m2-45v-78m2-17v84m2-21v-62m2 12v30m2 1v-134m2-52v145m2 93v-116m2-55v97m2 28v-77m2 75v54m2-45v-77m2-85v96m2 34v-110m2 13v102m2 3v-51m2-2v130m2-72v-45m2 20v56m2 38v-88m2-59v130m2-16v-92m2 45v59m2-8v-147m2-1v134m2-64v-52m2-31v140m2-41v-67m2 24v66m2-14v-110m2 25v86m2-53v-50m2 13v78m2 4v-38m2-37v101m2 64v-157m2-7v138m2 2v-216m2 85v141m2-108v-110m2 56v45m2 25v-74m2-79v266m2-33v-137m2-67v158m2-45v-124m2-6v165m2 3v-120m2-43v133m2-3v-39m2-54v115m2-18v-49m2-94v144m2-22v-126m2 25v91m2-6v-85m2-4v145m2-38v-129m2 56v98m2-63v-169m2 26v199m2-37v-77m2-61v116m2 18v-151m2 98v80m2-16v-76m2-82v154m2 17v-228m2 82v172m2-93v-56m2-3v100m2 48v-100m2 9v65m2-34v-118m2 30v69m2 48v-112m2-69v173m2-28v-160m2 70v113m2-41v-52m2 10v48m2 5v-46m2-76v139m2-8v-163m2 1v81m2 47v-88m2-63v96m2 56v-58m2-83v132m2 61v-118m2-76v162m2-2v-169m2-27v135m2 13v-94m2-13v91m2-8v-31m2-56v103m2-5v-109m2-17v117m2-40v-61m2 9v44m2 36v-89m2 8v144m2-58v-143m2 82v74m2-29v-52m2-14v108m2-22v-121m2 64v85m2 23v-136m2-34v86m2-5v-98m2-44v130m2-46v-62m2 13v95m2 16v-63m2-15v56m2 65v-162m2 15v72m2 73v-164m2 9v58m2 26v-64m2-22v84m2-71v-35m2 2v36m2 11v-68m2-68v106m2 31v-42m2-27v79m2-34v-92m2 25v67m2 133v-195m2-3v174m2-104v-50m2-17v102m2-39v-73m2 44v148m2-100v-114m2-92v237m2 24v-163m2-37v124m2-20v-99m2 15v62m2-3v-138m2 35v98m2 15v-92m2 25v75m2 3v-148m2 47v108m2 6v-58m2-63v117m2-35v-80m2-40v127m2-14v-122m2 28v107m2 11v-169m2 40v70m2 1v-113m2-6v93m2 54v-126m2 23v62m2 63v-132m2-12v89m2 21v-105m2-14v49m2 53v-109m2 34v148m2-58v-101m2-56v135m2-26v-106m2 11v97m2 49v-154m2 34v86m2-20v-92m2-12v116m2-73v-61m2-25v216m2 0v-144m2-96v158m2-7v-108m2 18v59m2 1v-123m2 1v112m2-11v-82m2 8v92m2 4v-184m2 8v157m2-52v-40m2-13v44m2 38v-76m2 13v61m2 61v-148m2 2v33m2 1v-94m2-7v143m2-23v-44m2-14v82m2 47v-165m2 35v89m2-40v-74m2 29v130m2-23v-127m2 28v64m2 13v-96m2-101v211m2-77v-62m2-15v102m2-65v-67m2 0v100m2-10v-66m2-20v95m2-54v-89m2 18v59m2 69v-107m2 17v123m2-25v-85m2-62v141m2-22v-116m2-9v109m2 84v-153m2 12v88m2-25v-122m2 76v15m2 22v-95m2 23v72m2-24v-87m2 3v121m2-20v-114m2 5v87m2 61v-163m2-69v178m2 76v-207m2-7v90m2-49v-68m2-6v214m2-50v-107m2-11v32m2 14v-69m2 69v15m2-11v-84m2 26v70m2 79v-221m2-14v129m2 0v-65m2 11v127m2-25v-90m2-81v143m2-78v-62m2 45v85m2 81v-101m2-84v140m2-71v-122m2 60v123m2-3v-104m2-32v129m2-60v-63m2 8v71m2 7v-173m2 32v65m2 96v-108m2-16v111m2-24v-105m2-34v117m2 62v-98m2-35v163m2-87v-70m2 70v36m2-28v-48m2-5v13m2-4v-109m2 82v31m2 13v-85m2-26v135m2-19v-68m2 11v187m2-86v-91m2-15v93m2-43v-135m2-7v130m2-4v-169m2 64v138m2 45v-133m2 3v87m2-83v-54m2 22v95m2-8v-149m2 77v95m2 11v-125m2-20v169m2-99v-45m2-76v126m2 3v-107m2 30v104m2-1v-114m2 24v65m2-10v-83m2 34v64m2-8v-108m2-31v124m2 42v-146m2-27v142m2 39v-39m2-64v105m2-40v-155m2 28v178m2-74v-86m2-6v114m2-35v-102m2 15v100m2 4v-138m2 55v64m2 25v-99m2-10v77m2 12v-66m2 23v83m2-27v-126m2 23v78m2 24v-88m2-8v54m2 66v-101m2 19v33m2 1v-102m2 66v31m2-31v-156m2 44v205m2-51v-99m2 11v128m2-65v-144m2 73v95m2 1v-110m2-9v93m2-26v-66m2-14v81m2-27v-66m2 66v108m2-64v-113m2 35v33m2 71v-71m2 7v89m2 35v-198m2 11v200m2-94v-132m2 40v156m2-70v-56m2-34v83m2 10v-160m2 55v116m2-45v-75m2-4v137m2-70v-116m2 52v105m2 9v-158m2 56v59m2 27v-111m2 34v75m2-48v-129m2 70v77m2 27v-115m2-14v169m2 12v-108m2-28v105m2-86v-27m2 27v77m2-34v-94m2-6v152m2-18v-244m2 223v60m2-31v-47m2-37v37m2 84v-134m2-20v143m2-74v-84m2-4v109m2-43v-91m2-1v54m2 75v-133m2 32v169m2-91v-57m2-58v130m2 1v-132m2 33v55m2 30v-68m2 2v136m2-3v-141m2-46v114m2-8v-98m2 34v96m2 62v-159m2 46v47m2 8v-24m2-29v65m2-34v-61m2 35v109m2-57v-17m2-64v82m2-66v-74m2-23v150m2-19v-74m2 9v59m2 6v-40m2 25v75m2-60v-74m2 12v153m2-73v-80m2 19v86m2-24v-117m2 10v121m2 32v-133m2-29v83m2 30v-129m2 64v79m2-46v-52m2-29v117m2 60v-110m2-18v109m2-49v-158m2 50v103m2 58v-161m2 80v67m2-41v-90m2 26v81m2 66v-139m2 5v112m2-60v-106m2 21v100m2 36v-140m2-13v153m2-62v-108m2 27v73m2 50v-123m2 42v46m2 45v-167m2 12v196m2-62v-128m2 22v139m2-61v-42m2-34v98m2 17v-96m2 0v92m2-74v-15m2-26v121m2-21v-106m2 60v153m2-19v-155m2 8v73m2 36v-187m2 27v102m2 5v-55m2-52v127m2 5v-174m2 62v127m2-67v-108m2-27v179m2-36v-47m2 16v94m2 0v-112m2-3v86m2 56v-99m2-14v69m2-14v-105m2 66v48m2 60v-152m2 2v38m2 73v-97m2-1v102m2-64v-61m2-47v150m2-32v-130m2 91v81m2-14v-129m2 35v127m2-2v-98m2-33v137m2-73v-71m2 4v209m2-85v-136m2 92v119m2-109v-69m2-26v163m2-71v-81m2-53v121m2 14v-80m2-4v99m2 43v-66m2-10v48m2-37v-47m2-21v97m2-27v-72m2 9v102m2-21v-116m2-27v114m2 48v-97m2 37v110m2-48v-136m2 11v131m2-45v-98m2 3v69m2 157v-176m2-9v115m2-61v-138m2 98v42m2 32v-47m2-48v117m2 15v-130m2-2v56m2 17v-71m2-7v50m2 39v-70m2 7v98m2-27v-117m2 7v133m2 5v-181m2 79v85m2 58v-194m2 100v76m2 9v-130m2-66v174m2 12v-135m2-29v103m2 47v-145m2 50v43m2 47v-128m2 18v92m2-33v-32m2-19v44m2 31v-103m2-11v124m2 3v-76m2 3v88m2 9v-159m2 16v119m2-54v-137m2 1v126m2 41v-130m2 11v199m2-56v-181m2 82v128m2 25v-94m2-56v68m2 52v-123m2-63v183m2-15v-88m2-7v76m2 51v-156m2 19v146m2-65v-108m2 33v76m2 6v-113m2 4v188m2 7v-124m2-56v108m2-17v-112m2 25v95m2-14v-50m2-54v100m2 13v-96m2 63v90m2-27v-145m2 27v85m2-21v-82m2-2v97m2 22v-31m2-73v114m2 33v-114m2-25v138m2-59v-89m2 21v59m2 47v-164m2 102v44m2-26v-177m2 70v106m2-6v-145m2-2v149m2-29v-77m2-15v113m2 100v-233m2-12v215m2 1v-178m2 24v186m2-5v-82m2-51v82m2 18v-89m2-68v108m2 21v-272m2 75v271m2-34v-123m2 1v177m2-66v-107m2 2v68m2 8v-95m2 16v106m2 76v-184m2 14v149m2-125v-53m2 16v82m2 0v-65m2-14v153m2 82v-221m2 14v107m2 16v-123m2-46v132m2-7v-118m2 23v97m2 7v-173m2 54v80m2 21v-51m2-49v230m2-126v-98m2 28v132m2-37v-134m2-4v78m2-16v-22m2-47v127m2-14v-112m2 34v52m2 24v-91m2 20v97m2 13v-125m2-79v216m2-25v-199m2 92v53m2 9v-92m2-17v155m2 20v-154m2 8v92m2 65v-118m2-35v95m2-9v-123m2 82v73m2-41v-73m2-59v114m2 139v-173m2-46v171m2-77v-93m2 17v63m2 124v-150m2-63v105m2 42v-77m2-39v88m2 5v-133m2 112v21m2-5v-65m2-5v87m2-61v-37m2-18v225m2-75v-111m2 7v85m2-9v-144m2 16v113m2 99v-184m2-13v81m2 47v-147m2 40v114m2-47v-91m2-22v121m2 0v-25m2-89v159m2 1v-169m2 27v61m2 6v-66m2 45v163m2-57v-146m2-24v141m2 2v-97m2-24v105m2-42v-57m2 30v122m2-48v-55m2-57v95m2-44v-77m2 27v94m2-13v-138m2 78v61m2 30v-89m2 6v54m2 12v-67m2 15v43m2 7v-75m2-30v153m2-39v-74m2-28v102m2 9v-132m2-25v134m2 30v-46m2-10v78m2-19v-138m2 21v118m2 2v-86m2-1v67m2-8v-97m2 57v83m2 36v-95m2-58v62m2 14v-93m2 79v34m2 17v-124m2-1v181m2 18v-201m2 13v159m2-60v-46"/>
<path stroke="#0072BD" d="M0 1243v62m2 72v-98m2-4v114m2-22v-50m2 1v56m2 3v-99m2 42v79m2-35v-115m2 22v44m2 50v-134m2-12v156m2-49v-101m2 64v69m2-6v-79m2-1v25m2 110v-110m2-30v138m2 9v-134m2-39v91m2 21v-115m2-22v136m2 28v-180m2 25v146m2-6v-51m2-6v100m2-32v-111m2-6v112m2 35v-199m2 63v120m2-70v-93m2-33v129m2 120v-121m2-13v66m2-31v-72m2 13v44m2 27v-68m2-40v146m2-56v-94m2 33v104m2 9v-144m2 18v97m2 7v-199m2 25v190m2-1v-127m2-5v138m2-14v-22m2-69v81m2 54v-198m2 19v152m2-59v-23m2 23v44m2 1v-89m2 71v77m2-57v-85m2 14v98m2-34v-151m2 68v171m2-110v-55m2-29v135m2 8v-185m2 41v104m2-25v-102m2 66v64m2-42v-71m2 6v100m2 52v-78m2-4v79m2-50v-82m2 6v120m2 10v-220m2 80v83m2-12v-25m2-33v120m2-15v-178m2 1v182m2 11v-90m2-25v64m2 12v-99m2-66v118m2 87v-193m2 68v44m2 53v-101m2-16v119m2 11v-128m2 74v87m2-68v-45m2-117v156m2 25v-168m2 99v82m2-11v-88m2 16v39m2 0v-40m2-47v75m2 59v-84m2-67v85m2 100v-176m2 18v154m2-48v-102m2-65v162m2-47v-115m2 59v76m2-14v-105m2 21v133m2 63v-125m2-27v53m2 11v-64m2-72v121m2 64v-122m2-28v92m2 21v-59m2-94v149m2-74v-64m2-88v191m2 59v-257m2 126v110m2-6v-113m2 45v84m2-27v-61m2 25v31m2-9v-43m2 32v87m2-40v-146m2 112v57m2-23v-110m2 14v42m2-5v-52m2 17v36m2 80v-121m2 33v91m2 4v-121m2-8v80m2 58v-90m2-37v89m2-13v-79m2 8v49m2 13v-94m2 0v114m2 35v-101m2-1v97m2-36v-76m2-4v127m2-45v-72m2 5v32m2 83v-135m2-44v184m2-63v-55m2-78v148m2 9v-137m2-37v80m2 98v-132m2 1v111m2 23v-132m2 61v73m2-49v-44m2-12v88m2-21v-120m2-13v131m2-7v-60m2-51v103m2 12v-207m2 173v58m2-13v-74m2-52v117m2 76v-186m2 80v27m2-14v-25m2 3v95m2 0v-123m2-11v72m2 37v-91m2 30v60m2-3v-139m2 40v77m2-37v-68m2 68v79m2-40v-80m2 27v40m2 8v-68m2-56v158m2 2v-104m2 12v61m2 61v-168m2-27v194m2-9v-191m2 57v107m2-58v-101m2 39v111m2 22v-104m2-49v92m2 134v-222m2 20v139m2-53v-72m2-34v111m2 18v-130m2-37v132m2 66v-238m2-2v116m2 68v-114m2 85v16m2-1v-39m2-33v132m2 4v-85m2-114v178m2 44v-123m2-27v134m2-33v-146m2-7v183m2-21v-101m2-11v111m2 31v-175m2-38v162m2-61v-83m2 83v39m2 24v-52m2-83v107m2 59v-124m2-4v143m2-67v-69m2-22v69m2 80v-218m2 126v79m2-31v-58m2 23v156m2-146v-60m2 24v149m2-51v-145m2 58v90m2-9v-58m2-9v71m2 1v-218m2 121v86m2 28v-102m2-45v66m2 5v-117m2-3v113m2 87v-133m2 7v107m2 1v-158m2 41v107m2 26v-123m2 8v83m2-8v-67m2 13v49m2-2v-77m2 1v123m2 7v-160m2 15v66m2 19v-40m2 4v110m2-73v-31m2 14v112m2-12v-148m2-50v102m2 13v-127m2 104v35m2 22v-47m2 8v59m2-25v-113m2 23v128m2-10v-190m2-1v126m2 33v-82m2-21v78m2 3v-91m2 3v128m2-53v-78m2 48v26m2-13v-87m2-27v125m2 40v-62m2-104v185m2-116v-94m2 94v64m2 13v-51m2-61v144m2-20v-120m2-15v106m2 32v-114m2 80v62m2-47v-64m2 7v48m2-8v-52m2-8v94m2 12v-106m2-65v78m2 80v-106m2-55v180m2-16v-174m2 34v111m2-10v-104m2 104v39m2 51v-88m2-141v227m2-77v-69m2 53v55m2-36v-129m2 21v134m2 74v-133m2-19v144m2-73v-52m2 1v119m2 41v-124m2-39v95m2-93v-34m2-1v173m2-92v-81m2 39v76m2-54v-78m2-19v113m2 55v-140m2 16v89m2-20v-43m2 12v120m2-86v-46m2-95v137m2 97v-119m2-39v90m2-18v-114m2-5v87m2 45v-112m2-68v166m2-15v-103m2-1v87m2 37v-91m2-2v50m2 45v-104m2-50v149m2-13v-121m2-19v100m2 81v-217m2-15v214m2 25v-143m2-31v190m2-85v-78m2-48v114m2 54v-104m2 28v64m2 40v-225m2 54v196m2-69v-148m2 120v52m2 36v-150m2 25v81m2-5v-122m2-33v106m2 8v-55m2-15v106m2-58v-84m2 68v25m2-11v-20m2-12v71m2-2v-68m2-21v97m2 4v-130m2 7v132m2 18v-155m2 99v102m2-90v-113m2 52v78m2-27v-107m2 7v117m2-5v-67m2-11v95m2-14v-92m2 84v38m2-20v-121m2 26v126m2 14v-95m2 17v92m2-60v-45m2-111v111m2 88v-129m2 36v142m2 16v-178m2 20v127m2-25v-175m2-2v81m2 35v-56m2-16v47m2 34v-61m2-36v131m2 5v-116m2 35v67m2-18v-147m2 87v122m2 8v-129m2-4v135m2-88v-49m2-26v102m2 0v-89m2 5v82m2 1v-134m2-12v123m2-66v-56m2 54v154m2-138v-104m2 20v248m2-138v-77m2 26v33m2 124v-157m2 23v65m2 20v-109m2-7v102m2-41v-97m2 66v91m2-19v-58m2-3v54m2 0v-112m2 0v130m2 55v-155m2 22v178m2-110v-97m2-20v99m2 17v-86m2 13v102m2-38v-47m2 46v29m2-17v-65m2-71v78m2 64v-83m2 1v66m2 20v-104m2 11v118m2 6v-59m2-58v116m2-5v-143m2-30v71m2 50v-83m2 40v135m2-2v-74m2-70v91m2 12v-106m2-50v145m2-8v-136m2 12v97m2 10v-77m2 52v81m2-45v-72m2 11v52m2 42v-145m2-8v188m2-35v-110m2-7v82m2 57v-137m2 13v54m2-47v-32m2 32v71m2-34v-76m2-21v110m2-27v-34m2-34v53m2 67v-164m2 49v95m2-34v-58m2 38v57m2 92v-206m2-79v188m2-35v-147m2 21v266m2-34v-141m2-4v130m2-1v-153m2 14v45m2-6v-95m2-21v86m2 62v-62m2-4v39m2 86v-174m2 2v168m2-56v-63m2-57v68m2 50v-144m2 80v52m2 21v-87m2 15v61m2 42v-57m2-106v106m2-18v-55m2 9v95m2 26v-131m2-36v121m2-12v-106m2 18v71m2 88v-136m2-30v162m2-27v-59m2-12v38m2 82v-164m2-22v133m2 35v-92m2 5v67m2 53v-166m2 20v145m2-82v-83m2-22v72m2 99v-130m2 48v87m2-87v-39m2 8v98m2-24v-69m2-91v153m2 61v-103m2-26v115m2-112v-85m2 85v23m2 29v-69m2-62v108m2-29v-77m2-36v116m2 6v-138m2 62v93m2-32v-74m2-132v181m2 16v-210m2 14v178m2-93v-127m2-12v114m2 29v-176m2-77v143m2-126v-25m2-86v86m2-35v-119m2-72v113m2-5v-108m2-67v125m2-56v-84m2-64v64m2-64v-56m2-172v189m2-2v-151m2-20v45m2 0v-78m2-57v93m2 37v-117m2-26v82m2-35v-65m2-17v107m2-47v-78m2 1v74m2 65v-149m2-20v49m2 68v-122m2 23v130m2-4v-126m2-53v172m2-37v-133m2 20v109m2 64v-165m2 30v94m2-7v-85m2-32v141m2 10v-93m2-46v117m2-1v-165m2 79v64m2 27v-45m2-84v108m2 5v-124m2 38v73m2 79v-140m2-70v124m2-5v-86m2-2v113m2 43v-100m2-14v101m2-39v-89m2-1v81m2 36v-155m2 22v102m2-48v-41m2 30v41m2-40v-58m2 29v137m2 65v-154m2-30v85m2-62v-57m2 7v90m2 40v-133m2 16v160m2-107v-129m2 54v104m2 30v-129m2-65v229m2-22v-176m2-52v200m2 25v-114m2 9v59m2 17v-93m2-17v122m2 15v-64m2-23v61m2 52v-200m2 50v142m2-75v-72m2-9v112m2-31v-97m2 20v125m2-36v-100m2-9v130m2 22v-139m2 23v110m2-13v-47m2-86v187m2-7v-174m2 6v96m2 7v-108m2 33v121m2 10v-103m2-17v118m2-69v-28m2-26v59m2 35v-60m2-40v166m2-36v-162m2 35v134m2-10v-132m2-42v179m2-31v-208m2 179v92m2 24v-151m2-58v89m2 42v-125m2 25v21m2 30v-30m2-78v100m2 36v-149m2 67v75m2-20v-106m2-36v145m2-6v-82m2 18v112m2 61v-169m2 1v142m2 32v-160m2 40v89m2-50v-63m2-41v83m2 87v-151m2-66v197m2-24v-171m2 128v56m2 17v-223m2 78v179m2-103v-108m2 48v56m2 87v-116m2 26v48m2 1v-97m2 51v74m2-21v-55m2-31v47m2 19v-28m2-60v111m2 70v-159m2-3v51m2 8v-153m2 13v185m2-18v-57m2 5v29m2-4v-59m2-11v54m2 98v-228m2 2v104m2 77v-142m2 7v136m2-6v-85m2-21v56m2 74v-123m2-69v176m2-8v-144m2 1v129m2 50v-172m2 32v143m2 77v-198m2-49v99m2 2v-60m2-69v74m2 75v-79m2-2v49m2 34v-68m2-13v159m2-62v-208m2 24v77m2 135v-158m2-23v100m2 45v-213m2 97v153m2-49v-127m2 58v29m2-29v-105m2 94v34m2 21v-53m2-32v121m2-37v-80m2 19v85m2-1v-222m2 132v72m2-13v-37m2 23v26m2 26v-54m2-69v95m2-9v-85m2 44v48m2-2v-66m2-30v89m2 21v-59m2-20v60m2 93v-166m2-1v112m2 1v-93m2-19v133m2 23v-41m2-106v116m2 3v-157m2 28v90m2-5v-55m2-22v86m2 105v-214m2 44v81m2-62v-60m2-5v150m2 32v-198m2 26v125m2-68v-129m2 78v208m2-81v-114m2 33v88m2-53v-83m2 41v52m2 119v-140m2-50v98m2-4v-32m2-50v66m2 42v-126m2-36v117m2 51v-72m2-119v130m2 29v-103m2 24v87m2-47v-8m2-32v116m2-19v-120m2 45v29m2-8v-84m2 25v57m2 55v-108m2-12v128m2-47v-92m2 84v15m2 10v-148m2 123v69m2-2v-182m2 6v81m2 57v-79m2-42v95m2-2v-58m2-95v137m2 19v-154m2 44v149m2 28v-94m2-2v101m2-88v-44m2 23v94m2 0v-150m2 14v69m2 22v-116m2 56v71m2-49v-72m2 30v50m2 60v-95m2-19v76m2 1v-101m2 26v141m2-58v-67m2-56v128m2-39v-60m2 1v86m2 68v-183m2-19v103m2 88v-168m2-2v172m2-11v-129m2 51v68m2-11v-141m2 72v80m2-68v-111m2 82v131m2-74v-49m2-26v155m2-54v-166m2 69v110m2-8v-56m2-10v106m2-53v-121m2-1v35m2 91v-97m2-2v103m2 18v-122m2 40v68m2-45v-42m2-47v169m2-34v-92m2 32v36m2 72v-112m2-48v88m2 40v-73m2-16v66m2 18v-76m2-21v72m2 8v-100m2 11v97m2-6v-57m2-40v142m2-33v-104m2-8v206m2-33v-87m2-6v53m2-45v-111m2-12v114m2 8v-65m2-10v84m2-21v-103m2 83v51m2 5v-66m2-146v227m2-71v-160m2 136v46m2 6v-114m2-9v99m2 77v-126m2 32v102m2-66v-117m2-21v79m2 42v-72m2-2v64m2-9v-85m2 85v105m2-32v-84m2-73v171m2-55v-88m2 28v133m2-41v-70m2-30v101m2 28v-108m2 16v98m2-53v-122m2 53v27m2 63v-96m2 88v67m2-28v-131m2 21v74m2 15v-76m2-58v73m2 85v-192m2 11v167m2-91v-73m2 25v127m2 18v-54m2-83v92m2 48v-134m2-25v90m2 40v-49m2-65v107m2 139v-269m2-2v130m2 5v-117m2 3v45m2 48v-83m2-5v171m2-43v-136m2 72v46m2-31v-84m2 4v88m2-11v-125m2 90v125m2-29v-76m2-56v87m2 67v-200m2 33v108m2 0v-46m2-22v93m2-5v-85m2-2v91m2-10v-130m2 99v66m2 44v-162m2 4v57m2 32v-94m2-51v154m2-29v-130m2 94v83m2-36v-73m2-3v63m2 13v-56m2-49v163m2-119v-47m2 5v126m2 24v-179m2 31v136m2 21v-91m2-41v124m2-57v-149m2-4v147m2-18v-57m2 36v86m2 13v-44m2-38v77m2 0v-125m2-27v125m2 23v-149m2-77v225m2-7v-99m2 34v99m2-57v-85m2-36v79m2 6v-30m2-26v64m2-2v-90m2 24v74m2 93v-283m2 114v103m2 8v-53m2-14v63m2-12v-112m2-10v108m2 21v-120m2 57v77m2 8v-66m2-80v156m2-29v-128m2 35v75m2 24v-90m2-38v125m2-44v-136m2 31v149m2 22v-121m2-21v87m2 16v-126m2 52v87m2 11v-98m2-27v102m2 112v-190m2-34v243m2-49v-153m2-11v94m2-38v-98m2 20v119m2 9v-110m2 33v70m2-28v-38m2-6v69m2 52v-140m2-1v58m2 36v-111m2-12v111m2 20v-114m2 11v63m2 42v-119m2 75v81m2-75v-30m2-26v87m2 53v-204m2 73v105m2 52v-232m2 67v183m2 21v-186m2-28v107m2 12v-169m2 25v162m2-30v-54m2-105v106m2 32v-125m2 48v77m2 10v-91m2 53v50m2-4v-51m2-35v52m2-14v-49m2-37v138m2 65v-238m2 64v183m2-33v-145m2-6v49m2 19v-62m2 19v36m2 10v-29m2-29v56m2-33v-22m2-84v182m2-48v-180m2 126v26m2 5v-44m2-13v114m2-55v-43m2 4v126m2 41v-105m2 22v67m2 4v-122m2-40v99m2 13v-88m2 3v83m2 22v-90m2-15v138m2-24v-165m2 41v104m2-44v-27m2-76v111m2 11v-57m2-29v66m2 18v-96m2 37v57m2-5v-129m2 42v64m2 33v-84m2-39v146m2-48v-88m2-5v86m2 86v-86m2-40v119m2-26v-143m2 64v62m2-15v-84m2-22v79m2 68v-87m2-38v68m2 102v-157m2-11v165m2-62v-160m2 18v141m2-40v-73m2 0v106m2 14v-86m2-41v183m2-16v-123m2-45v110m2 82v-127m2 40v73m2 34v-112m2-34v77m2-57v-132m2 40v159m2-3v-117m2 23v34m2-9v-91m2 68v112m2-46v-19"/>
<path stroke="#D95319" d="M0 1288v62m2 26v-130m2-18v65m2 7v-57m2-9v92m2 4v-30m2-22v73m2 58v-162m2 65v75m2 10v-100m2-78v130m2 9v-49m2-14v128m2 16v-242m2 34v181m2 50v-126m2-6v115m2-90v-74m2-41v194m2-103v-87m2 10v140m2 22v-88m2-33v133m2-80v-57m2 10v70m2-38v-115m2 26v101m2-2v-83m2 43v54m2 3v-113m2-13v230m2-34v-103m2-38v112m2 19v-133m2-76v246m2-9v-212m2-14v115m2 110v-179m2 13v96m2-18v-38m2-43v108m2-48v-69m2 45v118m2 0v-100m2-43v82m2 4v-149m2-21v162m2-4v-44m2 3v111m2-58v-105m2 12v110m2-12v-145m2 101v58m2 25v-130m2 26v35m2 5v-91m2-38v189m2-1v-174m2 24v75m2 49v-101m2-68v132m2 51v-192m2-22v219m2-43v-103m2 27v47m2 40v-79m2-5v54m2 4v-75m2-4v105m2-45v-59m2-54v54m2 106v-107m2-41v205m2-19v-119m2-117v195m2 67v-171m2 1v122m2-10v-117m2-15v128m2-30v-134m2 83v54m2 41v-106m2-52v91m2 28v-91m2-39v122m2 26v-158m2 151v68m2-16v-149m2-12v156m2-10v-163m2-12v176m2 32v-227m2 46v69m2 56v-104m2-46v191m2 4v-105m2-22v111m2-46v-112m2 71v82m2-31v-111m2 1v115m2-62v-72m2 40v49m2 54v-138m2 93v42m2 0v-66m2-33v127m2-49v-78m2-11v78m2-23v-77m2 68v61m2-32v-79m2 41v42m2 2v-105m2-15v56m2 41v-41m2 4v51m2-28v-69m2 10v62m2-3v-14m2-19v65m2 62v-132m2 70v95m2-83v-155m2 78v57m2 52v-67m2-108v183m2-21v-123m2 2v181m2 15v-202m2 43v85m2 48v-123m2 23v66m2-14v-54m2-18v113m2-82v-51m2 7v90m2-38v-68m2-10v133m2-41v-95m2-5v137m2 51v-198m2 30v102m2 53v-171m2-23v164m2 91v-171m2-78v110m2 78v-111m2-46v95m2 3v-72m2-55v84m2 33v-66m2-1v50m2 7v-38m2-79v108m2 0v-150m2 110v138m2-79v-112m2 3v20m2 65v-76m2 10v70m2-27v-40m2-27v84m2 42v-144m2-1v178m2-7v-151m2-6v82m2 21v-76m2-14v102m2-15v-77m2-18v119m2 49v-81m2-50v76m2-5v-66m2-1v65m2-16v-33m2-75v119m2 37v-160m2 29v157m2-42v-64m2-33v98m2 11v-166m2 108v98m2-67v-81m2-6v103m2 23v-120m2 5v57m2 32v-85m2 16v53m2-3v-71m2-21v50m2 43v-58m2-25v65m2-1v-124m2 54v148m2-9v-74m2-179v223m2-10v-100m2 22v79m2-2v-201m2 84v71m2 128v-128m2-68v104m2-15v-15m2-93v128m2-25v-110m2-5v168m2-42v-104m2 94v87m2-50v-87m2 10v44m2 1v-14m2-64v133m2-77v-85m2 16v75m2 48v-121m2 121v44m2-2v-162m2-14v127m2 47v-125m2 36v50m2 61v-137m2-20v105m2-56v-83m2 64v69m2-22v-55m2-24v54m2 24v-90m2-87v193m2-1v-196m2 60v111m2 47v-164m2 58v53m2 4v-32m2 13v30m2-22v-95m2 95v52m2 46v-68m2-175v175m2-23v-52m2-22v127m2-21v-96m2 1v81m2 37v-37m2-117v118m2 9v-117m2-18v130m2 52v-119m2-95v128m2 58v-140m2-13v166m2-57v-98m2 42v85m2-5v-65m2-82v126m2 24v-78m2-16v52m2-27v-93m2 61v103m2-12v-95m2-15v125m2 46v-100m2-11v57m2-39v-75m2-2v127m2 21v-59m2-55v55m2 130v-142m2-53v87m2 26v-95m2-9v114m2-54v-115m2 28v60m2 33v-94m2-18v104m2 57v-57m2-49v109m2-14v-99m2 16v124m2-105v-69m2 35v100m2 41v-127m2-50v160m2-62v-131m2 63v72m2-17v-40m2 7v99m2-59v-75m2 48v137m2-35v-150m2-34v176m2-115v-66m2 29v115m2 95v-168m2-41v147m2-12v-143m2 1v82m2 1v-79m2 4v88m2 78v-172m2 38v33m2-6v-109m2 70v137m2-40v-80m2-22v85m2-33v-46m2 17v61m2 65v-131m2 11v95m2 19v-158m2-36v74m2 95v-107m2-3v88m2 56v-211m2 0v182m2 31v-134m2-20v194m2-100v-125m2 62v66m2-28v-85m2 9v182m2-81v-75m2-52v130m2-9v-61m2-63v134m2-45v-152m2 37v114m2 13v-81m2 7v70m2 62v-101m2 24v84m2 6v-177m2 55v113m2-36v-54m2-14v93m2-15v-56m2-70v108m2-29v-86m2 45v121m2-45v-112m2-3v145m2-64v-40m2 2v89m2-22v-56m2 13v41m2 0v-85m2-27v115m2-8v-57m2 7v45m2 3v-88m2-2v118m2 56v-143m2-41v188m2 5v-200m2 27v54m2 42v-79m2-61v145m2 4v-159m2-46v202m2-39v-128m2 113v71m2 1v-106m2-10v141m2-37v-109m2-7v98m2-13v-93m2 62v51m2 28v-151m2 76v74m2-2v-116m2-26v112m2 13v-105m2-17v86m2 1v-108m2-19v187m2 19v-181m2 42v89m2-28v-75m2-15v43m2 40v-45m2-17v90m2-42v-80m2-32v128m2 22v-144m2 16v131m2-6v-70m2-15v179m2-56v-98m2 12v60m2 72v-131m2-16v141m2-74v-77m2-33v144m2-22v-80m2-7v82m2-16v-88m2 17v86m2-56v-28m2-39v121m2 90v-160m2-26v63m2 21v-38m2-8v181m2-108v-112m2 31v101m2-41v-76m2 6v49m2 109v-216m2-21v206m2 6v-118m2-25v128m2-43v-73m2-15v89m2-3v-115m2 7v107m2 61v-65m2-62v142m2-67v-88m2-37v85m2-37v-107m2 26v240m2-83v-159m2 45v111m2 9v-196m2 60v99m2 19v-115m2 84v57m2-34v-59m2-17v113m2 55v-159m2 36v79m2-48v-100m2 25v133m2-42v-91m2-60v188m2-20v-55m2-67v121m2-38v-94m2-1v139m2-54v-56m2-26v106m2 75v-75m2-113v120m2-2v-122m2-53v214m2-89v-120m2 120v140m2-84v-147m2 6v149m2-37v-181m2 113v77m2 48v-158m2-4v101m2 4v-46m2-20v59m2 4v-17m2-47v135m2-36v-143m2 83v82m2-82v-81m2 22v131m2-20v-91m2-68v140m2-12v-74m2 43v58m2 12v-131m2 86v83m2-32v-107m2-74v134m2 41v-163m2 46v90m2 9v-128m2 51v69m2 8v-139m2 77v44m2-44v-101m2 4v144m2-11v-138m2 65v57m2 42v-138m2 102v95m2-31v-62m2-115v115m2 8v-72m2-18v112m2-58v-65m2 19v65m2-65v-43m2 20v91m2-9v-189m2 25v72m2 13v-60m2 11v82m2 12v-84m2-40v79m2-14v-90m2 8v57m2 97v-99m2-24v31m2 117v-213m2 41v130m2-86v-112m2 12v57m2 62v-127m2-103v156m2-12v-120m2-21v113m2 57v-125m2-25v52m2-24v-58m2-34v89m2 15v-133m2 46v106m2-72v-72m2-22v79m2-37v-97m2 4v48m2-22v-91m2 28v61m2 60v-85m2-75v98m2 16v-120m2-59v165m2-53v-99m2-75v175m2-82v-119m2 86v94m2 20v-127m2-157v157m2 59v-134m2 8v88m2 91v-205m2-33v154m2-81v-92m2 76v113m2-103v-126m2 21v84m2-73v-33m2-43v72m2 37v-101m2-35v152m2-109v-27m2-102v103m2 12v-127m2 22v78m2 82v-138m2-3v53m2 18v-154m2-46v157m2 34v-94m2-86v178m2-28v-73m2-33v85m2 20v-119m2-79v185m2-42v-156m2 74v111m2-6v-119m2-2v52m2 7v-62m2-110v274m2-19v-192m2 49v87m2-15v-134m2 33v71m2 52v-134m2-22v111m2 28v-140m2 78v53m2-53v-72m2 26v54m2 3v-109m2 38v109m2 23v-98m2-38v100m2-46v-40m2-176v281m2-3v-114m2 29v97m2-23v-100m2 10v71m2-6v-84m2-50v141m2-96v-66m2 32v142m2 7v-165m2 2v90m2 24v-57m2 39v77m2-23v-86m2-5v133m2-30v-120m2-22v74m2 45v-120m2-14v123m2-18v-38m2-13v48m2-47v-106m2 48v106m2 25v-112m2-14v169m2-72v-158m2 126v36m2 25v-175m2-38v297m2-28v-124m2 16v152m2-34v-191m2 85v110m2-31v-86m2 1v88m2-88v-51m2 13v80m2 23v-118m2-45v137m2 20v-192m2 86v106m2-28v-51m2 20v28m2-20v-62m2-3v113m2-13v-79m2-56v56m2 30v-79m2-20v200m2-9v-124m2-99v104m2 53v-79m2-19v135m2-45v-105m2 46v168m2-69v-74m2-22v83m2 40v-130m2-67v217m2 19v-174m2 15v115m2 25v-86m2-96v115m2 73v-188m2-5v197m2 13v-164m2-82v182m2-19v-90m2 14v72m2-33v-75m2 10v90m2 92v-125m2-16v22m2 14v-49m2-65v148m2-2v-84m2 23v68m2 0v-37m2-57v91m2-16v-77m2-36v124m2 38v-133m2 28v101m2 40v-108m2-80v113m2 33v-85m2-13v94m2-25v-98m2 58v86m2-27v-96m2 21v38m2-8v-79m2 19v61m2-19v-57m2 0v145m2-69v-17m2-30v48m2 9v-68m2 36v85m2-55v-46m2-26v34m2 96v-118m2-31v100m2 64v-163m2-21v105m2 11v-66m2 9v64m2-64v-52m2 30v110m2-4v-136m2-5v193m2-22v-133m2-58v252m2-113v-79m2-18v51m2 62v-114m2 42v102m2-56v-67m2-32v169m2 13v-196m2 20v42m2 49v-99m2 75v80m2-19v-54m2-61v63m2 79v-128m2 3v80m2 25v-64m2-24v104m2-6v-91m2-28v87m2 77v-107m2-68v94m2 31v-128m2 3v129m2-76v-58m2 3v138m2 94v-282m2 44v127m2-50v-32m2-12v102m2 6v-154m2 65v93m2-43v-130m2 27v119m2 20v-118m2-95v182m2 46v-158m2 3v147m2-22v-126m2-4v114m2-17v-146m2 93v82m2-6v-60m2-72v115m2-14v-92m2 64v37m2 34v-197m2 46v246m2-62v-90m2-101v201m2-110v-41m2-10v160m2-17v-156m2 29v90m2-39v-65m2-32v95m2 12v-44m2 3v29m2 49v-85m2-80v155m2 21v-165m2 74v71m2-58v-37m2-25v94m2 110v-163m2-42v139m2-29v-78m2 8v96m2-44v-43m2-22v59m2 111v-187m2 102v31m2-31v-46m2 31v47m2-25v-115m2-67v216m2-54v-47m2-53v228m2-82v-80m2-17v76m2-52v-44m2 16v81m2-10v-68m2-23v83m2 63v-79m2-79v101m2 47v-57m2-73v73m2 88v-197m2 13v158m2-26v-115m2-22v129m2 1v-146m2-24v229m2-56v-153m2 120v69m2-42v-93m2 27v69m2-50v-56m2-14v119m2 39v-169m2-79v298m2-74v-72m2 10v74m2 15v-163m2 20v86m2 49v-96m2-34v150m2-21v-64m2-18v34m2 73v-83m2-63v108m2-51v-79m2 58v115m2-6v-107m2-31v59m2 116v-161m2-68v150m2 63v-175m2 25v85m2-4v-121m2 33v115m2-29v-20m2-1v86m2-83v-128m2 53v131m2-70v-179m2 89v130m2-13v-57m2-49v115m2 11v-125m2 11v118m2-21v-114m2-69v229m2-8v-131m2-3v114m2-87v-81m2 14v106m2-30v-106m2 106v75m2 61v-145m2-17v101m2-3v-130m2 9v82m2 54v-145m2 83v58m2-19v-67m2-43v101m2 44v-125m2 17v93m2-7v-132m2 5v76m2 51v-55m2-21v72m2-18v-139m2 42v100m2 14v-109m2 66v46m2-18v-75m2 27v85m2 0v-155m2 0v137m2-22v-100m2-33v183m2 13v-201m2 43v25m2 67v-74m2 19v113m2-28v-120m2 20v102m2-41v-72m2-20v181m2-96v-95m2 71v117m2-62v-87m2-61v166m2-6v-126m2-1v220m2 26v-199m2-25v102m2-28v-66m2-21v90m2 34v-121m2 41v40m2 63v-113m2-6v129m2-90v-48m2 32v98m2-37v-45m2-37v71m2-24v-86m2 10v80m2 41v-70m2-10v87m2 22v-153m2 54v91m2-22v-122m2 44v114m2-30v-72m2-26v34m2 55v-115m2-56v191m2-15v-79m2 12v133m2-103v-102m2-23v156m2 24v-158m2 112v107m2-33v-262m2 157v75m2-43v-43m2-7v31m2 27v-148m2 21v89m2 72v-167m2 42v141m2 14v-159m2-45v130m2 137v-153m2-91v102m2-25v-41m2 7v82m2 22v-96m2-56v99m2 98v-204m2 70v101m2-16v-103m2 5v67m2 30v-172m2 49v164m2-32v-81m2-16v70m2 9v-86m2-10v107m2-13v-49m2-57v72m2 64v-146m2 18v79m2 10v-51m2-3v79m2-13v-62m2-38v76m2 18v-123m2 23v206m2-38v-232m2 70v105m2 46v-156m2-11v113m2 51v-175m2 82v31m2 46v-106m2-1v75m2 34v-122m2-56v153m2 3v-38m2-100v128m2 6v-24m2-49v89m2-34v-93m2 10v34m2 91v-145m2 4v123m2 6v-125m2-12v167m2 57v-173m2-28v78m2-23v-32m2-44v83m2 10v-84m2 15v234m2-184v-89m2 1v109m2 65v-115m2-36v112m2 80v-177m2 31v110m2-50v-55m2 39v18m2-18v-90m2 36v76m2 16v-73m2-31v81m2-58v-21m2 21v45m2 7v-99m2-41v173m2-47v-91m2 73v61m2-17v-98m2-20v72m2-5v-36m2 10v41m2 85v-135m2 19v121m2-19v-161m2 49v112m2-59v-51m2-41v79m2 18v-136m2-16v86m2 76v-76m2-20v61m2 15v-24m2-81v170m2 17v-112m2-69v170m2-49v-125m2 21v97m2 105v-188m2 44v110m2-35v-62m2-2v36m2 37v-107m2-54v121m2 69v-143m2 33v90m2 0v-106m2-44v122m2-2v-98m2-12v69m2 21v-84m2-28v143m2-59v-72m2 49v125m2-60v-165m2 55v127m2 9v-128m2-27v193m2-83v-135m2 97v67m2-67v-60m2 32v51m2-15v-129m2 75v148m2 80v-241m2 80v128m2-70v-155m2 65v54m2 110v-146m2-62v74m2 31v-47m2-8v121m2 10v-171m2-9v126m2-9v-119m2-13v125m2 29v-100m2-41v143m2-51v-108m2 76v28m2 89v-131m2-33v155m2-28v-54m2-45v84m2-3v-71m2-38v106m2 81v-131m2-5v61m2-17v-75"/>
<path stroke="#EDB120" d="M0 1253v101m2-8v-81m2-65v125m2 4v-96m2 29v68m2 6v-70m2-3v117m2 31v-97m2-20v34m2 28v-67m2-12v114m2-6v-147m2 1v128m2-75v-9m2 2v56m2-25v-81m2 7v94m2 19v-80m2 32v69m2 95v-288m2-1v204m2-27v-75m2-13v93m2-5v-110m2 48v127m2-18v-194m2 82v86m2 0v-102m2-15v89m2-30v-56m2-1v51m2 62v-63m2-82v136m2-60v-53m2 9v129m2-3v-72m2-20v74m2-14v-38m2-90v117m2 54v-108m2-51v222m2-69v-154m2-48v172m2 0v-70m2 14v62m2-8v-75m2 37v47m2-25v-97m2-8v175m2-63v-103m2 25v81m2-49v-92m2 52v78m2 101v-101m2-114v124m2-24v-68m2 40v35m2 21v-182m2 102v79m2-9v-92m2 92v101m2-101v-117m2 30v77m2-38v-61m2 48v61m2-24v-58m2-6v83m2 10v-82m2-4v92m2 31v-114m2-9v163m2-40v-106m2-11v80m2 0v-141m2 70v172m2 11v-157m2-51v184m2-66v-114m2 58v71m2-39v-21m2-36v62m2 12v-37m2-7v73m2 14v-177m2 49v109m2-41v-76m2-7v120m2 2v-60m2-28v89m2-53v-62m2-31v120m2 29v-184m2 67v119m2 8v-108m2 2v77m2 36v-81m2-59v117m2-34v-72m2 58v22m2-4v-111m2 28v98m2-5v-88m2-23v173m2-20v-171m2 58v39m2 49v-159m2 26v93m2-3v-91m2 91v67m2-24v-134m2-104v129m2 21v-118m2 81v111m2-29v-85m2 16v80m2 14v-27m2-32v48m2-16v-84m2 18v97m2 44v-172m2-2v164m2-11v-164m2 84v110m2-44v-87m2 14v116m2-39v-121m2 6v105m2-32v-91m2 50v79m2-43v-46m2 2v92m2-28v-102m2-19v70m2 64v-64m2-83v131m2-15v-105m2 29v64m2 75v-149m2 10v120m2-31v-68m2 45v52m2-22v-150m2 18v145m2 31v-113m2 23v64m2 29v-91m2 9v94m2-8v-62m2-50v50m2 72v-111m2-46v91m2 77v-173m2 38v148m2-22v-193m2 89v70m2-8v-40m2-18v56m2-1v-148m2-3v175m2-20v-83m2-115v156m2-39v-91m2-16v117m2 66v-116m2 18v84m2 16v-97m2-35v217m2-123v-95m2-15v109m2 57v-69m2-63v143m2 30v-208m2 33v99m2-3v-124m2 11v125m2 24v-111m2-11v82m2-51v-71m2 21v158m2 5v-140m2 1v117m2-47v-113m2 11v97m2 7v-143m2 47v64m2 2v-32m2 5v64m2 50v-159m2 29v187m2-116v-37m2 0v164m2-8v-202m2 37v113m2 1v-144m2 48v69m2-37v-49m2-5v42m2-2v-76m2-6v164m2 22v-134m2-8v35m2 44v-76m2-18v105m2 2v-119m2 1v93m2-8v-91m2 8v85m2 25v-129m2 6v84m2 27v-96m2 77v118m2-101v-52m2-42v114m2-74v-41m2-21v56m2 15v-82m2-14v130m2 56v-163m2 58v115m2-19v-150m2 52v65m2 6v-99m2-94v177m2-14v-96m2 87v50m2-29v-35m2-21v89m2 31v-123m2-15v134m2-66v-103m2-12v86m2 10v-126m2 4v106m2 80v-146m2-79v182m2 20v-165m2 56v102m2 16v-119m2-1v55m2 55v-92m2-30v98m2 4v-58m2-126v211m2-13v-112m2 3v90m2-6v-64m2-80v157m2 83v-184m2 62v70m2-3v-125m2-48v100m2 46v-121m2 44v23m2 119v-130m2-1v171m2-114v-79m2 36v50m2 59v-103m2-88v194m2-82v-42m2 10v20m2 4v-91m2-39v102m2 85v-99m2-89v163m2-6v-142m2 22v142m2-9v-111m2 18v60m2-28v-40m2 40v107m2-36v-85m2-13v18m2 107v-109m2-28v126m2-11v-77m2 10v69m2-13v-138m2 60v139m2-95v-68m2-7v85m2 0v-71m2 5v79m2-13v-36m2-41v83m2 30v-109m2-21v114m2 22v-157m2-17v173m2-40v-65m2 1v58m2 54v-103m2-22v158m2-100v-88m2 18v74m2 0v-79m2 2v161m2-82v-83m2 9v122m2-42v-67m2-23v83m2 22v-122m2-14v92m2 16v-60m2-3v86m2 68v-80m2-49v128m2-60v-154m2 70v66m2 35v-111m2 51v39m2 48v-112m2-35v135m2-26v-111m2 0v153m2-46v-65m2 51v36m2-13v-83m2-1v68m2 13v-64m2-40v63m2 13v-47m2 18v52m2 44v-71m2-113v157m2-52v-128m2 70v88m2-22v-71m2-35v168m2 38v-93m2-60v160m2-117v-27m2-62v68m2 24v-125m2-27v180m2-18v-103m2 10v163m2-13v-59m2-70v103m2 19v-78m2-21v35m2 34v-97m2 39v52m2-9v-49m2 5v56m2-31v-73m2 17v47m2-6v-53m2-23v111m2 6v-87m2 6v94m2 114v-270m2 91v131m2-82v-71m2-8v133m2-2v-107m2 21v97m2 9v-130m2 36v81m2 1v-172m2-12v123m2 12v-136m2 59v66m2 1v-26m2 19v56m2-34v-95m2 2v148m2-11v-165m2 0v68m2 83v-113m2-48v180m2-40v-55m2-52v66m2 41v-94m2 18v53m2 27v-184m2-2v151m2 56v-215m2-9v202m2-23v-38m2-53v73m2 29v-72m2-5v73m2-5v-52m2-139v218m2 10v-91m2-36v82m2 61v-163m2 8v162m2-16v-85m2-64v164m2-106v-94m2-14v192m2-22v-68m2-103v136m2 96v-167m2-8v117m2-28v-78m2 3v92m2 15v-77m2-19v102m2-76v-51m2 51v45m2 2v-67m2-45v109m2-18v-86m2-79v140m2 36v-45m2 24v64m2-38v-16m2-50v77m2 11v-47m2-75v143m2-46v-112m2 64v58m2 18v-79m2 0v67m2 104v-177m2-52v127m2-21v-78m2 35v62m2 54v-77m2-67v142m2-76v-52m2 7v107m2-107v-61m2-62v184m2-6v-174m2 18v144m2-10v-78m2-20v121m2 16v-92m2-50v124m2 20v-73m2-61v100m2 39v-160m2 38v121m2-15v-101m2-19v110m2 19v-115m2-21v112m2 56v-181m2 33v45m2 38v-168m2 92v77m2-27v-107m2 13v111m2-4v-131m2 17v115m2-11v-85m2-30v200m2 50v-184m2-38v90m2 28v-113m2-29v132m2 0v-137m2-38v178m2-18v-169m2 28v114m2 35v-105m2 10v68m2-68v-44m2-22v82m2 36v-137m2 44v48m2-7v-57m2 1v63m2 101v-107m2-38v130m2 3v-108m2-17v76m2-26v-164m2 78v103m2-53v-96m2 10v120m2-64v-33m2-102v156m2 24v-111m2-10v107m2-28v-109m2 53v49m2 17v-62m2-64v171m2-60v-162m2 42v119m2-17v-137m2 103v47m2 77v-164m2-35v67m2 39v-91m2 18v56m2-14v-85m2-13v47m2 64v-119m2-40v120m2 30v-141m2 25v116m2-38v-98m2-65v101m2-26v-75m2-18v115m2-8v-112m2 7v105m2-55v-42m2 4v75m2-36v-47m2-30v112m2-36v-95m2-51v119m2-3v-90m2-42v193m2-70v-51m2-139v139m2-12v-99m2 75v50m2 26v-141m2-4v82m2 51v-98m2-66v188m2-98v-61m2-17v151m2-76v-89m2-24v46m2 24v-129m2 6v92m2 53v-64m2-7v69m2-69v-113m2 49v46m2 76v-99m2-128v205m2-7v-155m2 38v128m2-128v-102m2 58v87m2-26v-60m2 1v27m2 14v-90m2-29v84m2 25v-147m2 18v55m2 65v-156m2-27v174m2-77v-68m2 35v22m2-3v-100m2 76v87m2 29v-103m2-170v170m2 46v-78m2-11v62m2-21v-66m2-58v73m2 62v-212m2 51v162m2-41v-136m2 64v60m2-21v-131m2 68v34m2 36v-62m2-116v222m2 30v-135m2-35v175m2-145v-80m2-22v172m2-62v-61m2 13v112m2-17v-212m2 105v67m2 65v-187m2 18v141m2-37v-127m2-40v154m2-82v-33m2 27v45m2 42v-136m2 45v79m2-51v-43m2-47v59m2 16v-87m2 18v61m2 28v-76m2-41v106m2-10v-79m2 2v184m2-125v-94m2-20v116m2 37v-81m2-104v215m2-10v-200m2 72v115m2-115v-86m2 42v133m2 12v-134m2 13v101m2 9v-72m2 6v89m2 31v-180m2-55v208m2-58v-143m2 117v36m2 30v-41m2-101v108m2 56v-137m2-48v117m2-47v-64m2 31v137m2-8v-153m2 11v70m2 22v-53m2-2v52m2-10v-73m2-35v180m2-40v-60m2 5v66m2-61v-74m2 0v104m2-9v-117m2-24v166m2 27v-150m2-26v186m2-12v-170m2 49v112m2-30v-84m2-51v132m2 14v-58m2-52v98m2 3v-156m2 137v35m2-35v-74m2-43v144m2-3v-176m2-10v113m2 52v-52m2-51v73m2 11v-66m2-15v79m2 63v-120m2 3v112m2-23v-89m2-122v152m2 61v-230m2-13v305m2-56v-128m2 6v143m2 0v-120m2-8v81m2 20v-115m2-42v157m2-35v-46m2-12v65m2 20v-69m2 19v42m2-42v-66m2 15v42m2-17v-36m2 32v47m2-42v-22m2-11v53m2 45v-111m2-12v130m2-68v-121m2 61v95m2 73v-123m2 26v57m2 27v-77m2-51v51m2-26v-112m2 102v82m2-17v-73m2-80v173m2-7v-104m2-50v171m2-36v-86m2-42v149m2-21v-100m2 52v91m2-68v-14m2-31v72m2 16v-76m2 1v70m2 16v-58m2-25v61m2 181v-216m2-62v157m2-80v-74m2-5v62m2-1v-68m2 57v19m2 68v-68m2 15v72m2-72v-42m2 26v45m2 20v-37m2-20v59m2-9v-100m2-83v209m2-39v-36m2 24v52m2-30v-84m2-46v84m2 40v-108m2-63v126m2 93v-93m2 7v44m2-2v-98m2-33v84m2 49v-148m2 39v113m2-11v-157m2 104v47m2 29v-85m2-35v110m2-14v-154m2 108v45m2 4v-83m2-23v101m2-9v-99m2 50v56m2-56v-52m2-15v87m2 27v-33m2-39v83m2 30v-122m2-19v78m2 30v-94m2-10v156m2-29v-45m2-41v62m2-40v-47m2-11v83m2 129v-169m2-28v143m2-81v-84m2 79v63m2-59v-32m2 20v24m2-24v-30m2-19v164m2-92v-114m2 72v82m2 15v-173m2 102v126m2-33v-127m2-5v122m2-66v-101m2 10v150m2-44v-96m2-34v155m2 0v-127m2-85v200m2-32v-40m2-43v88m2 31v-38m2-118v144m2 25v-165m2 90v58m2-6v-18m2-114v133m2-41v-97m2 21v77m2-8v-63m2-29v81m2 53v-153m2-1v174m2 10v-107m2-31v79m2 47v-113m2-97v118m2 123v-141m2 16v72m2-23v-101m2 72v93m2-3v-67m2-36v40m2 50v-181m2 99v62m2 22v-80m2-54v109m2 46v-102m2-34v161m2-46v-96m2-22v49m2-1v-60m2 10v80m2 34v-141m2 5v227m2-112v-38m2-94v112m2 32v-73m2-9v57m2 50v-103m2 2v79m2-63v-9m2-50v148m2-83v-32m2-40v181m2-14v-67m2-40v71m2-38v-100m2-18v242m2-17v-236m2 35v81m2 37v-133m2 13v201m2-111v-51m2 39v50m2 2v-106m2 26v137m2-8v-118m2-10v75m2 5v-93m2 15v76m2 4v-91m2 23v144m2-52v-112m2-4v86m2-1v-68m2 22v31m2 94v-124m2-36v105m2 40v-92m2-49v99m2 5v-63m2-37v91m2 70v-186m2-32v186m2-34v-77m2-44v50m2 40v-110m2 25v159m2-29v-127m2-45v170m2-59v-18m2-42v124m2 7v-124m2-21v84m2 1v-40m2-7v74m2 71v-119m2-56v169m2-66v-147m2 79v104m2-9v-80m2-58v195m2-78v-127m2 11v105m2-1v-83m2 0v131m2-52v-104m2 39v140m2 40v-220m2 40v75m2 58v-148m2-78v253m2-115v-81m2-31v178m2-70v-101m2-21v206m2-62v-34m2-42v42m2 51v-143m2 27v125m2-4v-49m2-29v49m2 61v-157m2 39v189m2-90v-85m2-28v81m2 4v-97m2-10v159m2-30v-124m2 28v172m2-119v-40m2 0v50m2 46v-115m2-22v107m2 13v-106m2 24v91m2-14v-76m2 16v88m2-16v-141m2 42v49m2 61v-94m2-32v34m2 32v-80m2 15v156m2 2v-170m2-9v86m2-26v-53m2 29v46m2 35v-102m2 57v157m2-8v-192m2 43v62m2-62v-94m2 17v115m2 29v-89m2-10v47m2-32v-22m2-27v92m2-4v-164m2 143v82m2-55v-53m2-47v99m2-8v-62m2-23v60m2 57v-71m2-62v143m2-38v-82m2 22v77m2 20v-79m2-10v95m2-55v-47m2 9v39m2 9v-28m2-51v120m2 5v-88m2-82v129m2 30v-113m2-13v74m2-13v-24m2 24v59m2 36v-119m2-23v115m2-17v-26m2-3v83m2-51v-48m2 7v41m2-2v-114m2 44v118m2-3v-147m2 22v115m2 22v-144m2 19v132m2-103v-70m2 70v36m2 57v-98m2-27v77m2 13v-117m2 18v165m2-73v-92m2-22v102m2 35v-125m2-40v175m2-66v-87m2-21v160m2 11v-78m2-67v161m2 2v-92m2-36v105m2 14v-210m2 102v55m2-6v-86m2 28v67m2-28v-34m2-62v192m2-74v-85m2-21v157m2-6v-106m2 19v114m2 9v-172m2 78v87m2 1v-181m2-14v195m2 12v-140m2-54v141m2 25v-179m2 44v140m2-86v-85m2 27v71m2 25v-70m2 33v37m2 16v-51m2-11v75m2-30v-67m2-19v64m2-15v-89m2-41v175m2-6v-120m2-4v180m2-11v-144m2-1v75m2 86v-155m2-9v124m2-3v-118m2 13v80m2 56v-116m2 29v94m2 18v-126m2 20v32m2-31v-75m2 33v89m2 59v-200m2 17v171m2-39v-130m2 63v75m2-17v-75m2 7v119m2-45v-155m2 41v143m2-46v-80m2-44v124m2 42v-144m2 38v79m2 18v-107m2-3v57m2 40v-89m2 10v90m2-39v-51m2-66v135m2 1v-85m2-13v104m2-30v-128m2 76v78m2 12v-51m2 8v94m2-88v-121m2 65v99m2 9v-96m2-73v137m2-29v-77m2-75v181m2 66v-106m2-127v178m2 2v-97m2 1v88m2 12v-130m2 15v156m2-118v-27m2 17v65m2 32v-62m2-88v118m2 29v-115m2 30v97m2 17v-142m2-78v205m2-24v-83m2 10v76m2 58v-106m2-33v106m2-13v-165m2 53v100m2 31v-152m2-36v84m2 32v-38"/>
<path stroke="#7E2F8E" d="M0 1292v35m2 40v-45m2-66v69m2 16v-51m2-22v112m2-66v-87m2 53v84m2-8v-31m2-39v100m2-22v-104m2 20v76m2-2v-72m2-80v167m2 35v-120m2 5v112m2-44v-45m2-26v85m2 41v-148m2 9v101m2-41v-48m2 33v93m2 3v-96m2-47v110m2-1v-135m2 18v115m2 39v-118m2-19v125m2 16v-176m2 61v91m2-35v-76m2 18v80m2-58v-55m2 40v54m2 14v-41m2-25v28m2 15v-73m2-7v128m2-40v-44m2-71v113m2 65v-99m2-104v220m2-97v-88m2 14v155m2-58v-60m2-39v114m2-19v-138m2-47v167m2-10v-93m2-12v146m2-42v-90m2 19v96m2 2v-160m2 107v36m2 6v-72m2 24v88m2 6v-80m2-58v134m2-44v-96m2 6v193m2-101v-104m2 62v73m2 24v-136m2-27v104m2-14v-69m2 18v67m2 11v-106m2-25v111m2-28v-92m2 66v132m2-10v-125m2-49v95m2 19v-19m2-34v73m2 27v-129m2 41v142m2-58v-116m2-19v154m2-34v-69m2 40v85m2-45v-94m2-53v179m2-40v-172m2-3v121m2-3v-48m2 12v91m2 0v-119m2-34v166m2-59v-94m2-27v97m2 42v-150m2-10v157m2 36v-103m2 8v75m2-1v-99m2 77v34m2-10v-73m2 11v86m2-3v-125m2-14v68m2 5v-80m2 27v83m2-68v-41m2 10v92m2 12v-66m2-13v119m2-42v-85m2-27v149m2 14v-116m2-55v182m2-26v-96m2-87v169m2 57v-205m2 48v74m2 0v-70m2-105v205m2-4v-82m2-15v64m2 56v-69m2-64v82m2 59v-128m2-1v65m2 0v-106m2-26v166m2-50v-58m2 38v44m2 28v-41m2-33v79m2 0v-85m2-57v130m2-5v-122m2 7v151m2 10v-132m2-29v79m2 85v-146m2 34v109m2-109v-28m2 24v50m2 43v-92m2-65v190m2-49v-121m2-57v170m2 36v-115m2 5v90m2-37v-53m2 3v107m2-66v-101m2 59v85m2-22v-70m2-39v39m2 17v-33m2 10v49m2-16v-78m2 1v161m2-47v-154m2 22v157m2-49v-75m2 21v117m2 42v-69m2-62v111m2-33v-60m2-67v103m2-31v-84m2 6v67m2 43v-47m2-70v146m2-15v-112m2 5v101m2 54v-155m2 43v86m2 16v-99m2-63v84m2 15v-175m2 108v66m2 67v-93m2-47v95m2-16v-104m2-105v247m2-37v-86m2 4v144m2-95v-69m2 5v41m2 75v-95m2 11v61m2 2v-107m2-26v105m2-1v-46m2-15v68m2-15v-81m2 4v91m2 37v-145m2 107v38m2-32v-86m2-29v132m2 45v-126m2-62v114m2 47v-88m2 57v43m2 30v-170m2-2v115m2 61v-108m2-40v96m2 31v-58m2-63v160m2-51v-133m2 9v34m2 132v-139m2 8v135m2-37v-59m2-56v128m2-20v-87m2 6v57m2-36v-86m2-52v153m2 19v-81m2 10v70m2 36v-187m2 8v168m2 30v-108m2-32v149m2-46v-75m2 14v109m2-59v-49m2-8v25m2 7v-44m2-14v63m2-42v-43m2 2v86m2 22v-106m2-5v72m2 0v-64m2 0v122m2 47v-168m2 48v99m2-91v-27m2-14v34m2 49v-58m2-14v73m2-14v-59m2-64v96m2 43v-147m2 61v44m2-28v-37m2 29v93m2-14v-85m2-9v109m2-34v-39m2-64v91m2 53v-113m2-13v105m2 70v-141m2-85v99m2 48v-57m2-36v142m2 20v-68m2-73v81m2 9v-58m2-4v89m2-81v-45m2-36v74m2 59v-122m2-25v144m2-3v-87m2-33v33m2 48v-64m2-61v130m2 64v-147m2 27v165m2-150v-45m2-8v150m2 46v-217m2 15v116m2 56v-193m2 52v146m2-22v-68m2-10v162m2-92v-117m2-12v178m2 19v-196m2-34v151m2-23v-69m2-13v152m2-20v-206m2 27v182m2-34v-77m2-6v116m2-75v-70m2 22v159m2-58v-99m2 83v30m2-11v-66m2 4v43m2 5v-74m2-31v118m2 4v-121m2 68v51m2 52v-141m2-31v61m2 65v-65m2-85v159m2 3v-112m2-14v64m2 36v-122m2-25v126m2 31v-187m2 80v146m2-82v-95m2 72v49m2 5v-106m2 1v155m2-52v-50m2-55v84m2 10v-57m2-28v65m2 35v-77m2 1v68m2 20v-117m2-15v32m2 194v-194m2-65v182m2-9v-112m2 25v46m2-26v-107m2-2v143m2-6v-22m2-18v49m2 4v-57m2-82v137m2 45v-145m2 92v60m2-22v-140m2 65v29m2 7v-80m2-23v106m2 31v-93m2 47v91m2-51v-140m2 49v84m2 20v-97m2-11v111m2 24v-152m2 33v74m2 8v-95m2-45v106m2-45v-47m2 2v97m2 30v-178m2 62v51m2 73v-115m2-3v118m2-90v-61m2 17v125m2-37v-78m2-2v95m2 3v-80m2-6v111m2-28v-84m2 2v47m2-5v-92m2 40v54m2 55v-85m2-5v87m2-17v-82m2-6v91m2 16v-131m2-13v114m2 89v-116m2-38v113m2-9v-106m2-8v113m2 8v-78m2-28v32m2 73v-121m2-16v138m2-42v-69m2-4v55m2 1v-113m2-10v130m2 21v-73m2-34v73m2 46v-142m2 29v162m2-40v-111m2-10v116m2 21v-185m2-19v206m2-29v-98m2 36v73m2-39v-64m2-23v76m2-2v-90m2 2v76m2 35v-125m2-11v120m2 48v-119m2-22v84m2-61v-86m2 60v100m2-15v-102m2-26v109m2 24v-89m2 12v79m2 55v-148m2 2v64m2-6v-53m2-73v161m2-13v-66m2-47v102m2-2v-67m2-11v82m2 59v-196m2 76v141m2 34v-108m2-44v57m2 21v-108m2-22v121m2-20v-81m2-14v51m2 101v-172m2 39v80m2-15v-37m2-86v139m2-10v-145m2-51v193m2-28v-75m2 28v51m2-18v-146m2 43v161m2-39v-71m2 32v91m2-26v-160m2 11v135m2-38v-30m2-31v40m2 63v-80m2-27v130m2-57v-131m2 21v105m2 44v-108m2 9v129m2 11v-128m2-72v86m2 2v-54m2-63v147m2-23v-111m2-2v158m2-36v-77m2 6v133m2-86v-108m2-61v110m2 16v-64m2 18v135m2-34v-145m2 59v75m2-43v-69m2-9v96m2 58v-131m2-15v167m2-108v-151m2 16v132m2 75v-112m2-82v106m2 55v-172m2-4v196m2 18v-154m2-37v207m2-121v-76m2 16v72m2 35v-91m2-50v130m2-54v-123m2 86v48m2 10v-64m2-44v82m2 84v-175m2 36v86m2-53v-76m2-71v161m2 21v-188m2 33v142m2-14v-106m2 6v97m2 42v-68m2-93v124m2-4v-120m2-51v65m2 120v-187m2-5v131m2-8v-120m2-33v111m2 28v-170m2 28v136m2-4v-58m2-70v183m2-86v-149m2 86v45m2 20v-150m2 5v115m2 43v-135m2 1v114m2-88v-24m2-42v73m2 140v-173m2-44v168m2-77v-94m2-27v120m2 28v-146m2 19v97m2 7v-97m2-80v96m2-5v-63m2 18v163m2-32v-145m2-24v93m2 11v-126m2 26v95m2-22v-91m2-9v102m2-41v-83m2 20v111m2-26v-117m2 4v155m2-10v-188m2 19v152m2-29v-150m2-56v192m2-68v-135m2 42v132m2 53v-58m2-79v100m2-93v-65m2-5v125m2 18v-177m2 28v84m2 30v-62m2-52v125m2-93v-87m2-15v179m2-18v-83m2-43v80m2 16v-108m2-7v100m2-35v-77m2-9v76m2 28v-85m2-56v140m2 16v-201m2 3v93m2 12v-58m2 56v67m2-14v-132m2-23v107m2 23v-104m2 37v64m2-18v-137m2 49v118m2-76v-63m2 37v49m2 11v-173m2-26v158m2 25v-58m2-100v148m2-23v-118m2 65v106m2-27v-134m2-25v130m2 25v-193m2 63v150m2-40v-87m2 16v46m2-27v-115m2 101v55m2-55v-45m2-11v35m2 32v-38m2-49v49m2 5v-114m2 60v92m2-1v-70m2 5v27m2 31v-55m2-94v94m2 4v-109m2 37v67m2-27v-40m2-73v178m2-60v-120m2 55v56m2 8v-74m2 22v50m2 27v-124m2-41v85m2 6v-64m2 46v66m2-29v-92m2-3v117m2 47v-112m2 16v63m2 23v-106m2-57v127m2 102v-174m2-46v80m2 21v-105m2 43v126m2-49v-116m2 22v80m2-37v-93m2 16v60m2 57v-180m2 15v162m2-22v-87m2-34v84m2 87v-166m2-7v131m2-25v-129m2 109v46m2-9v-117m2-8v131m2 22v-87m2-12v37m2 20v-129m2 18v168m2-19v-145m2-32v92m2 14v-49m2 10v91m2 1v-111m2-50v95m2 58v-147m2 24v69m2 44v-86m2-95v110m2-1v-39m2-32v52m2-2v-27m2 9v112m2-19v-69m2-60v62m2 10v-134m2 32v86m2 11v-19m2-33v55m2 15v-70m2-45v97m2 41v-69m2-10v102m2-22v-145m2 29v74m2 39v-93m2 40v41m2 24v-71m2-53v145m2-4v-134m2 56v52m2-28v-98m2-130v245m2 13v-121m2 27v91m2-54v-35m2-30v39m2 64v-143m2 38v91m2-7v-87m2 2v101m2 70v-131m2-66v113m2-27v-32m2 7v35m2 81v-137m2 3v47m2 29v-76m2 0v104m2 49v-156m2-79v258m2-43v-131m2 1v154m2-63v-72m2-127v185m2-8v-45m2-17v34m2 59v-155m2-1v170m2-50v-81m2-41v192m2-78v-64m2 9v71m2-12v-77m2-71v93m2 29v-50m2 50v21m2-17v-53m2-4v95m2-1v-89m2-66v147m2-25v-118m2 33v134m2 11v-156m2 47v116m2-26v-165m2 90v109m2-25v-74m2 2v66m2 7v-130m2 55v94m2-34v-65m2-110v168m2 34v-201m2 112v129m2 12v-187m2-15v55m2 72v-108m2-9v89m2 65v-175m2 32v138m2-61v-70m2 14v66m2 15v-54m2-74v74m2 122v-132m2 23v70m2-63v-38m2 3v39m2-12v-60m2 53v77m2-23v-117m2 26v121m2 3v-137m2-24v198m2-94v-64m2 14v108m2-87v-63m2 13v59m2 88v-136m2 0v91m2 17v-95m2 5v91m2 25v-87m2-9v55m2-12v-101m2-11v126m2-4v-36m2-43v73m2 29v-107m2-74v164m2 33v-96m2-6v81m2 61v-171m2 4v68m2 37v-72m2-2v106m2-7v-51m2-60v79m2 14v-42m2-63v77m2-23v-72m2 35v70m2 57v-146m2-64v108m2 68v-181m2 68v59m2 64v-143m2 68v86m2-3v-15m2-124v137m2-44v-108m2-8v148m2-15v-100m2-61v202m2-60v-119m2 22v173m2-28v-99m2-64v179m2-69v-96m2-4v94m2-24v-49m2-20v69m2 103v-170m2 29v55m2-12v-81m2 4v140m2 10v-78m2-81v92m2 46v-114m2 39v80m2 14v-58m2-32v71m2-14v-126m2 66v59m2-15v-111m2 5v92m2 63v-137m2 3v102m2 6v-74m2-72v141m2-21v-50m2-10v64m2 81v-127m2-46v97m2 11v-81m2-44v141m2 10v-145m2 15v121m2-9v-82m2-17v100m2 85v-118m2-95v95m2 8v-90m2 1v52m2 88v-122m2-69v161m2 27v-179m2 13v172m2 11v-123m2-56v240m2-78v-205m2 47v183m2-31v-186m2 96v93m2-22v-175m2 82v69m2 52v-100m2-52v116m2 26v-157m2 8v198m2-35v-132m2-8v127m2-107v-49m2-17v74m2 17v-80m2-21v233m2-33v-62m2-134v156m2 12v-127m2 75v48m2-48v-55m2 24v75m2 59v-194m2 22v117m2-41v-59m2 6v38m2-1v-68m2 62v9m2-2v-45m2 38v100m2 0v-50m2-19v56m2-20v-75m2-28v116m2 10v-69m2-48v87m2-3v-96m2 48v56m2 4v-92m2-38v125m2-38v-123m2 123v106m2-22v-171m2 87v76m2 57v-177m2-4v93m2-6v-61m2-12v63m2 47v-80m2-106v148m2 4v-69m2-1v64m2 14v-138m2 3v158m2-100v-51m2-56v98m2 74v-125m2 79v83m2-4v-131m2-50v155m2 25v-101m2 8v88m2-28v-112m2 6v69m2 36v-85m2-88v157m2 57v-212m2 76v130m2 12v-193m2 14v168m2-58v-58m2-115v171m2 48v-48m2-129v129m2-20v-110m2 67v101m2 38v-166m2-45v131m2 3v-74m2-15v140m2 33v-33m2-28v57m2 7v-110m2-20v148m2-70v-128m2-30v131m2-22v-90m2 31v116m2-4v-23m2-75v118m2-89v-38m2-1v112m2 12v-183m2-23v184m2 11v-85m2-70v116m2 38v-133m2 79v54m2-21v-53m2-16v45m2 2v-135m2 89v109m2 10v-125m2 8v147m2-1v-131m2-54v87m2 34v-63m2-110v150m2 108v-200m2 2v171m2-38v-118m2 74v35m2 91v-179m2-19v40m2 10v-57m2 1v39m2 91v-110m2 42v71m2 75v-248m2-10v115m2 28v-71m2-29v94m2 64v-120m2-6v124m2-85v-94m2 39v48m2 94v-164m2 27v186m2-102v-69m2 36v52m2-14v-58m2-85v115m2 21v-73m2-98v153m2-14v-47m2 15v55m2 51v-72m2-28v80m2-40v-71m2 12v97m2-12v-102m2-63v63m2 140v-201m2 5v184m2-39v-126m2 47v93m2 41v-104m2-31v36m2 114v-199m2 29v128m2 4v-117m2-69v181m2-41v-136m2 68v92m2 31v-91m2-42v128m2 30v-130m2 97v43m2-19v-137m2 38v32m2-24v-26m2-7v117m2-41v-138m2 23v74m2-11v-66m2 26v90m2 41v-93m2-27v93m2 132v-186m2-79v121m2-15v-48m2-36v88m2-18v-95m2 15v68m2 81v-111m2 19v97m2-11v-98m2-5v107m2-49v-78m2 13v100m2-29v-97m2 89v21m2 7v-59m2-14v95m2-74v-69m2-39v136m2-5v-74m2 51v57m2 26v-95m2-28v42m2 33v-33m2 4v62m2 3v-109m2 26v103m2-54v-61m2-14v62m2-9v-99m2-12v42m2 91v-91m2 36v36m2 116v-116m2-18v33m2 42v-117m2-63v124m2 99v-143m2 1v126m2-14v-132m2 42v125m2-24v-168m2-6v126m2 67v-121m2-22v116m2-88v-44m2 28v65m2-14v-83m2-28v139m2-55v-93m2 17v103m2-63v-89m2 25v78m2 57v-80m2-18v163m2 13v-90m2-53v129m2-20v-111m2 34v41m2 1v-53m2-28v75m2-25v-35m2-8v102m2 16v-109m2-16v80m2-39v-31"/>
<path stroke="#77AC30" d="M0 1317v59m2 36v-135m2-7v103m2-12v-90m2-39v140m2 11v-100m2 14v24m2 23v-48m2 14v75m2-75v-95m2 6v128m2 74v-185m2 5v180m2-73v-89m2 36v77m2 4v-84m2 10v10m2-2v-47m2 34v41m2 51v-151m2 20v134m2-3v-136m2 0v168m2-76v-80m2 21v85m2-49v-49m2-39v151m2-8v-106m2 28v48m2-15v-73m2-11v69m2 106v-171m2 27v119m2 7v-112m2-56v156m2 9v-65m2-53v139m2-43v-97m2-13v109m2-10v-50m2-76v104m2 11v-145m2 86v69m2-28v-71m2 22v120m2-14v-159m2 28v115m2-4v-95m2-5v96m2-13v-70m2-24v84m2 1v-110m2 23v66m2 20v-105m2 47v61m2 10v-124m2 84v34m2-5v-19m2-55v88m2 4v-57m2-25v67m2 44v-110m2-18v37m2 1v-53m2 5v90m2-8v-82m2 13v97m2 14v-70m2-41v126m2-99v-40m2 32v92m2 47v-165m2 28v174m2-24v-225m2 1v127m2 114v-158m2-34v51m2 15v-92m2 10v137m2 12v-137m2-66v184m2 68v-177m2-27v141m2-42v-108m2 50v108m2 26v-155m2-9v124m2-99v-84m2 25v105m2 49v-175m2 93v86m2 69v-122m2 3v88m2-55v-122m2 60v116m2-41v-137m2 14v72m2-4v-76m2-6v68m2 67v-155m2 57v77m2-41v-106m2 40v75m2 53v-109m2 5v112m2-53v-72m2-20v109m2 12v-76m2 31v67m2 45v-89m2-15v23m2 132v-191m2-64v139m2 5v-98m2 26v52m2 12v-137m2 17v135m2 2v-77m2-73v170m2 31v-105m2-95v111m2 38v-44m2-118v146m2-24v-83m2 35v118m2 15v-196m2 25v110m2-13v-93m2 25v103m2-35v-77m2 11v132m2-42v-94m2-21v137m2 24v-125m2-8v109m2-99v-92m2 36v189m2-98v-101m2 75v70m2 5v-104m2 17v109m2 92v-298m2 64v137m2-29v-116m2-70v166m2 17v-101m2 26v85m2-39v-115m2 38v153m2-14v-85m2-9v101m2-2v-84m2 22v78m2-26v-147m2 26v107m2 2v-65m2-12v105m2 43v-203m2 37v162m2-97v-97m2 33v44m2 45v-99m2-76v177m2 65v-198m2 23v152m2-45v-155m2 40v129m2 1v-141m2-17v20m2 73v-162m2 37v101m2 66v-126m2 60v80m2 43v-112m2-9v40m2 10v-119m2 60v51m2 4v-74m2 25v36m2 2v-84m2 32v141m2-67v-54m2-46v166m2 6v-118m2-106v164m2 21v-71m2-31v73m2 32v-129m2 7v56m2 54v-190m2 116v74m2-20v-132m2-42v218m2-14v-149m2 149v50m2-43v-131m2-12v51m2 101v-146m2 2v113m2-55v-101m2 101v90m2 23v-112m2-31v99m2-7v-146m2 48v89m2-2v-126m2-3v68m2 22v-130m2-27v261m2-131v-62m2-17v51m2 103v-141m2 58v72m2-46v-24m2-50v156m2-40v-125m2 21v72m2 154v-189m2-17v165m2-117v-131m2 71v85m2 0v-32m2-66v89m2 20v-68m2-13v57m2 46v-151m2 18v114m2-19v-79m2-24v176m2-38v-103m2-13v49m2 11v-40m2-26v118m2 3v-105m2-133v180m2 44v-122m2-20v160m2 0v-160m2 80v78m2-41v-85m2-39v109m2-16v-67m2 37v59m2-1v-85m2 60v142m2-105v-39m2-39v88m2 15v-93m2 15v36m2 31v-119m2-53v191m2 16v-152m2 1v165m2-33v-154m2 33v134m2-74v-58m2 2v96m2-65v-120m2 120v102m2-89v-82m2 82v57m2 45v-151m2-60v170m2 28v-157m2 3v178m2-8v-194m2 34v143m2-86v-64m2-1v81m2 58v-76m2-57v92m2 10v-58m2-38v90m2-12v-39m2-59v141m2-98v-41m2 6v83m2 42v-62m2-11v72m2-68v-59m2 17v109m2-24v-68m2 25v112m2-64v-83m2 42v118m2-33v-125m2 22v52m2 42v-121m2 1v106m2 20v-113m2-12v61m2 47v-156m2 114v45m2 23v-87m2-115v222m2-70v-108m2 77v21m2 16v-45m2-6v106m2-15v-102m2-79v111m2 74v-156m2 18v131m2-20v-64m2-50v86m2 48v-109m2-38v102m2-21v-87m2-10v113m2-9v-51m2-34v45m2 108v-108m2 25v62m2 8v-64m2-75v139m2-22v-201m2 94v170m2 11v-129m2-10v93m2-26v-88m2-48v161m2-105v-37m2-26v144m2 111v-207m2-29v113m2-27v-36m2-16v58m2 109v-194m2 44v121m2-60v-52m2-3v55m2 7v-69m2-27v52m2 24v-78m2 26v137m2-36v-88m2-66v161m2-17v-141m2 21v132m2-100v-29m2 2v76m2-59v-82m2 13v88m2 56v-118m2 22v156m2-64v-35m2-11v79m2-47v-20m2-58v60m2-42v-120m2 31v134m2-34v-63m2 4v220m2-136v-62m2-12v100m2 39v-49m2-17v102m2-63v-146m2-75v205m2 19v-191m2 108v73m2-44v-39m2 21v37m2 26v-50m2-90v123m2-10v-171m2 19v209m2 52v-191m2 13v176m2-71v-117m2-14v127m2 29v-101m2-91v91m2 34v-93m2 12v130m2-46v-75m2 23v93m2-53v-123m2 78v74m2-6v-101m2 19v83m2 21v-75m2 6v99m2-64v-104m2-4v129m2 11v-141m2 7v177m2-51v-110m2 3v145m2-58v-69m2-17v119m2-100v-71m2 4v87m2 12v-73m2 35v42m2 24v-36m2-41v89m2 48v-218m2 123v59m2-2v-89m2-3v46m2 2v-55m2-25v111m2-42v-70m2-84v97m2 120v-143m2-28v193m2-52v-89m2-15v56m2 16v-79m2-32v130m2 78v-213m2-41v196m2-57v-23m2-88v133m2-27v-76m2 15v81m2-28v-136m2 15v118m2 2v-65m2-38v81m2 64v-100m2 23v27m2-23v-34m2 12v53m2 27v-159m2 36v62m2 32v-88m2-23v81m2 42v-107m2 21v84m2-4v-104m2-32v58m2 58v-107m2-13v111m2 56v-136m2 47v83m2-7v-169m2-34v142m2-5v-129m2-37v159m2 8v-95m2-3v115m2-60v-139m2 73v99m2 51v-178m2 28v155m2-114v-105m2-19v175m2-62v-78m2 50v28m2 22v-78m2 8v127m2-49v-106m2-2v108m2 65v-174m2 46v109m2-84v-110m2 33v97m2-69v-51m2 50v47m2 0v-119m2-7v72m2 33v-70m2-9v75m2-22v-46m2 0v156m2-17v-96m2-57v89m2-15v-75m2 19v93m2-19v-118m2-31v86m2 13v-97m2-62v117m2 29v-123m2-41v152m2-42v-38m2-22v171m2-14v-133m2-33v221m2-79v-52m2-34v34m2 13v-52m2-62v139m2 2v-101m2-83v101m2-2v-52m2 42v31m2-13v-83m2 13v78m2-13v-128m2 27v133m2 18v-107m2-48v99m2 62v-124m2-4v99m2-26v-124m2 3v68m2-4v-72m2 16v89m2 31v-214m2 35v111m2 64v-134m2-79v158m2-53v-89m2-5v142m2 5v-140m2 35v106m2-26v-82m2 8v75m2-34v-71m2 3v98m2 67v-184m2-57v90m2 51v-134m2 22v43m2 13v-22m2-16v55m2 3v-65m2-97v204m2 0v-109m2-74v116m2 82v-194m2-14v170m2-33v-110m2-6v131m2-74v-70m2 17v156m2-56v-102m2-44v63m2 22v-56m2 13v86m2 16v-109m2-52v121m2-27v-95m2 1v79m2 2v-69m2 38v29m2-8v-101m2-72v134m2 7v-82m2-18v160m2 38v-165m2-29v140m2-62v-83m2 57v68m2-26v-112m2 4v56m2 94v-195m2 30v93m2-38v-94m2 28v88m2-13v-52m2-54v81m2 2v-91m2 34v66m2 24v-85m2-48v67m2 75v-149m2 54v52m2-14v-87m2 24v91m2 16v-196m2-16v110m2-40v-21m2-3v60m2 62v-120m2-56v172m2-54v-116m2 12v106m2 0v-109m2-15v130m2 7v-132m2 19v84m2-21v-46m2 6v116m2 2v-144m2-24v148m2-27v-102m2-10v77m2-26v-34m2 2v55m2 57v-90m2-124v259m2-100v-161m2 69v90m2 3v-152m2 4v195m2-22v-155m2 24v124m2 11v-140m2-15v149m2-84v-66m2 32v89m2-8v-89m2-61v159m2-62v-108m2 79v61m2-27v-145m2 3v168m2 11v-132m2 27v112m2-65v-79m2 20v34m2 55v-101m2-36v148m2-12v-136m2 49v86m2-86v-34m2-1v141m2-64v-171m2 78v117m2-12v-80m2-95v139m2 64v-180m2 71v59m2-35v-33m2-15v46m2 19v-163m2 26v152m2 89v-138m2-140v176m2-21v-142m2 1v135m2 27v-30m2 5v76m2-16v-130m2-54v120m2 10v-29m2-108v108m2 10v-75m2 10v85m2 15v-114m2-120v241m2-47v-95m2 81v64m2-64v-105m2 29v170m2-103v-149m2-17v242m2 23v-112m2-31v98m2-49v-86m2-24v125m2-3v-67m2-1v69m2 20v-131m2-22v210m2-67v-41m2-110v116m2-7v-30m2-117v194m2-28v-110m2-41v72m2 32v-88m2 52v80m2-11v-65m2 1v51m2 67v-143m2-9v133m2-32v-95m2-25v85m2 46v-81m2-22v94m2-29v-109m2 76v68m2-39v-67m2-100v218m2-83v-126m2 126v88m2 32v-177m2 20v215m2-108v-109m2 15v61m2 93v-120m2-42v64m2 15v-100m2 47v119m2-22v-118m2-10v119m2-46v-114m2 35v64m2 43v-127m2-1v170m2-50v-247m2-11v240m2-9v-52m2-5v128m2-43v-128m2 101v32m2-13v-78m2-23v67m2 42v-106m2-31v141m2-23v-44m2 8v42m2-15v-28m2 28v36m2 0v-77m2-15v82m2-1v-79m2 33v38m2 8v-111m2-27v120m2 48v-92m2-71v133m2 17v-155m2-39v187m2-9v-180m2 102v102m2-19v-173m2 64v127m2-40v-108m2 28v57m2-15v-51m2 44v79m2-52v-125m2 10v161m2-34v-45m2-34v161m2-39v-66m2-62v141m2-45v-32m2-103v117m2 0v-107m2 11v122m2 6v-47m2-36v159m2-99v-62m2-47v85m2 53v-148m2 67v81m2-35v-53m2-13v46m2 23v-54m2 24v22m2 51v-77m2-1v37m2 25v-74m2 24v64m2-16v-21m2-43v64m2 40v-162m2 11v177m2-30v-127m2 3v55m2 69v-121m2 48v74m2-37v-56m2-54v124m2 46v-144m2-68v166m2-87v-98m2 98v70m2 3v-96m2-15v71m2 87v-182m2 29v172m2-72v-130m2 57v84m2 7v-16m2-85v157m2-89v-86m2-5v190m2-73v-112m2 42v111m2-111v-55m2-95v191m2-2v-69m2-51v175m2-38v-137m2 33v96m2 97v-233m2 97v106m2-45v-56m2-131v216m2-48v-137m2 60v44m2 90v-120m2 30v29m2 91v-117m2-64v107m2-81v-42m2 31v146m2-17v-126m2-33v114m2 17v-67m2-21v49m2-9v-57m2-5v213m2-113v-105m2 14v73m2 7v-83m2-4v45m2 116v-139m2-14v129m2-43v-110m2 27v82m2 35v-107m2 4v64m2-1v-77m2-4v99m2 11v-113m2-6v152m2-5v-158m2-14v117m2-13v-80m2-6v54m2 113v-250m2 41v173m2-49v-59m2-15v153m2-35v-97m2-37v122m2 99v-184m2-12v131m2-63v-92m2-6v236m2-94v-97m2-92v169m2 55v-171m2 23v119m2 25v-81m2-20v95m2 0v-173m2 58v63m2 20v-71m2-32v75m2 86v-99m2-70v70m2-21v-22m2 2v37m2 16v-149m2 76v65m2 57v-57m2-25v108m2-54v-152m2 85v102m2-88v-60m2 17v234m2-121v-86m2-13v111m2-7v-124m2-7v73m2 72v-87m2-113v150m2 50v-180m2 44v124m2 16v-124m2 23v100m2 15v-157m2 12v99m2 39v-137m2-10v56m2 43v-94m2-28v124m2-9v-101m2-71v173m2 11v-58m2-67v214m2-70v-140m2 58v32m2 7v-99m2 74v30m2 36v-75m2-24v101m2-85v-45m2-39v86m2 33v-69m2 3v157m2-108v-59m2-5v142m2-26v-85m2-24v129m2-9v-70m2 6v90m2 28v-175m2-21v141m2-9v-131m2 92v78m2 18v-206m2 57v59m2 60v-61m2-14v56m2-3v-106m2 21v90m2-90v-53m2 7v132m2 30v-119m2-12v70m2 40v-48m2-8v140m2-105v-50m2 45v57m2 4v-133m2-6v102m2-3v-75m2-32v83m2 69v-203m2 30v180m2-12v-97m2-11v76m2-24v-86m2 50v77m2-77v-93m2 51v93m2 5v-176m2 14v102m2 81v-82m2-13v81m2 52v-190m2-64v190m2-1v-117m2 79v68m2-64v-18m2-56v58m2 50v-99m2-10v114m2-34v-98m2 59v100m2-19v-120m2 83v28m2-26v-113m2 24v109m2-3v-60m2-27v111m2-49v-62m2-64v155m2 50v-127m2 44v77m2-36v-62m2 5v67m2-6v-103m2-46v160m2 38v-223m2 86v109m2 8v-78m2-57v89m2 20v-117m2-38v69m2 20v-61m2 22v132m2 46v-110m2-74v115m2 40v-152m2-6v101m2 35v-117m2 9v99m2 17v-185m2-23v226m2 4v-211m2 58v130m2-41v-56m2-33v101m2 15v-140m2 5v98m2-24v-95m2 95v55m2 9v-81m2 9v34m2 65v-86m2-48v48m2 5v-58m2-19v125m2 14v-153m2 11v134m2-39v-83m2-21v105m2-5v-79m2 58v86m2-5v-145m2 6v124m2-49v-125m2-25v221m2-73v-50m2-7v75m2 19v-63m2 10v66m2-36v-108m2 4v98m2 61v-131m2-24v100m2 37v-181m2 75v64m2-7v-64m2 17v103m2-1v-81m2-47v134m2-64v-135m2 34v124m2-25v-81m2 29v63m2 75v-177m2 18v130m2-51v-180m2 115v106m2 33v-107m2-43v43m2-5v-107m2 48v108m2 87v-157m2-53v194m2-33v-100m2 14v68m2-37v-29m2-28v68m2-44v-58m2 6v80m2 29v-86m2 22v71m2 8v-151m2 21v122m2 31v-145m2 47v97m2 36v-186m2 93v75m2-10v-105m2-75v75m2 109v-190m2-33v168m2 16v-153m2 9v110m2 56v-145m2 27v87m2-3v-45m2-41v71m2 6v-79m2-56v87m2 73v-76m2-23v100m2 5v-99m2-14v50m2 35v-83m2-3v73m2 37v-123m2-30v126m2 29v-70m2-32v67m2 37v-72m2-142v208m2 64v-100m2 19v51m2-6v-57m2-61v106m2-36v-69"/>
<path stroke="#4DBEEE" d="M0 1178v210m2-9v-112m2 24v103m2-28v-72m2-52v114m2 34v-145m2 47v36m2 18v-73m2-51v144m2-44v-114m2 41v171m2-38v-133m2 42v90m2-10v-168m2 65v119m2-2v-113m2-16v122m2-6v-78m2-13v87m2 59v-126m2 21v106m2-55v-73m2-23v64m2 36v-117m2-2v63m2 15v-65m2-15v77m2-45v-30m2 19v96m2 14v-81m2-38v78m2-8v-75m2-54v60m2 117v-187m2 103v91m2-17v-72m2-62v147m2 40v-108m2-48v48m2 92v-94m2-17v123m2-78v-90m2-2v70m2 75v-127m2 30v99m2-87v-29m2-8v72m2 11v-91m2 21v39m2 51v-170m2 125v49m2 19v-106m2-11v80m2 31v-145m2-36v155m2 29v-227m2 48v155m2 40v-156m2 16v115m2 3v-48m2-52v110m2 11v-132m2-25v66m2 37v-48m2-18v39m2 55v-78m2-38v93m2 83v-152m2-90v143m2 77v-106m2-61v178m2-30v-78m2-69v91m2-3v-84m2 31v96m2 12v-148m2-7v120m2-3v-121m2 63v65m2 39v-115m2-65v169m2 22v-154m2-20v67m2 96v-171m2 65v75m2-56v-61m2-18v150m2-28v-85m2 7v106m2-18v-114m2-8v196m2-4v-202m2 8v122m2 17v-111m2-59v179m2 57v-173m2-13v31m2 76v-128m2 6v123m2 59v-204m2-17v208m2 6v-252m2 120v40m2 92v-131m2 49v75m2-64v-53m2 12v62m2 4v-105m2 24v34m2 42v-73m2-43v68m2 46v-130m2 13v127m2 26v-119m2-7v90m2 22v-95m2 29v32m2-3v-40m2-17v134m2-19v-78m2-109v132m2 3v-101m2-19v107m2 106v-129m2-82v124m2 38v-105m2-70v111m2 15v-95m2-19v98m2 72v-140m2-26v105m2 31v-121m2 1v144m2 31v-213m2 10v132m2 78v-110m2-18v128m2-56v-133m2 2v114m2-8v-72m2-27v86m2-13v-44m2-62v140m2-17v-112m2-39v68m2 143v-212m2 84v53m2 8v-61m2-5v88m2-25v-42m2-28v84m2 8v-85m2 28v152m2-86v-121m2 18v62m2 5v-129m2 91v46m2 46v-107m2-34v114m2 43v-139m2-6v149m2-85v-86m2 5v130m2-39v-62m2-44v150m2-51v-89m2 47v103m2-32v-134m2 67v82m2-15v-37m2-106v106m2 45v-180m2 109v103m2-23v-93m2 6v110m2-30v-86m2-10v75m2-26v-80m2 41v47m2 18v-114m2 15v112m2 88v-180m2-25v202m2-82v-76m2-3v48m2-19v-68m2-3v108m2-15v-98m2 8v73m2 73v-150m2 6v148m2 4v-132m2-40v64m2 37v-71m2-22v138m2-24v-157m2 27v162m2-11v-104m2 29v28m2 7v-108m2-28v143m2 64v-89m2-46v54m2 49v-77m2-33v97m2-12v-37m2-37v88m2 68v-105m2-80v131m2-10v-133m2 77v124m2-58v-111m2-5v101m2 7v-116m2 15v111m2 47v-153m2 6v114m2-62v-55m2 8v91m2-41v-64m2 3v71m2-34v-14m2-39v98m2 1v-96m2 61v36m2-21v-35m2-45v52m2 129v-205m2 36v140m2-46v-88m2-9v60m2 26v-89m2-10v92m2 22v-111m2 36v92m2 23v-65m2-65v135m2 8v-201m2-26v128m2 69v-153m2 73v142m2-69v-77m2-21v103m2-1v-112m2 53v93m2-78v-32m2 9v80m2-80v-108m2 58v87m2 22v-88m2-22v101m2-1v-86m2-29v158m2-54v-125m2 90v109m2-8v-128m2-24v77m2-60v-90m2 54v76m2 68v-143m2-15v162m2-55v-143m2 88v124m2-34v-157m2 78v117m2-35v-102m2-70v72m2 27v-92m2-22v111m2 31v-88m2 88v56m2-17v-59m2-130v202m2-47v-148m2 89v67m2-2v-77m2-5v71m2 16v-87m2-68v114m2 10v-84m2 66v81m2-32v-122m2 39v92m2 0v-133m2 31v71m2 12v-102m2 30v101m2-7v-121m2 22v78m2 17v-110m2 12v106m2-34v-94m2-10v152m2-18v-110m2 19v99m2 77v-199m2 48v115m2-60v-94m2-22v137m2 4v-103m2 7v113m2-85v-102m2 82v58m2 23v-106m2 21v83m2 0v-139m2 31v105m2-74v-74m2-1v107m2-28v-33m2-65v175m2-3v-105m2-2v90m2-9v-61m2 0v62m2 4v-77m2-14v110m2-38v-83m2 21v42m2-42v-83m2 24v131m2 37v-120m2 5v149m2-42v-126m2-6v158m2 18v-111m2-51v195m2-85v-74m2-1v65m2 17v-179m2 0v188m2-17v-165m2-20v217m2-70v-81m2 73v61m2-34v-106m2-11v107m2-59v-89m2 75v52m2 4v-80m2 43v68m2 9v-109m2-13v103m2 53v-96m2-95v134m2 0v-164m2-22v118m2 60v-105m2 14v149m2 22v-89m2-164v251m2-153v-34m2 1v33m2 132v-174m2-30v76m2 49v-50m2 41v42m2 42v-100m2-27v67m2-20v-66m2 27v83m2-74v-71m2-5v105m2 19v-94m2-40v146m2 1v-85m2-70v152m2 2v-142m2 29v111m2-31v-79m2-64v153m2 14v-78m2-57v109m2 28v-95m2-84v177m2-58v-111m2 54v98m2 12v-97m2-17v105m2-42v-49m2 24v97m2-17v-143m2 42v41m2 51v-121m2 11v124m2 3v-208m2-36v221m2-8v-71m2 55v75m2-22v-108m2-85v125m2 17v-139m2 30v120m2-25v-67m2-34v92m2 80v-214m2-65v194m2 30v-104m2 17v91m2-1v-122m2-19v106m2-71v-69m2 54v93m2 52v-244m2 63v106m2 33v-108m2-74v195m2 1v-213m2 110v72m2-25v-43m2-8v65m2 58v-161m2-15v37m2 149v-168m2-71v220m2-16v-122m2-87v126m2 5v-114m2-7v123m2-22v-67m2 31v113m2-70v-50m2 30v121m2-71v-123m2 3v128m2-16v-56m2-11v98m2 22v-149m2 3v90m2 49v-233m2 0v153m2 3v-78m2-130v190m2 83v-203m2 41v48m2 98v-114m2-42v152m2-56v-102m2-2v71m2 71v-168m2 36v62m2 111v-133m2 35v53m2-43v-95m2-15v114m2-6v-129m2-6v102m2 16v-55m2-44v67m2 27v-96m2-25v117m2-69v-40m2-18v107m2 18v-42m2-172v216m2-24v-198m2 60v112m2 6v-140m2-19v148m2-27v-52m2-9v51m2 46v-97m2 43v26m2-2v-129m2 39v135m2-31v-56m2-49v83m2 3v-134m2 34v126m2-42v-148m2 66v70m2-6v-76m2-43v121m2 8v-52m2-11v104m2-104v-40m2-12v81m2 3v-81m2 19v127m2-55v-131m2-29v180m2-43v-125m2 41v72m2-2v-101m2 39v100m2-43v-170m2 85v63m2 109v-155m2-55v78m2 124v-162m2-78v139m2-22v-41m2 2v226m2 32v-314m2-24v90m2 113v-259m2 41v98m2 122v-158m2 7v108m2-22v-84m2-67v121m2-11v-132m2 54v84m2 1v-60m2-52v74m2 74v-100m2-75v144m2-21v-150m2-6v94m2 1v-31m2 7v45m2-35v-47m2-34v125m2 43v-163m2-28v109m2-42v-78m2 23v89m2 25v-97m2 23v102m2-42v-129m2 15v185m2-27v-98m2-102v156m2-35v-121m2 34v101m2-41v-125m2 40v92m2-11v-107m2 47v81m2-30v-109m2 85v88m2-77v-34m2-66v125m2 4v-151m2 87v50m2 37v-131m2 11v94m2 84v-227m2 4v110m2 3v-151m2 11v163m2-70v-172m2 79v82m2 60v-184m2 17v77m2-3v-53m2 3v121m2-64v-41m2-6v70m2-34v-46m2 1v90m2-6v-96m2 17v79m2-17v-93m2-1v72m2-11v-79m2-9v101m2-63v-70m2 70v40m2 47v-97m2 0v100m2 19v-156m2 40v122m2-73v-65m2-38v122m2-12v-104m2-39v78m2 133v-250m2 73v61m2-10v-41m2-38v82m2-15v-67m2 22v64m2-8v-96m2 7v73m2 0v-85m2 7v112m2-5v-212m2 40v69m2 58v-148m2 37v141m2-43v-115m2 14v90m2-90v-47m2 17v118m2-3v-79m2-8v59m2 9v-35m2-19v50m2 25v-103m2 12v71m2 35v-35m2-121v138m2-14v-129m2 47v105m2-35v-114m2 22v118m2-31v-89m2 27v88m2 1v-146m2 21v118m2-67v-106m2 46v190m2-116v-116m2 25v107m2 37v-95m2-63v75m2 65v-119m2 11v95m2 12v-117m2-41v163m2-45v-214m2 129v113m2-19v-99m2-55v135m2 5v-171m2 64v61m2 10v-51m2-4v60m2 39v-145m2 106v47m2-27v-113m2-2v60m2 38v-99m2 47v41m2 11v-75m2-54v140m2-47v-126m2-34v267m2-56v-161m2 2v167m2-41v-120m2 6v141m2 18v-159m2 116v60m2-44v-96m2 7v64m2 1v-53m2-103v103m2-4v-98m2-40v178m2-24v-195m2 161v51m2-37v-35m2-35v130m2-40v-108m2-1v106m2 8v-93m2 49v92m2 3v-179m2 15v114m2-23v-79m2 21v89m2-28v-106m2 52v50m2 15v-124m2-27v188m2-62v-106m2 10v149m2-4v-87m2-10v68m2-7v-94m2-28v168m2-24v-150m2 58v101m2-53v-72m2-64v150m2 23v-141m2 36v103m2-17v-78m2-14v95m2 3v-112m2-16v169m2-22v-142m2-47v133m2 3v-104m2 15v47m2 64v-133m2-7v110m2 51v-127m2-73v113m2 101v-237m2 110v79m2 43v-168m2 23v88m2 45v-120m2-6v48m2-7v-64m2-44v107m2 73v-139m2 70v39m2 11v-80m2 15v69m2-30v-111m2-11v104m2 46v-120m2 0v159m2 12v-150m2-17v77m2 6v-61m2 28v35m2 0v-90m2 3v59m2 20v-94m2-20v122m2 46v-132m2 26v94m2 8v-156m2 2v146m2-42v-105m2 10v104m2 34v-136m2 10v53m2 13v-51m2-17v40m2 58v-137m2 60v72m2 79v-199m2-24v124m2 1v-57m2-22v114m2 27v-126m2-24v97m2 10v-43m2 17v63m2-24v-174m2 56v62m2 60v-125m2 26v156m2-16v-133m2-113v221m2-17v-171m2 40v91m2 1v-79m2 58v90m2 3v-120m2-3v127m2-127v-39m2 33v35m2 16v-64m2-25v92m2-45v-72m2 30v95m2 46v-74m2-100v172m2 6v-121m2 18v94m2-7v-166m2 86v82m2-30v-87m2 44v63m2-30v-53m2-11v99m2-11v-63m2-13v101m2 57v-208m2-30v260m2-86v-76m2-17v78m2-1v-53m2-99v131m2 16v-146m2-27v166m2 12v-87m2 30v60m2-14v-60m2 4v48m2 8v-105m2 90v121m2-121v-71m2-79v167m2 58v-122m2-14v97m2-45v-54m2-7v77m2-17v-38m2 23v77m2 10v-155m2 32v116m2-95v-23m2 20v49m2 41v-111m2-20v79m2 64v-128m2 21v87m2-9v-34m2-117v130m2 3v-23m2-99v109m2 30v-94m2-42v86m2 22v-124m2 68v86m2-43v-81m2-1v115m2 64v-236m2 127v50m2-8v-115m2 45v111m2-58v-87m2 53v33m2 37v-132m2 49v89m2-2v-68m2 10v80m2-67v-86m2 6v134m2-5v-142m2 35v59m2-17v-40m2-44v113m2 99v-99m2-39v46m2-40v-50m2-3v101m2 28v-181m2 77v89m2 17v-153m2-19v95m2 94v-134m2 29v88m2-88v-78m2 3v196m2-30v-132m2 0v160m2 16v-163m2 7v112m2 10v-116m2-15v139m2-65v-105m2 24v76m2 43v-58m2-55v92m2-18v-93m2-15v100m2-5v-78m2-7v125m2 5v-136m2 37v105m2 16v-96m2-15v66m2 6v-108m2-29v176m2-67v-95m2 48v95m2 7v-70m2-20v66m2-12v-65m2 2v62m2 10v-37m2-61v71m2 58v-112m2 51v82m2-5v-143m2-46v187m2-3v-74m2-53v96m2 6v-119m2 28v54m2-27v-75m2 27v67m2 40v-94m2 60v14m2-7v-85m2 16v96m2-65v-65m2-2v132m2-49v-137m2 53v87m2 29v-85m2 11v134m2-2v-92m2-90v94m2 1v-27m2 7v67m2-41v-36m2 1v85m2-17v-153m2 46v59m2 51v-126m2 33v100m2-76v-57m2 10v111m2 55v-186m2 96v78m2-2v-144m2 4v45m2 74v-117m2 1v129m2-24v-100m2 14v71m2 7v-63m2 12v51m2-44v-73m2 10v133m2 23v-88m2-20v93m2 0v-47m2-74v141m2-39v-94m2-17v72m2 68v-126m2 3v79m2 4v-60m2-45v110m2-30v-19m2-48v67m2-54v-54m2 35v91m2 13v-51m2-62v113m2-13v-62m2-32v75m2-3v-65m2-28v134m2-25v-65m2-49v114m2 24v-90m2-2v108m2 36v-79m2-189v198m2-39v-128m2 61v126m2-58v-124m2 86v181m2-134v-45m2-47v118m2-4v-134m2 100v47m2-14v-113m2 30v131m2-23v-126m2 3v94m2 18v-90m2-8v81m2 37v-133m2 59v129m2-94v-96m2 90v58m2 61v-140m2 27v68m2 27v-166m2 0v191m2-93v-61m2-87v110m2-32v-75m2 38v69m2 47v-151m2 53v50m2 76v-146m2 59v98m2-78v-50m2 7v106m2 63v-126m2-142v182m2-64v-91m2 68v61m2 30v-78m2 14v58m2-4v-79m2-121v221m2 10v-170m2 68v91m2-13v-66m2-19v56m2 111v-173m2-8v67m2-9v-111m2 14v115m2 39v-97m2 0v108m2 10v-113m2 4v67m2 33v-101m2 19v159m2-132v-85m2 61v177m2-62v-127m2-55v80m2-27v-79m2 43v67m2 47v-84m2 39v66m2-66v-81m2-5v63m2 26v-76m2-42v107m2-2v-110m2-7v137m2-40v-31m2-15v64m2 81v-178m2 55v83m2-15v-46m2-24v112m2-29v-170m2 79v55m2 41v-44m2 17v58m2 68v-195m2-30v141m2-37v-137m2 70v119m2 0v-121m2-28v115m2-29v-112m2 67v67m2-58v-73m2 37v150m2-11v-207m2 15v155m2 18v-117m2-12v120m2-18v-131m2 77v84m2-40v-87m2 87v105m2-48v-152m2 10v151m2 8v-182m2-8v52m2 73v-115m2-26v111m2 119v-227m2 23v198m2-29v-159m2 38v119m2-19v-193m2 107v130m2 23v-177m2 34v78m2-29v-153m2 13v157m2 16v-135m2-1v123m2-49v-102m2 3v99m2 53v-160m2 74v94m2 39v-175m2-5v156m2 1v-119m2 24v177m2-139v-74m2-9v116m2-50v-105"/>
<path stroke="#A2142F" d="M0 1287v64m2-10v-138m2 46v105m2-8v-37m2 13v45m2 54v-147m2 51v98m2-97v-37m2 35v123m2-29v-59m2-146v171m2 22v-175m2 38v136m2 16v-88m2-11v104m2-64v-94m2 6v42m2-21v-83m2 77v45m2 23v-57m2-59v151m2-22v-45m2-12v57m2 13v-110m2 57v109m2-88v-89m2 57v79m2-64v-58m2-16v125m2 18v-131m2-47v185m2 119v-250m2 21v51m2 71v-180m2-30v84m2 88v-157m2-10v151m2 37v-51m2-99v134m2-59v-83m2 29v87m2-10v-65m2-74v120m2 23v-71m2-89v158m2 45v-102m2-51v190m2-44v-59m2-102v244m2-85v-94m2-61v130m2 13v-144m2 45v120m2-27v-104m2-4v61m2 50v-78m2-6v131m2-102v-71m2 58v120m2-47v-60m2-27v82m2 14v-102m2-86v144m2 67v-134m2-30v136m2 26v-114m2-40v171m2-85v-103m2 40v50m2 72v-147m2 91v29m2 62v-127m2-82v174m2-46v-66m2 1v161m2-91v-81m2 49v103m2-76v-92m2-22v179m2-21v-185m2 26v151m2-26v-76m2-13v91m2 14v-63m2-99v136m2 72v-139m2 30v86m2-39v-156m2 111v42m2-29v-102m2 70v69m2-1v-46m2-144v144m2 31v-47m2-11v43m2 87v-198m2 17v147m2 27v-156m2 16v156m2-68v-93m2-36v36m2 10v-53m2 14v93m2 8v-54m2-107v161m2 5v-166m2 108v73m2-54v-91m2 91v28m2 84v-154m2 30v146m2-98v-130m2 32v120m2 3v-123m2 50v86m2-18v-66m2-6v105m2-29v-95m2 66v81m2-81v-90m2 26v161m2-83v-115m2 50v93m2-11v-150m2 57v89m2-51v-70m2 33v38m2 73v-164m2 3v100m2 13v-98m2 51v87m2 64v-158m2-19v89m2 17v-65m2-67v154m2-58v-84m2-36v176m2 73v-183m2 15v62m2 73v-149m2-17v51m2 48v-65m2 2v92m2-2v-135m2 84v66m2-46v-28m2-9v112m2-9v-136m2-70v193m2-71v-117m2 37v69m2 125v-219m2 50v67m2-39v-37m2 5v89m2 33v-107m2 20v70m2-30v-145m2 20v133m2-18v-50m2-43v97m2 30v-83m2-3v94m2-3v-62m2-8v116m2-44v-106m2-51v124m2 1v-79m2-15v192m2-66v-109m2-41v131m2-39v-88m2 22v49m2 47v-53m2-33v87m2 83v-134m2-7v96m2 33v-211m2 29v103m2 51v-89m2-88v88m2 140v-203m2-50v99m2 80v-80m2-4v33m2 36v-83m2 15v127m2-67v-74m2-79v142m2-47v-81m2 75v127m2-64v-42m2-31v82m2-21v-30m2-29v54m2 12v-167m2 53v169m2-41v-178m2 125v39m2-16v-111m2 61v161m2-61v-128m2-36v99m2 134v-168m2-64v198m2-70v-100m2 13v118m2 9v-80m2-68v153m2-57v-47m2 11v51m2-22v-94m2-4v121m2 27v-86m2-37v96m2 98v-203m2-11v111m2-31v-45m2-26v77m2-25v-34m2-7v101m2-32v-68m2 16v92m2-5v-66m2 32v65m2-50v-50m2-102v192m2 25v-175m2 36v124m2 4v-95m2-22v119m2-19v-137m2-93v131m2 100v-100m2 10v114m2 17v-217m2 48v82m2 4v-134m2 39v178m2 69v-208m2 13v24m2-24v-63m2 15v100m2 50v-100m2-58v157m2-2v-138m2 18v132m2-76v-57m2-34v37m2 66v-66m2 23v98m2-15v-78m2-66v143m2-30v-113m2 11v83m2 86v-139m2 10v31m2 11v-51m2 5v110m2-69v-84m2-8v74m2 61v-225m2 82v91m2-8v-77m2 25v141m2-73v-68m2 5v27m2 118v-152m2-108v214m2 26v-216m2 12v236m2-109v-91m2 53v57m2-3v-20m2-32v38m2 10v-74m2-31v49m2 61v-61m2 35v30m2 1v-84m2 26v68m2-17v-55m2-11v53m2 35v-87m2 1v56m2 6v-58m2 56v20m2-3v-77m2 20v30m2 64v-81m2-106v170m2-30v-103m2-38v194m2-28v-148m2 9v82m2-18v-47m2 0v151m2-21v-140m2 5v99m2 28v-100m2 26v77m2-53v-63m2-8v107m2 13v-101m2-54v127m2 2v-78m2-75v150m2-9v-142m2 28v112m2 20v-122m2 8v85m2-14v-51m2 8v31m2 96v-179m2 64v66m2-32v-44m2 27v42m2 65v-129m2 23v61m2-37v-37m2-15v130m2-33v-94m2 22v53m2-53v-31m2-5v33m2 12v-75m2 21v202m2-134v-135m2 10v141m2 45v-239m2 67v180m2-94v-99m2 15v165m2-29v-277m2 207v64m2-22v-88m2-11v113m2 2v-114m2 10v78m2 10v-71m2 43v37m2-16v-143m2 91v123m2-100v-70m2 14v180m2 0v-176m2 4v104m2-58v-105m2-8v133m2 0v-123m2 56v89m2 23v-103m2-42v135m2-9v-134m2 42v118m2-88v-48m2 16v106m2-4v-76m2 12v119m2-13v-174m2 3v148m2-58v-94m2 22v41m2-4v-48m2-19v125m2 74v-163m2-81v104m2 42v-138m2 75v75m2-20v-64m2-7v60m2 0v-88m2-19v163m2-29v-125m2-11v95m2-37v-109m2 50v59m2 65v-106m2-18v113m2 34v-135m2 17v143m2-113v-47m2-31v163m2 12v-169m2-29v133m2 67v-226m2 7v72m2 47v-77m2 46v40m2 79v-173m2 16v120m2 26v-122m2 14v110m2-73v-21m2-67v104m2 1v-194m2 103v80m2 14v-128m2 34v132m2 9v-152m2-19v77m2 21v-113m2 58v41m2-13v-55m2 20v96m2-54v-71m2-64v83m2 66v-77m2-24v103m2-44v-81m2-48v146m2-31v-53m2-19v159m2-60v-85m2-46v62m2 59v-96m2 26v66m2-6v-63m2-9v80m2 118v-135m2-77v77m2 49v-114m2-15v127m2-118v-46m2 23v58m2 12v-83m2 49v105m2-28v-148m2 5v123m2-35v-40m2-64v86m2 49v-152m2 130v42m2-40v-50m2-46v64m2-60v-84m2 27v121m2 44v-140m2-3v163m2-10v-74m2 9v26m2-5v-119m2-32v182m2-31v-135m2 32v126m2-73v-93m2-62v160m2 24v-42m2-15v72m2 10v-92m2-71v129m2-39v-64m2-15v113m2-30v-95m2-3v137m2 19v-184m2 29v100m2-7v-109m2 9v176m2-9v-187m2 9v73m2 31v-92m2-81v175m2 23v-58m2-53v79m2 1v-84m2-19v73m2 77v-175m2 8v110m2-73v-33m2-57v102m2 37v-127m2 54v174m2-85v-109m2-5v44m2 71v-140m2 59v91m2-5v-74m2-88v125m2-43v-56m2 35v118m2-61v-109m2 18v35m2 58v-73m2-39v134m2-77v-88m2-49v162m2-22v-89m2 5v37m2 43v-101m2 37v100m2-41v-77m2 22v124m2 12v-176m2-18v85m2 14v-65m2-3v136m2-84v-47m2-84v128m2-14v-102m2 44v38m2 26v-90m2 63v129m2-98v-70m2 29v97m2-50v-129m2 11v59m2 163v-210m2-14v110m2-13v-53m2-56v134m2-28v-92m2 7v106m2-15v-126m2 49v74m2-41v-77m2 4v62m2 20v-79m2-4v108m2-93v-47m2 9v113m2-69v-120m2 33v76m2 122v-198m2 0v61m2 42v-50m2-5v66m2 46v-123m2-67v152m2-49v-80m2 11v62m2 57v-86m2-43v71m2 39v-117m2-29v132m2-25v-69m2 24v55m2-18v-118m2 2v111m2-24v-23m2 7v42m2-11v-78m2-29v164m2-2v-87m2-75v113m2-62v-43m2 19v72m2 8v-125m2 13v85m2-42v-90m2 41v86m2-10v-150m2 48v134m2-23v-100m2-1v79m2-17v-81m2-20v182m2-70v-65m2-4v91m2-28v-86m2 66v64m2-22v-97m2 9v176m2-117v-98m2-34v167m2-31v-106m2 11v108m2-95v-50m2 10v97m2 12v-233m2 159v85m2-4v-109m2 19v92m2-40v-105m2-34v100m2 30v-96m2-38v91m2 68v-159m2 55v133m2-51v-107m2 4v91m2-57v-44m2 7v98m2-12v-34m2-140v165m2 4v-82m2-51v136m2-78v-101m2 93v79m2-71v-67m2-25v66m2 44v-101m2 40v58m2-3v-54m2 50v52m2-22v-91m2-44v105m2 63v-151m2-59v181m2-54v-102m2 86v101m2-45v-81m2-7v82m2 11v-201m2 79v89m2 26v-95m2-91v196m2 5v-214m2 77v64m2 6v-91m2 38v36m2 19v-73m2-42v143m2-10v-100m2 18v123m2-20v-156m2 51v144m2 20v-266m2-30v142m2 75v-151m2 23v89m2-13v-137m2 81v51m2-12v-16m2-23v79m2 17v-211m2 94v80m2 6v-43m2-79v178m2-11v-133m2-47v115m2-8v-142m2 23v79m2 36v-66m2 10v80m2-10v-110m2-2v85m2 50v-98m2-57v69m2 44v-118m2-6v139m2-53v-88m2-2v125m2 0v-143m2 64v114m2-90v-36m2-29v117m2 0v-159m2-46v208m2-72v-55m2-17v103m2 9v-131m2 12v87m2-11v-43m2-58v117m2-11v-45m2-5v82m2 10v-81m2 1v75m2 3v-72m2-78v165m2 28v-83m2-34v116m2-21v-100m2-95v205m2-51v-78m2-25v46m2 56v-111m2 7v173m2-74v-94m2-56v161m2 22v-44m2-117v130m2-20v-49m2-51v84m2 45v-197m2 89v161m2-53v-98m2-30v148m2-45v-130m2 97v99m2-75v-98m2-9v141m2-49v-72m2 35v79m2-3v-130m2-17v93m2 22v-128m2 105v59m2 36v-188m2 20v74m2-6v-67m2-93v107m2 58v-92m2-52v96m2 100v-186m2 86v88m2-88v-81m2 65v77m2 52v-123m2 13v136m2-1v-161m2-7v84m2 52v-172m2 33v174m2-43v-220m2 87v105m2-20v-127m2-34v187m2-73v-53m2-64v161m2-20v-161m2 5v173m2-27v-118m2 49v82m2-20v-110m2 53v54m2 23v-80m2 27v47m2 26v-147m2 35v31m2 38v-38m2-13v144m2-7v-136m2-37v49m2 107v-146m2 44v70m2-11v-59m2-55v148m2-64v-87m2 34v125m2 26v-148m2-26v174m2-55v-114m2 16v91m2 38v-123m2-30v91m2 59v-103m2-40v182m2-59v-225m2 126v86m2 17v-116m2-23v44m2 53v-93m2-55v110m2 99v-184m2 23v232m2-177v-52m2 52v93m2-41v-85m2-8v123m2-43v-96m2 55v37m2 74v-156m2 12v90m2 25v-192m2 6v117m2 32v-114m2-7v134m2-29v-122m2 97v49m2 16v-98m2-5v143m2-85v-82m2 82v24m2 1v-98m2-40v136m2 1v-105m2 16v51m2 11v-151m2 88v103m2 4v-123m2-4v75m2 30v-76m2-60v193m2-35v-139m2 13v74m2 121v-170m2-1v161m2-41v-159m2-36v235m2-96v-87m2-33v141m2 19v-117m2 5v53m2-19v-58m2 58v102m2-64v-30m2-1v76m2-5v-114m2 38v123m2-98v-130m2 130v69m2-55v-87m2-1v78m2 41v-89m2 37v84m2-84v-51m2-18v28m2 87v-87m2 41v64m2-3v-123m2-6v51m2 6v-41m2-61v116m2 24v-221m2 83v136m2 21v-75m2 47v24m2 36v-73m2-38v117m2-39v-54m2-104v181m2 29v-65m2-37v70m2 60v-188m2 9v165m2-46v-158m2-20v186m2-23v-96m2 81v88m2-44v-70m2-49v65m2 100v-100m2-58v140m2-62v-79m2-28v68m2 50v-67m2 7v67m2-36v-56m2-13v46m2-7v-78m2 14v139m2-20v-144m2 20v122m2-63v-54m2-3v102m2 33v-64m2-82v135m2-13v-119m2 5v109m2-2v-126m2-17v175m2 48v-123m2-20v114m2-2v-59m2-158v158m2 52v-180m2 8v57m2 126v-156m2-25v146m2 6v-109m2-45v107m2 16v-107m2-19v71m2 102v-102m2 15v47m2 11v-97m2 7v58m2 27v-82m2-21v91m2-9v-54m2 22v94m2-41v-54m2 6v34m2-32v-16m2-19v74m2 0v-98m2 24v57m2 37v-195m2 61v166m2-2v-102m2 21v101m2-101v-74m2-6v123m2 34v-129m2-2v95m2-7v-47m2-69v192m2-21v-156m2-3v60m2 55v-135m2 1v160m2-40v-79m2 1v65m2 31v-78m2-43v135m2 19v-79m2-36v83m2 5v-121m2 25v89m2 43v-139m2-94v195m2 52v-184m2-3v178m2-67v-115m2 57v75m2-18v-69m2 31v42m2 107v-190m2-32v114m2-32v-58m2 42v27m2-3v-71m2 14v109m2 17v-94m2-87v138m2-19v-49m2-34v73m2 48v-115m2 10v125m2 18v-72m2-60v66m2 40v-168m2 77v89m2 32v-90m2 13v54m2-12v-121m2 39v107m2-56v-102m2-5v90m2 55v-120m2-30v66m2 84v-89m2-25v77m2-27v-55m2-21v164m2-72v-131m2 52v128m2-1v-131m2 36v148m2 3v-171m2 9v84m2 66v-66m2-59v129m2-56v-104m2 34v78m2-28v-55m2 27v74m2-40v-141m2 14v94m2-12v-46m2 7v91m2-9v-40m2-48v91m2-13v-60m2 34v60m2 22v-98m2-1v67m2 51v-225m2 84v106m2 6v-119m2 79v47m2-22v-71m2 3v82m2-77v-85m2-9v54m2 116v-116m2-107v169m2-3v-54m2-34v71m2 51v-79m2 11v69m2-29v-40m2-21v156m2-22v-88m2 26v51m2-31v-83m2-9v125m2-47v-50m2-42v140m2-33v-105m2 9v69m2-69v-38m2 3v105m2 33v-82m2-9v38m2 136v-136m2-3v44m2-4v-82m2-2v58m2 19v-43m2-7v71m2-8v-49m2-58v97m2 60v-123m2-52v225m2-64v-141m2 54v112m2-54v-77m2 40v51m2 43v-146m2 13v56m2-16v-35m2 18v79m2 8v-178m2-21v158m2-17v-134m2 58v65m2 28v-53m2-7v81m2-22v-75m2-24v215m2-89v-76m2-67v153m2 5v-101m2-11v89m2 6v-164m2 54v99m2-11v-41m2-81v155m2 7v-70m2-30v84m2-30v-34m2-56v94m2 51v-128m2 33v75m2-35v-81m2-27v100m2 32v-100m2-20v103m2 9v-112m2 45v77m2-22v-80m2-5v69m2-4v-68m2-12v85m2 127v-159m2-51v117m2 26v-227m2 91v183m2-21v-142m2 22v68m2 9v-87m2-49v128m2-77v-52m2 43v102m2-14v-81m2-27v111m2-22v-98m2-11v156m2-69v-41m2-24v90m2-17v-82m2-32v178m2-22v-41"/>
</g></g>
<g fill="#262626" font-size="31">
<text x="116.8" y="828.9" text-anchor="middle">-1.5</text>
<text x="290.3" y="828.9" text-anchor="middle">-1</text>
<text x="465.1" y="828.9" text-anchor="middle">-0.5</text>
<text x="639.8" y="828.9" text-anchor="middle">0</text>
<text x="813.8" y="828.9" text-anchor="middle">0.5</text>
<text x="987.9" y="828.9" text-anchor="middle">1</text>
<text x="1163.1" y="828.9" text-anchor="middle">1.5</text>
<text x="103.4" y="797.7" text-anchor="end">-0.2</text>
<text x="103.4" y="687.5" text-anchor="end">0</text>
<text x="103.4" y="577.2" text-anchor="end">0.2</text>
<text x="103.4" y="467.0" text-anchor="end">0.4</text>
<text x="103.4" y="356.7" text-anchor="end">0.6</text>
<text x="103.4" y="246.5" text-anchor="end">0.8</text>
<text x="103.4" y="136.2" text-anchor="end">1</text>
<text x="103.4" y="26.0" text-anchor="end">1.2</text>
</g>
<text font-size="31" fill="#262626"><tspan x="1080" y="880.4" font-size="36.5">×</tspan><tspan x="1103.9" y="877.9">10</tspan><tspan x="1139.2" y="862.9" font-size="23">-</tspan><tspan x="1149.6" y="862.9" font-size="23">7</tspan></text>
<text x="639.3" y="873" font-size="33.5" fill="#262626" text-anchor="middle" textLength="272" lengthAdjust="spacing">Sampling Time /s</text>
<text transform="translate(30 400.3) rotate(-90)" font-size="33.5" fill="#262626" text-anchor="middle" textLength="453.5" lengthAdjust="spacing">Normalized Power / Power unit</text>
<rect x="163.9" y="46.4" width="458.2" height="90.3" fill="#fff" stroke="#262626" stroke-width="1.5"/>
<path d="M173.2 69 H269.8" stroke="#0072BD" stroke-width="1.4"/>
<path d="M173.2 110.5 H269.8" stroke="#D95319" stroke-width="1.4"/>
<text x="276.8" y="79.8" font-size="27.4" fill="#000" textLength="332.5" lengthAdjust="spacing">SWH=1,4,7,10,13,16,19m</text>
<text font-size="27.4" fill="#000"><tspan x="277.3" y="124.7" font-family="'Liberation Serif','DejaVu Serif',serif" font-style="italic" font-size="26.5">ξ</tspan><tspan x="290.5" y="124.7">=</tspan><tspan x="307.6" y="124.7">0.0</tspan><tspan x="349.6" y="111.4" font-size="20.8">0</tspan><tspan x="361.7" y="124.7">, </tspan><tspan x="377.3" y="124.7">0.2</tspan><tspan x="421.3" y="111.4" font-size="20.8">0</tspan><tspan x="433.4" y="124.7">, </tspan><tspan x="449.7" y="124.7">0.4</tspan><tspan x="492.0" y="111.4" font-size="20.8">0</tspan><tspan x="504.1" y="124.7">, </tspan><tspan x="521.0" y="124.7">0.6</tspan><tspan x="563.3" y="111.4" font-size="20.8">0</tspan></text>
</svg>
</body></html>
